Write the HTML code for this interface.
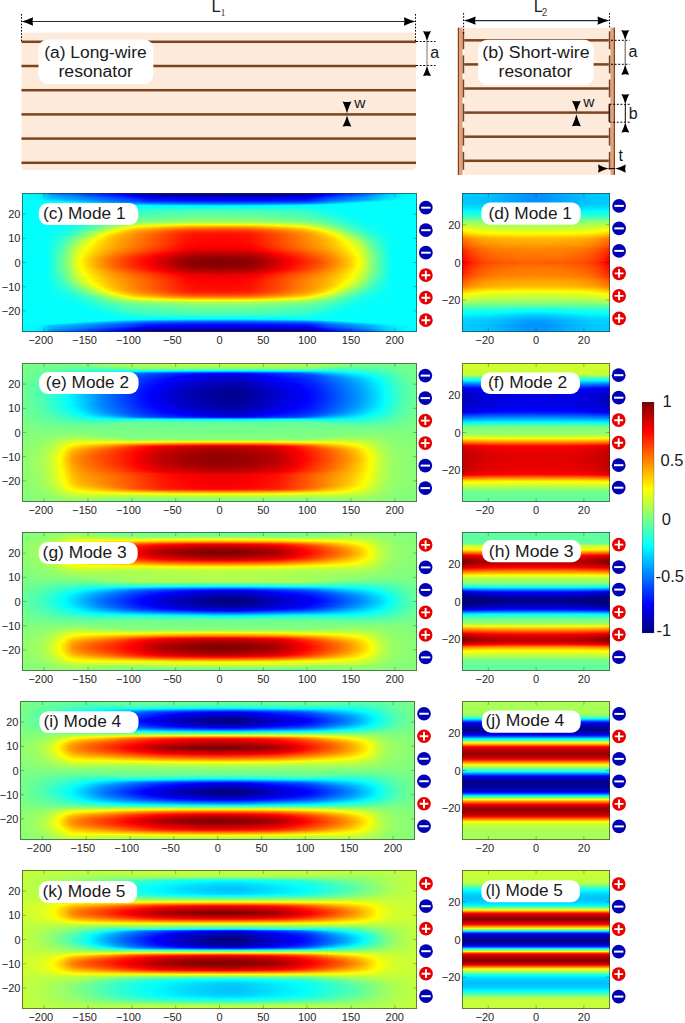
<!DOCTYPE html>
<html><head><meta charset="utf-8"><title>Resonator modes</title><style>
html,body{margin:0;padding:0;background:#fff}
body{width:685px;height:1023px;overflow:hidden;position:relative;font-family:"Liberation Sans",sans-serif}
.hm{position:absolute}
.hm i{display:block;height:1px}
svg.ov{position:absolute;left:0;top:0}
</style></head><body>

<div class="hm" style="left:22px;top:193px;width:395px;height:139px"><i style="background:linear-gradient(90deg,#00ffff 0,#00f6ff 12px,#00eaff 18px,#00d5ff 22px,#0099ff 28px,#0089ff 32px,#005bff 56px,#001fff 82px,#0000fd 100px,#0000dd 110px,#0000a9 124px,#00009b 132px,#00008b 178px,#00008d 242px,#00009d 284px,#0000ac 290px,#0000f6 304px,#0004ff 308px,#0058ff 338px,#0083ff 350px,#00cbff 366px,#00e6ff 376px,#00fdff 390px,#00ffff)"></i><i style="background:linear-gradient(90deg,#00ffff 0,#00f5ff 14px,#00ebff 18px,#00d6ff 22px,#009dff 28px,#008dff 32px,#005fff 56px,#0024ff 82px,#0000fc 102px,#0000ce 114px,#0000a9 126px,#00009f 134px,#000090 182px,#000094 244px,#0000a3 284px,#0000b2 290px,#0000fa 304px,#0008ff 308px,#005cff 338px,#0086ff 350px,#00cdff 366px,#00e9ff 376px,#00feff 390px,#00ffff)"></i><i style="background:linear-gradient(90deg,#00ffff 0,#00f5ff 14px,#00e9ff 20px,#00caff 24px,#00a8ff 28px,#0098ff 32px,#006fff 54px,#002fff 84px,#0005ff 104px,#0000fb 106px,#0000bc 124px,#0000b1 132px,#0000a0 180px,#0000a3 240px,#0000b4 284px,#0000c7 290px,#0001ff 302px,#0024ff 312px,#0072ff 342px,#009bff 352px,#00d3ff 366px,#00edff 378px,#00feff 392px,#00ffff)"></i><i style="background:linear-gradient(90deg,#00ffff 0,#00f5ff 16px,#00ecff 20px,#00b5ff 28px,#00a5ff 34px,#0082ff 54px,#0041ff 84px,#0017ff 104px,#0000ff 112px,#0000d4 126px,#0000ca 136px,#0000ba 184px,#0000bf 244px,#0000d1 286px,#0000e5 292px,#0000fe 296px,#0023ff 304px,#0086ff 342px,#00b5ff 356px,#00dcff 366px,#00faff 386px,#00ffff)"></i><i style="background:linear-gradient(90deg,#00ffff 0,#00f4ff 16px,#00eeff 20px,#00baff 28px,#00aaff 34px,#008cff 56px,#002eff 104px,#0000ff 120px,#0000ea 130px,#0000d8 176px,#0000d9 232px,#0000ec 284px,#0000f9 290px,#0007ff 292px,#0037ff 304px,#0080ff 334px,#00adff 352px,#00dfff 366px,#00faff 386px,#00ffff)"></i><i style="background:linear-gradient(90deg,#00ffff 0,#00f5ff 18px,#00e7ff 22px,#00bfff 28px,#00a3ff 46px,#005dff 88px,#003dff 106px,#0009ff 126px,#0000ff 138px,#0000f2 190px,#0000f9 254px,#0004ff 282px,#000dff 288px,#0049ff 304px,#009eff 344px,#00e3ff 366px,#00fbff 386px,#00ffff)"></i><i style="background:linear-gradient(90deg,#00ffff 0,#00f7ff 18px,#00e1ff 24px,#00cfff 30px,#006fff 80px,#0046ff 106px,#0014ff 126px,#0009ff 142px,#0000fe 192px,#0006ff 256px,#0011ff 286px,#0029ff 294px,#0051ff 304px,#009dff 340px,#00e7ff 364px,#00f9ff 380px,#00ffff)"></i><i style="background:linear-gradient(90deg,#00ffff 0,#00fbff 20px,#0075ff 86px,#004cff 108px,#0020ff 126px,#0015ff 142px,#000bff 196px,#0013ff 258px,#0020ff 286px,#003eff 296px,#0062ff 306px,#00bdff 344px,#00f2ff 364px,#00fdff 378px,#00ffff)"></i><i style="background:linear-gradient(90deg,#00ffff 0,#00fdff 36px,#00e6ff 46px,#00baff 64px,#005bff 110px,#0037ff 126px,#0025ff 162px,#0021ff 212px,#002fff 266px,#003cff 286px,#0059ff 296px,#007eff 306px,#00d5ff 342px,#00f9ff 356px,#00ffff 364px,#00ffff)"></i><i style="background:linear-gradient(90deg,#00ffff 0,#00fdff 50px,#00d7ff 66px,#00a9ff 86px,#005aff 128px,#0047ff 170px,#0044ff 218px,#0055ff 268px,#0062ff 286px,#0083ff 298px,#00a7ff 310px,#00fbff 344px,#01fffe 352px,#00ffff)"></i><i style="background:linear-gradient(90deg,#00ffff 0,#00fdff 66px,#00e8ff 78px,#00afff 102px,#0083ff 128px,#0070ff 172px,#006fff 220px,#0082ff 272px,#008eff 288px,#00b8ff 302px,#00f0ff 322px,#00ffff 332px,#00ffff)"></i><i style="background:linear-gradient(90deg,#00ffff 0,#00fdff 84px,#00c2ff 124px,#00a9ff 158px,#009fff 198px,#00a9ff 238px,#00c7ff 280px,#00d7ff 292px,#00faff 308px,#00ffff 320px,#00ffff)"></i><i style="background:linear-gradient(90deg,#00ffff 0,#00fcff 118px,#00e5ff 178px,#00e6ff 222px,#01fffe 290px,#00ffff)"></i><i style="background:linear-gradient(90deg,#00ffff 0,#03fffc 104px,#06fff9 118px,#00ffff 138px,#01fffe 268px,#05fffa 280px,#01fffe 358px,#00ffff)"></i><i style="background:linear-gradient(90deg,#00ffff 0,#03fffc 94px,#0afff5 110px,#0efff1 118px,#09fff6 138px,#09fff6 268px,#0cfff3 280px,#03fffc 302px,#00ffff)"></i><i style="background:linear-gradient(90deg,#00ffff 0,#03fffc 86px,#0efff1 108px,#18ffe7 120px,#1effe1 214px,#16ffe9 280px,#07fff8 298px,#00ffff 334px,#00ffff)"></i><i style="background:linear-gradient(90deg,#00ffff 0,#03fffc 82px,#11ffee 102px,#26ffd9 120px,#33ffcc 180px,#2fffd0 246px,#23ffdc 280px,#0cfff3 298px,#01fffe 324px,#00ffff)"></i><i style="background:linear-gradient(90deg,#00ffff 0,#04fffb 78px,#11ffee 96px,#28ffd7 112px,#33ffcc 122px,#42ffbd 174px,#3fffc0 240px,#2fffd0 278px,#0cfff3 302px,#01fffe 326px,#00ffff)"></i><i style="background:linear-gradient(90deg,#00ffff 0,#03fffc 74px,#12ffed 92px,#37ffc8 116px,#4bffb4 170px,#48ffb7 238px,#35ffca 282px,#0dfff2 306px,#01fffe 326px,#00ffff)"></i><i style="background:linear-gradient(90deg,#00ffff 0,#04fffb 72px,#14ffeb 90px,#3dffc2 114px,#52ffad 174px,#4fffb0 236px,#3bffc4 282px,#0dfff2 310px,#02fffd 328px,#00ffff)"></i><i style="background:linear-gradient(90deg,#00ffff 0,#04fffb 70px,#12ffed 84px,#3fffc0 112px,#58ffa7 168px,#56ffa9 234px,#3fffc0 284px,#1affe5 306px,#05fffa 322px,#01fffe 354px,#00ffff)"></i><i style="background:linear-gradient(90deg,#00ffff 0,#04fffb 66px,#10ffef 80px,#42ffbd 108px,#50ffaf 134px,#5effa1 176px,#5bffa4 236px,#44ffbb 284px,#29ffd6 302px,#09fff6 320px,#01fffe 342px,#00ffff)"></i><i style="background:linear-gradient(90deg,#00ffff 0,#04fffb 64px,#12ffed 78px,#41ffbe 104px,#4fffb0 120px,#64ff9b 174px,#61ff9e 234px,#48ffb7 286px,#2effd1 302px,#0cfff3 322px,#02fffd 338px,#00ffff)"></i><i style="background:linear-gradient(90deg,#00ffff 0,#04fffb 60px,#10ffef 74px,#42ffbd 100px,#54ffab 118px,#6aff95 174px,#68ff97 234px,#4effb1 284px,#35ffca 302px,#0bfff4 324px,#01fffe 342px,#00ffff)"></i><i style="background:linear-gradient(90deg,#00ffff 0,#04fffb 60px,#11ffee 72px,#45ffba 98px,#5affa5 118px,#72ff8d 174px,#70ff8f 232px,#54ffab 284px,#39ffc6 304px,#0efff1 324px,#03fffc 338px,#00ffff)"></i><i style="background:linear-gradient(90deg,#00ffff 0,#04fffb 56px,#10ffef 70px,#49ffb6 96px,#61ff9e 118px,#7bff84 172px,#79ff86 232px,#5affa5 284px,#3effc1 304px,#0efff1 326px,#02fffd 344px,#00ffff)"></i><i style="background:linear-gradient(90deg,#00ffff 0,#05fffa 54px,#12ffed 68px,#4cffb3 94px,#69ff96 118px,#85ff7a 172px,#82ff7d 232px,#62ff9d 284px,#45ffba 304px,#12ffed 326px,#04fffb 342px,#00ffff)"></i><i style="background:linear-gradient(90deg,#00ffff 0,#04fffb 52px,#11ffee 66px,#30ffcf 78px,#54ffab 94px,#72ff8d 116px,#90ff6f 172px,#8eff71 230px,#6eff91 282px,#51ffae 302px,#30ffcf 316px,#11ffee 330px,#04fffb 344px,#00ffff)"></i><i style="background:linear-gradient(90deg,#00ffff 0,#04fffb 48px,#11ffee 62px,#2bffd4 74px,#4fffb0 88px,#68ff97 100px,#6eff91 104px,#7aff85 112px,#7dff82 116px,#80ff7f 118px,#80ff7f 122px,#9dff62 172px,#9cff63 228px,#7eff81 276px,#7eff81 278px,#78ff87 282px,#75ff8a 286px,#67ff98 294px,#63ff9c 296px,#49ffb6 310px,#16ffe9 330px,#05fffa 344px,#00ffff 390px,#00ffff)"></i><i style="background:linear-gradient(90deg,#00ffff 0,#04fffb 46px,#12ffed 60px,#29ffd6 72px,#4effb1 84px,#6dff92 96px,#72ff8d 100px,#7bff84 104px,#85ff7a 110px,#8aff75 112px,#8aff75 114px,#92ff6d 118px,#90ff6f 120px,#94ff6b 126px,#92ff6d 128px,#afff50 170px,#aeff51 226px,#91ff6e 268px,#93ff6c 270px,#8fff70 276px,#91ff6e 278px,#88ff77 282px,#87ff78 284px,#7cff83 288px,#7bff84 290px,#73ff8c 294px,#72ff8d 296px,#4bffb4 312px,#1bffe4 330px,#08fff7 344px,#00ffff 372px,#00ffff)"></i><i style="background:linear-gradient(90deg,#00ffff 0,#04fffb 42px,#11ffee 58px,#27ffd8 68px,#57ffa8 84px,#6dff92 92px,#74ff8b 94px,#7bff84 96px,#7dff82 98px,#84ff7b 100px,#85ff7a 102px,#8fff70 106px,#92ff6d 108px,#9eff61 112px,#a3ff5c 114px,#aaff55 118px,#aaff55 122px,#d0ff2f 170px,#d0ff2f 224px,#b6ff49 258px,#a7ff58 276px,#a9ff56 278px,#9dff62 282px,#9bff64 284px,#8eff71 288px,#8cff73 290px,#82ff7d 294px,#80ff7f 296px,#7aff85 298px,#77ff88 300px,#6dff92 302px,#66ff99 306px,#47ffb8 316px,#1dffe2 330px,#09fff6 344px,#00ffff 372px,#00ffff)"></i><i style="background:linear-gradient(90deg,#00ffff 0,#04fffb 40px,#13ffec 56px,#2effd1 68px,#62ff9d 84px,#77ff88 90px,#8bff74 96px,#8eff71 98px,#96ff69 100px,#99ff66 102px,#a4ff5b 106px,#acff53 108px,#c3ff3c 116px,#faff05 166px,#feff01 210px,#f7ff08 232px,#c0ff3f 280px,#acff53 286px,#95ff6a 294px,#92ff6d 296px,#8bff74 298px,#87ff78 300px,#7bff84 302px,#77ff88 304px,#51ffae 316px,#23ffdc 330px,#0bfff4 344px,#00ffff 368px,#00ffff)"></i><i style="background:linear-gradient(90deg,#00ffff 0,#04fffb 38px,#12ffed 54px,#2dffd2 66px,#5bffa4 78px,#7dff82 88px,#87ff78 90px,#aaff55 100px,#b7ff48 104px,#deff21 116px,#fffd00 140px,#ffdc00 168px,#ffd900 212px,#ffe000 232px,#fcff03 258px,#dbff24 280px,#abff54 294px,#95ff6a 300px,#7eff81 306px,#74ff8b 310px,#5bffa4 316px,#2affd5 330px,#0efff1 344px,#01fffe 364px,#00ffff)"></i><i style="background:linear-gradient(90deg,#00ffff 0,#04fffb 36px,#11ffee 50px,#2bffd4 62px,#4effb1 72px,#7dff82 84px,#88ff77 86px,#f8ff07 114px,#fffd00 118px,#ffbd00 160px,#ffb300 176px,#ffb300 218px,#ffbc00 234px,#fffb00 276px,#faff05 280px,#c8ff37 292px,#73ff8c 314px,#35ffca 330px,#16ffe9 342px,#06fff9 356px,#00ffff 380px,#00ffff)"></i><i style="background:linear-gradient(90deg,#00ffff 0,#03fffc 34px,#11ffee 48px,#2affd5 60px,#4cffb3 70px,#7aff85 80px,#fffe00 110px,#ffe600 116px,#ffa200 156px,#ff9000 170px,#ff8d00 212px,#ff9500 230px,#ffcc00 264px,#ffec00 280px,#fffe00 286px,#a6ff59 306px,#74ff8b 316px,#41ffbe 328px,#1dffe2 340px,#0afff5 352px,#00ffff 374px,#00ffff)"></i><i style="background:linear-gradient(90deg,#00ffff 0,#03fffc 32px,#13ffec 48px,#2bffd4 58px,#4bffb4 66px,#73ff8c 76px,#fdff02 104px,#ffd400 114px,#ff9600 146px,#ff7400 168px,#ff6d00 202px,#ff7500 228px,#ffa600 258px,#ffd400 280px,#fdff02 292px,#82ff7d 316px,#52ffad 326px,#28ffd7 338px,#0efff1 350px,#00ffff 370px,#00ffff)"></i><i style="background:linear-gradient(90deg,#00ffff 0,#03fffc 30px,#13ffec 46px,#2fffd0 56px,#55ffaa 66px,#81ff7e 76px,#fdff02 98px,#ffe200 106px,#ffbf00 114px,#ff7700 148px,#ff5800 168px,#ff5100 202px,#ff5900 228px,#ff8a00 256px,#ffc200 282px,#fff300 294px,#fdff02 296px,#81ff7e 320px,#4bffb4 330px,#1dffe2 344px,#0afff5 356px,#00ffff 374px,#00ffff)"></i><i style="background:linear-gradient(90deg,#00ffff 0,#03fffc 30px,#17ffe8 46px,#2fffd0 54px,#60ff9f 66px,#90ff6f 76px,#fcff03 94px,#ffe500 100px,#ffbf00 110px,#ffa700 118px,#ff5700 156px,#ff4200 170px,#ff3d00 206px,#ff4500 228px,#ff7600 256px,#ffb400 282px,#ffdf00 294px,#fffd00 300px,#dcff23 306px,#69ff96 326px,#36ffc9 338px,#17ffe8 350px,#03fffc 366px,#00ffff)"></i><i style="background:linear-gradient(90deg,#00ffff 0,#03fffc 28px,#18ffe7 44px,#37ffc8 54px,#6cff93 66px,#acff53 78px,#feff01 92px,#ffca00 102px,#ffa000 114px,#ff4600 156px,#ff3200 170px,#ff2d00 206px,#ff3500 228px,#ff6600 254px,#ffa600 282px,#ffce00 294px,#feff01 304px,#a6ff59 318px,#6cff93 328px,#33ffcc 342px,#18ffe7 350px,#03fffc 366px,#00ffff)"></i><i style="background:linear-gradient(90deg,#00ffff 0,#02fffd 28px,#18ffe7 42px,#33ffcc 52px,#6dff92 64px,#b6ff49 76px,#fffe00 88px,#ffc900 100px,#ffa400 110px,#ff7400 130px,#ff3100 160px,#ff2300 172px,#ff2000 208px,#ff2800 228px,#ff5700 254px,#ffa100 284px,#ffc000 294px,#fff900 306px,#fffe00 306px,#a3ff5c 322px,#6dff92 330px,#2fffd0 344px,#14ffeb 354px,#00ffff 370px,#00ffff)"></i><i style="background:linear-gradient(90deg,#00ffff 0,#03fffc 28px,#19ffe6 42px,#35ffca 50px,#80ff7f 66px,#feff01 86px,#ffce00 96px,#ffab00 104px,#ff8700 118px,#ff2e00 156px,#ff1a00 170px,#ff1400 204px,#ff1d00 228px,#ff4e00 254px,#ffa100 288px,#ffc400 298px,#ffef00 306px,#feff01 310px,#7aff85 330px,#35ffca 344px,#17ffe8 354px,#01fffe 370px,#00ffff)"></i><i style="background:linear-gradient(90deg,#00ffff 0,#02fffd 26px,#1dffe2 42px,#3dffc2 50px,#8dff72 66px,#ffff00 84px,#ffd900 90px,#ffac00 102px,#ff8100 118px,#ff2600 158px,#ff1300 170px,#ff0e00 206px,#ff1700 228px,#ff4600 252px,#ff9d00 288px,#ffcf00 302px,#ffff00 312px,#b9ff46 322px,#6bff94 336px,#30ffcf 348px,#14ffeb 358px,#01fffe 370px,#00ffff)"></i><i style="background:linear-gradient(90deg,#00ffff 0,#03fffc 26px,#1effe1 40px,#3bffc4 48px,#8eff71 64px,#faff05 80px,#fff700 82px,#ffcf00 90px,#ffa300 102px,#ff6e00 124px,#ff2000 160px,#ff1000 172px,#ff0b00 208px,#ff1400 228px,#ff4400 252px,#ffa100 292px,#ffc600 302px,#fffc00 314px,#d5ff2a 320px,#76ff89 336px,#36ffc9 348px,#16ffe9 358px,#01fffe 370px,#00ffff)"></i><i style="background:linear-gradient(90deg,#00ffff 0,#03fffc 26px,#22ffdd 40px,#42ffbd 48px,#baff45 68px,#fbff04 78px,#fff800 80px,#ffd900 86px,#ffb500 96px,#ff8b00 110px,#ff1a00 162px,#ff0d00 174px,#ff0a00 208px,#ff1200 228px,#ff4200 252px,#ffa200 294px,#ffcf00 306px,#fffd00 316px,#e2ff1d 320px,#5effa1 342px,#30ffcf 350px,#10ffef 362px,#00ffff 372px,#00ffff)"></i><i style="background:linear-gradient(90deg,#00ffff 0,#02fffd 26px,#20ffdf 38px,#44ffbb 48px,#fffe00 78px,#ffd100 86px,#ffaa00 98px,#ff7800 118px,#ff1900 162px,#ff0c00 174px,#ff0800 208px,#ff1100 228px,#ff4000 252px,#ff8500 282px,#ffb000 300px,#ffd900 310px,#fffe00 318px,#44ffbb 348px,#20ffdf 356px,#02fffd 370px,#00ffff)"></i><i style="background:linear-gradient(90deg,#00ffff 0,#02fffd 26px,#20ffdf 38px,#45ffba 46px,#feff01 76px,#ffcb00 86px,#ffa200 100px,#ff1700 162px,#ff0b00 174px,#ff0700 208px,#ff1000 228px,#ff3f00 252px,#ff8400 282px,#ffb300 302px,#ffe100 314px,#feff01 320px,#45ffba 348px,#20ffdf 358px,#02fffd 370px,#00ffff)"></i><i style="background:linear-gradient(90deg,#00ffff 0,#03fffc 26px,#23ffdc 38px,#4bffb4 46px,#e3ff1c 70px,#fffd00 74px,#ffca00 86px,#ff9d00 100px,#ff4a00 138px,#ff1000 166px,#ff0700 182px,#ff0800 216px,#ff1000 230px,#ff4a00 258px,#ff8300 282px,#ffb000 302px,#ffdb00 314px,#fffd00 320px,#b7ff48 332px,#46ffb9 350px,#20ffdf 358px,#03fffc 370px,#00ffff)"></i><i style="background:linear-gradient(90deg,#00ffff 0,#03fffc 26px,#23ffdc 36px,#4cffb3 46px,#d4ff2b 66px,#fdff02 72px,#ffc700 86px,#ff9c00 100px,#ff4c00 136px,#ff1100 164px,#ff0700 178px,#ff0600 212px,#ff0e00 228px,#ff3e00 252px,#ff8200 282px,#ffb300 304px,#ffde00 316px,#fdff02 322px,#adff52 336px,#4cffb3 350px,#23ffdc 358px,#03fffc 370px,#00ffff)"></i><i style="background:linear-gradient(90deg,#00ffff 0,#02fffd 24px,#18ffe7 32px,#41ffbe 42px,#6dff92 50px,#bdff42 60px,#ffff00 72px,#ffce00 82px,#ffa400 96px,#ff4b00 136px,#ff0f00 164px,#ff0600 178px,#ff0500 212px,#ff0d00 228px,#ff3d00 252px,#ff8100 282px,#ffb100 304px,#ffde00 316px,#ffff00 324px,#b6ff49 336px,#52ffad 350px,#26ffd9 358px,#05fffa 368px,#00ffff 376px,#00ffff)"></i><i style="background:linear-gradient(90deg,#00ffff 0,#02fffd 24px,#1affe5 32px,#41ffbe 42px,#6cff93 48px,#bfff40 60px,#ffff00 70px,#ffcf00 82px,#ffa300 96px,#ff4c00 136px,#ff0e00 164px,#ff0500 178px,#ff0300 212px,#ff0b00 228px,#ff3b00 252px,#ff7e00 282px,#ffb300 304px,#ffde00 318px,#ffff00 324px,#bfff40 336px,#51ffae 350px,#25ffda 360px,#03fffc 370px,#00ffff 380px,#00ffff)"></i><i style="background:linear-gradient(90deg,#00ffff 0,#02fffd 24px,#17ffe8 32px,#45ffba 42px,#72ff8d 48px,#bfff40 58px,#fbff04 68px,#fff900 70px,#ffcd00 82px,#ffa100 96px,#ff4a00 136px,#ff0c00 164px,#ff0200 178px,#ff0200 218px,#ff0c00 230px,#ff5200 262px,#ffa900 302px,#ffcf00 314px,#fffe00 326px,#c6ff39 336px,#82ff7d 344px,#50ffaf 352px,#24ffdb 360px,#04fffb 370px,#00ffff 378px,#00ffff)"></i><i style="background:linear-gradient(90deg,#00ffff 0,#02fffd 24px,#19ffe6 32px,#49ffb6 42px,#78ff87 48px,#c6ff39 58px,#ffff00 68px,#ffcc00 80px,#ff9f00 96px,#ff4800 136px,#ff0900 164px,#ff0000 178px,#fd0000 212px,#ff0500 228px,#ff2600 244px,#ff7d00 282px,#ffaf00 304px,#ffdb00 318px,#ffff00 326px,#c6ff39 336px,#5bffa4 350px,#2affd5 360px,#06fff9 368px,#00ffff 374px,#00ffff)"></i><i style="background:linear-gradient(90deg,#00ffff 0,#02fffd 24px,#1bffe4 32px,#4dffb2 42px,#7dff82 48px,#c6ff39 58px,#ffff00 68px,#ffd200 78px,#ffaa00 92px,#ff4100 138px,#ff0600 164px,#fd0000 174px,#fa0000 208px,#ff0200 228px,#ff2300 244px,#ff7a00 282px,#ffad00 304px,#ffd800 318px,#ffff00 328px,#c6ff39 338px,#60ff9f 350px,#2dffd2 360px,#07fff8 368px,#00ffff 374px,#00ffff)"></i><i style="background:linear-gradient(90deg,#00ffff 0,#02fffd 24px,#17ffe8 30px,#50ffaf 42px,#82ff7d 48px,#cbff34 58px,#feff01 66px,#ffd300 78px,#ffa700 92px,#ff4000 136px,#ff0300 164px,#f70000 182px,#f80000 216px,#ff0300 230px,#ff4700 262px,#ffa300 302px,#ffcb00 316px,#fffb00 328px,#f9ff06 330px,#c4ff3b 338px,#64ff9b 350px,#2fffd0 360px,#07fff8 368px,#00ffff 374px,#00ffff)"></i><i style="background:linear-gradient(90deg,#00ffff 0,#02fffd 24px,#18ffe7 30px,#53ffac 42px,#87ff78 48px,#d0ff2f 58px,#fdff02 66px,#ffd200 76px,#ffa400 92px,#ff3d00 136px,#ff0000 164px,#f50000 176px,#f20000 210px,#fb0000 228px,#ff0400 234px,#ff4c00 264px,#ffa000 302px,#ffc800 316px,#fff700 328px,#fdff02 330px,#c9ff36 338px,#67ff98 350px,#31ffce 360px,#08fff7 368px,#00ffff 374px,#00ffff)"></i><i style="background:linear-gradient(90deg,#00ffff 0,#02fffd 24px,#1affe5 30px,#56ffa9 42px,#8bff74 48px,#d5ff2a 58px,#fcff03 64px,#ffef00 68px,#ffc100 80px,#ff8a00 100px,#ff4200 132px,#fe0000 162px,#f10000 172px,#ed0000 206px,#f60000 228px,#ff0300 236px,#ff5000 268px,#ff9900 300px,#ffc500 316px,#fff300 328px,#fcff03 330px,#ceff31 338px,#64ff9b 352px,#33ffcc 360px,#08fff7 368px,#00ffff 374px,#00ffff)"></i><i style="background:linear-gradient(90deg,#00ffff 0,#03fffc 24px,#1bffe4 30px,#59ffa6 42px,#8eff71 48px,#d2ff2d 56px,#fbff04 64px,#fff900 66px,#ffcb00 76px,#ff9c00 92px,#ff5d00 118px,#ff3b00 134px,#fd0000 160px,#ec0000 172px,#e70000 206px,#f00000 228px,#ff0200 238px,#ff5d00 276px,#ff8b00 296px,#ffae00 310px,#ffd600 322px,#ffff00 330px,#d9ff26 338px,#97ff68 346px,#60ff9f 352px,#2bffd4 362px,#08fff7 368px,#00ffff 374px,#00ffff)"></i><i style="background:linear-gradient(90deg,#00ffff 0,#03fffc 24px,#1bffe4 30px,#5cffa3 42px,#92ff6d 48px,#d6ff29 56px,#ffff00 64px,#ffd200 74px,#ffa300 88px,#ff7400 106px,#ff3a00 132px,#fe0000 156px,#e70000 168px,#df0000 200px,#e80000 228px,#ff0200 240px,#ff5600 276px,#ff7c00 292px,#ff9e00 306px,#ffc100 316px,#fff100 328px,#ffff00 332px,#d6ff29 338px,#6aff95 352px,#37ffc8 360px,#09fff6 368px,#00ffff 372px,#00ffff)"></i><i style="background:linear-gradient(90deg,#00ffff 0,#03fffc 24px,#1cffe3 30px,#5effa1 42px,#95ff6a 48px,#d9ff26 56px,#fdff02 62px,#ffc300 76px,#ff9200 92px,#ff4f00 118px,#ff2000 138px,#fd0000 152px,#dc0000 168px,#d30000 196px,#db0000 226px,#f60000 240px,#ff0300 246px,#ff4f00 276px,#ff8d00 302px,#ffb800 316px,#ffed00 328px,#fdff02 332px,#d2ff2d 340px,#6cff93 352px,#38ffc7 360px,#09fff6 368px,#00ffff 372px,#00ffff)"></i><i style="background:linear-gradient(90deg,#00ffff 0,#01fffe 24px,#12ffed 28px,#59ffa6 40px,#98ff67 48px,#ddff22 56px,#fcff03 62px,#fff400 64px,#ffca00 74px,#ff8c00 92px,#ff4600 118px,#ff0000 146px,#d20000 166px,#c80000 180px,#c70000 212px,#d00000 228px,#f80000 246px,#ff0200 250px,#ff5500 282px,#ff8f00 304px,#ffc300 320px,#ffee00 330px,#fffd00 332px,#e4ff1b 338px,#aaff55 344px,#67ff98 352px,#2fffd0 362px,#09fff6 368px,#00ffff 372px,#00ffff)"></i><i style="background:linear-gradient(90deg,#00ffff 0,#01fffe 24px,#13ffec 28px,#5bffa4 40px,#9aff65 48px,#e0ff1f 56px,#fffe00 62px,#ffc600 74px,#ff8600 92px,#ff3d00 118px,#fd0000 142px,#c50000 166px,#bc0000 178px,#ba0000 210px,#c30000 228px,#ec0000 246px,#ff0100 254px,#ff4c00 282px,#ff8d00 306px,#ffbe00 320px,#ffea00 330px,#fffe00 334px,#d9ff26 340px,#71ff8e 352px,#3bffc4 360px,#09fff6 368px,#00ffff 372px,#00ffff)"></i><i style="background:linear-gradient(90deg,#00ffff 0,#01fffe 24px,#13ffec 28px,#5cffa3 40px,#94ff6b 48px,#e4ff1b 56px,#fdff02 60px,#ffc100 74px,#ff7f00 92px,#ff3400 118px,#ff0000 138px,#bc0000 164px,#b20000 176px,#af0000 208px,#b80000 228px,#d80000 242px,#ff0000 258px,#ff7600 300px,#ffae00 316px,#ffe100 328px,#fdff02 334px,#d4ff2b 340px,#73ff8c 352px,#3cffc3 360px,#0afff5 368px,#00ffff 372px,#00ffff)"></i><i style="background:linear-gradient(90deg,#00ffff 0,#01fffe 24px,#13ffec 28px,#5effa1 40px,#96ff69 48px,#e7ff18 56px,#fffd00 60px,#ffc600 72px,#ff8700 88px,#ff3e00 112px,#ff0000 134px,#b40000 164px,#a90000 174px,#a50000 206px,#ae0000 228px,#cc0000 242px,#ff0000 260px,#ff7000 300px,#ffb000 318px,#ffed00 332px,#fffd00 334px,#dfff20 340px,#74ff8b 352px,#3dffc2 360px,#0afff5 368px,#00ffff 372px,#00ffff)"></i><i style="background:linear-gradient(90deg,#00ffff 0,#01fffe 24px,#14ffeb 28px,#5fffa0 40px,#98ff67 48px,#eaff15 56px,#fdff02 60px,#ffbd00 72px,#ff7700 90px,#ff3000 114px,#fe0000 132px,#b00000 162px,#a10000 172px,#9b0000 204px,#a50000 228px,#c40000 242px,#ff0200 264px,#ff6700 300px,#ffa400 316px,#ffdf00 330px,#fdff02 336px,#d9ff26 340px,#76ff89 352px,#3effc1 360px,#0afff5 368px,#00ffff 372px,#00ffff)"></i><i style="background:linear-gradient(90deg,#00ffff 0,#01fffe 24px,#14ffeb 28px,#60ff9f 40px,#99ff66 48px,#ecff13 56px,#fffe00 60px,#ffc200 70px,#ff7900 88px,#ff3500 110px,#fe0000 130px,#b00000 158px,#9c0000 170px,#940000 200px,#9d0000 226px,#b80000 240px,#ff0200 266px,#ff6100 300px,#ffa000 316px,#ffdb00 330px,#fffe00 336px,#e5ff1a 340px,#77ff88 352px,#3fffc0 360px,#0afff5 368px,#00ffff 372px,#00ffff)"></i><i style="background:linear-gradient(90deg,#00ffff 0,#01fffe 24px,#14ffeb 28px,#61ff9e 40px,#9bff64 48px,#efff10 56px,#fdff02 58px,#ffb600 72px,#ff6d00 90px,#ff2b00 112px,#ff0000 128px,#ad0000 158px,#960000 170px,#8e0000 200px,#970000 226px,#b20000 240px,#ff0000 266px,#ff5900 298px,#ff9c00 316px,#ffd800 330px,#fdff02 336px,#ccff33 342px,#80ff7f 350px,#3fffc0 360px,#0afff5 368px,#00ffff 372px,#00ffff)"></i><i style="background:linear-gradient(90deg,#00ffff 0,#01fffe 24px,#14ffeb 28px,#62ff9d 40px,#9cff63 48px,#f0ff0f 56px,#ffff00 58px,#ffbc00 70px,#ff7100 88px,#ff2c00 110px,#fe0000 128px,#ae0000 156px,#920000 168px,#890000 198px,#920000 226px,#ae0000 240px,#ff0200 268px,#ff5600 298px,#ff9400 316px,#ffd600 330px,#ffff00 336px,#d7ff28 342px,#81ff7e 350px,#40ffbf 360px,#0afff5 368px,#00ffff 372px,#00ffff)"></i><i style="background:linear-gradient(90deg,#00ffff 0,#01fffe 24px,#15ffea 28px,#63ff9c 40px,#9dff62 48px,#f2ff0d 56px,#fffe00 58px,#ffba00 70px,#ff6f00 88px,#ff2a00 110px,#fe0000 126px,#ac0000 154px,#8f0000 168px,#850000 192px,#8c0000 224px,#9f0000 236px,#ee0000 264px,#ff0100 270px,#ff5300 298px,#ff9200 316px,#ffd400 330px,#fffe00 336px,#e1ff1e 340px,#82ff7d 350px,#40ffbf 360px,#0afff5 368px,#00ffff 372px,#00ffff)"></i><i style="background:linear-gradient(90deg,#00ffff 0,#01fffe 24px,#0ffff0 28px,#63ff9c 40px,#9eff61 48px,#f3ff0c 56px,#fffd00 58px,#ffbe00 70px,#ff7100 88px,#ff2a00 110px,#fe0000 126px,#a70000 156px,#8b0000 168px,#810000 198px,#8b0000 226px,#a70000 240px,#f50000 266px,#ff0200 270px,#ff5500 300px,#ff9500 316px,#ffd800 330px,#fffd00 336px,#ebff14 340px,#7aff85 352px,#41ffbe 360px,#0afff5 368px,#00ffff 372px,#00ffff)"></i><i style="background:linear-gradient(90deg,#00ffff 0,#01fffe 24px,#0ffff0 28px,#63ff9c 40px,#9eff61 48px,#f3ff0c 56px,#fffd00 58px,#ffbe00 70px,#ff7000 88px,#ff2a00 110px,#fd0000 126px,#ad0000 152px,#8c0000 166px,#820000 182px,#820000 212px,#8c0000 228px,#b30000 244px,#ff0100 270px,#ff5400 300px,#ff9400 316px,#ffd800 330px,#fffd00 336px,#ebff14 340px,#7bff84 352px,#41ffbe 360px,#0afff5 368px,#00ffff 372px,#00ffff)"></i><i style="background:linear-gradient(90deg,#00ffff 0,#01fffe 24px,#0ffff0 28px,#63ff9c 40px,#9eff61 48px,#f3ff0c 56px,#fffd00 58px,#ffbe00 70px,#ff7100 88px,#ff2a00 110px,#fe0000 126px,#a70000 156px,#8b0000 168px,#810000 198px,#8b0000 226px,#a70000 240px,#f50000 266px,#ff0200 270px,#ff5500 300px,#ff9500 316px,#ffd800 330px,#fffd00 336px,#ebff14 340px,#7aff85 352px,#41ffbe 360px,#0afff5 368px,#00ffff 372px,#00ffff)"></i><i style="background:linear-gradient(90deg,#00ffff 0,#01fffe 24px,#15ffea 28px,#63ff9c 40px,#9dff62 48px,#f2ff0d 56px,#fffe00 58px,#ffba00 70px,#ff6f00 88px,#ff2a00 110px,#fe0000 126px,#ac0000 154px,#8f0000 168px,#850000 192px,#8c0000 224px,#9f0000 236px,#ee0000 264px,#ff0100 270px,#ff5300 298px,#ff9200 316px,#ffd400 330px,#fffe00 336px,#e1ff1e 340px,#82ff7d 350px,#40ffbf 360px,#0afff5 368px,#00ffff 372px,#00ffff)"></i><i style="background:linear-gradient(90deg,#00ffff 0,#01fffe 24px,#14ffeb 28px,#62ff9d 40px,#9cff63 48px,#f0ff0f 56px,#ffff00 58px,#ffbc00 70px,#ff7100 88px,#ff2c00 110px,#fe0000 128px,#ae0000 156px,#920000 168px,#890000 198px,#920000 226px,#ae0000 240px,#ff0200 268px,#ff5600 298px,#ff9400 316px,#ffd600 330px,#ffff00 336px,#d7ff28 342px,#81ff7e 350px,#40ffbf 360px,#0afff5 368px,#00ffff 372px,#00ffff)"></i><i style="background:linear-gradient(90deg,#00ffff 0,#01fffe 24px,#14ffeb 28px,#61ff9e 40px,#9bff64 48px,#efff10 56px,#fdff02 58px,#ffb600 72px,#ff6d00 90px,#ff2b00 112px,#ff0000 128px,#ad0000 158px,#960000 170px,#8e0000 200px,#970000 226px,#b20000 240px,#ff0000 266px,#ff5900 298px,#ff9c00 316px,#ffd800 330px,#fdff02 336px,#ccff33 342px,#80ff7f 350px,#3fffc0 360px,#0afff5 368px,#00ffff 372px,#00ffff)"></i><i style="background:linear-gradient(90deg,#00ffff 0,#01fffe 24px,#14ffeb 28px,#60ff9f 40px,#99ff66 48px,#ecff13 56px,#fffe00 60px,#ffc200 70px,#ff7900 88px,#ff3500 110px,#fe0000 130px,#b00000 158px,#9c0000 170px,#940000 200px,#9d0000 226px,#b80000 240px,#ff0200 266px,#ff6100 300px,#ffa000 316px,#ffdb00 330px,#fffe00 336px,#e5ff1a 340px,#77ff88 352px,#3fffc0 360px,#0afff5 368px,#00ffff 372px,#00ffff)"></i><i style="background:linear-gradient(90deg,#00ffff 0,#01fffe 24px,#14ffeb 28px,#5fffa0 40px,#98ff67 48px,#eaff15 56px,#fdff02 60px,#ffbd00 72px,#ff7700 90px,#ff3000 114px,#fe0000 132px,#b00000 162px,#a10000 172px,#9b0000 204px,#a50000 228px,#c40000 242px,#ff0200 264px,#ff6700 300px,#ffa400 316px,#ffdf00 330px,#fdff02 336px,#d9ff26 340px,#76ff89 352px,#3effc1 360px,#0afff5 368px,#00ffff 372px,#00ffff)"></i><i style="background:linear-gradient(90deg,#00ffff 0,#01fffe 24px,#13ffec 28px,#5effa1 40px,#96ff69 48px,#e7ff18 56px,#fffd00 60px,#ffc600 72px,#ff8700 88px,#ff3e00 112px,#ff0000 134px,#b40000 164px,#a90000 174px,#a50000 206px,#ae0000 228px,#cc0000 242px,#ff0000 260px,#ff7000 300px,#ffb000 318px,#ffed00 332px,#fffd00 334px,#dfff20 340px,#74ff8b 352px,#3dffc2 360px,#0afff5 368px,#00ffff 372px,#00ffff)"></i><i style="background:linear-gradient(90deg,#00ffff 0,#01fffe 24px,#13ffec 28px,#5cffa3 40px,#94ff6b 48px,#e4ff1b 56px,#fdff02 60px,#ffc100 74px,#ff7f00 92px,#ff3400 118px,#ff0000 138px,#bc0000 164px,#b20000 176px,#af0000 208px,#b80000 228px,#d80000 242px,#ff0000 258px,#ff7600 300px,#ffae00 316px,#ffe100 328px,#fdff02 334px,#d4ff2b 340px,#73ff8c 352px,#3cffc3 360px,#0afff5 368px,#00ffff 372px,#00ffff)"></i><i style="background:linear-gradient(90deg,#00ffff 0,#01fffe 24px,#13ffec 28px,#5bffa4 40px,#9aff65 48px,#e0ff1f 56px,#fffe00 62px,#ffc600 74px,#ff8600 92px,#ff3d00 118px,#fd0000 142px,#c50000 166px,#bc0000 178px,#ba0000 210px,#c30000 228px,#ec0000 246px,#ff0100 254px,#ff4c00 282px,#ff8d00 306px,#ffbe00 320px,#ffea00 330px,#fffe00 334px,#d9ff26 340px,#71ff8e 352px,#3bffc4 360px,#09fff6 368px,#00ffff 372px,#00ffff)"></i><i style="background:linear-gradient(90deg,#00ffff 0,#01fffe 24px,#12ffed 28px,#59ffa6 40px,#98ff67 48px,#ddff22 56px,#fcff03 62px,#fff400 64px,#ffca00 74px,#ff8c00 92px,#ff4600 118px,#ff0000 146px,#d20000 166px,#c80000 180px,#c70000 212px,#d00000 228px,#f80000 246px,#ff0200 250px,#ff5500 282px,#ff8f00 304px,#ffc300 320px,#ffee00 330px,#fffd00 332px,#e4ff1b 338px,#aaff55 344px,#67ff98 352px,#2fffd0 362px,#09fff6 368px,#00ffff 372px,#00ffff)"></i><i style="background:linear-gradient(90deg,#00ffff 0,#03fffc 24px,#1cffe3 30px,#5effa1 42px,#95ff6a 48px,#d9ff26 56px,#fdff02 62px,#ffc300 76px,#ff9200 92px,#ff4f00 118px,#ff2000 138px,#fd0000 152px,#dc0000 168px,#d30000 196px,#db0000 226px,#f60000 240px,#ff0300 246px,#ff4f00 276px,#ff8d00 302px,#ffb800 316px,#ffed00 328px,#fdff02 332px,#d2ff2d 340px,#6cff93 352px,#38ffc7 360px,#09fff6 368px,#00ffff 372px,#00ffff)"></i><i style="background:linear-gradient(90deg,#00ffff 0,#03fffc 24px,#1bffe4 30px,#5cffa3 42px,#92ff6d 48px,#d6ff29 56px,#ffff00 64px,#ffd200 74px,#ffa300 88px,#ff7400 106px,#ff3a00 132px,#fe0000 156px,#e70000 168px,#df0000 200px,#e80000 228px,#ff0200 240px,#ff5600 276px,#ff7c00 292px,#ff9e00 306px,#ffc100 316px,#fff100 328px,#ffff00 332px,#d6ff29 338px,#6aff95 352px,#37ffc8 360px,#09fff6 368px,#00ffff 372px,#00ffff)"></i><i style="background:linear-gradient(90deg,#00ffff 0,#03fffc 24px,#1bffe4 30px,#59ffa6 42px,#8eff71 48px,#d2ff2d 56px,#fbff04 64px,#fff900 66px,#ffcb00 76px,#ff9c00 92px,#ff5d00 118px,#ff3b00 134px,#fd0000 160px,#ec0000 172px,#e70000 206px,#f00000 228px,#ff0200 238px,#ff5d00 276px,#ff8b00 296px,#ffae00 310px,#ffd600 322px,#ffff00 330px,#d9ff26 338px,#97ff68 346px,#60ff9f 352px,#2bffd4 362px,#08fff7 368px,#00ffff 374px,#00ffff)"></i><i style="background:linear-gradient(90deg,#00ffff 0,#02fffd 24px,#1affe5 30px,#56ffa9 42px,#8bff74 48px,#d5ff2a 58px,#fcff03 64px,#ffef00 68px,#ffc100 80px,#ff8a00 100px,#ff4200 132px,#fe0000 162px,#f10000 172px,#ed0000 206px,#f60000 228px,#ff0300 236px,#ff5000 268px,#ff9900 300px,#ffc500 316px,#fff300 328px,#fcff03 330px,#ceff31 338px,#64ff9b 352px,#33ffcc 360px,#08fff7 368px,#00ffff 374px,#00ffff)"></i><i style="background:linear-gradient(90deg,#00ffff 0,#02fffd 24px,#18ffe7 30px,#53ffac 42px,#87ff78 48px,#d0ff2f 58px,#fdff02 66px,#ffd200 76px,#ffa400 92px,#ff3d00 136px,#ff0000 164px,#f50000 176px,#f20000 210px,#fb0000 228px,#ff0400 234px,#ff4c00 264px,#ffa000 302px,#ffc800 316px,#fff700 328px,#fdff02 330px,#c9ff36 338px,#67ff98 350px,#31ffce 360px,#08fff7 368px,#00ffff 374px,#00ffff)"></i><i style="background:linear-gradient(90deg,#00ffff 0,#02fffd 24px,#17ffe8 30px,#50ffaf 42px,#82ff7d 48px,#cbff34 58px,#feff01 66px,#ffd300 78px,#ffa700 92px,#ff4000 136px,#ff0300 164px,#f70000 182px,#f80000 216px,#ff0300 230px,#ff4700 262px,#ffa300 302px,#ffcb00 316px,#fffb00 328px,#f9ff06 330px,#c4ff3b 338px,#64ff9b 350px,#2fffd0 360px,#07fff8 368px,#00ffff 374px,#00ffff)"></i><i style="background:linear-gradient(90deg,#00ffff 0,#02fffd 24px,#1bffe4 32px,#4dffb2 42px,#7dff82 48px,#c6ff39 58px,#ffff00 68px,#ffd200 78px,#ffaa00 92px,#ff4100 138px,#ff0600 164px,#fd0000 174px,#fa0000 208px,#ff0200 228px,#ff2300 244px,#ff7a00 282px,#ffad00 304px,#ffd800 318px,#ffff00 328px,#c6ff39 338px,#60ff9f 350px,#2dffd2 360px,#07fff8 368px,#00ffff 374px,#00ffff)"></i><i style="background:linear-gradient(90deg,#00ffff 0,#02fffd 24px,#19ffe6 32px,#49ffb6 42px,#78ff87 48px,#c6ff39 58px,#ffff00 68px,#ffcc00 80px,#ff9f00 96px,#ff4800 136px,#ff0900 164px,#ff0000 178px,#fd0000 212px,#ff0500 228px,#ff2600 244px,#ff7d00 282px,#ffaf00 304px,#ffdb00 318px,#ffff00 326px,#c6ff39 336px,#5bffa4 350px,#2affd5 360px,#06fff9 368px,#00ffff 374px,#00ffff)"></i><i style="background:linear-gradient(90deg,#00ffff 0,#02fffd 24px,#17ffe8 32px,#45ffba 42px,#72ff8d 48px,#bfff40 58px,#fbff04 68px,#fff900 70px,#ffcd00 82px,#ffa100 96px,#ff4a00 136px,#ff0c00 164px,#ff0200 178px,#ff0200 218px,#ff0c00 230px,#ff5200 262px,#ffa900 302px,#ffcf00 314px,#fffe00 326px,#c6ff39 336px,#82ff7d 344px,#50ffaf 352px,#24ffdb 360px,#04fffb 370px,#00ffff 378px,#00ffff)"></i><i style="background:linear-gradient(90deg,#00ffff 0,#02fffd 24px,#1affe5 32px,#41ffbe 42px,#6cff93 48px,#bfff40 60px,#ffff00 70px,#ffcf00 82px,#ffa300 96px,#ff4c00 136px,#ff0e00 164px,#ff0500 178px,#ff0300 212px,#ff0b00 228px,#ff3b00 252px,#ff7e00 282px,#ffb300 304px,#ffde00 318px,#ffff00 324px,#bfff40 336px,#51ffae 350px,#25ffda 360px,#03fffc 370px,#00ffff 380px,#00ffff)"></i><i style="background:linear-gradient(90deg,#00ffff 0,#02fffd 24px,#18ffe7 32px,#41ffbe 42px,#6dff92 50px,#bdff42 60px,#ffff00 72px,#ffce00 82px,#ffa400 96px,#ff4b00 136px,#ff0f00 164px,#ff0600 178px,#ff0500 212px,#ff0d00 228px,#ff3d00 252px,#ff8100 282px,#ffb100 304px,#ffde00 316px,#ffff00 324px,#b6ff49 336px,#52ffad 350px,#26ffd9 358px,#05fffa 368px,#00ffff 376px,#00ffff)"></i><i style="background:linear-gradient(90deg,#00ffff 0,#03fffc 26px,#23ffdc 36px,#4cffb3 46px,#d4ff2b 66px,#fdff02 72px,#ffc700 86px,#ff9c00 100px,#ff4c00 136px,#ff1100 164px,#ff0700 178px,#ff0600 212px,#ff0e00 228px,#ff3e00 252px,#ff8200 282px,#ffb300 304px,#ffde00 316px,#fdff02 322px,#adff52 336px,#4cffb3 350px,#23ffdc 358px,#03fffc 370px,#00ffff)"></i><i style="background:linear-gradient(90deg,#00ffff 0,#03fffc 26px,#23ffdc 38px,#4bffb4 46px,#e3ff1c 70px,#fffd00 74px,#ffca00 86px,#ff9d00 100px,#ff4a00 138px,#ff1000 166px,#ff0700 182px,#ff0800 216px,#ff1000 230px,#ff4a00 258px,#ff8300 282px,#ffb000 302px,#ffdb00 314px,#fffd00 320px,#b7ff48 332px,#46ffb9 350px,#20ffdf 358px,#03fffc 370px,#00ffff)"></i><i style="background:linear-gradient(90deg,#00ffff 0,#02fffd 26px,#20ffdf 38px,#45ffba 46px,#feff01 76px,#ffcb00 86px,#ffa200 100px,#ff1700 162px,#ff0b00 174px,#ff0700 208px,#ff1000 228px,#ff3f00 252px,#ff8400 282px,#ffb300 302px,#ffe100 314px,#feff01 320px,#45ffba 348px,#20ffdf 358px,#02fffd 370px,#00ffff)"></i><i style="background:linear-gradient(90deg,#00ffff 0,#02fffd 26px,#20ffdf 38px,#44ffbb 48px,#fffe00 78px,#ffd100 86px,#ffaa00 98px,#ff7800 118px,#ff1900 162px,#ff0c00 174px,#ff0800 208px,#ff1100 228px,#ff4000 252px,#ff8500 282px,#ffb000 300px,#ffd900 310px,#fffe00 318px,#44ffbb 348px,#20ffdf 356px,#02fffd 370px,#00ffff)"></i><i style="background:linear-gradient(90deg,#00ffff 0,#03fffc 26px,#22ffdd 40px,#42ffbd 48px,#baff45 68px,#fbff04 78px,#fff800 80px,#ffd900 86px,#ffb500 96px,#ff8b00 110px,#ff1a00 162px,#ff0d00 174px,#ff0a00 208px,#ff1200 228px,#ff4200 252px,#ffa200 294px,#ffcf00 306px,#fffd00 316px,#e2ff1d 320px,#5effa1 342px,#30ffcf 350px,#10ffef 362px,#00ffff 372px,#00ffff)"></i><i style="background:linear-gradient(90deg,#00ffff 0,#03fffc 26px,#1effe1 40px,#3bffc4 48px,#8eff71 64px,#faff05 80px,#fff700 82px,#ffcf00 90px,#ffa300 102px,#ff6e00 124px,#ff2000 160px,#ff1000 172px,#ff0b00 208px,#ff1400 228px,#ff4400 252px,#ffa100 292px,#ffc600 302px,#fffc00 314px,#d5ff2a 320px,#76ff89 336px,#36ffc9 348px,#16ffe9 358px,#01fffe 370px,#00ffff)"></i><i style="background:linear-gradient(90deg,#00ffff 0,#02fffd 26px,#1dffe2 42px,#3dffc2 50px,#8dff72 66px,#ffff00 84px,#ffd900 90px,#ffac00 102px,#ff8100 118px,#ff2600 158px,#ff1300 170px,#ff0e00 206px,#ff1700 228px,#ff4600 252px,#ff9d00 288px,#ffcf00 302px,#ffff00 312px,#b9ff46 322px,#6bff94 336px,#30ffcf 348px,#14ffeb 358px,#01fffe 370px,#00ffff)"></i><i style="background:linear-gradient(90deg,#00ffff 0,#03fffc 28px,#19ffe6 42px,#35ffca 50px,#80ff7f 66px,#feff01 86px,#ffce00 96px,#ffab00 104px,#ff8700 118px,#ff2e00 156px,#ff1a00 170px,#ff1400 204px,#ff1d00 228px,#ff4e00 254px,#ffa100 288px,#ffc400 298px,#ffef00 306px,#feff01 310px,#7aff85 330px,#35ffca 344px,#17ffe8 354px,#01fffe 370px,#00ffff)"></i><i style="background:linear-gradient(90deg,#00ffff 0,#02fffd 28px,#18ffe7 42px,#33ffcc 52px,#6dff92 64px,#b6ff49 76px,#fffe00 88px,#ffc900 100px,#ffa400 110px,#ff7400 130px,#ff3100 160px,#ff2300 172px,#ff2000 208px,#ff2800 228px,#ff5700 254px,#ffa100 284px,#ffc000 294px,#fff900 306px,#fffe00 306px,#a3ff5c 322px,#6dff92 330px,#2fffd0 344px,#14ffeb 354px,#00ffff 370px,#00ffff)"></i><i style="background:linear-gradient(90deg,#00ffff 0,#03fffc 28px,#18ffe7 44px,#37ffc8 54px,#6cff93 66px,#acff53 78px,#feff01 92px,#ffca00 102px,#ffa000 114px,#ff4600 156px,#ff3200 170px,#ff2d00 206px,#ff3500 228px,#ff6600 254px,#ffa600 282px,#ffce00 294px,#feff01 304px,#a6ff59 318px,#6cff93 328px,#33ffcc 342px,#18ffe7 350px,#03fffc 366px,#00ffff)"></i><i style="background:linear-gradient(90deg,#00ffff 0,#03fffc 30px,#17ffe8 46px,#2fffd0 54px,#60ff9f 66px,#90ff6f 76px,#fcff03 94px,#ffe500 100px,#ffbf00 110px,#ffa700 118px,#ff5700 156px,#ff4200 170px,#ff3d00 206px,#ff4500 228px,#ff7600 256px,#ffb400 282px,#ffdf00 294px,#fffd00 300px,#dcff23 306px,#69ff96 326px,#36ffc9 338px,#17ffe8 350px,#03fffc 366px,#00ffff)"></i><i style="background:linear-gradient(90deg,#00ffff 0,#03fffc 30px,#13ffec 46px,#2fffd0 56px,#55ffaa 66px,#81ff7e 76px,#fdff02 98px,#ffe200 106px,#ffbf00 114px,#ff7700 148px,#ff5800 168px,#ff5100 202px,#ff5900 228px,#ff8a00 256px,#ffc200 282px,#fff300 294px,#fdff02 296px,#81ff7e 320px,#4bffb4 330px,#1dffe2 344px,#0afff5 356px,#00ffff 374px,#00ffff)"></i><i style="background:linear-gradient(90deg,#00ffff 0,#03fffc 32px,#13ffec 48px,#2bffd4 58px,#4bffb4 66px,#73ff8c 76px,#fdff02 104px,#ffd400 114px,#ff9600 146px,#ff7400 168px,#ff6d00 202px,#ff7500 228px,#ffa600 258px,#ffd400 280px,#fdff02 292px,#82ff7d 316px,#52ffad 326px,#28ffd7 338px,#0efff1 350px,#00ffff 370px,#00ffff)"></i><i style="background:linear-gradient(90deg,#00ffff 0,#03fffc 34px,#11ffee 48px,#2affd5 60px,#4cffb3 70px,#7aff85 80px,#fffe00 110px,#ffe600 116px,#ffa200 156px,#ff9000 170px,#ff8d00 212px,#ff9500 230px,#ffcc00 264px,#ffec00 280px,#fffe00 286px,#a6ff59 306px,#74ff8b 316px,#41ffbe 328px,#1dffe2 340px,#0afff5 352px,#00ffff 374px,#00ffff)"></i><i style="background:linear-gradient(90deg,#00ffff 0,#04fffb 36px,#11ffee 50px,#2bffd4 62px,#4effb1 72px,#7dff82 84px,#88ff77 86px,#f8ff07 114px,#fffd00 118px,#ffbd00 160px,#ffb300 176px,#ffb300 218px,#ffbc00 234px,#fffb00 276px,#faff05 280px,#c8ff37 292px,#73ff8c 314px,#35ffca 330px,#16ffe9 342px,#06fff9 356px,#00ffff 380px,#00ffff)"></i><i style="background:linear-gradient(90deg,#00ffff 0,#04fffb 38px,#12ffed 54px,#2dffd2 66px,#5bffa4 78px,#7dff82 88px,#87ff78 90px,#aaff55 100px,#b7ff48 104px,#deff21 116px,#fffd00 140px,#ffdc00 168px,#ffd900 212px,#ffe000 232px,#fcff03 258px,#dbff24 280px,#abff54 294px,#95ff6a 300px,#7eff81 306px,#74ff8b 310px,#5bffa4 316px,#2affd5 330px,#0efff1 344px,#01fffe 364px,#00ffff)"></i><i style="background:linear-gradient(90deg,#00ffff 0,#04fffb 40px,#13ffec 56px,#2effd1 68px,#62ff9d 84px,#77ff88 90px,#8bff74 96px,#8eff71 98px,#96ff69 100px,#99ff66 102px,#a4ff5b 106px,#acff53 108px,#c3ff3c 116px,#faff05 166px,#feff01 210px,#f7ff08 232px,#c0ff3f 280px,#acff53 286px,#95ff6a 294px,#92ff6d 296px,#8bff74 298px,#87ff78 300px,#7bff84 302px,#77ff88 304px,#51ffae 316px,#23ffdc 330px,#0bfff4 344px,#00ffff 368px,#00ffff)"></i><i style="background:linear-gradient(90deg,#00ffff 0,#04fffb 42px,#11ffee 58px,#27ffd8 68px,#57ffa8 84px,#6dff92 92px,#74ff8b 94px,#7bff84 96px,#7dff82 98px,#84ff7b 100px,#85ff7a 102px,#8fff70 106px,#92ff6d 108px,#9eff61 112px,#a3ff5c 114px,#aaff55 118px,#aaff55 122px,#d0ff2f 170px,#d0ff2f 224px,#b6ff49 258px,#a7ff58 276px,#a9ff56 278px,#9dff62 282px,#9bff64 284px,#8eff71 288px,#8cff73 290px,#82ff7d 294px,#80ff7f 296px,#7aff85 298px,#77ff88 300px,#6dff92 302px,#66ff99 306px,#47ffb8 316px,#1dffe2 330px,#09fff6 344px,#00ffff 372px,#00ffff)"></i><i style="background:linear-gradient(90deg,#00ffff 0,#04fffb 46px,#12ffed 60px,#29ffd6 72px,#4effb1 84px,#6dff92 96px,#72ff8d 100px,#7bff84 104px,#85ff7a 110px,#8aff75 112px,#8aff75 114px,#92ff6d 118px,#90ff6f 120px,#94ff6b 126px,#92ff6d 128px,#afff50 170px,#aeff51 226px,#91ff6e 268px,#93ff6c 270px,#8fff70 276px,#91ff6e 278px,#88ff77 282px,#87ff78 284px,#7cff83 288px,#7bff84 290px,#73ff8c 294px,#72ff8d 296px,#4bffb4 312px,#1bffe4 330px,#08fff7 344px,#00ffff 372px,#00ffff)"></i><i style="background:linear-gradient(90deg,#00ffff 0,#04fffb 48px,#11ffee 62px,#2bffd4 74px,#4fffb0 88px,#68ff97 100px,#6eff91 104px,#7aff85 112px,#7dff82 116px,#80ff7f 118px,#80ff7f 122px,#9dff62 172px,#9cff63 228px,#7eff81 276px,#7eff81 278px,#78ff87 282px,#75ff8a 286px,#67ff98 294px,#63ff9c 296px,#49ffb6 310px,#16ffe9 330px,#05fffa 344px,#00ffff 390px,#00ffff)"></i><i style="background:linear-gradient(90deg,#00ffff 0,#04fffb 52px,#11ffee 66px,#30ffcf 78px,#54ffab 94px,#72ff8d 116px,#90ff6f 172px,#8eff71 230px,#6eff91 282px,#51ffae 302px,#30ffcf 316px,#11ffee 330px,#04fffb 344px,#00ffff)"></i><i style="background:linear-gradient(90deg,#00ffff 0,#05fffa 54px,#12ffed 68px,#4cffb3 94px,#69ff96 118px,#85ff7a 172px,#82ff7d 232px,#62ff9d 284px,#45ffba 304px,#12ffed 326px,#04fffb 342px,#00ffff)"></i><i style="background:linear-gradient(90deg,#00ffff 0,#04fffb 56px,#10ffef 70px,#49ffb6 96px,#61ff9e 118px,#7bff84 172px,#79ff86 232px,#5affa5 284px,#3effc1 304px,#0efff1 326px,#02fffd 344px,#00ffff)"></i><i style="background:linear-gradient(90deg,#00ffff 0,#04fffb 60px,#11ffee 72px,#45ffba 98px,#5affa5 118px,#72ff8d 174px,#70ff8f 232px,#54ffab 284px,#39ffc6 304px,#0efff1 324px,#03fffc 338px,#00ffff)"></i><i style="background:linear-gradient(90deg,#00ffff 0,#04fffb 60px,#10ffef 74px,#42ffbd 100px,#54ffab 118px,#6aff95 174px,#68ff97 234px,#4effb1 284px,#35ffca 302px,#0bfff4 324px,#01fffe 342px,#00ffff)"></i><i style="background:linear-gradient(90deg,#00ffff 0,#04fffb 64px,#12ffed 78px,#41ffbe 104px,#4fffb0 120px,#64ff9b 174px,#61ff9e 234px,#48ffb7 286px,#2effd1 302px,#0cfff3 322px,#02fffd 338px,#00ffff)"></i><i style="background:linear-gradient(90deg,#00ffff 0,#04fffb 66px,#10ffef 80px,#42ffbd 108px,#50ffaf 134px,#5effa1 176px,#5bffa4 236px,#44ffbb 284px,#29ffd6 302px,#09fff6 320px,#01fffe 342px,#00ffff)"></i><i style="background:linear-gradient(90deg,#00ffff 0,#04fffb 70px,#12ffed 84px,#3fffc0 112px,#58ffa7 168px,#56ffa9 234px,#3fffc0 284px,#1affe5 306px,#05fffa 322px,#01fffe 354px,#00ffff)"></i><i style="background:linear-gradient(90deg,#00ffff 0,#04fffb 72px,#14ffeb 90px,#3dffc2 114px,#52ffad 174px,#4fffb0 236px,#3bffc4 282px,#0dfff2 310px,#02fffd 328px,#00ffff)"></i><i style="background:linear-gradient(90deg,#00ffff 0,#03fffc 74px,#12ffed 92px,#37ffc8 116px,#4bffb4 170px,#48ffb7 238px,#35ffca 282px,#0dfff2 306px,#01fffe 326px,#00ffff)"></i><i style="background:linear-gradient(90deg,#00ffff 0,#04fffb 78px,#11ffee 96px,#28ffd7 112px,#33ffcc 122px,#42ffbd 174px,#3fffc0 240px,#2fffd0 278px,#0cfff3 302px,#01fffe 326px,#00ffff)"></i><i style="background:linear-gradient(90deg,#00ffff 0,#03fffc 82px,#11ffee 102px,#26ffd9 120px,#33ffcc 180px,#2fffd0 246px,#23ffdc 280px,#0cfff3 298px,#01fffe 324px,#00ffff)"></i><i style="background:linear-gradient(90deg,#00ffff 0,#03fffc 86px,#0efff1 108px,#18ffe7 120px,#1effe1 214px,#16ffe9 280px,#07fff8 298px,#00ffff 334px,#00ffff)"></i><i style="background:linear-gradient(90deg,#00ffff 0,#03fffc 94px,#0afff5 110px,#0efff1 118px,#09fff6 138px,#09fff6 268px,#0cfff3 280px,#03fffc 302px,#00ffff)"></i><i style="background:linear-gradient(90deg,#00ffff 0,#03fffc 104px,#06fff9 118px,#00ffff 138px,#01fffe 268px,#05fffa 280px,#01fffe 358px,#00ffff)"></i><i style="background:linear-gradient(90deg,#00ffff 0,#00fcff 118px,#00e5ff 178px,#00e6ff 222px,#01fffe 290px,#00ffff)"></i><i style="background:linear-gradient(90deg,#00ffff 0,#00fdff 84px,#00c2ff 124px,#00a9ff 158px,#009fff 198px,#00a9ff 238px,#00c7ff 280px,#00d7ff 292px,#00faff 308px,#00ffff 320px,#00ffff)"></i><i style="background:linear-gradient(90deg,#00ffff 0,#00fdff 66px,#00e8ff 78px,#00afff 102px,#0083ff 128px,#0070ff 172px,#006fff 220px,#0082ff 272px,#008eff 288px,#00b8ff 302px,#00f0ff 322px,#00ffff 332px,#00ffff)"></i><i style="background:linear-gradient(90deg,#00ffff 0,#00fdff 50px,#00d7ff 66px,#00a9ff 86px,#005aff 128px,#0047ff 170px,#0044ff 218px,#0055ff 268px,#0062ff 286px,#0083ff 298px,#00a7ff 310px,#00fbff 344px,#01fffe 352px,#00ffff)"></i><i style="background:linear-gradient(90deg,#00ffff 0,#00fdff 36px,#00e6ff 46px,#00baff 64px,#005bff 110px,#0037ff 126px,#0025ff 162px,#0021ff 212px,#002fff 266px,#003cff 286px,#0059ff 296px,#007eff 306px,#00d5ff 342px,#00f9ff 356px,#00ffff 364px,#00ffff)"></i><i style="background:linear-gradient(90deg,#00ffff 0,#00fbff 20px,#0075ff 86px,#004cff 108px,#0020ff 126px,#0015ff 142px,#000bff 196px,#0013ff 258px,#0020ff 286px,#003eff 296px,#0062ff 306px,#00bdff 344px,#00f2ff 364px,#00fdff 378px,#00ffff)"></i><i style="background:linear-gradient(90deg,#00ffff 0,#00f7ff 18px,#00e1ff 24px,#00cfff 30px,#006fff 80px,#0046ff 106px,#0014ff 126px,#0009ff 142px,#0000fe 192px,#0006ff 256px,#0011ff 286px,#0029ff 294px,#0051ff 304px,#009dff 340px,#00e7ff 364px,#00f9ff 380px,#00ffff)"></i><i style="background:linear-gradient(90deg,#00ffff 0,#00f5ff 18px,#00e7ff 22px,#00bfff 28px,#00a3ff 46px,#005dff 88px,#003dff 106px,#0009ff 126px,#0000ff 138px,#0000f2 190px,#0000f9 254px,#0004ff 282px,#000dff 288px,#0049ff 304px,#009eff 344px,#00e3ff 366px,#00fbff 386px,#00ffff)"></i><i style="background:linear-gradient(90deg,#00ffff 0,#00f4ff 16px,#00eeff 20px,#00baff 28px,#00aaff 34px,#008cff 56px,#002eff 104px,#0000ff 120px,#0000ea 130px,#0000d8 176px,#0000d9 232px,#0000ec 284px,#0000f9 290px,#0007ff 292px,#0037ff 304px,#0080ff 334px,#00adff 352px,#00dfff 366px,#00faff 386px,#00ffff)"></i><i style="background:linear-gradient(90deg,#00ffff 0,#00f5ff 16px,#00ecff 20px,#00b5ff 28px,#00a5ff 34px,#0082ff 54px,#0041ff 84px,#0017ff 104px,#0000ff 112px,#0000d4 126px,#0000ca 136px,#0000ba 184px,#0000bf 244px,#0000d1 286px,#0000e5 292px,#0000fe 296px,#0023ff 304px,#0086ff 342px,#00b5ff 356px,#00dcff 366px,#00faff 386px,#00ffff)"></i><i style="background:linear-gradient(90deg,#00ffff 0,#00f5ff 14px,#00e9ff 20px,#00caff 24px,#00a8ff 28px,#0098ff 32px,#006fff 54px,#002fff 84px,#0005ff 104px,#0000fb 106px,#0000bc 124px,#0000b1 132px,#0000a0 180px,#0000a3 240px,#0000b4 284px,#0000c7 290px,#0001ff 302px,#0024ff 312px,#0072ff 342px,#009bff 352px,#00d3ff 366px,#00edff 378px,#00feff 392px,#00ffff)"></i><i style="background:linear-gradient(90deg,#00ffff 0,#00f5ff 14px,#00ebff 18px,#00d6ff 22px,#009dff 28px,#008dff 32px,#005fff 56px,#0024ff 82px,#0000fc 102px,#0000ce 114px,#0000a9 126px,#00009f 134px,#000090 182px,#000094 244px,#0000a3 284px,#0000b2 290px,#0000fa 304px,#0008ff 308px,#005cff 338px,#0086ff 350px,#00cdff 366px,#00e9ff 376px,#00feff 390px,#00ffff)"></i><i style="background:linear-gradient(90deg,#00ffff 0,#00f6ff 12px,#00eaff 18px,#00d5ff 22px,#0099ff 28px,#0089ff 32px,#005bff 56px,#001fff 82px,#0000fd 100px,#0000dd 110px,#0000a9 124px,#00009b 132px,#00008b 178px,#00008d 242px,#00009d 284px,#0000ac 290px,#0000f6 304px,#0004ff 308px,#0058ff 338px,#0083ff 350px,#00cbff 366px,#00e6ff 376px,#00fdff 390px,#00ffff)"></i></div>
<div class="hm" style="left:462px;top:193px;width:148px;height:139px"><i style="background:linear-gradient(90deg,#00d0ff 0,#00c5ff 28px,#009aff 68px,#009cff 84px,#00c8ff 126px,#00d0ff)"></i><i style="background:linear-gradient(90deg,#00cfff 0,#00c3ff 28px,#0098ff 66px,#0098ff 82px,#00baff 112px,#00ccff 136px,#00cfff)"></i><i style="background:linear-gradient(90deg,#00ceff 0,#00c2ff 28px,#0096ff 66px,#0096ff 82px,#00b5ff 108px,#00caff 132px,#00ceff)"></i><i style="background:linear-gradient(90deg,#00cdff 0,#00c1ff 28px,#0095ff 66px,#0095ff 82px,#00b2ff 108px,#00c8ff 132px,#00cdff)"></i><i style="background:linear-gradient(90deg,#00ccff 0,#00c1ff 26px,#0093ff 66px,#0093ff 82px,#00b1ff 108px,#00c7ff 130px,#00ccff)"></i><i style="background:linear-gradient(90deg,#00cbff 0,#00c0ff 26px,#0092ff 66px,#0092ff 82px,#00b0ff 108px,#00c6ff 130px,#00cbff)"></i><i style="background:linear-gradient(90deg,#00cbff 0,#00bfff 26px,#0091ff 66px,#0091ff 82px,#00b0ff 108px,#00c5ff 130px,#00cbff)"></i><i style="background:linear-gradient(90deg,#00cbff 0,#00bfff 26px,#0091ff 66px,#0091ff 82px,#00b0ff 108px,#00c5ff 130px,#00cbff)"></i><i style="background:linear-gradient(90deg,#00ccff 0,#00bfff 28px,#0093ff 66px,#0093ff 82px,#00b1ff 108px,#00c6ff 130px,#00ccff)"></i><i style="background:linear-gradient(90deg,#00ceff 0,#00c2ff 28px,#0097ff 66px,#0097ff 82px,#00b7ff 110px,#00caff 134px,#00ceff)"></i><i style="background:linear-gradient(90deg,#00d1ff 0,#00c5ff 28px,#009bff 68px,#009dff 84px,#00c9ff 126px,#00d1ff)"></i><i style="background:linear-gradient(90deg,#00d4ff 0,#00c9ff 28px,#00a1ff 68px,#00a3ff 84px,#00ceff 126px,#00d4ff)"></i><i style="background:linear-gradient(90deg,#00d8ff 0,#00cdff 28px,#00a7ff 68px,#00aaff 84px,#00d2ff 126px,#00d8ff)"></i><i style="background:linear-gradient(90deg,#00ddff 0,#00d1ff 30px,#00aeff 68px,#00b0ff 84px,#00d7ff 126px,#00ddff)"></i><i style="background:linear-gradient(90deg,#00e3ff 0,#00d8ff 30px,#00b6ff 68px,#00b8ff 84px,#00ddff 128px,#00e3ff)"></i><i style="background:linear-gradient(90deg,#00eaff 0,#00dfff 30px,#00bfff 68px,#00c3ff 86px,#00e5ff 128px,#00eaff)"></i><i style="background:linear-gradient(90deg,#00f2ff 0,#00e7ff 32px,#00caff 68px,#00ceff 88px,#00edff 128px,#00f2ff)"></i><i style="background:linear-gradient(90deg,#00fbff 0,#00f0ff 32px,#00d5ff 70px,#00daff 90px,#00f7ff 128px,#00fbff)"></i><i style="background:linear-gradient(90deg,#06fff9 0,#00fcff 30px,#00e1ff 70px,#00e7ff 90px,#01fffe 126px,#06fff9)"></i><i style="background:linear-gradient(90deg,#0ffff0 0,#05fffa 34px,#00fbff 48px,#00eeff 74px,#00f8ff 98px,#03fffc 112px,#0ffff0 144px,#0ffff0)"></i><i style="background:linear-gradient(90deg,#1affe5 0,#0ffff0 36px,#00fdff 64px,#00feff 86px,#18ffe7 134px,#1affe5)"></i><i style="background:linear-gradient(90deg,#24ffdb 0,#19ffe6 38px,#0afff5 72px,#14ffeb 100px,#23ffdc 138px,#24ffdb)"></i><i style="background:linear-gradient(90deg,#2fffd0 0,#25ffda 42px,#1affe5 76px,#2fffd0 140px,#2fffd0)"></i><i style="background:linear-gradient(90deg,#3cffc3 0,#32ffcd 50px,#2dffd2 84px,#3cffc3 144px,#3cffc3)"></i><i style="background:linear-gradient(90deg,#4affb5 0,#40ffbf 84px,#4affb5)"></i><i style="background:linear-gradient(90deg,#5affa5 0,#53ffac 90px,#5affa5)"></i><i style="background:linear-gradient(90deg,#6bff94 0,#64ff9b 88px,#6bff94)"></i><i style="background:linear-gradient(90deg,#7dff82 0,#75ff8a 44px,#78ff87 134px,#7dff82)"></i><i style="background:linear-gradient(90deg,#8fff70 0,#84ff7b 30px,#84ff7b 122px,#8fff70)"></i><i style="background:linear-gradient(90deg,#9fff60 0,#91ff6e 24px,#8eff71 104px,#97ff68 138px,#9fff60)"></i><i style="background:linear-gradient(90deg,#adff52 0,#9dff62 22px,#97ff68 82px,#9eff61 130px,#adff52)"></i><i style="background:linear-gradient(90deg,#baff45 0,#a9ff56 18px,#a0ff5f 60px,#a5ff5a 122px,#b4ff4b 144px,#baff45)"></i><i style="background:linear-gradient(90deg,#c8ff37 0,#b4ff4b 16px,#aaff55 50px,#acff53 114px,#baff45 138px,#c7ff38)"></i><i style="background:linear-gradient(90deg,#d5ff2a 0,#bfff40 16px,#b3ff4c 44px,#b4ff4b 106px,#c0ff3f 134px,#d5ff2a)"></i><i style="background:linear-gradient(90deg,#e2ff1d 0,#cbff34 14px,#bdff42 38px,#bbff44 98px,#c6ff39 128px,#dbff24 144px,#e2ff1d)"></i><i style="background:linear-gradient(90deg,#f0ff0f 0,#d7ff28 14px,#c8ff37 36px,#c4ff3b 90px,#ceff31 124px,#e0ff1f 140px,#efff10)"></i><i style="background:linear-gradient(90deg,#fdff02 0,#e4ff1b 12px,#d4ff2b 32px,#cdff32 82px,#d6ff29 120px,#e9ff16 138px,#fdff02)"></i><i style="background:linear-gradient(90deg,#fff300 0,#feff01 6px,#e8ff17 20px,#dbff24 46px,#daff25 98px,#e6ff19 126px,#fbff04 142px,#fff900 146px,#fff300)"></i><i style="background:linear-gradient(90deg,#ffe400 0,#ffff00 12px,#edff12 30px,#e4ff1b 70px,#ebff14 116px,#fcff03 134px,#fffa00 140px,#ffe500)"></i><i style="background:linear-gradient(90deg,#ffd600 0,#fff100 12px,#fdff02 24px,#f1ff0e 52px,#f3ff0c 104px,#fffd00 128px,#ffe500 142px,#ffd600)"></i><i style="background:linear-gradient(90deg,#ffc700 0,#ffe400 12px,#fff800 28px,#feff01 54px,#fffc00 112px,#ffec00 132px,#ffd400 144px,#ffc800)"></i><i style="background:linear-gradient(90deg,#ffb800 0,#ffd600 12px,#ffea00 28px,#fff400 60px,#fff000 108px,#ffe100 130px,#ffc900 142px,#ffb900)"></i><i style="background:linear-gradient(90deg,#ffa700 0,#ffc400 10px,#ffd900 26px,#ffe500 54px,#ffe300 102px,#ffd500 126px,#ffbd00 140px,#ffa800)"></i><i style="background:linear-gradient(90deg,#ff9600 0,#ffb400 10px,#ffc900 26px,#ffd500 54px,#ffd400 100px,#ffc600 126px,#ffaf00 140px,#ff9700)"></i><i style="background:linear-gradient(90deg,#ff8600 0,#ffa500 10px,#ffbb00 26px,#ffc700 52px,#ffc700 98px,#ffba00 124px,#ffa500 138px,#ff8700)"></i><i style="background:linear-gradient(90deg,#ff7900 0,#ff9900 10px,#ffaf00 24px,#ffbc00 50px,#ffbd00 96px,#ffb000 122px,#ff9c00 136px,#ff7e00 146px,#ff7a00)"></i><i style="background:linear-gradient(90deg,#ff7100 0,#ff9100 10px,#ffa800 24px,#ffb500 50px,#ffb600 94px,#ffaa00 122px,#ff9400 136px,#ff7600 146px,#ff7100)"></i><i style="background:linear-gradient(90deg,#ff6a00 0,#ff8b00 10px,#ffa300 24px,#ffb000 48px,#ffb200 92px,#ffa600 120px,#ff9000 136px,#ff7300 146px,#ff6b00)"></i><i style="background:linear-gradient(90deg,#ff6400 0,#ff8400 10px,#ff9c00 22px,#ffab00 44px,#ffae00 88px,#ffa300 118px,#ff9000 134px,#ff7100 144px,#ff6500)"></i><i style="background:linear-gradient(90deg,#ff5e00 0,#ff7f00 10px,#ff9800 22px,#ffa700 44px,#ffab00 88px,#ff9f00 118px,#ff8b00 134px,#ff7000 144px,#ff5f00)"></i><i style="background:linear-gradient(90deg,#ff5800 0,#ff7a00 10px,#ff9300 22px,#ffa300 44px,#ffa700 86px,#ff9c00 118px,#ff8800 132px,#ff6a00 144px,#ff5900)"></i><i style="background:linear-gradient(90deg,#ff5100 0,#ff7400 10px,#ff8c00 22px,#ff9d00 42px,#ffa200 84px,#ff9800 116px,#ff8400 132px,#ff6700 142px,#ff5200)"></i><i style="background:linear-gradient(90deg,#ff4900 0,#ff6c00 10px,#ff8600 22px,#ff9700 42px,#ff9c00 84px,#ff9200 116px,#ff7e00 132px,#ff6000 142px,#ff4a00)"></i><i style="background:linear-gradient(90deg,#ff4100 0,#ff6500 10px,#ff7f00 22px,#ff9000 40px,#ff9600 82px,#ff8c00 114px,#ff7900 130px,#ff5c00 142px,#ff4200)"></i><i style="background:linear-gradient(90deg,#ff3900 0,#ff5e00 10px,#ff7800 22px,#ff8a00 40px,#ff9000 80px,#ff8600 114px,#ff7400 130px,#ff5800 140px,#ff3a00)"></i><i style="background:linear-gradient(90deg,#ff3100 0,#ff5400 8px,#ff6f00 20px,#ff8200 36px,#ff8c00 74px,#ff8300 110px,#ff7100 128px,#ff5800 138px,#ff3700 146px,#ff3200)"></i><i style="background:linear-gradient(90deg,#ff2900 0,#ff4e00 8px,#ff6a00 20px,#ff7e00 36px,#ff8800 72px,#ff7f00 110px,#ff6c00 128px,#ff5200 138px,#ff3000 146px,#ff2a00)"></i><i style="background:linear-gradient(90deg,#ff2200 0,#ff4800 8px,#ff6600 20px,#ff7a00 36px,#ff8400 68px,#ff7d00 106px,#ff6c00 126px,#ff5000 138px,#ff2f00 146px,#ff2400)"></i><i style="background:linear-gradient(90deg,#ff1c00 0,#ff4300 8px,#ff6000 18px,#ff7500 34px,#ff8100 62px,#ff7d00 100px,#ff6e00 122px,#ff5500 134px,#ff3300 144px,#ff1e00)"></i><i style="background:linear-gradient(90deg,#ff1700 0,#ff3f00 8px,#ff5d00 18px,#ff7200 34px,#ff7e00 62px,#ff7c00 98px,#ff6c00 120px,#ff5400 134px,#ff3300 142px,#ff1800)"></i><i style="background:linear-gradient(90deg,#ff1300 0,#ff3c00 8px,#ff5a00 18px,#ff7000 34px,#ff7c00 62px,#ff7900 98px,#ff6b00 120px,#ff5300 132px,#ff3400 142px,#ff1400)"></i><i style="background:linear-gradient(90deg,#ff1000 0,#ff3900 8px,#ff5800 18px,#ff6e00 34px,#ff7a00 62px,#ff7800 98px,#ff6900 120px,#ff5100 132px,#ff3100 142px,#ff1100)"></i><i style="background:linear-gradient(90deg,#ff0c00 0,#ff3600 8px,#ff5500 18px,#ff6c00 34px,#ff7800 60px,#ff7600 96px,#ff6800 118px,#ff5100 132px,#ff3300 140px,#ff0e00)"></i><i style="background:linear-gradient(90deg,#ff0900 0,#ff2f00 8px,#ff5000 18px,#ff6700 32px,#ff7500 56px,#ff7500 92px,#ff6700 116px,#ff5100 130px,#ff3000 140px,#ff0b00)"></i><i style="background:linear-gradient(90deg,#ff0600 0,#ff2c00 8px,#ff4d00 18px,#ff6400 32px,#ff7200 56px,#ff7200 90px,#ff6500 116px,#ff5000 130px,#ff3100 140px,#ff0d00 146px,#ff0700)"></i><i style="background:linear-gradient(90deg,#ff0200 0,#ff2800 8px,#ff4900 18px,#ff6100 32px,#ff6e00 56px,#ff6f00 90px,#ff6200 116px,#ff4c00 130px,#ff2d00 140px,#ff0900 146px,#ff0300)"></i><i style="background:linear-gradient(90deg,#fc0000 0,#ff2800 8px,#ff4800 18px,#ff5e00 32px,#ff6b00 58px,#ff6a00 92px,#ff5d00 116px,#ff4600 130px,#ff2500 140px,#fe0000)"></i><i style="background:linear-gradient(90deg,#f80000 0,#fe0000 2px,#ff2800 10px,#ff4600 20px,#ff5b00 34px,#ff6700 62px,#ff6400 98px,#ff5500 120px,#ff3c00 132px,#ff1c00 142px,#ff0000 146px,#f90000)"></i><i style="background:linear-gradient(90deg,#f30000 0,#ff0100 2px,#ff2700 10px,#ff4500 22px,#ff5900 38px,#ff6400 70px,#ff5c00 106px,#ff4b00 124px,#ff2f00 136px,#ff0d00 144px,#ff0200 146px,#f40000)"></i><i style="background:linear-gradient(90deg,#ee0000 0,#ff0200 4px,#ff2600 12px,#ff4200 22px,#ff5600 40px,#ff5f00 74px,#ff5600 108px,#ff4300 126px,#ff2700 136px,#ff0300 144px,#ef0000)"></i><i style="background:linear-gradient(90deg,#f30000 0,#ff0100 2px,#ff2700 10px,#ff4500 22px,#ff5900 38px,#ff6400 70px,#ff5c00 106px,#ff4b00 124px,#ff2f00 136px,#ff0d00 144px,#ff0200 146px,#f40000)"></i><i style="background:linear-gradient(90deg,#f80000 0,#fe0000 2px,#ff2800 10px,#ff4600 20px,#ff5b00 34px,#ff6700 62px,#ff6400 98px,#ff5500 120px,#ff3c00 132px,#ff1c00 142px,#ff0000 146px,#f90000)"></i><i style="background:linear-gradient(90deg,#fc0000 0,#ff2800 8px,#ff4800 18px,#ff5e00 32px,#ff6b00 58px,#ff6a00 92px,#ff5d00 116px,#ff4600 130px,#ff2500 140px,#fe0000)"></i><i style="background:linear-gradient(90deg,#ff0200 0,#ff2800 8px,#ff4900 18px,#ff6100 32px,#ff6e00 56px,#ff6f00 90px,#ff6200 116px,#ff4c00 130px,#ff2d00 140px,#ff0900 146px,#ff0300)"></i><i style="background:linear-gradient(90deg,#ff0600 0,#ff2c00 8px,#ff4d00 18px,#ff6400 32px,#ff7200 56px,#ff7200 90px,#ff6500 116px,#ff5000 130px,#ff3100 140px,#ff0d00 146px,#ff0700)"></i><i style="background:linear-gradient(90deg,#ff0900 0,#ff2f00 8px,#ff5000 18px,#ff6700 32px,#ff7500 56px,#ff7500 92px,#ff6700 116px,#ff5100 130px,#ff3000 140px,#ff0b00)"></i><i style="background:linear-gradient(90deg,#ff0c00 0,#ff3600 8px,#ff5500 18px,#ff6c00 34px,#ff7800 60px,#ff7600 96px,#ff6800 118px,#ff5100 132px,#ff3300 140px,#ff0e00)"></i><i style="background:linear-gradient(90deg,#ff1000 0,#ff3900 8px,#ff5800 18px,#ff6e00 34px,#ff7a00 62px,#ff7800 98px,#ff6900 120px,#ff5100 132px,#ff3100 142px,#ff1100)"></i><i style="background:linear-gradient(90deg,#ff1300 0,#ff3c00 8px,#ff5a00 18px,#ff7000 34px,#ff7c00 62px,#ff7900 98px,#ff6b00 120px,#ff5300 132px,#ff3400 142px,#ff1400)"></i><i style="background:linear-gradient(90deg,#ff1700 0,#ff3f00 8px,#ff5d00 18px,#ff7200 34px,#ff7e00 62px,#ff7c00 98px,#ff6c00 120px,#ff5400 134px,#ff3300 142px,#ff1800)"></i><i style="background:linear-gradient(90deg,#ff1c00 0,#ff4300 8px,#ff6000 18px,#ff7500 34px,#ff8100 62px,#ff7d00 100px,#ff6e00 122px,#ff5500 134px,#ff3300 144px,#ff1e00)"></i><i style="background:linear-gradient(90deg,#ff2200 0,#ff4800 8px,#ff6600 20px,#ff7a00 36px,#ff8400 68px,#ff7d00 106px,#ff6c00 126px,#ff5000 138px,#ff2f00 146px,#ff2400)"></i><i style="background:linear-gradient(90deg,#ff2900 0,#ff4e00 8px,#ff6a00 20px,#ff7e00 36px,#ff8800 72px,#ff7f00 110px,#ff6c00 128px,#ff5200 138px,#ff3000 146px,#ff2a00)"></i><i style="background:linear-gradient(90deg,#ff3100 0,#ff5400 8px,#ff6f00 20px,#ff8200 36px,#ff8c00 74px,#ff8300 110px,#ff7100 128px,#ff5800 138px,#ff3700 146px,#ff3200)"></i><i style="background:linear-gradient(90deg,#ff3900 0,#ff5e00 10px,#ff7800 22px,#ff8a00 40px,#ff9000 80px,#ff8600 114px,#ff7400 130px,#ff5800 140px,#ff3a00)"></i><i style="background:linear-gradient(90deg,#ff4100 0,#ff6500 10px,#ff7f00 22px,#ff9000 40px,#ff9600 82px,#ff8c00 114px,#ff7900 130px,#ff5c00 142px,#ff4200)"></i><i style="background:linear-gradient(90deg,#ff4900 0,#ff6c00 10px,#ff8600 22px,#ff9700 42px,#ff9c00 84px,#ff9200 116px,#ff7e00 132px,#ff6000 142px,#ff4a00)"></i><i style="background:linear-gradient(90deg,#ff5100 0,#ff7400 10px,#ff8c00 22px,#ff9d00 42px,#ffa200 84px,#ff9800 116px,#ff8400 132px,#ff6700 142px,#ff5200)"></i><i style="background:linear-gradient(90deg,#ff5800 0,#ff7a00 10px,#ff9300 22px,#ffa300 44px,#ffa700 86px,#ff9c00 118px,#ff8800 132px,#ff6a00 144px,#ff5900)"></i><i style="background:linear-gradient(90deg,#ff5e00 0,#ff7f00 10px,#ff9800 22px,#ffa700 44px,#ffab00 88px,#ff9f00 118px,#ff8b00 134px,#ff7000 144px,#ff5f00)"></i><i style="background:linear-gradient(90deg,#ff6400 0,#ff8400 10px,#ff9c00 22px,#ffab00 44px,#ffae00 88px,#ffa300 118px,#ff9000 134px,#ff7100 144px,#ff6500)"></i><i style="background:linear-gradient(90deg,#ff6a00 0,#ff8b00 10px,#ffa300 24px,#ffb000 48px,#ffb200 92px,#ffa600 120px,#ff9000 136px,#ff7300 146px,#ff6b00)"></i><i style="background:linear-gradient(90deg,#ff7100 0,#ff9100 10px,#ffa800 24px,#ffb500 50px,#ffb600 94px,#ffaa00 122px,#ff9400 136px,#ff7600 146px,#ff7100)"></i><i style="background:linear-gradient(90deg,#ff7900 0,#ff9900 10px,#ffaf00 24px,#ffbc00 50px,#ffbd00 96px,#ffb000 122px,#ff9c00 136px,#ff7e00 146px,#ff7a00)"></i><i style="background:linear-gradient(90deg,#ff8600 0,#ffa500 10px,#ffbb00 26px,#ffc700 52px,#ffc700 98px,#ffba00 124px,#ffa500 138px,#ff8700)"></i><i style="background:linear-gradient(90deg,#ff9600 0,#ffb400 10px,#ffc900 26px,#ffd500 54px,#ffd400 100px,#ffc600 126px,#ffaf00 140px,#ff9700)"></i><i style="background:linear-gradient(90deg,#ffa700 0,#ffc400 10px,#ffd900 26px,#ffe500 54px,#ffe300 102px,#ffd500 126px,#ffbd00 140px,#ffa800)"></i><i style="background:linear-gradient(90deg,#ffb800 0,#ffd600 12px,#ffea00 28px,#fff400 60px,#fff000 108px,#ffe100 130px,#ffc900 142px,#ffb900)"></i><i style="background:linear-gradient(90deg,#ffc700 0,#ffe400 12px,#fff800 28px,#feff01 54px,#fffc00 112px,#ffec00 132px,#ffd400 144px,#ffc800)"></i><i style="background:linear-gradient(90deg,#ffd600 0,#fff100 12px,#fdff02 24px,#f1ff0e 52px,#f3ff0c 104px,#fffd00 128px,#ffe500 142px,#ffd600)"></i><i style="background:linear-gradient(90deg,#ffe400 0,#ffff00 12px,#edff12 30px,#e4ff1b 70px,#ebff14 116px,#fcff03 134px,#fffa00 140px,#ffe500)"></i><i style="background:linear-gradient(90deg,#fff300 0,#feff01 6px,#e8ff17 20px,#dbff24 46px,#daff25 98px,#e6ff19 126px,#fbff04 142px,#fff900 146px,#fff300)"></i><i style="background:linear-gradient(90deg,#fdff02 0,#e4ff1b 12px,#d4ff2b 32px,#cdff32 82px,#d6ff29 120px,#e9ff16 138px,#fdff02)"></i><i style="background:linear-gradient(90deg,#f0ff0f 0,#d7ff28 14px,#c8ff37 36px,#c4ff3b 90px,#ceff31 124px,#e0ff1f 140px,#efff10)"></i><i style="background:linear-gradient(90deg,#e2ff1d 0,#cbff34 14px,#bdff42 38px,#bbff44 98px,#c6ff39 128px,#dbff24 144px,#e2ff1d)"></i><i style="background:linear-gradient(90deg,#d5ff2a 0,#bfff40 16px,#b3ff4c 44px,#b4ff4b 106px,#c0ff3f 134px,#d5ff2a)"></i><i style="background:linear-gradient(90deg,#c8ff37 0,#b4ff4b 16px,#aaff55 50px,#acff53 114px,#baff45 138px,#c7ff38)"></i><i style="background:linear-gradient(90deg,#baff45 0,#a9ff56 18px,#a0ff5f 60px,#a5ff5a 122px,#b4ff4b 144px,#baff45)"></i><i style="background:linear-gradient(90deg,#adff52 0,#9dff62 22px,#97ff68 82px,#9eff61 130px,#adff52)"></i><i style="background:linear-gradient(90deg,#9fff60 0,#91ff6e 24px,#8eff71 104px,#97ff68 138px,#9fff60)"></i><i style="background:linear-gradient(90deg,#8fff70 0,#84ff7b 30px,#84ff7b 122px,#8fff70)"></i><i style="background:linear-gradient(90deg,#7dff82 0,#75ff8a 44px,#78ff87 134px,#7dff82)"></i><i style="background:linear-gradient(90deg,#6bff94 0,#64ff9b 88px,#6bff94)"></i><i style="background:linear-gradient(90deg,#5affa5 0,#53ffac 90px,#5affa5)"></i><i style="background:linear-gradient(90deg,#4affb5 0,#40ffbf 84px,#4affb5)"></i><i style="background:linear-gradient(90deg,#3cffc3 0,#32ffcd 50px,#2dffd2 84px,#3cffc3 144px,#3cffc3)"></i><i style="background:linear-gradient(90deg,#2fffd0 0,#25ffda 42px,#1affe5 76px,#2fffd0 140px,#2fffd0)"></i><i style="background:linear-gradient(90deg,#24ffdb 0,#19ffe6 38px,#0afff5 72px,#14ffeb 100px,#23ffdc 138px,#24ffdb)"></i><i style="background:linear-gradient(90deg,#1affe5 0,#0ffff0 36px,#00fdff 64px,#00feff 86px,#18ffe7 134px,#1affe5)"></i><i style="background:linear-gradient(90deg,#0ffff0 0,#05fffa 34px,#00fbff 48px,#00eeff 74px,#00f8ff 98px,#03fffc 112px,#0ffff0 144px,#0ffff0)"></i><i style="background:linear-gradient(90deg,#06fff9 0,#00fcff 30px,#00e1ff 70px,#00e7ff 90px,#01fffe 126px,#06fff9)"></i><i style="background:linear-gradient(90deg,#00fbff 0,#00f0ff 32px,#00d5ff 70px,#00daff 90px,#00f7ff 128px,#00fbff)"></i><i style="background:linear-gradient(90deg,#00f2ff 0,#00e7ff 32px,#00caff 68px,#00ceff 88px,#00edff 128px,#00f2ff)"></i><i style="background:linear-gradient(90deg,#00eaff 0,#00dfff 30px,#00bfff 68px,#00c3ff 86px,#00e5ff 128px,#00eaff)"></i><i style="background:linear-gradient(90deg,#00e3ff 0,#00d8ff 30px,#00b6ff 68px,#00b8ff 84px,#00ddff 128px,#00e3ff)"></i><i style="background:linear-gradient(90deg,#00ddff 0,#00d1ff 30px,#00aeff 68px,#00b0ff 84px,#00d7ff 126px,#00ddff)"></i><i style="background:linear-gradient(90deg,#00d8ff 0,#00cdff 28px,#00a7ff 68px,#00aaff 84px,#00d2ff 126px,#00d8ff)"></i><i style="background:linear-gradient(90deg,#00d4ff 0,#00c9ff 28px,#00a1ff 68px,#00a3ff 84px,#00ceff 126px,#00d4ff)"></i><i style="background:linear-gradient(90deg,#00d1ff 0,#00c5ff 28px,#009bff 68px,#009dff 84px,#00c9ff 126px,#00d1ff)"></i><i style="background:linear-gradient(90deg,#00ceff 0,#00c2ff 28px,#0097ff 66px,#0097ff 82px,#00b7ff 110px,#00caff 134px,#00ceff)"></i><i style="background:linear-gradient(90deg,#00ccff 0,#00bfff 28px,#0093ff 66px,#0093ff 82px,#00b1ff 108px,#00c6ff 130px,#00ccff)"></i><i style="background:linear-gradient(90deg,#00cbff 0,#00bfff 26px,#0091ff 66px,#0091ff 82px,#00b0ff 108px,#00c5ff 130px,#00cbff)"></i><i style="background:linear-gradient(90deg,#00cbff 0,#00bfff 26px,#0091ff 66px,#0091ff 82px,#00b0ff 108px,#00c5ff 130px,#00cbff)"></i><i style="background:linear-gradient(90deg,#00cbff 0,#00c0ff 26px,#0092ff 66px,#0092ff 82px,#00b0ff 108px,#00c6ff 130px,#00cbff)"></i><i style="background:linear-gradient(90deg,#00ccff 0,#00c1ff 26px,#0093ff 66px,#0093ff 82px,#00b1ff 108px,#00c7ff 130px,#00ccff)"></i><i style="background:linear-gradient(90deg,#00cdff 0,#00c1ff 28px,#0095ff 66px,#0095ff 82px,#00b2ff 108px,#00c8ff 132px,#00cdff)"></i><i style="background:linear-gradient(90deg,#00ceff 0,#00c2ff 28px,#0096ff 66px,#0096ff 82px,#00b5ff 108px,#00caff 132px,#00ceff)"></i><i style="background:linear-gradient(90deg,#00cfff 0,#00c3ff 28px,#0098ff 66px,#0098ff 82px,#00baff 112px,#00ccff 136px,#00cfff)"></i><i style="background:linear-gradient(90deg,#00d0ff 0,#00c5ff 28px,#009aff 68px,#009cff 84px,#00c8ff 126px,#00d0ff)"></i></div>
<div class="hm" style="left:22px;top:363px;width:395px;height:139px"><i style="background:linear-gradient(90deg,#7eff81 0,#7cff83 38px,#7fff80 48px,#83ff7c 52px,#83ff7c 54px,#87ff78 56px,#88ff77 60px,#8cff73 62px,#8dff72 66px,#91ff6e 68px,#92ff6d 70px,#96ff69 72px,#97ff68 76px,#9bff64 78px,#9cff63 82px,#a0ff5f 86px,#b3ff4c 124px,#bdff42 198px,#b4ff4b 266px,#a1ff5e 306px,#98ff67 318px,#94ff6b 320px,#93ff6c 324px,#8eff71 326px,#89ff76 334px,#85ff7a 338px,#7bff84 360px,#7dff82)"></i><i style="background:linear-gradient(90deg,#7dff82 0,#79ff86 44px,#7fff80 60px,#84ff7b 62px,#84ff7b 66px,#89ff76 66px,#8aff75 70px,#8fff70 72px,#8fff70 76px,#95ff6a 78px,#95ff6a 82px,#9aff65 84px,#9bff64 88px,#9fff60 90px,#b1ff4e 124px,#baff45 200px,#b1ff4e 268px,#a2ff5d 300px,#9dff62 306px,#99ff66 308px,#98ff67 312px,#93ff6c 314px,#92ff6d 318px,#8dff72 320px,#8dff72 324px,#88ff77 326px,#88ff77 328px,#83ff7c 330px,#83ff7c 334px,#7fff80 336px,#7fff80 340px,#7bff84 342px,#7cff83 346px,#79ff86 348px,#76ff89 366px,#7cff83)"></i><i style="background:linear-gradient(90deg,#7dff82 0,#75ff8a 44px,#78ff87 60px,#7cff83 62px,#7bff84 66px,#7fff80 68px,#7fff80 70px,#85ff7a 72px,#85ff7a 76px,#8bff74 78px,#8cff73 82px,#92ff6d 84px,#92ff6d 88px,#98ff67 90px,#99ff66 94px,#9dff62 96px,#9eff61 100px,#a2ff5d 104px,#afff50 146px,#b2ff4d 228px,#a7ff58 282px,#a0ff5f 294px,#9cff63 298px,#97ff68 302px,#96ff69 306px,#91ff6e 308px,#90ff6f 312px,#8bff74 312px,#8aff75 318px,#85ff7a 318px,#84ff7b 324px,#7fff80 324px,#7fff80 328px,#7aff85 330px,#7aff85 334px,#76ff89 336px,#77ff88 340px,#73ff8c 342px,#74ff8b 346px,#71ff8e 348px,#72ff8d 366px,#7cff83)"></i><i style="background:linear-gradient(90deg,#7cff83 0,#6fff90 48px,#70ff8f 60px,#73ff8c 62px,#72ff8d 66px,#76ff89 68px,#75ff8a 70px,#7aff85 72px,#79ff86 76px,#7fff80 78px,#7fff80 82px,#85ff7a 84px,#86ff79 88px,#8cff73 90px,#8dff72 94px,#93ff6c 96px,#94ff6b 100px,#99ff66 102px,#a3ff5c 130px,#a8ff57 220px,#9fff60 282px,#98ff67 294px,#93ff6c 296px,#92ff6d 300px,#8cff73 300px,#8cff73 306px,#85ff7a 306px,#85ff7a 312px,#7eff81 312px,#7eff81 318px,#78ff87 318px,#78ff87 324px,#73ff8c 324px,#73ff8c 328px,#6eff91 330px,#6fff90 334px,#6bff94 336px,#6cff93 340px,#69ff96 342px,#6bff94 346px,#69ff96 350px,#6dff92 366px,#7bff84)"></i><i style="background:linear-gradient(90deg,#7cff83 0,#67ff98 54px,#67ff98 66px,#6aff95 68px,#69ff96 70px,#6dff92 72px,#6bff94 76px,#71ff8e 78px,#70ff8f 82px,#76ff89 84px,#75ff8a 88px,#7cff83 90px,#7cff83 94px,#83ff7c 96px,#83ff7c 100px,#8aff75 102px,#8aff75 106px,#90ff6f 106px,#90ff6f 112px,#94ff6b 114px,#9bff64 206px,#94ff6b 282px,#8fff70 288px,#8aff75 290px,#8aff75 294px,#83ff7c 294px,#83ff7c 300px,#7bff84 300px,#7cff83 306px,#74ff8b 306px,#74ff8b 312px,#6dff92 312px,#6eff91 318px,#68ff97 318px,#69ff96 324px,#63ff9c 324px,#65ff9a 328px,#61ff9e 330px,#62ff9d 334px,#5fffa0 336px,#60ff9f 340px,#5fffa0 342px,#66ff99 364px,#7aff85)"></i><i style="background:linear-gradient(90deg,#7bff84 0,#5cffa3 60px,#5affa5 70px,#5dffa2 72px,#5bffa4 76px,#5fffa0 78px,#5dffa2 82px,#63ff9c 84px,#61ff9e 88px,#68ff97 90px,#67ff98 94px,#6eff91 96px,#6dff92 100px,#74ff8b 102px,#74ff8b 106px,#7aff85 106px,#7aff85 112px,#7fff80 114px,#7eff81 282px,#79ff86 284px,#79ff86 288px,#72ff8d 290px,#73ff8c 294px,#6aff95 294px,#6bff94 300px,#63ff9c 300px,#64ff9b 306px,#5dffa2 306px,#5effa1 312px,#58ffa7 312px,#59ffa6 318px,#54ffab 318px,#56ffa9 324px,#52ffad 326px,#54ffab 328px,#51ffae 330px,#53ffac 334px,#52ffad 338px,#5cffa3 358px,#77ff88 390px,#79ff86)"></i><i style="background:linear-gradient(90deg,#7aff85 0,#52ffad 58px,#4affb5 70px,#48ffb7 76px,#4affb5 80px,#48ffb7 82px,#4bffb4 84px,#49ffb6 88px,#4effb1 90px,#4bffb4 94px,#51ffae 96px,#4fffb0 100px,#56ffa9 102px,#55ffaa 106px,#5bffa4 106px,#5affa5 112px,#5cffa3 114px,#50ffaf 214px,#59ffa6 282px,#55ffaa 284px,#56ffa9 288px,#4fffb0 290px,#50ffaf 294px,#48ffb7 294px,#4affb5 300px,#43ffbc 300px,#46ffb9 306px,#40ffbf 306px,#43ffbc 312px,#3effc1 312px,#41ffbe 318px,#3effc1 320px,#41ffbe 324px,#3fffc0 326px,#47ffb8 344px,#61ff9e 370px,#75ff8a 390px,#78ff87)"></i><i style="background:linear-gradient(90deg,#7aff85 0,#5affa5 40px,#33ffcc 76px,#2cffd3 88px,#2bffd4 94px,#2bffd4 98px,#2affd5 100px,#2effd1 102px,#2bffd4 106px,#31ffce 106px,#2dffd2 112px,#31ffce 114px,#16ffe9 182px,#14ffeb 222px,#28ffd7 282px,#23ffdc 284px,#26ffd9 288px,#1fffe0 290px,#22ffdd 294px,#1dffe2 294px,#21ffde 300px,#1effe1 302px,#22ffdd 306px,#21ffde 308px,#32ffcd 336px,#59ffa6 368px,#71ff8e 386px,#77ff88)"></i><i style="background:linear-gradient(90deg,#79ff86 0,#5bffa4 34px,#2dffd2 66px,#00ffff 100px,#00f4ff 112px,#00f6ff 114px,#00cfff 168px,#00c2ff 208px,#00c8ff 228px,#00e5ff 276px,#00e6ff 280px,#00e7ff 282px,#00e4ff 284px,#00f3ff 300px,#02fffd 312px,#35ffca 350px,#6cff93 382px,#76ff89)"></i><i style="background:linear-gradient(90deg,#78ff87 0,#5affa5 32px,#30ffcf 58px,#00feff 80px,#00efff 88px,#00e8ff 90px,#00e3ff 94px,#00dbff 96px,#00d5ff 100px,#00cdff 102px,#00c7ff 106px,#00bfff 106px,#00b7ff 112px,#00afff 112px,#0091ff 130px,#006bff 166px,#0056ff 198px,#0055ff 218px,#008cff 276px,#0094ff 280px,#0096ff 282px,#009eff 284px,#00a4ff 288px,#00adff 290px,#00b3ff 294px,#00bbff 294px,#00c3ff 300px,#00caff 300px,#00d3ff 306px,#00daff 308px,#00e1ff 312px,#00e8ff 314px,#01fffe 328px,#69ff96 382px,#76ff89)"></i><i style="background:linear-gradient(90deg,#78ff87 0,#5affa5 28px,#2effd1 54px,#00fdff 72px,#00f3ff 76px,#00ebff 78px,#00e4ff 82px,#00dbff 84px,#00d4ff 88px,#00ccff 90px,#00c3ff 94px,#00baff 96px,#00b1ff 100px,#00a6ff 102px,#009eff 106px,#0092ff 106px,#0088ff 112px,#007cff 112px,#0070ff 118px,#0068ff 120px,#0033ff 152px,#000dff 190px,#0006ff 214px,#0018ff 232px,#0040ff 264px,#004dff 276px,#0055ff 276px,#005dff 282px,#006aff 284px,#0071ff 288px,#007eff 290px,#0085ff 294px,#0091ff 294px,#009bff 300px,#00a6ff 300px,#00b0ff 306px,#00b9ff 306px,#00c2ff 312px,#00caff 312px,#00d2ff 318px,#00daff 320px,#00e1ff 324px,#00e9ff 326px,#02fffd 336px,#65ff9a 380px,#75ff8a)"></i><i style="background:linear-gradient(90deg,#77ff88 0,#58ffa7 28px,#2dffd2 50px,#00fdff 66px,#00f3ff 70px,#00eaff 72px,#00e1ff 76px,#00d7ff 78px,#00cfff 82px,#00c7ff 84px,#00bdff 88px,#00b4ff 90px,#00aaff 94px,#00a0ff 96px,#0096ff 100px,#008bff 102px,#0083ff 106px,#007aff 106px,#006fff 112px,#0065ff 114px,#0031ff 142px,#0006ff 178px,#0000fc 188px,#0000f2 214px,#0001ff 228px,#0029ff 258px,#0048ff 282px,#004fff 284px,#0055ff 288px,#005fff 290px,#0067ff 294px,#0072ff 294px,#007dff 300px,#0089ff 300px,#0094ff 306px,#009eff 306px,#00a9ff 312px,#00b2ff 312px,#00bbff 318px,#00c3ff 318px,#00ccff 324px,#00d5ff 326px,#00daff 328px,#00e2ff 330px,#00eaff 334px,#00ffff 342px,#61ff9e 380px,#74ff8b)"></i><i style="background:linear-gradient(90deg,#76ff89 0,#58ffa7 26px,#29ffd6 48px,#00feff 62px,#00f6ff 66px,#00eaff 68px,#00e5ff 70px,#00dbff 72px,#00d1ff 76px,#00c9ff 78px,#00beff 82px,#00b6ff 84px,#00aaff 88px,#00a2ff 90px,#0097ff 94px,#008eff 96px,#0083ff 100px,#007cff 102px,#0046ff 124px,#0011ff 156px,#0000fd 172px,#0000e8 198px,#0000e6 216px,#0002ff 238px,#0041ff 284px,#0048ff 288px,#0055ff 294px,#005dff 294px,#0069ff 300px,#0073ff 300px,#007fff 306px,#0089ff 306px,#0095ff 312px,#009dff 312px,#00a8ff 318px,#00b0ff 318px,#00baff 324px,#00c2ff 324px,#00caff 328px,#00d3ff 330px,#00dcff 334px,#00e6ff 338px,#00fdff 346px,#5dffa2 378px,#73ff8c)"></i><i style="background:linear-gradient(90deg,#76ff89 0,#57ffa8 24px,#2fffd0 44px,#01fffe 60px,#00ebff 66px,#00deff 68px,#00d9ff 70px,#00cfff 72px,#00c4ff 76px,#00baff 78px,#00b0ff 82px,#00a6ff 84px,#009cff 88px,#0093ff 90px,#008aff 94px,#0081ff 96px,#003fff 124px,#000aff 154px,#0000fc 164px,#0000df 194px,#0000da 216px,#0000ef 232px,#0001ff 244px,#0038ff 284px,#004aff 294px,#005cff 300px,#0066ff 302px,#0071ff 306px,#0079ff 306px,#0085ff 312px,#008dff 312px,#0099ff 318px,#00a0ff 318px,#00abff 324px,#00b3ff 324px,#00bcff 328px,#00c5ff 330px,#00cfff 334px,#00d8ff 336px,#01fffe 350px,#55ffaa 376px,#6dff92 390px,#72ff8d)"></i><i style="background:linear-gradient(90deg,#75ff8a 0,#56ffa9 24px,#2affd5 44px,#00feff 58px,#00e2ff 66px,#00d5ff 68px,#00bcff 76px,#00aaff 80px,#00a5ff 82px,#009cff 84px,#0092ff 88px,#0085ff 92px,#003aff 122px,#0003ff 154px,#0000f0 168px,#0000d6 194px,#0000d1 216px,#0000e6 232px,#0001ff 250px,#0031ff 284px,#004eff 298px,#0067ff 306px,#0070ff 308px,#007aff 312px,#0083ff 314px,#008dff 318px,#0096ff 320px,#00a0ff 324px,#00a9ff 326px,#00b0ff 328px,#00b9ff 330px,#00c4ff 334px,#00cfff 338px,#01fffe 352px,#58ffa7 378px,#71ff8e)"></i><i style="background:linear-gradient(90deg,#75ff8a 0,#56ffa9 22px,#28ffd7 42px,#00fdff 56px,#00c6ff 70px,#00b7ff 74px,#008eff 88px,#003bff 120px,#0001ff 150px,#0000d2 190px,#0000c9 214px,#0000d7 228px,#0000ff 254px,#002dff 286px,#004eff 300px,#0082ff 316px,#0094ff 322px,#00a6ff 328px,#00b2ff 332px,#00baff 334px,#00c6ff 338px,#00ffff 354px,#56ffa9 378px,#70ff8f)"></i><i style="background:linear-gradient(90deg,#74ff8b 0,#54ffab 22px,#26ffd9 42px,#00fdff 54px,#00adff 76px,#007dff 92px,#0026ff 128px,#0000fe 148px,#0000cf 186px,#0000c3 212px,#0000cd 224px,#0000fd 256px,#0022ff 282px,#0043ff 298px,#009fff 328px,#01fffe 356px,#50ffaf 378px,#6aff95 390px,#70ff8f)"></i><i style="background:linear-gradient(90deg,#74ff8b 0,#52ffad 22px,#23ffdc 42px,#00ffff 52px,#00a1ff 78px,#004eff 108px,#0014ff 134px,#0000fd 146px,#0000cc 184px,#0000be 208px,#0000c3 220px,#0000fb 258px,#0007ff 266px,#002dff 290px,#0099ff 328px,#00e7ff 350px,#01fffe 356px,#52ffad 378px,#6eff91 394px,#6fff90)"></i><i style="background:linear-gradient(90deg,#73ff8c 0,#50ffaf 22px,#1dffe2 42px,#00feff 52px,#009eff 78px,#0041ff 112px,#0009ff 138px,#0000fb 146px,#0000ca 182px,#0000ba 206px,#0000bc 218px,#0000fd 262px,#001dff 284px,#003eff 298px,#00a7ff 334px,#01fffe 358px,#50ffaf 378px,#6bff94 392px,#6eff91)"></i><i style="background:linear-gradient(90deg,#73ff8c 0,#4effb1 22px,#1affe5 42px,#00ffff 50px,#0098ff 78px,#002fff 118px,#0000ff 142px,#0000d2 172px,#0000ba 196px,#0000b6 216px,#0000cb 232px,#0000f3 258px,#0002ff 268px,#0029ff 292px,#00a3ff 334px,#00f3ff 356px,#01fffe 358px,#4effb1 378px,#6bff94 392px,#6eff91)"></i><i style="background:linear-gradient(90deg,#72ff8d 0,#4fffb0 22px,#1affe5 42px,#00ffff 50px,#0095ff 78px,#002aff 120px,#0000fd 140px,#0000d1 170px,#0000b7 196px,#0000b2 216px,#0000c7 232px,#0000ef 258px,#0003ff 272px,#0028ff 292px,#00a0ff 334px,#00f0ff 356px,#02fffd 360px,#4dffb2 378px,#6aff95 392px,#6dff92)"></i><i style="background:linear-gradient(90deg,#72ff8d 0,#4effb1 22px,#18ffe7 42px,#00fdff 50px,#0093ff 78px,#0024ff 120px,#0000fd 138px,#0000d1 166px,#0000b4 194px,#0000ad 214px,#0000c0 230px,#0000e9 256px,#0003ff 274px,#0028ff 294px,#009dff 334px,#00edff 356px,#03fffc 360px,#4cffb3 378px,#68ff97 392px,#6dff92)"></i><i style="background:linear-gradient(90deg,#72ff8d 0,#4dffb2 22px,#14ffeb 42px,#01fffe 48px,#0091ff 78px,#0021ff 120px,#0000fe 136px,#0000d1 164px,#0000b0 192px,#0000a9 214px,#0000bc 230px,#0000e5 256px,#0002ff 276px,#0027ff 294px,#009eff 336px,#00ebff 356px,#01fffe 360px,#4affb5 378px,#67ff98 392px,#6cff93)"></i><i style="background:linear-gradient(90deg,#71ff8e 0,#4cffb3 22px,#12ffed 42px,#00feff 48px,#008fff 78px,#001cff 122px,#0000fd 136px,#0000cf 162px,#0000ad 192px,#0000a5 214px,#0000b6 228px,#0000e2 256px,#0002ff 278px,#0024ff 294px,#009fff 336px,#00f1ff 358px,#00feff 360px,#4dffb2 380px,#6cff93)"></i><i style="background:linear-gradient(90deg,#71ff8e 0,#4bffb4 22px,#11ffee 42px,#00fdff 48px,#008dff 78px,#0019ff 122px,#0000fe 134px,#0000ce 160px,#0000aa 190px,#0000a1 214px,#0000b1 228px,#0000dd 254px,#0001ff 278px,#0024ff 296px,#009eff 336px,#00f0ff 358px,#02fffd 362px,#4cffb3 380px,#6bff94)"></i><i style="background:linear-gradient(90deg,#71ff8e 0,#4affb5 22px,#10ffef 42px,#00ffff 48px,#008cff 78px,#0019ff 120px,#0000fd 132px,#0000cd 160px,#0000a7 190px,#00009e 214px,#0000ad 228px,#0000da 254px,#0002ff 280px,#0022ff 296px,#009fff 338px,#00f7ff 360px,#00ffff 362px,#4bffb4 380px,#6bff94)"></i><i style="background:linear-gradient(90deg,#71ff8e 0,#4affb5 22px,#0ffff0 42px,#00feff 48px,#0087ff 80px,#000fff 124px,#0000fd 132px,#0000cb 158px,#0000a5 190px,#00009b 214px,#0000aa 228px,#0000d7 254px,#0003ff 282px,#0022ff 296px,#009eff 338px,#00f6ff 360px,#03fffc 362px,#4affb5 380px,#69ff96 394px,#6bff94)"></i><i style="background:linear-gradient(90deg,#71ff8e 0,#49ffb6 22px,#0efff1 42px,#00fdff 48px,#0086ff 80px,#000dff 124px,#0000fc 130px,#0000ca 158px,#0000a2 190px,#000098 214px,#0000a6 226px,#0000d5 254px,#0002ff 284px,#0023ff 298px,#009dff 338px,#00f5ff 360px,#02fffd 362px,#4affb5 380px,#69ff96 394px,#6bff94)"></i><i style="background:linear-gradient(90deg,#70ff8f 0,#49ffb6 22px,#0bfff4 44px,#00fdff 48px,#0084ff 80px,#000eff 122px,#0000fc 130px,#0000c8 158px,#00009f 190px,#000095 214px,#0000a3 226px,#0000d3 254px,#0002ff 284px,#0025ff 298px,#009cff 338px,#00f4ff 360px,#02fffd 362px,#49ffb6 380px,#69ff96 394px,#6aff95)"></i><i style="background:linear-gradient(90deg,#70ff8f 0,#49ffb6 22px,#0afff5 44px,#00fcff 48px,#0083ff 80px,#000cff 122px,#0000fd 128px,#0000c7 156px,#00009d 190px,#000093 214px,#0000a1 226px,#0000d1 254px,#0002ff 286px,#0026ff 300px,#009bff 338px,#00f3ff 360px,#01fffe 362px,#49ffb6 380px,#69ff96 394px,#6aff95)"></i><i style="background:linear-gradient(90deg,#70ff8f 0,#48ffb7 22px,#0dfff2 42px,#00ffff 46px,#0083ff 80px,#000bff 122px,#0000fc 128px,#0000c6 156px,#00009b 190px,#000091 214px,#00009f 226px,#0000cf 254px,#0001ff 286px,#0025ff 300px,#009aff 338px,#00f3ff 360px,#01fffe 362px,#49ffb6 380px,#69ff96 394px,#6aff95)"></i><i style="background:linear-gradient(90deg,#70ff8f 0,#48ffb7 22px,#0dfff2 42px,#00ffff 46px,#0082ff 80px,#000aff 122px,#0000fd 128px,#0000c6 156px,#00009b 188px,#000090 212px,#00009d 226px,#0000ce 254px,#0002ff 286px,#0027ff 300px,#009aff 338px,#00f2ff 360px,#00ffff 362px,#49ffb6 380px,#68ff97 394px,#6aff95)"></i><i style="background:linear-gradient(90deg,#70ff8f 0,#48ffb7 22px,#0dfff2 42px,#00ffff 46px,#0082ff 80px,#0009ff 122px,#0000fc 128px,#0000c5 156px,#00009a 188px,#00008f 212px,#00009c 226px,#0000cd 254px,#0002ff 286px,#0027ff 300px,#0099ff 338px,#00f2ff 360px,#00ffff 362px,#49ffb6 380px,#68ff97 394px,#6aff95)"></i><i style="background:linear-gradient(90deg,#70ff8f 0,#48ffb7 22px,#0dfff2 42px,#00ffff 46px,#0082ff 80px,#0009ff 122px,#0000fc 128px,#0000c5 156px,#00009a 188px,#00008f 212px,#00009c 226px,#0000cd 254px,#0001ff 286px,#0027ff 300px,#0099ff 338px,#00f2ff 360px,#00ffff 362px,#49ffb6 380px,#68ff97 394px,#6aff95)"></i><i style="background:linear-gradient(90deg,#70ff8f 0,#48ffb7 22px,#0dfff2 42px,#00ffff 46px,#0082ff 80px,#0009ff 122px,#0000fc 128px,#0000c6 156px,#00009b 188px,#00008f 212px,#00009c 226px,#0000ce 254px,#0002ff 286px,#0027ff 300px,#0099ff 338px,#00f2ff 360px,#00ffff 362px,#49ffb6 380px,#68ff97 394px,#6aff95)"></i><i style="background:linear-gradient(90deg,#70ff8f 0,#48ffb7 22px,#0dfff2 42px,#00ffff 46px,#0082ff 80px,#000aff 122px,#0000fd 128px,#0000c6 156px,#00009b 188px,#000090 212px,#00009d 226px,#0000ce 254px,#0002ff 286px,#0027ff 300px,#009aff 338px,#00f3ff 360px,#01fffe 362px,#49ffb6 380px,#69ff96 394px,#6aff95)"></i><i style="background:linear-gradient(90deg,#70ff8f 0,#49ffb6 22px,#0dfff2 42px,#00ffff 46px,#0083ff 80px,#000bff 122px,#0000fc 128px,#0000c6 156px,#00009c 190px,#000091 214px,#0000a0 226px,#0000cf 254px,#0001ff 286px,#0025ff 300px,#009aff 338px,#00f3ff 360px,#01fffe 362px,#49ffb6 380px,#69ff96 394px,#6aff95)"></i><i style="background:linear-gradient(90deg,#71ff8e 0,#49ffb6 22px,#0efff1 42px,#00fcff 48px,#0083ff 80px,#000cff 122px,#0000fd 128px,#0000c7 156px,#00009d 190px,#000093 214px,#0000a1 226px,#0000d1 254px,#0002ff 286px,#0026ff 300px,#009bff 338px,#00f4ff 360px,#02fffd 362px,#4affb5 380px,#69ff96 394px,#6bff94)"></i><i style="background:linear-gradient(90deg,#71ff8e 0,#49ffb6 22px,#0efff1 42px,#00fdff 48px,#0084ff 80px,#000dff 122px,#0000fc 130px,#0000c8 158px,#00009f 190px,#000095 214px,#0000a3 226px,#0000d2 254px,#0002ff 284px,#0024ff 298px,#009cff 338px,#00f4ff 360px,#02fffd 362px,#4affb5 380px,#69ff96 394px,#6bff94)"></i><i style="background:linear-gradient(90deg,#71ff8e 0,#4affb5 22px,#0ffff0 42px,#00feff 48px,#0089ff 78px,#0014ff 120px,#0000fe 130px,#0000ca 158px,#0000a1 190px,#000097 214px,#0000a5 226px,#0000d4 254px,#0002ff 284px,#0023ff 298px,#0099ff 336px,#00edff 358px,#00feff 362px,#4bffb4 380px,#69ff96 394px,#6bff94)"></i><i style="background:linear-gradient(90deg,#71ff8e 0,#4affb5 22px,#10ffef 42px,#00ffff 48px,#008aff 78px,#0016ff 120px,#0000fe 130px,#0000cc 158px,#0000a4 190px,#00009a 214px,#0000aa 228px,#0000d7 254px,#0002ff 282px,#0022ff 296px,#009bff 336px,#00eeff 358px,#01fffe 362px,#4bffb4 380px,#6aff95 394px,#6bff94)"></i><i style="background:linear-gradient(90deg,#71ff8e 0,#4bffb4 22px,#14ffeb 42px,#00fcff 48px,#008bff 78px,#0018ff 120px,#0000fe 132px,#0000cd 158px,#0000a7 190px,#00009d 214px,#0000ac 228px,#0000d9 254px,#0003ff 282px,#0024ff 296px,#009cff 336px,#00f0ff 358px,#02fffd 362px,#4cffb3 380px,#6cff93)"></i><i style="background:linear-gradient(90deg,#72ff8d 0,#4cffb3 22px,#15ffea 42px,#00feff 48px,#008dff 78px,#001bff 120px,#0000fd 134px,#0000cd 160px,#0000a9 190px,#0000a0 214px,#0000af 228px,#0000dc 254px,#0002ff 280px,#0023ff 296px,#009bff 336px,#00e9ff 356px,#00feff 360px,#4dffb2 380px,#6cff93)"></i><i style="background:linear-gradient(90deg,#72ff8d 0,#4dffb2 22px,#17ffe8 42px,#01fffe 48px,#008fff 78px,#0020ff 120px,#0000fd 134px,#0000cf 162px,#0000ac 192px,#0000a4 214px,#0000b3 228px,#0000df 254px,#0001ff 278px,#0023ff 294px,#0099ff 334px,#00ebff 356px,#01fffe 360px,#4bffb4 378px,#68ff97 392px,#6cff93)"></i><i style="background:linear-gradient(90deg,#72ff8d 0,#4effb1 22px,#1cffe3 40px,#00feff 50px,#0091ff 78px,#0025ff 118px,#0000ff 136px,#0000d1 162px,#0000af 192px,#0000a8 214px,#0000b8 228px,#0000e4 256px,#0003ff 276px,#0026ff 294px,#009cff 334px,#00eeff 356px,#00ffff 360px,#4cffb3 378px,#6aff95 392px,#6dff92)"></i><i style="background:linear-gradient(90deg,#73ff8c 0,#4effb1 22px,#19ffe6 42px,#00fdff 50px,#0094ff 78px,#002dff 116px,#0000fe 138px,#0000d2 164px,#0000b3 192px,#0000ac 214px,#0000be 230px,#0000e7 256px,#0003ff 274px,#0026ff 294px,#00a0ff 334px,#00feff 358px,#4effb1 378px,#6aff95 392px,#6dff92)"></i><i style="background:linear-gradient(90deg,#73ff8c 0,#4fffb0 22px,#1bffe4 42px,#00fdff 52px,#0097ff 78px,#003dff 112px,#0002ff 138px,#0000c9 174px,#0000b3 198px,#0000b0 216px,#0000c5 232px,#0000ee 258px,#0002ff 272px,#0027ff 292px,#0090ff 328px,#00e1ff 350px,#00feff 358px,#52ffad 380px,#6eff91)"></i><i style="background:linear-gradient(90deg,#73ff8c 0,#51ffae 22px,#1fffe0 42px,#00fdff 52px,#00a5ff 76px,#0071ff 92px,#001aff 128px,#0000fd 142px,#0000d1 172px,#0000b9 196px,#0000b5 216px,#0000ca 232px,#0000f1 258px,#0003ff 270px,#0028ff 292px,#0096ff 328px,#00f9ff 356px,#03fffc 358px,#51ffae 378px,#6dff92 394px,#6fff90)"></i><i style="background:linear-gradient(90deg,#74ff8b 0,#53ffac 22px,#22ffdd 42px,#00ffff 54px,#00abff 76px,#007bff 90px,#0020ff 126px,#0000fe 144px,#0000cf 176px,#0000bc 200px,#0000bb 216px,#0000d2 234px,#0000fc 262px,#0014ff 278px,#0032ff 294px,#008cff 324px,#009aff 328px,#00ebff 350px,#00ffff 356px,#53ffac 378px,#6eff91 394px,#6fff90)"></i><i style="background:linear-gradient(90deg,#74ff8b 0,#52ffad 24px,#24ffdb 44px,#02fffd 54px,#00d9ff 66px,#00b5ff 74px,#008dff 86px,#004bff 110px,#0015ff 134px,#0000fd 148px,#0000cd 184px,#0000c0 210px,#0000c7 222px,#0000fa 256px,#0006ff 264px,#002bff 288px,#0053ff 302px,#006fff 312px,#0078ff 314px,#0082ff 318px,#008bff 320px,#0094ff 324px,#009dff 326px,#00a5ff 328px,#00b0ff 332px,#02fffd 354px,#54ffab 378px,#70ff8f)"></i><i style="background:linear-gradient(90deg,#75ff8a 0,#55ffaa 24px,#29ffd6 44px,#00fdff 58px,#00ceff 70px,#00c1ff 74px,#00b9ff 76px,#00afff 78px,#00a4ff 82px,#009bff 84px,#0091ff 88px,#0088ff 90px,#007eff 94px,#0071ff 98px,#0030ff 124px,#0000fe 152px,#0000d3 188px,#0000c8 212px,#0000d5 226px,#0000ff 254px,#002bff 284px,#0045ff 296px,#0050ff 300px,#0059ff 302px,#0064ff 306px,#006eff 308px,#0079ff 312px,#0080ff 312px,#008cff 318px,#0096ff 320px,#009fff 324px,#00a8ff 326px,#00afff 328px,#00b8ff 330px,#00c3ff 334px,#00d1ff 338px,#02fffd 352px,#57ffa8 378px,#71ff8e)"></i><i style="background:linear-gradient(90deg,#75ff8a 0,#55ffaa 24px,#26ffd9 46px,#00ffff 60px,#00d9ff 70px,#00ccff 74px,#00c4ff 76px,#00bbff 78px,#00b1ff 82px,#00a9ff 84px,#009dff 88px,#0095ff 90px,#008aff 94px,#0082ff 96px,#0077ff 100px,#006eff 102px,#0034ff 126px,#0001ff 158px,#0000db 192px,#0000d4 214px,#0000e6 230px,#0001ff 248px,#0030ff 282px,#0047ff 294px,#0051ff 296px,#005bff 300px,#0064ff 300px,#0071ff 306px,#007aff 306px,#0086ff 312px,#008eff 312px,#009aff 318px,#00a1ff 318px,#00acff 324px,#00b5ff 326px,#00bcff 328px,#00c4ff 330px,#00ceff 334px,#00feff 350px,#5bffa4 380px,#71ff8e)"></i><i style="background:linear-gradient(90deg,#76ff89 0,#56ffa9 26px,#28ffd7 48px,#00feff 62px,#00e5ff 70px,#00daff 74px,#00d2ff 76px,#00c9ff 78px,#00c0ff 82px,#00b9ff 84px,#00adff 88px,#00a5ff 90px,#009aff 94px,#0091ff 96px,#0086ff 100px,#007dff 102px,#0074ff 106px,#006bff 108px,#003aff 130px,#000bff 160px,#0000fd 170px,#0000e6 196px,#0000e3 216px,#0000fc 236px,#000aff 244px,#003bff 282px,#0047ff 288px,#004eff 290px,#0056ff 294px,#0060ff 294px,#006cff 300px,#0077ff 300px,#0083ff 306px,#008dff 306px,#0098ff 312px,#00a0ff 312px,#00abff 318px,#00b2ff 318px,#00bcff 324px,#00c4ff 326px,#00caff 328px,#00d6ff 332px,#00ffff 346px,#5dffa2 380px,#72ff8d)"></i><i style="background:linear-gradient(90deg,#77ff88 0,#56ffa9 28px,#25ffda 52px,#00fdff 66px,#00e2ff 76px,#00d9ff 80px,#00d2ff 82px,#00caff 84px,#00c2ff 88px,#00baff 90px,#00b1ff 94px,#00a7ff 96px,#009eff 100px,#0093ff 102px,#008bff 106px,#007fff 106px,#0074ff 112px,#006bff 112px,#003cff 136px,#0013ff 166px,#0000fd 188px,#0000f4 214px,#0002ff 228px,#002bff 258px,#004aff 282px,#0053ff 284px,#005bff 288px,#0068ff 290px,#006fff 294px,#007bff 294px,#0086ff 300px,#0091ff 300px,#009cff 306px,#00a4ff 306px,#00afff 312px,#00b6ff 312px,#00bfff 318px,#00c7ff 320px,#02fffd 344px,#61ff9e 380px,#73ff8c)"></i><i style="background:linear-gradient(90deg,#77ff88 0,#58ffa7 28px,#29ffd6 54px,#00fdff 72px,#00daff 88px,#00d2ff 92px,#00cdff 94px,#00c4ff 96px,#00beff 100px,#00b5ff 102px,#00aeff 106px,#00a3ff 106px,#009aff 112px,#008cff 112px,#0081ff 118px,#0078ff 120px,#0045ff 154px,#0022ff 192px,#001cff 216px,#0032ff 236px,#005eff 276px,#0068ff 276px,#006fff 282px,#007eff 284px,#0085ff 288px,#0091ff 290px,#0097ff 294px,#00a0ff 294px,#00a9ff 300px,#00b1ff 300px,#00bbff 306px,#00c2ff 308px,#03fffc 338px,#65ff9a 382px,#74ff8b)"></i><i style="background:linear-gradient(90deg,#78ff87 0,#58ffa7 30px,#27ffd8 60px,#00feff 82px,#00cdff 118px,#00a5ff 162px,#0090ff 200px,#0091ff 220px,#00c1ff 282px,#00d0ff 298px,#02fffd 330px,#3affc5 360px,#68ff97 382px,#75ff8a)"></i><i style="background:linear-gradient(90deg,#78ff87 0,#59ffa6 32px,#1bffe4 76px,#11ffee 88px,#0efff1 94px,#0dfff2 98px,#0bfff4 100px,#10ffef 102px,#0cfff3 106px,#14ffeb 106px,#10ffef 112px,#19ffe6 112px,#15ffea 118px,#1bffe4 120px,#00ffff 172px,#00f6ff 216px,#03fffc 242px,#11ffee 276px,#0afff5 276px,#0dfff2 282px,#02fffd 284px,#05fffa 288px,#00fbff 290px,#00feff 294px,#00f9ff 294px,#00feff 300px,#00fcff 302px,#04fffb 310px,#17ffe8 332px,#3dffc2 358px,#6aff95 382px,#76ff89)"></i><i style="background:linear-gradient(90deg,#79ff86 0,#59ffa6 36px,#32ffcd 70px,#2effd1 76px,#2effd1 80px,#2bffd4 82px,#2dffd2 84px,#2affd5 88px,#2effd1 90px,#2affd5 94px,#30ffcf 96px,#2dffd2 100px,#34ffcb 102px,#32ffcd 106px,#39ffc6 106px,#36ffc9 112px,#39ffc6 114px,#21ffde 184px,#1fffe0 224px,#32ffcd 282px,#2dffd2 284px,#2fffd0 288px,#26ffd9 290px,#29ffd6 294px,#20ffdf 294px,#24ffdb 300px,#1dffe2 300px,#22ffdd 306px,#1cffe3 306px,#21ffde 312px,#1dffe2 312px,#21ffde 318px,#1fffe0 320px,#23ffdc 324px,#23ffdc 326px,#31ffce 344px,#58ffa7 370px,#6fff90 386px,#76ff89)"></i><i style="background:linear-gradient(90deg,#7aff85 0,#53ffac 48px,#43ffbc 66px,#40ffbf 70px,#41ffbe 74px,#3effc1 76px,#41ffbe 78px,#3effc1 82px,#43ffbc 84px,#3fffc0 88px,#45ffba 90px,#42ffbd 94px,#49ffb6 96px,#46ffb9 100px,#4dffb2 102px,#4bffb4 106px,#4fffb0 108px,#3cffc3 202px,#45ffba 262px,#49ffb6 288px,#43ffbc 290px,#45ffba 294px,#3effc1 294px,#40ffbf 300px,#39ffc6 300px,#3cffc3 306px,#35ffca 306px,#39ffc6 312px,#33ffcc 312px,#36ffc9 318px,#32ffcd 318px,#36ffc9 324px,#33ffcc 326px,#35ffca 328px,#33ffcc 330px,#41ffbe 348px,#71ff8e 386px,#77ff88)"></i><i style="background:linear-gradient(90deg,#7aff85 0,#51ffae 60px,#4effb1 66px,#4fffb0 68px,#4dffb2 70px,#50ffaf 72px,#4cffb3 76px,#50ffaf 78px,#4effb1 82px,#53ffac 84px,#50ffaf 88px,#56ffa9 90px,#54ffab 94px,#5affa5 96px,#58ffa7 100px,#5cffa3 102px,#5cffa3 126px,#52ffad 216px,#5affa5 288px,#57ffa8 292px,#57ffa8 294px,#52ffad 294px,#54ffab 300px,#4dffb2 300px,#50ffaf 306px,#49ffb6 306px,#4cffb3 312px,#46ffb9 312px,#48ffb7 318px,#43ffbc 318px,#46ffb9 324px,#41ffbe 324px,#44ffbb 328px,#41ffbe 330px,#45ffba 334px,#44ffbb 338px,#4fffb0 354px,#74ff8b 388px,#78ff87)"></i><i style="background:linear-gradient(90deg,#7bff84 0,#5affa5 60px,#58ffa7 66px,#59ffa6 68px,#58ffa7 70px,#5bffa4 72px,#58ffa7 76px,#5cffa3 78px,#5affa5 82px,#5fffa0 84px,#5dffa2 88px,#62ff9d 90px,#61ff9e 94px,#65ff9a 96px,#64ff9b 100px,#67ff98 104px,#67ff98 132px,#61ff9e 228px,#65ff9a 288px,#63ff9c 294px,#60ff9f 296px,#61ff9e 300px,#5cffa3 300px,#5effa1 306px,#58ffa7 306px,#5affa5 312px,#54ffab 312px,#56ffa9 318px,#51ffae 318px,#53ffac 324px,#4fffb0 324px,#51ffae 328px,#4dffb2 330px,#50ffaf 334px,#4effb1 336px,#56ffa9 354px,#76ff89 390px,#79ff86)"></i><i style="background:linear-gradient(90deg,#7bff84 0,#62ff9d 54px,#60ff9f 66px,#62ff9d 68px,#61ff9e 70px,#64ff9b 72px,#62ff9d 76px,#65ff9a 78px,#64ff9b 82px,#68ff97 84px,#67ff98 88px,#6aff95 90px,#6dff92 122px,#68ff97 230px,#6aff95 294px,#69ff96 300px,#66ff99 302px,#67ff98 306px,#63ff9c 308px,#64ff9b 312px,#60ff9f 314px,#61ff9e 318px,#5cffa3 318px,#5effa1 324px,#5affa5 326px,#5bffa4 328px,#58ffa7 330px,#5affa5 334px,#57ffa8 336px,#5dffa2 354px,#79ff86 394px,#7aff85)"></i><i style="background:linear-gradient(90deg,#7cff83 0,#68ff97 54px,#67ff98 66px,#69ff96 76px,#70ff8f 100px,#6bff94 236px,#6eff91 300px,#6bff94 312px,#68ff97 314px,#69ff96 318px,#65ff9a 320px,#66ff99 324px,#63ff9c 326px,#64ff9b 328px,#60ff9f 330px,#62ff9d 334px,#60ff9f 338px,#63ff9c 358px,#7bff84)"></i><i style="background:linear-gradient(90deg,#7dff82 0,#6cff93 54px,#72ff8d 110px,#6dff92 234px,#6fff90 312px,#6cff93 324px,#6aff95 328px,#66ff99 344px,#6dff92 366px,#7cff83)"></i><i style="background:linear-gradient(90deg,#7dff82 0,#71ff8e 60px,#73ff8c 112px,#6fff90 238px,#71ff8e 318px,#6cff93 344px,#73ff8c 370px,#7cff83)"></i><i style="background:linear-gradient(90deg,#7eff81 0,#74ff8b 66px,#70ff8f 176px,#73ff8c 328px,#72ff8d 358px,#7dff82)"></i><i style="background:linear-gradient(90deg,#7eff81 0,#72ff8d 152px,#74ff8b 284px,#78ff87 366px,#7eff81)"></i><i style="background:linear-gradient(90deg,#7fff80 0,#72ff8d 216px,#7fff80)"></i><i style="background:linear-gradient(90deg,#80ff7f 0,#73ff8c 218px,#7cff83 340px,#80ff7f)"></i><i style="background:linear-gradient(90deg,#80ff7f 0,#82ff7d 54px,#78ff87 112px,#77ff88 278px,#7fff80 334px,#80ff7f 380px,#80ff7f)"></i><i style="background:linear-gradient(90deg,#81ff7e 0,#87ff78 54px,#7cff83 86px,#79ff86 264px,#7dff82 318px,#85ff7a 348px,#80ff7f)"></i><i style="background:linear-gradient(90deg,#81ff7e 0,#8aff75 38px,#8dff72 54px,#88ff77 64px,#83ff7c 76px,#7cff83 104px,#7cff83 300px,#84ff7b 328px,#88ff77 344px,#81ff7e)"></i><i style="background:linear-gradient(90deg,#82ff7d 0,#8bff74 32px,#95ff6a 48px,#95ff6a 54px,#92ff6d 58px,#92ff6d 60px,#8fff70 62px,#8fff70 66px,#8cff73 68px,#8cff73 70px,#88ff77 72px,#88ff77 76px,#85ff7a 80px,#7dff82 106px,#7eff81 300px,#84ff7b 318px,#87ff78 322px,#8bff74 334px,#8dff72 344px,#82ff7d 388px,#81ff7e)"></i><i style="background:linear-gradient(90deg,#83ff7c 0,#8cff73 30px,#9cff63 48px,#9dff62 54px,#9aff65 56px,#9bff64 60px,#97ff68 62px,#98ff67 66px,#94ff6b 68px,#94ff6b 70px,#90ff6f 72px,#90ff6f 76px,#8bff74 78px,#8cff73 82px,#87ff78 84px,#88ff77 88px,#84ff7b 90px,#7eff81 122px,#7fff80 294px,#84ff7b 306px,#87ff78 308px,#87ff78 312px,#8aff75 314px,#8aff75 318px,#8eff71 320px,#8dff72 324px,#91ff6e 326px,#90ff6f 328px,#93ff6c 330px,#92ff6d 334px,#93ff6c 338px,#8eff71 354px,#83ff7c 380px,#82ff7d)"></i><i style="background:linear-gradient(90deg,#83ff7c 0,#8dff72 26px,#a5ff5a 48px,#a7ff58 54px,#a4ff5b 56px,#a5ff5a 60px,#a1ff5e 62px,#a3ff5c 66px,#9eff61 66px,#9fff60 70px,#99ff66 72px,#9aff65 76px,#95ff6a 78px,#95ff6a 82px,#90ff6f 84px,#90ff6f 88px,#8bff74 90px,#8cff73 94px,#87ff78 96px,#87ff78 100px,#84ff7b 104px,#82ff7d 288px,#84ff7b 294px,#87ff78 296px,#87ff78 300px,#8bff74 302px,#8aff75 306px,#8fff70 306px,#8eff71 312px,#93ff6c 312px,#92ff6d 318px,#97ff68 318px,#96ff69 324px,#99ff66 326px,#98ff67 328px,#9bff64 330px,#99ff66 334px,#9bff64 338px,#94ff6b 352px,#85ff7a 374px,#82ff7d)"></i><i style="background:linear-gradient(90deg,#84ff7b 0,#8eff71 24px,#aeff51 48px,#b2ff4d 54px,#afff50 56px,#b1ff4e 60px,#adff52 62px,#afff50 66px,#aaff55 66px,#acff53 70px,#a6ff59 72px,#a7ff58 76px,#a1ff5e 78px,#a3ff5c 82px,#9cff63 84px,#9dff62 88px,#97ff68 90px,#98ff67 94px,#91ff6e 96px,#92ff6d 100px,#8cff73 102px,#8cff73 106px,#88ff77 108px,#85ff7a 282px,#87ff78 288px,#8cff73 290px,#8cff73 294px,#91ff6e 294px,#90ff6f 300px,#96ff69 300px,#95ff6a 306px,#9bff64 306px,#9aff65 312px,#a0ff5f 312px,#9eff61 318px,#a3ff5c 318px,#a0ff5f 324px,#a4ff5b 326px,#a3ff5c 328px,#a5ff5a 330px,#a3ff5c 334px,#a4ff5b 338px,#98ff67 352px,#86ff79 372px,#82ff7d)"></i><i style="background:linear-gradient(90deg,#84ff7b 0,#8fff70 24px,#abff54 42px,#b9ff46 48px,#beff41 54px,#bdff42 58px,#beff41 60px,#bcff43 62px,#beff41 66px,#baff45 68px,#bbff44 70px,#b6ff49 72px,#b8ff47 76px,#b2ff4d 78px,#b4ff4b 82px,#adff52 84px,#afff50 88px,#a8ff57 90px,#a9ff56 94px,#a2ff5d 96px,#a3ff5c 100px,#9cff63 102px,#9dff62 106px,#96ff69 106px,#97ff68 112px,#91ff6e 112px,#91ff6e 118px,#8fff70 122px,#90ff6f 258px,#8eff71 276px,#91ff6e 280px,#91ff6e 282px,#96ff69 284px,#95ff6a 288px,#9cff63 290px,#9bff64 294px,#a2ff5d 294px,#a0ff5f 300px,#a7ff58 300px,#a5ff5a 306px,#acff53 306px,#a9ff56 312px,#afff50 312px,#acff53 318px,#b1ff4e 318px,#aeff51 324px,#b1ff4e 326px,#afff50 328px,#b1ff4e 330px,#adff52 334px,#acff53 338px,#9eff61 352px,#88ff77 370px,#83ff7c)"></i><i style="background:linear-gradient(90deg,#85ff7a 0,#91ff6e 24px,#b0ff4f 40px,#c6ff39 50px,#cbff34 54px,#cdff32 60px,#ccff33 62px,#cfff30 66px,#ccff33 68px,#cdff32 70px,#caff35 72px,#ccff33 76px,#c7ff38 78px,#c9ff36 82px,#c3ff3c 84px,#c6ff39 88px,#bfff40 90px,#c2ff3d 94px,#bbff44 96px,#bdff42 100px,#b6ff49 102px,#b8ff47 106px,#b2ff4d 106px,#b3ff4c 112px,#b0ff4f 114px,#bcff43 192px,#b4ff4b 266px,#afff50 282px,#b2ff4d 284px,#b0ff4f 288px,#b6ff49 290px,#b4ff4b 294px,#bbff44 294px,#b8ff47 300px,#beff41 300px,#bbff44 306px,#c1ff3e 306px,#beff41 312px,#c2ff3d 312px,#bfff40 318px,#c2ff3d 320px,#beff41 324px,#c0ff3f 326px,#b7ff48 338px,#a3ff5c 352px,#8cff73 368px,#83ff7c)"></i><i style="background:linear-gradient(90deg,#86ff79 0,#91ff6e 22px,#abff54 36px,#d3ff2c 50px,#deff21 60px,#e2ff1d 70px,#e0ff1f 74px,#e2ff1d 76px,#dfff20 78px,#e1ff1e 82px,#deff21 84px,#e1ff1e 88px,#dcff23 90px,#e0ff1f 94px,#dbff24 96px,#deff21 100px,#daff25 102px,#dcff23 106px,#d9ff26 108px,#eeff11 158px,#f4ff0b 210px,#e7ff18 262px,#d6ff29 288px,#d9ff26 290px,#d6ff29 294px,#dbff24 294px,#d6ff29 300px,#dbff24 300px,#d6ff29 306px,#d9ff26 308px,#d6ff29 312px,#d8ff27 314px,#d4ff2b 318px,#d4ff2b 320px,#c9ff36 334px,#b2ff4d 348px,#93ff6c 364px,#88ff77 378px,#84ff7b)"></i><i style="background:linear-gradient(90deg,#86ff79 0,#93ff6c 22px,#aeff51 34px,#e3ff1c 52px,#f4ff0b 66px,#fffc00 94px,#ffee00 120px,#ffda00 150px,#ffcd00 196px,#ffd800 246px,#ffea00 270px,#feff01 296px,#e7ff18 322px,#ceff31 338px,#acff53 354px,#93ff6c 366px,#88ff77 380px,#84ff7b)"></i><i style="background:linear-gradient(90deg,#87ff78 0,#94ff6b 20px,#b0ff4f 34px,#e1ff1e 46px,#f6ff09 54px,#fffc00 60px,#ffc000 112px,#ff9b00 142px,#ff8700 188px,#ff8b00 224px,#ff9d00 258px,#ffdd00 300px,#fdff02 322px,#d1ff2e 342px,#9cff63 362px,#8bff74 374px,#85ff7a)"></i><i style="background:linear-gradient(90deg,#88ff77 0,#96ff69 20px,#b2ff4d 32px,#deff21 44px,#fdff02 50px,#ffdd00 68px,#ffc900 82px,#ffbe00 88px,#ffb600 92px,#ffb100 94px,#ffab00 96px,#ffa400 100px,#ff9c00 104px,#ff6400 138px,#ff4800 178px,#ff4500 206px,#ff5700 246px,#ff6800 262px,#ff9a00 288px,#ffb500 298px,#ffc400 304px,#feff01 330px,#c6ff39 350px,#a4ff5b 360px,#8eff71 372px,#85ff7a)"></i><i style="background:linear-gradient(90deg,#88ff77 0,#96ff69 20px,#b3ff4c 32px,#e2ff1d 42px,#fffd00 48px,#ffeb00 54px,#ffd200 64px,#ffc500 70px,#ffbe00 74px,#ffba00 76px,#ffb400 78px,#ffaf00 82px,#ffa700 84px,#ffa000 88px,#ff9900 90px,#ff9000 94px,#ff8800 96px,#ff7f00 100px,#ff7600 102px,#ff6f00 106px,#ff6700 106px,#ff5e00 112px,#ff5600 114px,#ff2700 138px,#ff0700 176px,#ff0100 202px,#ff1000 236px,#ff2300 256px,#ff5c00 282px,#ff6700 286px,#ff6e00 288px,#ff7600 290px,#ff8000 294px,#ff8900 294px,#ff9400 300px,#ff9d00 300px,#ffa800 306px,#ffaf00 306px,#ffba00 312px,#ffc300 314px,#ffcb00 318px,#ffd600 320px,#fffe00 334px,#c4ff3b 352px,#a7ff58 360px,#8fff70 372px,#85ff7a)"></i><i style="background:linear-gradient(90deg,#89ff76 0,#98ff67 20px,#b3ff4c 30px,#e5ff1a 42px,#fdff02 46px,#ffe000 52px,#ffc300 62px,#ffbd00 66px,#ffb600 68px,#ffb200 70px,#ffaa00 72px,#ffa500 76px,#ff9e00 78px,#ff9700 82px,#ff8f00 84px,#ff8700 88px,#ff7e00 90px,#ff7400 94px,#ff6b00 96px,#ff6100 100px,#ff5700 102px,#ff4e00 106px,#ff4500 106px,#ff3a00 112px,#ff3100 112px,#ff2300 118px,#ff1b00 120px,#fd0000 134px,#e70000 150px,#cc0000 184px,#cb0000 208px,#e00000 242px,#f30000 258px,#ff0300 264px,#ff1f00 276px,#ff2800 278px,#ff3500 282px,#ff3f00 284px,#ff4c00 288px,#ff5700 290px,#ff6100 294px,#ff6c00 294px,#ff7900 300px,#ff8200 300px,#ff8e00 306px,#ff9700 306px,#ffa300 312px,#ffab00 312px,#ffb700 318px,#ffc100 320px,#ffcb00 324px,#ffd400 326px,#feff01 338px,#bdff42 354px,#a2ff5d 362px,#8fff70 372px,#86ff79)"></i><i style="background:linear-gradient(90deg,#89ff76 0,#98ff67 18px,#b1ff4e 28px,#d2ff2d 36px,#fffe00 44px,#ffda00 50px,#ffc200 58px,#ffb100 64px,#ffad00 66px,#ffa500 68px,#ffa000 70px,#ff9a00 72px,#ff9200 76px,#ff8b00 78px,#ff8300 82px,#ff7c00 84px,#ff7200 88px,#ff6900 90px,#ff5f00 94px,#ff5600 96px,#ff4b00 100px,#ff4200 102px,#ff3900 106px,#ff3100 106px,#ff2600 112px,#ff1a00 116px,#fe0000 126px,#de0000 144px,#be0000 180px,#b90000 204px,#c90000 234px,#e00000 256px,#ff0200 270px,#ff2500 282px,#ff3400 286px,#ff3900 288px,#ff4200 290px,#ff4d00 294px,#ff5700 294px,#ff6500 300px,#ff6e00 300px,#ff7b00 306px,#ff8400 306px,#ff9100 312px,#ff9900 312px,#ffa600 318px,#ffae00 318px,#ffbc00 324px,#ffc600 326px,#ffce00 328px,#ffdb00 332px,#ffff00 340px,#d6ff29 350px,#b1ff4e 358px,#93ff6c 370px,#86ff79 394px,#86ff79)"></i><i style="background:linear-gradient(90deg,#8aff75 0,#99ff66 18px,#b0ff4f 28px,#d2ff2d 36px,#fffe00 44px,#ffcf00 50px,#ffb500 58px,#ffb000 60px,#ffa800 62px,#ff9f00 66px,#ff9700 68px,#ff9100 70px,#ff8b00 72px,#ff8300 76px,#ff7c00 78px,#ff7400 82px,#ff6c00 84px,#ff6200 88px,#ff5b00 90px,#ff5000 94px,#ff4800 96px,#ff3d00 100px,#ff3400 102px,#fd0000 124px,#d90000 142px,#b70000 178px,#b10000 202px,#c00000 232px,#d90000 256px,#ff0100 272px,#ff3100 288px,#ff4200 294px,#ff4c00 296px,#ff5800 300px,#ff6200 302px,#ff6d00 306px,#ff7500 306px,#ff8300 312px,#ff8b00 312px,#ff9900 318px,#ffa300 320px,#ffaf00 324px,#ffb900 326px,#ffc300 328px,#ffd000 332px,#fff000 340px,#fffe00 342px,#d0ff2f 352px,#b4ff4b 358px,#96ff69 370px,#88ff77 388px,#87ff78)"></i><i style="background:linear-gradient(90deg,#8bff74 0,#99ff66 18px,#afff50 26px,#cbff34 34px,#fffe00 42px,#ffc600 50px,#ffaa00 58px,#ffa500 60px,#ff9c00 62px,#ff9300 66px,#ff8b00 68px,#ff8500 70px,#ff7d00 72px,#ff7700 76px,#ff6f00 78px,#ff6800 82px,#ff5f00 84px,#ff5700 88px,#ff4e00 90px,#ff4500 94px,#ff3600 100px,#fe0000 122px,#d50000 140px,#b20000 176px,#aa0000 200px,#b80000 230px,#d30000 256px,#ff0100 274px,#ff3b00 294px,#ff6400 306px,#ff6d00 308px,#ff7900 312px,#ff8300 314px,#ff8e00 318px,#ff9800 320px,#ffa500 324px,#ffaf00 326px,#ffb900 328px,#ffc700 332px,#ffe800 340px,#feff01 344px,#b7ff48 358px,#97ff68 370px,#89ff76 388px,#87ff78)"></i><i style="background:linear-gradient(90deg,#8bff74 0,#9aff65 18px,#aeff51 26px,#cfff30 34px,#ffff00 42px,#ffbd00 50px,#ffa100 58px,#ff8e00 64px,#ff8900 66px,#ff8100 68px,#ff7b00 70px,#ff7400 72px,#ff6d00 76px,#ff6400 80px,#ff5f00 82px,#ff5300 86px,#ff0200 118px,#ce0000 142px,#ab0000 178px,#a40000 202px,#b30000 230px,#cd0000 256px,#ff0100 276px,#ff5d00 306px,#ff8700 318px,#ff9600 322px,#ffb100 328px,#ffc600 334px,#ffff00 346px,#b9ff46 358px,#98ff67 370px,#89ff76 388px,#87ff78)"></i><i style="background:linear-gradient(90deg,#8bff74 0,#9cff63 18px,#b0ff4f 26px,#d2ff2d 34px,#feff01 40px,#ffb600 50px,#ff9900 58px,#ff8600 64px,#ff6b00 74px,#ff3c00 94px,#fd0000 118px,#cd0000 140px,#a90000 174px,#9f0000 198px,#ab0000 226px,#c70000 254px,#f40000 272px,#ff0300 278px,#ff8100 318px,#ffc400 334px,#fdff02 346px,#bcff43 358px,#99ff66 370px,#8aff75 386px,#87ff78)"></i><i style="background:linear-gradient(90deg,#8cff73 0,#9bff64 16px,#aeff51 24px,#d5ff2a 34px,#fffc00 40px,#ffb000 50px,#ff9300 58px,#ff7d00 64px,#ff6400 74px,#ff2700 100px,#fe0000 116px,#cb0000 138px,#a70000 170px,#9b0000 196px,#a40000 222px,#c10000 254px,#e80000 270px,#ff0200 278px,#ff7d00 318px,#ffc000 334px,#fffd00 346px,#ecff13 350px,#c2ff3d 358px,#9cff63 368px,#8fff70 380px,#88ff77)"></i><i style="background:linear-gradient(90deg,#8cff73 0,#9cff63 16px,#b0ff4f 24px,#d7ff28 34px,#feff01 40px,#ffab00 50px,#ff8e00 58px,#ff6b00 70px,#ff2e00 96px,#fe0000 116px,#c80000 138px,#a40000 170px,#970000 196px,#a00000 222px,#be0000 254px,#e20000 268px,#ff0200 280px,#ff8c00 322px,#ffcb00 338px,#ffff00 348px,#bfff40 358px,#9dff62 368px,#8fff70 380px,#88ff77)"></i><i style="background:linear-gradient(90deg,#8dff72 0,#9cff63 16px,#b1ff4e 24px,#d9ff26 34px,#fffd00 40px,#ffa800 50px,#ff8a00 58px,#ff6800 70px,#ff3100 94px,#fe0000 114px,#c50000 138px,#a10000 170px,#940000 196px,#9d0000 222px,#bb0000 254px,#e00000 268px,#ff0000 280px,#ff8d00 324px,#ffcd00 338px,#fdff02 348px,#c1ff3e 358px,#9eff61 368px,#90ff6f 380px,#88ff77)"></i><i style="background:linear-gradient(90deg,#8dff72 0,#9dff62 16px,#b2ff4d 24px,#d5ff2a 32px,#fbff04 38px,#ffec00 42px,#ffa500 50px,#ff8400 58px,#ff6100 72px,#ff3400 92px,#fd0000 114px,#c30000 138px,#9f0000 170px,#920000 196px,#9a0000 222px,#b90000 254px,#de0000 268px,#ff0100 280px,#ff8b00 324px,#ffcb00 338px,#ffff00 348px,#c2ff3d 358px,#9eff61 368px,#91ff6e 378px,#88ff77)"></i><i style="background:linear-gradient(90deg,#8dff72 0,#9dff62 16px,#b3ff4c 24px,#d6ff29 32px,#fdff02 38px,#ffda00 44px,#ffa300 50px,#ff8200 58px,#ff5e00 72px,#ff3100 94px,#fe0000 114px,#c20000 138px,#9d0000 170px,#910000 196px,#990000 222px,#b80000 254px,#dc0000 268px,#ff0000 280px,#ff8e00 324px,#ffc900 338px,#fffe00 348px,#c3ff3c 358px,#9fff60 368px,#91ff6e 378px,#89ff76)"></i><i style="background:linear-gradient(90deg,#8dff72 0,#9eff61 16px,#b3ff4c 24px,#d7ff28 32px,#feff01 38px,#ffa100 50px,#ff8000 58px,#ff5d00 72px,#ff3000 94px,#fd0000 114px,#c10000 138px,#9c0000 170px,#8f0000 196px,#980000 222px,#b70000 254px,#dc0000 268px,#ff0200 282px,#ff9100 326px,#ffcd00 340px,#fffd00 348px,#c4ff3b 358px,#9fff60 368px,#91ff6e 378px,#89ff76)"></i><i style="background:linear-gradient(90deg,#8eff71 0,#9eff61 16px,#b4ff4b 24px,#d8ff27 32px,#ffff00 38px,#ffa000 50px,#ff8000 58px,#ff5c00 72px,#ff3200 92px,#fd0000 114px,#c00000 138px,#9c0000 170px,#8f0000 196px,#970000 222px,#b60000 254px,#db0000 268px,#ff0200 282px,#ff9100 326px,#ffcc00 340px,#fffc00 348px,#efff10 352px,#c4ff3b 358px,#a0ff5f 368px,#91ff6e 378px,#89ff76)"></i><i style="background:linear-gradient(90deg,#8eff71 0,#9fff60 16px,#b4ff4b 24px,#d9ff26 32px,#fffe00 38px,#ffa000 50px,#ff8000 58px,#ff5c00 72px,#ff3200 92px,#fd0000 114px,#c00000 138px,#9c0000 170px,#8f0000 196px,#970000 222px,#b60000 254px,#db0000 268px,#ff0200 282px,#ff9100 326px,#ffcc00 340px,#fffc00 348px,#f6ff09 350px,#c4ff3b 358px,#a0ff5f 368px,#92ff6d 378px,#89ff76)"></i><i style="background:linear-gradient(90deg,#8eff71 0,#9fff60 16px,#b4ff4b 24px,#d9ff26 32px,#fffe00 38px,#ffa000 50px,#ff8000 58px,#ff5b00 74px,#ff3000 94px,#fd0000 114px,#c10000 138px,#9c0000 170px,#900000 196px,#980000 222px,#b70000 254px,#dc0000 268px,#ff0200 282px,#ff9100 326px,#ffcc00 340px,#fffc00 348px,#f6ff09 350px,#c5ff3a 358px,#a0ff5f 368px,#92ff6d 378px,#89ff76)"></i><i style="background:linear-gradient(90deg,#8eff71 0,#9fff60 16px,#b4ff4b 24px,#d9ff26 32px,#fffe00 38px,#ffa100 50px,#ff8000 58px,#ff5c00 74px,#ff3100 94px,#fe0000 114px,#c20000 138px,#9e0000 170px,#910000 196px,#990000 222px,#b80000 254px,#dd0000 268px,#ff0000 280px,#ff9200 326px,#ffcd00 340px,#fffc00 348px,#efff10 352px,#c5ff3a 358px,#a0ff5f 368px,#92ff6d 378px,#89ff76)"></i><i style="background:linear-gradient(90deg,#8eff71 0,#9fff60 16px,#b4ff4b 24px,#d9ff26 32px,#fffe00 38px,#ffa100 50px,#ff8100 58px,#ff5d00 74px,#ff3000 94px,#fd0000 114px,#c40000 138px,#a00000 170px,#930000 196px,#9b0000 222px,#ba0000 254px,#df0000 268px,#ff0200 280px,#ff9300 326px,#ffce00 340px,#fffd00 348px,#e8ff17 352px,#c4ff3b 358px,#a0ff5f 368px,#92ff6d 378px,#89ff76)"></i><i style="background:linear-gradient(90deg,#8eff71 0,#9fff60 16px,#b4ff4b 24px,#d9ff26 32px,#ffff00 38px,#ffa300 50px,#ff8300 58px,#ff5f00 74px,#ff3200 94px,#fd0000 116px,#c60000 138px,#a20000 170px,#960000 196px,#9e0000 222px,#bc0000 254px,#e10000 268px,#ff0100 280px,#ff9400 326px,#ffcf00 340px,#fffd00 348px,#c4ff3b 358px,#a0ff5f 368px,#92ff6d 378px,#89ff76)"></i><i style="background:linear-gradient(90deg,#8eff71 0,#9fff60 16px,#b4ff4b 24px,#d8ff27 32px,#ffff00 38px,#ffa400 50px,#ff8400 58px,#ff6100 74px,#ff3400 94px,#fd0000 116px,#c90000 138px,#a50000 170px,#990000 196px,#a20000 222px,#c00000 254px,#e40000 268px,#ff0100 278px,#ff9200 324px,#ffcb00 338px,#fffe00 348px,#c4ff3b 358px,#a0ff5f 368px,#92ff6d 378px,#89ff76)"></i><i style="background:linear-gradient(90deg,#8eff71 0,#9fff60 16px,#b4ff4b 24px,#d8ff27 32px,#feff01 38px,#ffca00 46px,#ffa000 52px,#ff7e00 62px,#ff5400 82px,#fe0000 118px,#cb0000 140px,#a70000 174px,#9d0000 198px,#a70000 224px,#c50000 254px,#f20000 272px,#ff0100 278px,#ff9400 324px,#ffcc00 338px,#ffff00 348px,#c3ff3c 358px,#a0ff5f 368px,#92ff6d 378px,#89ff76)"></i><i style="background:linear-gradient(90deg,#8eff71 0,#9fff60 16px,#b3ff4c 24px,#d7ff28 32px,#fdff02 38px,#ffe400 42px,#ffae00 50px,#ff9200 56px,#ff6d00 70px,#ff3e00 92px,#ff0000 118px,#cf0000 140px,#ab0000 174px,#a10000 198px,#ad0000 226px,#c90000 254px,#f60000 272px,#ff0200 276px,#ff9600 324px,#ffce00 338px,#feff01 348px,#c3ff3c 358px,#9dff62 370px,#8dff72 386px,#89ff76)"></i><i style="background:linear-gradient(90deg,#8eff71 0,#9eff61 16px,#b3ff4c 24px,#d6ff29 32px,#fcff03 38px,#fff500 40px,#ffb000 50px,#ff9500 56px,#ff7000 70px,#ff4200 92px,#fe0000 120px,#d20000 140px,#af0000 176px,#a60000 200px,#b20000 228px,#cf0000 256px,#ff0000 274px,#ff9500 324px,#ffd000 338px,#fdff02 348px,#c2ff3d 358px,#9dff62 370px,#8dff72 386px,#89ff76)"></i><i style="background:linear-gradient(90deg,#8eff71 0,#9eff61 16px,#b3ff4c 24px,#d6ff29 32px,#fffd00 40px,#ffb200 50px,#ff9800 56px,#ff7200 70px,#ff4800 92px,#fd0000 122px,#d50000 142px,#b30000 178px,#ac0000 202px,#ba0000 230px,#d40000 256px,#ff0200 274px,#ff8b00 320px,#ffc900 336px,#fffd00 348px,#c2ff3d 358px,#9cff63 370px,#8dff72 386px,#89ff76)"></i><i style="background:linear-gradient(90deg,#8eff71 0,#9eff61 16px,#b2ff4d 24px,#d5ff2a 32px,#fffe00 40px,#ffb400 50px,#ff9a00 56px,#ff7600 70px,#ff4d00 92px,#fd0000 124px,#d90000 142px,#b80000 178px,#b20000 202px,#c10000 232px,#da0000 256px,#ff0200 272px,#ff5300 300px,#ffb000 330px,#ffeb00 344px,#ffff00 348px,#c1ff3e 358px,#9cff63 370px,#8cff73 386px,#89ff76)"></i><i style="background:linear-gradient(90deg,#8dff72 0,#9eff61 16px,#b2ff4d 24px,#d4ff2b 32px,#feff01 40px,#ffb100 50px,#ff9400 58px,#ff7300 74px,#ff4b00 94px,#fe0000 126px,#de0000 144px,#bd0000 180px,#b80000 204px,#c80000 234px,#df0000 256px,#ff0200 270px,#ff4600 294px,#ffb300 330px,#ffed00 344px,#feff01 348px,#c0ff3f 358px,#9cff63 370px,#8cff73 386px,#89ff76)"></i><i style="background:linear-gradient(90deg,#8dff72 0,#9fff60 18px,#b5ff4a 26px,#d9ff26 34px,#fdff02 40px,#ffd500 46px,#ffb400 50px,#ff9700 58px,#ff7700 74px,#ff5100 94px,#fd0000 130px,#e20000 146px,#c40000 182px,#c00000 206px,#d20000 236px,#e80000 256px,#ff0200 268px,#ff4600 292px,#ffb600 330px,#ffef00 344px,#fcff03 348px,#c0ff3f 358px,#9cff63 370px,#8cff73 386px,#89ff76)"></i><i style="background:linear-gradient(90deg,#8dff72 0,#9eff61 18px,#b4ff4b 26px,#d8ff27 34px,#fbff04 40px,#fff500 42px,#ffbc00 50px,#ffa300 56px,#ff8300 70px,#ff5e00 92px,#ff0000 136px,#e60000 156px,#d10000 188px,#d20000 214px,#ed0000 250px,#ff0100 262px,#ff6200 298px,#ffaf00 326px,#ffe300 340px,#fffe00 346px,#bfff40 358px,#9bff64 370px,#8cff73 386px,#89ff76)"></i><i style="background:linear-gradient(90deg,#8dff72 0,#9eff61 18px,#b3ff4c 26px,#d7ff28 34px,#fffe00 40px,#ffbe00 50px,#ffa600 56px,#ff8700 70px,#ff6400 92px,#ff1f00 128px,#ff0200 144px,#e20000 186px,#e30000 212px,#fb0000 248px,#ff0500 256px,#ff5900 292px,#ffa600 322px,#ffd500 336px,#feff01 346px,#beff41 358px,#9bff64 370px,#8bff74 386px,#88ff77)"></i><i style="background:linear-gradient(90deg,#8dff72 0,#9eff61 18px,#b3ff4c 26px,#d5ff2a 34px,#ffff00 40px,#ffc100 50px,#ffa900 56px,#ff8c00 68px,#ff6700 92px,#ff2f00 122px,#ff0b00 142px,#fd0000 156px,#e80000 188px,#eb0000 216px,#ff0200 248px,#ff1400 260px,#ff9900 316px,#ffcc00 334px,#fcff03 346px,#bdff42 358px,#9bff64 370px,#8bff74 386px,#88ff77)"></i><i style="background:linear-gradient(90deg,#8dff72 0,#9dff62 18px,#b6ff49 26px,#daff25 34px,#fdff02 40px,#ffbe00 50px,#ffa300 58px,#ff8900 72px,#ff6b00 92px,#ff2500 128px,#ff0b00 146px,#fc0000 160px,#eb0000 190px,#ef0000 218px,#ff0200 244px,#ff1300 258px,#ffa600 320px,#ffd500 336px,#ffff00 346px,#b9ff46 360px,#9aff65 370px,#8bff74 386px,#88ff77)"></i><i style="background:linear-gradient(90deg,#8cff73 0,#9dff62 18px,#b5ff4a 26px,#d8ff27 34px,#fcff03 40px,#fff500 42px,#ffc500 50px,#ffae00 56px,#ff9000 70px,#ff7000 92px,#ff1200 140px,#fc0000 162px,#ed0000 192px,#f30000 222px,#ff0300 242px,#ff1500 258px,#ff7400 298px,#ffb700 326px,#ffea00 340px,#feff01 346px,#b8ff47 360px,#9aff65 370px,#8bff74 386px,#88ff77)"></i><i style="background:linear-gradient(90deg,#8cff73 0,#9cff63 18px,#b4ff4b 26px,#d7ff28 34px,#fffd00 42px,#ffc700 50px,#ffad00 56px,#ff9000 70px,#ff7200 92px,#ff1500 140px,#fd0000 164px,#ee0000 192px,#f50000 222px,#ff0300 240px,#ff1500 258px,#ff6e00 296px,#ffbc00 326px,#ffec00 340px,#fcff03 346px,#b7ff48 360px,#99ff66 370px,#8aff75 388px,#88ff77)"></i><i style="background:linear-gradient(90deg,#8cff73 0,#9cff63 18px,#b3ff4c 26px,#d6ff29 34px,#ffff00 42px,#ffc400 50px,#ffa800 60px,#ff8a00 76px,#ff6a00 96px,#ff1600 140px,#fd0000 166px,#ef0000 194px,#f70000 224px,#ff0300 240px,#ff1600 258px,#ff6700 292px,#ffbd00 326px,#ffee00 340px,#ffff00 344px,#b6ff49 360px,#99ff66 370px,#8aff75 388px,#88ff77)"></i><i style="background:linear-gradient(90deg,#8cff73 0,#9bff64 18px,#b2ff4d 26px,#d4ff2b 34px,#fdff02 42px,#ffc700 50px,#ffaa00 60px,#ff8c00 76px,#ff6600 98px,#ff1700 140px,#fd0000 166px,#f00000 196px,#f90000 226px,#ff0400 240px,#ff1700 258px,#ff6800 292px,#ffc200 328px,#fff400 342px,#fdff02 344px,#b9ff46 358px,#98ff67 370px,#8aff75 388px,#88ff77)"></i><i style="background:linear-gradient(90deg,#8bff74 0,#9cff63 18px,#b4ff4b 28px,#d8ff27 36px,#fffd00 42px,#ffc900 50px,#ffaa00 60px,#ff8b00 78px,#ff4200 118px,#ff1600 140px,#fd0000 168px,#f10000 196px,#fa0000 226px,#ff0400 238px,#ff1800 258px,#ff6900 292px,#ffc300 328px,#fffa00 342px,#fcff03 344px,#b8ff47 358px,#98ff67 370px,#89ff76 388px,#87ff78)"></i><i style="background:linear-gradient(90deg,#8bff74 0,#9bff64 18px,#b7ff48 28px,#dbff24 36px,#feff01 42px,#ffcc00 50px,#ffac00 60px,#ff8a00 80px,#ff1800 140px,#fe0000 168px,#f10000 196px,#fa0000 226px,#ff0400 238px,#ff1800 258px,#ff6900 292px,#ffc200 326px,#fff400 340px,#feff01 344px,#c4ff3b 356px,#a3ff5c 364px,#92ff6d 374px,#87ff78)"></i><i style="background:linear-gradient(90deg,#8bff74 0,#9aff65 18px,#b5ff4a 28px,#d9ff26 36px,#fcff03 42px,#fff400 44px,#ffd000 50px,#ffb500 58px,#ff9500 74px,#ff5c00 104px,#ff1900 140px,#fd0000 168px,#f20000 196px,#fc0000 226px,#ff0700 242px,#ff1900 258px,#ff6a00 292px,#ffbe00 324px,#fff200 340px,#ffff00 342px,#d1ff2e 352px,#b2ff4d 360px,#95ff6a 370px,#87ff78 392px,#87ff78)"></i><i style="background:linear-gradient(90deg,#8aff75 0,#9aff65 18px,#b4ff4b 28px,#d6ff29 36px,#ffff00 44px,#ffd400 50px,#ffb900 58px,#ff9900 72px,#ff6900 98px,#ff1a00 140px,#fe0000 170px,#f30000 198px,#fe0000 228px,#ff1500 254px,#ff4a00 280px,#ffba00 322px,#fff500 340px,#fdff02 342px,#c5ff3a 354px,#aaff55 362px,#93ff6c 372px,#87ff78)"></i><i style="background:linear-gradient(90deg,#8aff75 0,#99ff66 18px,#b2ff4d 28px,#d4ff2b 36px,#fbff04 44px,#fff600 46px,#ffd400 52px,#ffb300 62px,#ff9900 76px,#ff1c00 138px,#fe0000 170px,#f40000 198px,#ff0200 232px,#ff1900 256px,#ff6300 290px,#ffc000 324px,#fff800 340px,#fdff02 342px,#c8ff37 354px,#acff53 360px,#94ff6b 370px,#87ff78 394px,#86ff79)"></i><i style="background:linear-gradient(90deg,#89ff76 0,#98ff67 18px,#b0ff4f 28px,#d0ff2f 36px,#feff01 44px,#ffda00 52px,#ffb900 62px,#ff9f00 74px,#ff8300 88px,#ff4500 118px,#ff1b00 140px,#fe0000 172px,#f50000 200px,#ff0200 230px,#ff1a00 256px,#ff6500 290px,#ffb100 318px,#fffc00 340px,#d9ff26 350px,#b0ff4f 358px,#93ff6c 370px,#86ff79)"></i><i style="background:linear-gradient(90deg,#89ff76 0,#98ff67 20px,#b4ff4b 30px,#e6ff19 42px,#feff01 46px,#ffe100 52px,#ffc000 62px,#ffbb00 66px,#ffb200 68px,#ffa500 76px,#ff9a00 80px,#ff9700 82px,#ff9000 84px,#ff8900 88px,#ff7f00 92px,#ff4f00 114px,#ff1e00 140px,#ff0000 174px,#f80000 202px,#ff0300 228px,#ff1a00 256px,#ff5c00 286px,#ff9300 306px,#ff9e00 308px,#ffa500 312px,#ffb000 314px,#ffb700 318px,#ffc200 320px,#fdff02 340px,#b9ff46 356px,#9bff64 366px,#8dff72 376px,#86ff79)"></i><i style="background:linear-gradient(90deg,#89ff76 0,#97ff68 20px,#b5ff4a 32px,#e6ff19 42px,#fdff02 46px,#ffe500 52px,#ffc900 62px,#ffc400 66px,#ffbd00 68px,#ffb900 70px,#ffb200 72px,#ffad00 76px,#ffa600 78px,#ffa000 82px,#ff9800 84px,#ff9100 88px,#ff8900 90px,#ff8100 94px,#ff7900 96px,#ff7100 100px,#ff6900 102px,#ff2300 138px,#ff0400 172px,#fa0000 194px,#ff0300 224px,#ff1d00 256px,#ff5a00 284px,#ff7500 294px,#ff7e00 296px,#ff8800 300px,#ff9100 302px,#ff9a00 306px,#ffa300 308px,#ffad00 312px,#ffb600 314px,#ffbf00 318px,#ffc800 320px,#ffd200 324px,#ffdd00 326px,#fdff02 338px,#c3ff3c 352px,#a9ff56 360px,#91ff6e 370px,#86ff79)"></i><i style="background:linear-gradient(90deg,#88ff77 0,#96ff69 20px,#b2ff4d 32px,#e0ff1f 42px,#fffe00 48px,#ffee00 52px,#ffd400 62px,#ffcf00 66px,#ffc700 68px,#ffc400 70px,#ffbd00 72px,#ffb900 76px,#ffb200 78px,#ffac00 82px,#ffa600 84px,#ff9e00 88px,#ff9600 90px,#ff8e00 94px,#ff8600 96px,#ff7d00 100px,#ff7400 102px,#ff6d00 106px,#ff6500 106px,#ff5c00 112px,#ff5400 114px,#ff2300 140px,#ff0400 178px,#fe0000 202px,#ff0a00 230px,#ff2100 256px,#ff5a00 282px,#ff6200 284px,#ff6c00 288px,#ff7400 290px,#ff7e00 294px,#ff8600 294px,#ff9200 300px,#ff9a00 300px,#ffa500 306px,#ffad00 306px,#ffb800 312px,#ffc100 314px,#ffc900 318px,#ffd200 320px,#ffdb00 324px,#ffe600 326px,#fffd00 334px,#c8ff37 350px,#a9ff56 358px,#90ff6f 370px,#85ff7a)"></i><i style="background:linear-gradient(90deg,#88ff77 0,#96ff69 20px,#b2ff4d 32px,#dfff20 44px,#fffe00 50px,#ffe000 62px,#ffd100 70px,#ffca00 74px,#ffc700 76px,#ffc000 78px,#ffbc00 82px,#ffb400 84px,#ffae00 88px,#ffa700 90px,#ff9f00 94px,#ff9700 96px,#ff8f00 100px,#ff8600 102px,#ff7f00 106px,#ff7600 106px,#ff6e00 112px,#ff6500 112px,#ff5a00 118px,#ff5000 122px,#ff2d00 142px,#ff1100 182px,#ff0f00 208px,#ff2300 244px,#ff3400 260px,#ff5600 276px,#ff5f00 278px,#ff6800 282px,#ff7100 284px,#ff7d00 288px,#ff8600 290px,#ff8f00 294px,#ff9800 294px,#ffa300 300px,#ffab00 300px,#ffb500 306px,#ffbc00 306px,#ffc600 312px,#ffce00 314px,#ffd700 318px,#ffe100 320px,#ffff00 332px,#c3ff3c 350px,#a4ff5b 360px,#8eff71 372px,#85ff7a)"></i><i style="background:linear-gradient(90deg,#87ff78 0,#94ff6b 20px,#aeff51 32px,#d8ff27 44px,#f9ff06 52px,#fffa00 56px,#ffd900 74px,#ffce00 82px,#ffc700 86px,#ffc200 88px,#ffbc00 90px,#ffb600 94px,#ffae00 96px,#ffa800 100px,#ffa000 102px,#ff9c00 106px,#ff9500 108px,#ff6200 138px,#ff4600 180px,#ff4400 208px,#ff5700 248px,#ff6c00 264px,#ff9c00 288px,#ffa400 290px,#ffaa00 294px,#ffb200 296px,#ffba00 300px,#ffc200 302px,#ffc900 306px,#ffd100 308px,#ffd800 312px,#ffe300 316px,#ffff00 328px,#beff41 350px,#a2ff5d 360px,#8dff72 372px,#85ff7a)"></i><i style="background:linear-gradient(90deg,#87ff78 0,#94ff6b 22px,#aeff51 34px,#ddff22 46px,#f2ff0d 54px,#fffd00 62px,#ffd000 94px,#ffb000 118px,#ff9100 146px,#ff7e00 190px,#ff8300 226px,#ff9600 258px,#ffca00 294px,#feff01 322px,#caff35 344px,#9dff62 360px,#8bff74 372px,#84ff7b)"></i><i style="background:linear-gradient(90deg,#86ff79 0,#92ff6d 22px,#acff53 34px,#e5ff1a 52px,#feff01 72px,#ffd200 124px,#ffbe00 150px,#ffb000 194px,#ffb900 238px,#ffc700 262px,#fdff02 310px,#d1ff2e 338px,#97ff68 362px,#89ff76 374px,#84ff7b)"></i><i style="background:linear-gradient(90deg,#86ff79 0,#92ff6d 22px,#abff54 36px,#d7ff28 52px,#eaff15 70px,#f8ff07 100px,#f8ff07 104px,#fffc00 124px,#ffeb00 154px,#ffe200 202px,#ffef00 254px,#fdff02 278px,#f2ff0d 294px,#efff10 298px,#dfff20 320px,#c0ff3f 342px,#95ff6a 362px,#88ff77 376px,#84ff7b)"></i><i style="background:linear-gradient(90deg,#85ff7a 0,#90ff6f 22px,#a8ff57 36px,#ccff33 52px,#d8ff27 66px,#dbff24 82px,#dbff24 86px,#dcff23 94px,#daff25 96px,#dcff23 100px,#daff25 102px,#e0ff1f 122px,#f0ff0f 162px,#f4ff0b 212px,#e7ff18 262px,#d7ff28 288px,#d7ff28 292px,#d6ff29 298px,#d5ff2a 300px,#d7ff28 302px,#d3ff2c 306px,#d4ff2b 308px,#c8ff37 328px,#b3ff4c 344px,#90ff6f 364px,#86ff79 380px,#83ff7c)"></i><i style="background:linear-gradient(90deg,#85ff7a 0,#90ff6f 24px,#abff54 40px,#c1ff3e 52px,#c9ff36 66px,#c9ff36 76px,#c7ff38 80px,#c8ff37 82px,#c5ff3a 84px,#c7ff38 88px,#c4ff3b 90px,#c6ff39 94px,#c3ff3c 96px,#c5ff3a 100px,#c2ff3d 102px,#c6ff39 124px,#d3ff2c 182px,#ceff31 250px,#bfff40 288px,#bfff40 294px,#c2ff3d 296px,#bfff40 300px,#c2ff3d 302px,#bfff40 306px,#c2ff3d 308px,#bfff40 312px,#c0ff3f 314px,#b7ff48 334px,#a4ff5b 350px,#8cff73 366px,#83ff7c)"></i><i style="background:linear-gradient(90deg,#84ff7b 0,#8fff70 24px,#a9ff56 42px,#b9ff46 54px,#bcff43 66px,#baff45 70px,#b9ff46 76px,#b7ff48 80px,#b7ff48 82px,#b4ff4b 84px,#b5ff4a 88px,#b2ff4d 90px,#b3ff4c 94px,#b0ff4f 96px,#b2ff4d 100px,#afff50 104px,#b1ff4e 126px,#baff45 204px,#b1ff4e 268px,#acff53 288px,#aeff51 298px,#afff50 304px,#aeff51 306px,#b1ff4e 308px,#afff50 312px,#b2ff4d 314px,#b0ff4f 318px,#b1ff4e 320px,#adff52 334px,#a0ff5f 348px,#89ff76 368px,#83ff7c)"></i><i style="background:linear-gradient(90deg,#84ff7b 0,#8eff71 26px,#aeff51 52px,#b0ff4f 60px,#aeff51 64px,#aeff51 70px,#aaff55 72px,#abff54 76px,#a8ff57 78px,#a9ff56 82px,#a5ff5a 84px,#a6ff59 88px,#a3ff5c 90px,#a4ff5b 94px,#a2ff5d 98px,#a1ff5e 124px,#a8ff57 214px,#9fff60 294px,#a1ff5e 304px,#a2ff5d 310px,#a4ff5b 316px,#a4ff5b 332px,#9bff64 348px,#86ff79 372px,#82ff7d)"></i><i style="background:linear-gradient(90deg,#83ff7c 0,#8dff72 26px,#a5ff5a 52px,#a6ff59 60px,#a4ff5b 64px,#a2ff5d 70px,#9fff60 72px,#a0ff5f 76px,#9cff63 78px,#9dff62 82px,#9aff65 86px,#94ff6b 116px,#99ff66 230px,#94ff6b 294px,#97ff68 312px,#99ff66 316px,#9cff63 332px,#96ff69 348px,#85ff7a 374px,#82ff7d)"></i><i style="background:linear-gradient(90deg,#83ff7c 0,#8cff73 30px,#9cff63 52px,#9dff62 60px,#9aff65 64px,#98ff67 70px,#95ff6a 74px,#96ff69 76px,#93ff6c 80px,#8bff74 114px,#8cff73 268px,#8dff72 306px,#92ff6d 322px,#94ff6b 334px,#92ff6d 348px,#83ff7c 376px,#82ff7d)"></i><i style="background:linear-gradient(90deg,#82ff7d 0,#8cff73 32px,#97ff68 54px,#93ff6c 64px,#8eff71 76px,#85ff7a 104px,#86ff79 300px,#8eff71 334px,#8dff72 350px,#82ff7d 382px,#81ff7e)"></i><i style="background:linear-gradient(90deg,#82ff7d 0,#8cff73 36px,#90ff6f 54px,#83ff7c 88px,#7eff81 134px,#80ff7f 300px,#8bff74 342px,#81ff7e 392px,#81ff7e)"></i></div>
<div class="hm" style="left:462px;top:363px;width:148px;height:139px"><i style="background:linear-gradient(90deg,#d3ff2c 0,#ccff33 66px,#d2ff2d 140px,#d3ff2c)"></i><i style="background:linear-gradient(90deg,#d3ff2c 0,#ccff33 66px,#d1ff2e 140px,#d3ff2c)"></i><i style="background:linear-gradient(90deg,#d3ff2c 0,#ccff33 66px,#d1ff2e 140px,#d3ff2c)"></i><i style="background:linear-gradient(90deg,#d3ff2c 0,#ccff33 66px,#d1ff2e 142px,#d3ff2c)"></i><i style="background:linear-gradient(90deg,#d3ff2c 0,#cbff34 66px,#d1ff2e 142px,#d3ff2c)"></i><i style="background:linear-gradient(90deg,#d2ff2d 0,#cbff34 66px,#d1ff2e 142px,#d2ff2d)"></i><i style="background:linear-gradient(90deg,#d2ff2d 0,#caff35 66px,#d0ff2f 142px,#d2ff2d)"></i><i style="background:linear-gradient(90deg,#d1ff2e 0,#caff35 66px,#cfff30 142px,#d1ff2e)"></i><i style="background:linear-gradient(90deg,#d0ff2f 0,#c9ff36 68px,#cfff30 142px,#d0ff2f)"></i><i style="background:linear-gradient(90deg,#cfff30 0,#c8ff37 68px,#ceff31 142px,#cfff30)"></i><i style="background:linear-gradient(90deg,#ceff31 0,#c7ff38 68px,#cdff32 144px,#ceff31)"></i><i style="background:linear-gradient(90deg,#c4ff3b 0,#beff41 78px,#c4ff3b)"></i><i style="background:linear-gradient(90deg,#a2ff5d 0,#a1ff5e 134px,#a2ff5d)"></i><i style="background:#7eff81"></i><i style="background:linear-gradient(90deg,#5dffa2 0,#5fffa0 136px,#5dffa2)"></i><i style="background:linear-gradient(90deg,#3cffc3 0,#42ffbd 78px,#3cffc3)"></i><i style="background:linear-gradient(90deg,#19ffe6 0,#22ffdd 56px,#1effe1 134px,#19ffe6)"></i><i style="background:linear-gradient(90deg,#00f6ff 0,#01fffe 38px,#00fcff 132px,#00f6ff)"></i><i style="background:linear-gradient(90deg,#00d2ff 0,#00e0ff 40px,#00deff 118px,#00d2ff)"></i><i style="background:linear-gradient(90deg,#00adff 0,#00bdff 36px,#00bdff 110px,#00aeff 146px,#00adff)"></i><i style="background:linear-gradient(90deg,#0089ff 0,#009bff 32px,#009eff 98px,#0093ff 134px,#0089ff)"></i><i style="background:linear-gradient(90deg,#0068ff 0,#007cff 30px,#0081ff 84px,#0079ff 126px,#0068ff)"></i><i style="background:linear-gradient(90deg,#0049ff 0,#005eff 28px,#0065ff 74px,#005eff 118px,#004aff 146px,#0049ff)"></i><i style="background:linear-gradient(90deg,#0028ff 0,#003fff 26px,#0047ff 66px,#0042ff 114px,#002eff 142px,#0029ff)"></i><i style="background:linear-gradient(90deg,#000aff 0,#0021ff 26px,#002bff 60px,#0026ff 112px,#0014ff 140px,#000aff)"></i><i style="background:linear-gradient(90deg,#0000ef 0,#0002ff 16px,#0011ff 44px,#0011ff 104px,#0002ff 132px,#0000f0)"></i><i style="background:linear-gradient(90deg,#0000de 0,#0000f8 24px,#0002ff 46px,#0002ff 104px,#0000f5 128px,#0000de)"></i><i style="background:linear-gradient(90deg,#0000d7 0,#0000f1 24px,#0000fc 54px,#0000f9 108px,#0000e7 136px,#0000d7)"></i><i style="background:linear-gradient(90deg,#0000d2 0,#0000ec 24px,#0000f8 54px,#0000f4 108px,#0000e3 134px,#0000d3)"></i><i style="background:linear-gradient(90deg,#0000ce 0,#0000e8 24px,#0000f4 54px,#0000f0 108px,#0000df 134px,#0000ce)"></i><i style="background:linear-gradient(90deg,#0000ca 0,#0000e4 24px,#0000f0 54px,#0000ed 108px,#0000db 134px,#0000ca)"></i><i style="background:linear-gradient(90deg,#0000c7 0,#0000e1 24px,#0000ed 54px,#0000ea 108px,#0000d8 134px,#0000c7)"></i><i style="background:linear-gradient(90deg,#0000c4 0,#0000de 24px,#0000ea 54px,#0000e8 108px,#0000d7 134px,#0000c4)"></i><i style="background:linear-gradient(90deg,#0000c2 0,#0000dc 24px,#0000e8 54px,#0000e5 108px,#0000d4 134px,#0000c2)"></i><i style="background:linear-gradient(90deg,#0000c0 0,#0000db 24px,#0000e7 54px,#0000e4 108px,#0000d3 134px,#0000c0)"></i><i style="background:linear-gradient(90deg,#0000be 0,#0000d9 24px,#0000e6 54px,#0000e3 108px,#0000d1 134px,#0000bf)"></i><i style="background:linear-gradient(90deg,#0000be 0,#0000d9 24px,#0000e5 54px,#0000e2 108px,#0000d1 134px,#0000be)"></i><i style="background:linear-gradient(90deg,#0000be 0,#0000d9 24px,#0000e5 54px,#0000e2 108px,#0000d0 134px,#0000be)"></i><i style="background:linear-gradient(90deg,#0000be 0,#0000d9 24px,#0000e5 54px,#0000e2 108px,#0000d1 134px,#0000be)"></i><i style="background:linear-gradient(90deg,#0000bf 0,#0000da 24px,#0000e6 54px,#0000e3 108px,#0000d2 134px,#0000bf)"></i><i style="background:linear-gradient(90deg,#0000c1 0,#0000db 24px,#0000e7 54px,#0000e5 108px,#0000d3 134px,#0000c1)"></i><i style="background:linear-gradient(90deg,#0000c3 0,#0000dd 24px,#0000e9 54px,#0000e7 108px,#0000d6 134px,#0000c3)"></i><i style="background:linear-gradient(90deg,#0000c6 0,#0000e0 24px,#0000ec 54px,#0000e9 108px,#0000d8 134px,#0000c6)"></i><i style="background:linear-gradient(90deg,#0000c9 0,#0000e3 24px,#0000ef 54px,#0000ec 108px,#0000da 134px,#0000c9)"></i><i style="background:linear-gradient(90deg,#0000cd 0,#0000e7 24px,#0000f3 54px,#0000ef 108px,#0000de 134px,#0000cd)"></i><i style="background:linear-gradient(90deg,#0000d1 0,#0000eb 24px,#0000f7 54px,#0000f3 108px,#0000e2 134px,#0000d1)"></i><i style="background:linear-gradient(90deg,#0000d6 0,#0000ef 24px,#0000fb 54px,#0000f8 108px,#0000e6 136px,#0000d6)"></i><i style="background:linear-gradient(90deg,#0000db 0,#0000f5 24px,#0001ff 54px,#0000fc 110px,#0000ea 136px,#0000dc)"></i><i style="background:linear-gradient(90deg,#0000e6 0,#0000ff 24px,#000bff 56px,#0008ff 110px,#0000fc 128px,#0000e7)"></i><i style="background:linear-gradient(90deg,#0000f8 0,#0004ff 10px,#0017ff 36px,#001bff 88px,#0011ff 122px,#0000fd 144px,#0000f8)"></i><i style="background:linear-gradient(90deg,#000eff 0,#0026ff 26px,#002fff 62px,#002aff 112px,#0018ff 140px,#000eff)"></i><i style="background:linear-gradient(90deg,#0027ff 0,#003dff 26px,#0045ff 66px,#0040ff 114px,#002dff 142px,#0027ff)"></i><i style="background:linear-gradient(90deg,#0041ff 0,#0056ff 28px,#005dff 72px,#0057ff 118px,#0042ff 146px,#0041ff)"></i><i style="background:linear-gradient(90deg,#005aff 0,#006eff 30px,#0074ff 78px,#006dff 122px,#005aff)"></i><i style="background:linear-gradient(90deg,#0072ff 0,#0085ff 30px,#008aff 86px,#0081ff 126px,#0072ff)"></i><i style="background:linear-gradient(90deg,#008bff 0,#009dff 32px,#00a0ff 98px,#0094ff 136px,#008cff)"></i><i style="background:linear-gradient(90deg,#00a6ff 0,#00b6ff 34px,#00b8ff 108px,#00a9ff 144px,#00a6ff)"></i><i style="background:linear-gradient(90deg,#00c2ff 0,#00d0ff 38px,#00d0ff 114px,#00c2ff)"></i><i style="background:linear-gradient(90deg,#00ddff 0,#00eaff 42px,#00e8ff 120px,#00ddff)"></i><i style="background:linear-gradient(90deg,#00f8ff 0,#02fffd 30px,#02fffd 118px,#00f8ff)"></i><i style="background:linear-gradient(90deg,#16ffe9 0,#1fffe0 56px,#1bffe4 132px,#16ffe9)"></i><i style="background:linear-gradient(90deg,#35ffca 0,#3cffc3 72px,#36ffc9 146px,#36ffc9)"></i><i style="background:linear-gradient(90deg,#53ffac 0,#57ffa8 118px,#54ffab)"></i><i style="background:#6cff93"></i><i style="background:#7dff82"></i><i style="background:#84ff7b"></i><i style="background:#89ff76"></i><i style="background:#8cff73"></i><i style="background:#8eff71"></i><i style="background:#91ff6e"></i><i style="background:#96ff69"></i><i style="background:linear-gradient(90deg,#9cff63 0,#9cff63 146px,#9cff63)"></i><i style="background:linear-gradient(90deg,#adff52 0,#aaff55 114px,#adff52)"></i><i style="background:linear-gradient(90deg,#c9ff36 0,#c3ff3c 72px,#c9ff36 146px,#c9ff36)"></i><i style="background:linear-gradient(90deg,#eaff15 0,#e1ff1e 54px,#e5ff1a 132px,#eaff15)"></i><i style="background:linear-gradient(90deg,#fff400 0,#ffff00 44px,#fffc00 126px,#fff400)"></i><i style="background:linear-gradient(90deg,#ffd400 0,#ffe200 40px,#ffe000 118px,#ffd500)"></i><i style="background:linear-gradient(90deg,#ffb300 0,#ffc300 36px,#ffc300 112px,#ffb300)"></i><i style="background:linear-gradient(90deg,#ff9000 0,#ffa200 34px,#ffa400 102px,#ff9800 138px,#ff9000)"></i><i style="background:linear-gradient(90deg,#ff6d00 0,#ff8000 30px,#ff8500 86px,#ff7d00 126px,#ff6d00)"></i><i style="background:linear-gradient(90deg,#ff4600 0,#ff5c00 28px,#ff6200 72px,#ff5c00 118px,#ff4800 146px,#ff4700)"></i><i style="background:linear-gradient(90deg,#ff1a00 0,#ff3100 26px,#ff3900 64px,#ff3500 114px,#ff2200 140px,#ff1a00)"></i><i style="background:linear-gradient(90deg,#f10000 0,#ff0200 14px,#ff1200 42px,#ff1400 100px,#ff0500 130px,#fc0000 140px,#f10000)"></i><i style="background:linear-gradient(90deg,#db0000 0,#f50000 24px,#ff0000 54px,#fc0000 110px,#ea0000 136px,#db0000)"></i><i style="background:linear-gradient(90deg,#d50000 0,#ef0000 24px,#fb0000 54px,#f70000 108px,#e50000 136px,#d60000)"></i><i style="background:linear-gradient(90deg,#d10000 0,#eb0000 24px,#f70000 54px,#f30000 108px,#e20000 134px,#d10000)"></i><i style="background:linear-gradient(90deg,#cd0000 0,#e70000 24px,#f30000 54px,#f00000 108px,#de0000 134px,#ce0000)"></i><i style="background:linear-gradient(90deg,#ca0000 0,#e40000 24px,#f00000 54px,#ed0000 108px,#db0000 134px,#ca0000)"></i><i style="background:linear-gradient(90deg,#c70000 0,#e10000 24px,#ed0000 54px,#ea0000 108px,#d80000 134px,#c70000)"></i><i style="background:linear-gradient(90deg,#c40000 0,#df0000 24px,#eb0000 54px,#e80000 108px,#d70000 134px,#c50000)"></i><i style="background:linear-gradient(90deg,#c20000 0,#dd0000 24px,#e90000 54px,#e60000 108px,#d50000 134px,#c30000)"></i><i style="background:linear-gradient(90deg,#c10000 0,#db0000 24px,#e80000 54px,#e50000 108px,#d30000 134px,#c10000)"></i><i style="background:linear-gradient(90deg,#bf0000 0,#da0000 24px,#e60000 54px,#e30000 108px,#d20000 134px,#c00000)"></i><i style="background:linear-gradient(90deg,#be0000 0,#d90000 24px,#e50000 54px,#e30000 108px,#d10000 134px,#bf0000)"></i><i style="background:linear-gradient(90deg,#be0000 0,#d90000 24px,#e50000 54px,#e20000 108px,#d10000 134px,#be0000)"></i><i style="background:linear-gradient(90deg,#be0000 0,#d90000 24px,#e50000 54px,#e20000 108px,#d10000 134px,#be0000)"></i><i style="background:linear-gradient(90deg,#be0000 0,#d90000 24px,#e50000 54px,#e20000 108px,#d10000 134px,#be0000)"></i><i style="background:linear-gradient(90deg,#be0000 0,#d90000 24px,#e50000 54px,#e20000 108px,#d10000 134px,#be0000)"></i><i style="background:linear-gradient(90deg,#be0000 0,#d90000 24px,#e50000 54px,#e20000 108px,#d10000 134px,#be0000)"></i><i style="background:linear-gradient(90deg,#bf0000 0,#da0000 24px,#e60000 54px,#e30000 108px,#d20000 134px,#bf0000)"></i><i style="background:linear-gradient(90deg,#c00000 0,#db0000 24px,#e70000 54px,#e40000 108px,#d30000 134px,#c00000)"></i><i style="background:linear-gradient(90deg,#c10000 0,#dc0000 24px,#e80000 54px,#e50000 108px,#d40000 134px,#c10000)"></i><i style="background:linear-gradient(90deg,#c20000 0,#dd0000 24px,#e90000 54px,#e60000 108px,#d50000 134px,#c30000)"></i><i style="background:linear-gradient(90deg,#c40000 0,#df0000 24px,#ea0000 54px,#e80000 108px,#d70000 134px,#c40000)"></i><i style="background:linear-gradient(90deg,#c60000 0,#e00000 24px,#ec0000 54px,#ea0000 108px,#d90000 134px,#c60000)"></i><i style="background:linear-gradient(90deg,#c80000 0,#e30000 24px,#ef0000 54px,#eb0000 108px,#da0000 134px,#c90000)"></i><i style="background:linear-gradient(90deg,#cb0000 0,#e50000 24px,#f10000 54px,#ee0000 108px,#dc0000 134px,#cb0000)"></i><i style="background:linear-gradient(90deg,#ce0000 0,#e80000 24px,#f40000 54px,#f00000 108px,#df0000 134px,#ce0000)"></i><i style="background:linear-gradient(90deg,#d10000 0,#eb0000 24px,#f70000 54px,#f30000 108px,#e20000 134px,#d10000)"></i><i style="background:linear-gradient(90deg,#d50000 0,#ee0000 24px,#fa0000 54px,#f70000 108px,#e50000 136px,#d50000)"></i><i style="background:linear-gradient(90deg,#d90000 0,#f20000 24px,#fe0000 54px,#fb0000 108px,#e90000 136px,#d90000)"></i><i style="background:linear-gradient(90deg,#e60000 0,#ff0000 24px,#ff0b00 56px,#ff0800 110px,#fc0000 128px,#e70000)"></i><i style="background:linear-gradient(90deg,#ff0800 0,#ff2000 26px,#ff2900 60px,#ff2500 112px,#ff1200 140px,#ff0800)"></i><i style="background:linear-gradient(90deg,#ff3200 0,#ff4800 28px,#ff5000 68px,#ff4a00 116px,#ff3600 144px,#ff3200)"></i><i style="background:linear-gradient(90deg,#ff5c00 0,#ff7000 30px,#ff7600 78px,#ff6f00 122px,#ff5c00)"></i><i style="background:linear-gradient(90deg,#ff8000 0,#ff9200 32px,#ff9600 94px,#ff8c00 132px,#ff8000)"></i><i style="background:linear-gradient(90deg,#ffa800 0,#ffb800 36px,#ffb900 110px,#ffaa00 144px,#ffa800)"></i><i style="background:linear-gradient(90deg,#ffcd00 0,#ffdb00 40px,#ffda00 116px,#ffcd00)"></i><i style="background:linear-gradient(90deg,#ffec00 0,#fff800 44px,#fff600 122px,#ffec00)"></i><i style="background:linear-gradient(90deg,#fcff03 0,#f1ff0e 50px,#f5ff0a 128px,#fcff03)"></i><i style="background:linear-gradient(90deg,#eaff15 0,#e1ff1e 54px,#e6ff19 132px,#eaff15)"></i><i style="background:linear-gradient(90deg,#dbff24 0,#d3ff2c 62px,#d8ff27 138px,#dbff24)"></i><i style="background:linear-gradient(90deg,#cdff32 0,#c6ff39 70px,#ccff33 144px,#cdff32)"></i><i style="background:linear-gradient(90deg,#bfff40 0,#baff45 84px,#bfff40)"></i><i style="background:linear-gradient(90deg,#b1ff4e 0,#adff52 108px,#b1ff4e)"></i><i style="background:linear-gradient(90deg,#a0ff5f 0,#9fff60 138px,#a0ff5f)"></i><i style="background:#8fff70"></i><i style="background:#80ff7f"></i><i style="background:#75ff8a"></i><i style="background:#6fff90"></i><i style="background:#6cff93"></i><i style="background:#6aff95"></i><i style="background:#68ff97"></i><i style="background:#67ff98"></i><i style="background:#65ff9a"></i><i style="background:#65ff9a"></i><i style="background:#64ff9b"></i><i style="background:#64ff9b"></i><i style="background:#64ff9b"></i></div>
<div class="hm" style="left:22px;top:532px;width:395px;height:139px"><i style="background:linear-gradient(90deg,#83ff7c 0,#8dff72 44px,#8dff72 48px,#8aff75 52px,#8aff75 54px,#87ff78 56px,#87ff78 60px,#83ff7c 62px,#84ff7b 66px,#80ff7f 68px,#6fff90 110px,#67ff98 222px,#70ff8f 300px,#79ff86 318px,#7cff83 322px,#83ff7c 334px,#86ff79 344px,#85ff7a 364px,#82ff7d)"></i><i style="background:linear-gradient(90deg,#83ff7c 0,#8cff73 32px,#93ff6c 44px,#93ff6c 48px,#91ff6e 52px,#92ff6d 54px,#8eff71 56px,#8fff70 60px,#8aff75 62px,#8bff74 66px,#86ff79 68px,#87ff78 70px,#82ff7d 72px,#82ff7d 76px,#7fff80 78px,#7fff80 82px,#7bff84 86px,#70ff8f 118px,#6bff94 232px,#71ff8e 294px,#77ff88 306px,#7bff84 310px,#7eff81 318px,#82ff7d 320px,#82ff7d 324px,#85ff7a 326px,#88ff77 334px,#8aff75 338px,#8bff74 354px,#82ff7d 390px,#82ff7d)"></i><i style="background:linear-gradient(90deg,#84ff7b 0,#8dff72 26px,#99ff66 44px,#9aff65 48px,#9bff64 54px,#97ff68 56px,#98ff67 60px,#93ff6c 62px,#94ff6b 66px,#8fff70 68px,#90ff6f 70px,#8bff74 72px,#8bff74 76px,#86ff79 78px,#87ff78 82px,#82ff7d 84px,#82ff7d 88px,#7eff81 90px,#7eff81 94px,#7bff84 98px,#74ff8b 122px,#72ff8d 254px,#77ff88 294px,#7aff85 298px,#7eff81 304px,#7eff81 306px,#82ff7d 308px,#82ff7d 312px,#86ff79 314px,#86ff79 318px,#8aff75 320px,#89ff76 324px,#8dff72 326px,#8cff73 328px,#90ff6f 330px,#8fff70 334px,#91ff6e 336px,#8fff70 352px,#84ff7b 378px,#82ff7d)"></i><i style="background:linear-gradient(90deg,#84ff7b 0,#8eff71 26px,#a0ff5f 44px,#a3ff5c 48px,#a5ff5a 54px,#a1ff5e 56px,#a2ff5d 60px,#9eff61 60px,#9fff60 66px,#9aff65 66px,#9bff64 70px,#96ff69 72px,#96ff69 76px,#91ff6e 78px,#92ff6d 82px,#8cff73 84px,#8dff72 88px,#88ff77 90px,#88ff77 94px,#84ff7b 96px,#84ff7b 100px,#7fff80 102px,#7aff85 128px,#7aff85 282px,#7cff83 288px,#7fff80 292px,#83ff7c 298px,#83ff7c 300px,#88ff77 302px,#87ff78 306px,#8cff73 308px,#8bff74 312px,#90ff6f 314px,#8fff70 318px,#93ff6c 320px,#92ff6d 324px,#96ff69 326px,#95ff6a 328px,#99ff66 330px,#97ff68 334px,#99ff66 336px,#98ff67 340px,#99ff66 342px,#91ff6e 354px,#85ff7a 378px,#83ff7c)"></i><i style="background:linear-gradient(90deg,#85ff7a 0,#90ff6f 24px,#a6ff59 42px,#aeff51 48px,#adff52 50px,#b0ff4f 54px,#adff52 56px,#afff50 60px,#aaff55 60px,#acff53 66px,#a7ff58 66px,#a8ff57 70px,#a3ff5c 72px,#a4ff5b 76px,#9fff60 78px,#a0ff5f 82px,#9aff65 84px,#9bff64 88px,#96ff69 90px,#97ff68 94px,#92ff6d 96px,#92ff6d 100px,#8dff72 102px,#8eff71 106px,#89ff76 108px,#89ff76 112px,#86ff79 114px,#85ff7a 282px,#89ff76 284px,#89ff76 288px,#8dff72 290px,#8dff72 294px,#91ff6e 296px,#91ff6e 300px,#96ff69 300px,#94ff6b 306px,#99ff66 306px,#98ff67 312px,#9dff62 312px,#9bff64 318px,#a0ff5f 318px,#9eff61 324px,#a2ff5d 326px,#a0ff5f 328px,#a3ff5c 330px,#a0ff5f 334px,#a3ff5c 336px,#a0ff5f 340px,#a1ff5e 342px,#96ff69 354px,#87ff78 374px,#83ff7c)"></i><i style="background:linear-gradient(90deg,#86ff79 0,#91ff6e 24px,#afff50 42px,#b9ff46 48px,#baff45 52px,#beff41 54px,#bbff44 56px,#bdff42 60px,#b9ff46 62px,#bcff43 66px,#b7ff48 66px,#b9ff46 70px,#b4ff4b 72px,#b5ff4a 76px,#b0ff4f 78px,#b1ff4e 82px,#acff53 84px,#aeff51 88px,#a8ff57 90px,#aaff55 94px,#a5ff5a 96px,#a6ff59 100px,#a2ff5d 102px,#a3ff5c 106px,#9fff60 108px,#a0ff5f 112px,#9dff62 114px,#a3ff5c 220px,#9cff63 282px,#9fff60 286px,#9eff61 288px,#a1ff5e 290px,#a0ff5f 294px,#a4ff5b 296px,#a3ff5c 300px,#a8ff57 300px,#a6ff59 306px,#abff54 306px,#a8ff57 312px,#adff52 312px,#aaff55 318px,#afff50 318px,#acff53 324px,#afff50 326px,#adff52 328px,#afff50 330px,#acff53 334px,#adff52 336px,#a2ff5d 350px,#89ff76 370px,#84ff7b)"></i><i style="background:linear-gradient(90deg,#87ff78 0,#92ff6d 22px,#a8ff57 36px,#c6ff39 48px,#ccff33 54px,#caff35 56px,#cdff32 60px,#caff35 62px,#cdff32 66px,#c9ff36 68px,#cbff34 70px,#c7ff38 72px,#c9ff36 76px,#c4ff3b 78px,#c6ff39 82px,#c1ff3e 84px,#c4ff3b 88px,#bfff40 90px,#c2ff3d 94px,#beff41 96px,#c0ff3f 100px,#bdff42 102px,#ceff31 178px,#caff35 246px,#baff45 294px,#bcff43 296px,#baff45 300px,#beff41 302px,#bbff44 306px,#bfff40 308px,#bcff43 312px,#bfff40 314px,#bcff43 318px,#bfff40 320px,#bcff43 324px,#beff41 326px,#bbff44 328px,#bdff42 330px,#b8ff47 334px,#b8ff47 338px,#a9ff56 350px,#8eff71 368px,#84ff7b 394px,#84ff7b)"></i><i style="background:linear-gradient(90deg,#87ff78 0,#94ff6b 22px,#acff53 34px,#d2ff2d 48px,#dbff24 54px,#dbff24 58px,#deff21 60px,#ddff22 62px,#dfff20 66px,#ddff22 68px,#dfff20 70px,#dcff23 72px,#dfff20 76px,#dcff23 78px,#deff21 82px,#dbff24 84px,#deff21 88px,#dbff24 90px,#ddff22 94px,#dbff24 96px,#e5ff1a 120px,#f6ff09 156px,#fdff02 208px,#f0ff0f 260px,#d8ff27 294px,#d6ff29 300px,#d8ff27 302px,#d4ff2b 306px,#d6ff29 308px,#d3ff2c 312px,#d5ff2a 314px,#d1ff2e 318px,#d2ff2d 320px,#ceff31 324px,#ceff31 326px,#c2ff3d 338px,#b1ff4e 350px,#94ff6b 364px,#89ff76 378px,#85ff7a)"></i><i style="background:linear-gradient(90deg,#88ff77 0,#95ff6a 20px,#adff52 32px,#cbff34 42px,#e0ff1f 48px,#ebff14 54px,#f3ff0c 66px,#f9ff06 88px,#fffc00 110px,#ffe100 150px,#ffd500 198px,#ffe100 250px,#fdff02 288px,#e8ff17 316px,#d8ff27 332px,#c4ff3b 344px,#98ff67 364px,#8bff74 376px,#85ff7a)"></i><i style="background:linear-gradient(90deg,#89ff76 0,#97ff68 20px,#b2ff4d 32px,#d5ff2a 42px,#f2ff0d 50px,#ffff00 58px,#ffef00 76px,#ffd800 106px,#ffd000 118px,#ffb600 146px,#ffa600 192px,#ffad00 234px,#ffbc00 260px,#ffde00 288px,#ffed00 304px,#fdff02 320px,#deff21 338px,#bcff43 352px,#a1ff5e 360px,#8eff71 372px,#86ff79)"></i><i style="background:linear-gradient(90deg,#89ff76 0,#98ff67 20px,#b4ff4b 32px,#dfff20 42px,#feff01 50px,#ffea00 60px,#ffbd00 96px,#ffa100 118px,#ff8200 146px,#ff6e00 188px,#ff7200 222px,#ff8700 258px,#ffac00 282px,#ffcb00 302px,#fcff03 330px,#cdff32 348px,#a7ff58 360px,#90ff6f 372px,#86ff79)"></i><i style="background:linear-gradient(90deg,#8aff75 0,#9aff65 20px,#b9ff46 32px,#e9ff16 42px,#ffff00 46px,#ffe400 54px,#ffc200 74px,#ffab00 88px,#ff7a00 112px,#ff7200 114px,#ff4800 138px,#ff2a00 176px,#ff2500 204px,#ff3400 238px,#ff4500 258px,#ff7800 282px,#ff8200 286px,#ffbf00 310px,#ffff00 336px,#caff35 352px,#abff54 360px,#91ff6e 372px,#87ff78)"></i><i style="background:linear-gradient(90deg,#8bff74 0,#9aff65 18px,#b6ff49 30px,#e7ff18 40px,#feff01 44px,#ffdb00 52px,#ffbc00 64px,#ff9000 88px,#ff8600 92px,#ff8200 94px,#ff7a00 96px,#ff7200 100px,#ff6a00 102px,#ff6400 106px,#ff5b00 108px,#ff5400 112px,#ff4c00 114px,#ff1a00 138px,#fe0000 168px,#f20000 196px,#fb0000 226px,#ff0600 240px,#ff1900 258px,#ff5100 282px,#ff5a00 284px,#ff6400 288px,#ff6e00 290px,#ff7600 294px,#ff7f00 296px,#ff8900 300px,#ff9100 302px,#ffee00 334px,#ffff00 340px,#cbff34 352px,#acff53 360px,#93ff6c 372px,#87ff78)"></i><i style="background:linear-gradient(90deg,#8bff74 0,#9bff64 18px,#b6ff49 28px,#dfff20 38px,#fffc00 44px,#ffd200 50px,#ffb100 62px,#ff9500 76px,#ff8700 82px,#ff7d00 86px,#ff7900 88px,#ff7100 90px,#ff6900 94px,#ff6100 96px,#ff5800 100px,#ff5000 102px,#ff4900 106px,#ff3f00 108px,#ff0100 136px,#db0000 174px,#d30000 200px,#df0000 230px,#f80000 256px,#ff0200 260px,#ff4600 286px,#ff5c00 294px,#ff6600 296px,#ff7100 300px,#ff7a00 302px,#ff8400 306px,#ff8f00 308px,#ffe100 334px,#feff01 342px,#ccff33 354px,#afff50 360px,#96ff69 370px,#88ff77 392px,#87ff78)"></i><i style="background:linear-gradient(90deg,#8cff73 0,#9dff62 18px,#b9ff46 28px,#dfff20 36px,#fdff02 42px,#ffc600 50px,#ffaa00 58px,#ff8600 74px,#ff7400 82px,#ff6900 86px,#ff5500 94px,#ff4b00 98px,#ff0900 124px,#fc0000 128px,#e00000 144px,#c10000 180px,#bc0000 204px,#cd0000 236px,#e50000 256px,#ff0200 268px,#ff3a00 288px,#ff5e00 300px,#ff6d00 304px,#ffbf00 328px,#feff01 344px,#b9ff46 358px,#99ff66 370px,#8aff75 388px,#88ff77)"></i><i style="background:linear-gradient(90deg,#8cff73 0,#9dff62 18px,#b5ff4a 26px,#d3ff2c 34px,#fdff02 40px,#ffbb00 50px,#ff9e00 58px,#ff8100 70px,#ff6500 82px,#ff1900 112px,#fd0000 122px,#d60000 142px,#b30000 178px,#ac0000 202px,#ba0000 230px,#d50000 256px,#ff0300 274px,#ff3d00 294px,#ffa100 324px,#ffe200 340px,#fffe00 346px,#d5ff2a 354px,#b8ff47 360px,#9aff65 370px,#8bff74 386px,#88ff77)"></i><i style="background:linear-gradient(90deg,#8dff72 0,#9eff61 18px,#b3ff4c 26px,#d7ff28 34px,#fbff04 40px,#fff500 42px,#ffb300 50px,#ff9400 58px,#ff7500 70px,#ff4a00 88px,#ff0000 118px,#cd0000 140px,#a80000 174px,#9f0000 198px,#a90000 224px,#c60000 254px,#f40000 272px,#ff0200 278px,#ff6d00 312px,#ffbf00 334px,#fffd00 346px,#dfff20 352px,#beff41 358px,#9bff64 370px,#8bff74 386px,#88ff77)"></i><i style="background:linear-gradient(90deg,#8dff72 0,#9dff62 16px,#b1ff4e 24px,#d4ff2b 32px,#fffe00 40px,#ffab00 50px,#ff8b00 58px,#ff6c00 70px,#ff3300 94px,#fd0000 114px,#c30000 138px,#9f0000 170px,#930000 196px,#9b0000 222px,#ba0000 254px,#de0000 268px,#ff0100 280px,#ff7a00 318px,#ffbd00 334px,#fffe00 348px,#c1ff3e 358px,#9cff63 370px,#8cff73 386px,#89ff76)"></i><i style="background:linear-gradient(90deg,#8dff72 0,#9eff61 16px,#b2ff4d 24px,#d6ff29 32px,#fcff03 38px,#ffed00 42px,#ffa600 50px,#ff8500 58px,#ff6600 70px,#ff2a00 94px,#fd0000 112px,#bb0000 138px,#960000 170px,#890000 196px,#910000 222px,#b10000 254px,#d60000 268px,#ff0000 282px,#ff8700 322px,#ffcc00 338px,#feff01 348px,#c2ff3d 358px,#9fff60 368px,#90ff6f 380px,#89ff76)"></i><i style="background:linear-gradient(90deg,#8eff71 0,#9eff61 16px,#b3ff4c 24px,#d7ff28 32px,#feff01 38px,#ffd100 44px,#ffa300 50px,#ff8200 58px,#ff6200 70px,#ff2900 94px,#fd0000 110px,#b70000 138px,#970000 162px,#840000 190px,#860000 214px,#a10000 246px,#b30000 258px,#ff0200 284px,#ff8700 324px,#ffce00 340px,#fffe00 348px,#c3ff3c 358px,#9fff60 368px,#91ff6e 378px,#89ff76)"></i><i style="background:linear-gradient(90deg,#8eff71 0,#9eff61 16px,#b4ff4b 24px,#d8ff27 32px,#ffff00 38px,#ffa100 50px,#ff8000 58px,#ff5900 72px,#ff3200 90px,#fe0000 108px,#b40000 138px,#940000 162px,#810000 190px,#840000 214px,#9e0000 246px,#b00000 258px,#ff0000 284px,#ff8600 324px,#ffcd00 340px,#fffd00 348px,#c4ff3b 358px,#9fff60 368px,#92ff6d 378px,#89ff76)"></i><i style="background:linear-gradient(90deg,#8eff71 0,#9eff61 16px,#b4ff4b 24px,#d8ff27 32px,#feff01 38px,#ffa200 50px,#ff8100 58px,#ff5a00 72px,#ff3700 88px,#ff0000 108px,#b60000 138px,#960000 162px,#830000 190px,#850000 214px,#a00000 246px,#b20000 258px,#ff0100 284px,#ff8700 324px,#ffcd00 340px,#fffd00 348px,#c4ff3b 358px,#9fff60 368px,#92ff6d 378px,#89ff76)"></i><i style="background:linear-gradient(90deg,#8eff71 0,#9eff61 16px,#b3ff4c 24px,#d7ff28 32px,#fdff02 38px,#ffd100 44px,#ffa400 50px,#ff8300 58px,#ff5d00 72px,#ff3a00 88px,#ff0000 110px,#bc0000 138px,#9c0000 162px,#890000 190px,#8c0000 214px,#a60000 246px,#b70000 258px,#ff0300 284px,#ff8a00 324px,#ffcf00 340px,#ffff00 348px,#c3ff3c 358px,#9fff60 368px,#91ff6e 378px,#89ff76)"></i><i style="background:linear-gradient(90deg,#8eff71 0,#9eff61 16px,#b3ff4c 24px,#d6ff29 32px,#fcff03 38px,#fff500 40px,#ffa800 50px,#ff8800 58px,#ff6300 72px,#ff4000 88px,#ff0000 114px,#c20000 138px,#9e0000 170px,#910000 196px,#9a0000 222px,#b80000 254px,#dd0000 268px,#ff0000 280px,#ff8f00 324px,#ffd200 340px,#fdff02 348px,#c2ff3d 358px,#9cff63 370px,#8cff73 386px,#89ff76)"></i><i style="background:linear-gradient(90deg,#8dff72 0,#9dff62 16px,#b2ff4d 24px,#d4ff2b 32px,#ffff00 40px,#ffae00 50px,#ff8f00 58px,#ff6900 74px,#ff4900 88px,#fe0000 118px,#cc0000 140px,#a80000 174px,#9e0000 198px,#a80000 224px,#c60000 254px,#f30000 272px,#ff0200 278px,#ff8100 318px,#ffc500 336px,#ffff00 348px,#c1ff3e 358px,#9cff63 370px,#8cff73 386px,#89ff76)"></i><i style="background:linear-gradient(90deg,#8dff72 0,#9eff61 18px,#b4ff4b 26px,#d7ff28 34px,#fffc00 40px,#ffb500 50px,#ff9500 60px,#ff7200 74px,#ff4c00 92px,#ff0100 122px,#d50000 142px,#b30000 178px,#ac0000 202px,#ba0000 230px,#d40000 256px,#ff0200 274px,#ff3e00 294px,#ffb000 328px,#fff400 344px,#fffe00 346px,#bfff40 358px,#9bff64 370px,#8bff74 386px,#89ff76)"></i><i style="background:linear-gradient(90deg,#8dff72 0,#9dff62 18px,#b6ff49 26px,#d9ff26 34px,#fdff02 40px,#ffbe00 50px,#ff9c00 60px,#ff7400 80px,#ff3800 106px,#fe0000 128px,#e20000 144px,#c20000 180px,#be0000 204px,#cf0000 236px,#e60000 256px,#ff0100 268px,#ff3c00 288px,#ffc100 330px,#ffff00 346px,#bcff43 358px,#9aff65 370px,#8bff74 386px,#88ff77)"></i><i style="background:linear-gradient(90deg,#8cff73 0,#9eff61 18px,#baff45 28px,#e6ff19 38px,#fdff02 42px,#ffc700 50px,#ffab00 60px,#ff8100 82px,#ff0a00 136px,#fd0000 144px,#df0000 180px,#db0000 206px,#ed0000 238px,#ff0100 256px,#ff4700 286px,#ffcf00 332px,#fdff02 344px,#b6ff49 360px,#97ff68 370px,#89ff76 392px,#88ff77)"></i><i style="background:linear-gradient(90deg,#8cff73 0,#9cff63 18px,#b8ff47 28px,#ebff14 40px,#fdff02 42px,#ffd200 50px,#ffb800 60px,#ff7a00 94px,#ff2600 136px,#ff0a00 166px,#fd0000 188px,#ff0300 222px,#ff1d00 254px,#ff5500 282px,#ffd700 330px,#feff01 342px,#cdff32 354px,#b0ff4f 360px,#96ff69 370px,#88ff77 392px,#88ff77)"></i><i style="background:linear-gradient(90deg,#8bff74 0,#9bff64 18px,#b8ff47 30px,#eaff15 40px,#fffd00 44px,#ffde00 50px,#ffc800 58px,#ff9000 94px,#ff4200 138px,#ff2400 178px,#ff2000 206px,#ff3100 242px,#ff4200 258px,#ff8c00 294px,#ffec00 334px,#ffff00 340px,#d2ff2d 352px,#b0ff4f 360px,#95ff6a 370px,#88ff77 394px,#87ff78)"></i><i style="background:linear-gradient(90deg,#8bff74 0,#9bff64 20px,#b8ff47 30px,#e8ff17 42px,#fdff02 46px,#ffe300 52px,#ffcc00 66px,#ffac00 92px,#ff6200 140px,#ff4800 182px,#ff4800 212px,#ff5d00 252px,#ff8100 274px,#fff300 332px,#feff01 336px,#cdff32 352px,#adff52 360px,#94ff6b 370px,#87ff78)"></i><i style="background:linear-gradient(90deg,#8aff75 0,#99ff66 20px,#b8ff47 32px,#e5ff1a 42px,#fdff02 48px,#ffeb00 54px,#ffd800 70px,#ffc600 92px,#ff8400 142px,#ff6e00 186px,#ff7100 220px,#ff8600 256px,#fff000 322px,#feff01 332px,#ddff22 344px,#baff45 354px,#99ff66 366px,#8dff72 378px,#87ff78)"></i><i style="background:linear-gradient(90deg,#89ff76 0,#98ff67 20px,#b3ff4c 32px,#ddff22 42px,#f7ff08 48px,#fffd00 52px,#fff300 60px,#ffdd00 92px,#ffa700 144px,#ff9400 190px,#ff9a00 228px,#ffab00 258px,#fff200 312px,#fdff02 324px,#e3ff1c 338px,#c7ff38 350px,#a4ff5b 360px,#90ff6f 372px,#86ff79)"></i><i style="background:linear-gradient(90deg,#89ff76 0,#97ff68 20px,#b2ff4d 32px,#d5ff2a 42px,#ecff13 48px,#f8ff07 54px,#fbff04 58px,#fffc00 70px,#fffd00 74px,#fffa00 76px,#fffb00 80px,#ffea00 110px,#ffcc00 148px,#ffbe00 194px,#ffc700 240px,#ffd600 264px,#fffc00 300px,#fcff03 308px,#eeff11 322px,#e3ff1c 332px,#cfff30 344px,#b1ff4e 354px,#94ff6b 368px,#89ff76 382px,#86ff79)"></i><i style="background:linear-gradient(90deg,#88ff77 0,#95ff6a 20px,#aeff51 32px,#cdff32 42px,#e1ff1e 48px,#ebff14 54px,#ecff13 58px,#efff10 60px,#edff12 62px,#f1ff0e 66px,#efff10 68px,#f2ff0d 70px,#efff10 72px,#f2ff0d 76px,#f0ff0f 78px,#f2ff0d 82px,#f0ff0f 84px,#f3ff0c 88px,#f1ff0e 90px,#f5ff0a 94px,#f4ff0b 98px,#fcff03 120px,#ffeb00 164px,#ffe600 208px,#fff400 258px,#fcff03 274px,#f0ff0f 294px,#efff10 298px,#e9ff16 306px,#e9ff16 308px,#e6ff19 312px,#e6ff19 314px,#e2ff1d 318px,#e2ff1d 320px,#deff21 324px,#ddff22 326px,#ceff31 338px,#baff45 350px,#9dff62 362px,#8dff72 372px,#85ff7a)"></i><i style="background:linear-gradient(90deg,#87ff78 0,#95ff6a 22px,#aeff51 34px,#d6ff29 48px,#dfff20 54px,#deff21 56px,#e2ff1d 60px,#e0ff1f 62px,#e3ff1c 66px,#e1ff1e 68px,#e3ff1c 70px,#e0ff1f 72px,#e2ff1d 76px,#dfff20 78px,#e1ff1e 82px,#deff21 84px,#e1ff1e 88px,#deff21 90px,#e1ff1e 94px,#deff21 96px,#e1ff1e 100px,#e0ff1f 104px,#e6ff19 122px,#f6ff09 158px,#fcff03 210px,#efff10 260px,#dcff23 288px,#dbff24 298px,#d9ff26 300px,#dbff24 302px,#d7ff28 306px,#daff25 308px,#d6ff29 312px,#d8ff27 314px,#d4ff2b 318px,#d5ff2a 320px,#d1ff2e 324px,#d2ff2d 326px,#ceff31 328px,#cdff32 332px,#beff41 344px,#a7ff58 354px,#8dff72 370px,#85ff7a)"></i><i style="background:linear-gradient(90deg,#87ff78 0,#93ff6c 22px,#acff53 36px,#cdff32 48px,#d4ff2b 54px,#d3ff2c 56px,#d6ff29 60px,#d3ff2c 62px,#d6ff29 66px,#d3ff2c 68px,#d5ff2a 70px,#d2ff2d 72px,#d4ff2b 76px,#d0ff2f 78px,#d2ff2d 82px,#cfff30 84px,#d1ff2e 88px,#ceff31 90px,#d0ff2f 94px,#ceff31 96px,#d0ff2f 100px,#ceff31 104px,#e3ff1c 168px,#e4ff1b 222px,#d9ff26 264px,#caff35 294px,#cbff34 298px,#c9ff36 300px,#cbff34 302px,#c8ff37 306px,#cbff34 308px,#c8ff37 312px,#caff35 314px,#c7ff38 318px,#c9ff36 320px,#c5ff3a 324px,#c7ff38 326px,#c3ff3c 328px,#c5ff3a 330px,#bfff40 334px,#beff41 338px,#aeff51 350px,#90ff6f 366px,#85ff7a 388px,#84ff7b)"></i><i style="background:linear-gradient(90deg,#86ff79 0,#93ff6c 24px,#b3ff4c 42px,#c4ff3b 48px,#caff35 54px,#c8ff37 56px,#cbff34 60px,#c8ff37 62px,#cbff34 66px,#c8ff37 68px,#c9ff36 70px,#c6ff39 72px,#c8ff37 76px,#c4ff3b 78px,#c6ff39 82px,#c2ff3d 84px,#c4ff3b 88px,#c1ff3e 90px,#c3ff3c 94px,#c0ff3f 96px,#c2ff3d 100px,#c1ff3e 104px,#c8ff37 130px,#d3ff2c 198px,#c9ff36 262px,#bdff42 294px,#bdff42 298px,#bdff42 304px,#beff41 310px,#bcff43 312px,#bfff40 314px,#bcff43 318px,#beff41 320px,#bbff44 324px,#bdff42 326px,#baff45 328px,#baff45 332px,#b0ff4f 344px,#9fff60 354px,#8aff75 372px,#84ff7b)"></i><i style="background:linear-gradient(90deg,#85ff7a 0,#91ff6e 24px,#adff52 42px,#bbff44 48px,#c1ff3e 54px,#c0ff3f 58px,#c1ff3e 60px,#bfff40 62px,#c1ff3e 66px,#beff41 68px,#bfff40 70px,#bcff43 72px,#bdff42 76px,#baff45 78px,#bcff43 82px,#b8ff47 84px,#baff45 88px,#b8ff47 92px,#b7ff48 118px,#c4ff3b 184px,#beff41 258px,#b4ff4b 288px,#b3ff4c 306px,#b5ff4a 308px,#b3ff4c 312px,#b5ff4a 314px,#b3ff4c 318px,#b5ff4a 320px,#b3ff4c 324px,#b4ff4b 326px,#aeff51 338px,#9fff60 352px,#8aff75 370px,#83ff7c)"></i><i style="background:linear-gradient(90deg,#84ff7b 0,#8fff70 24px,#a9ff56 42px,#b6ff49 52px,#b9ff46 60px,#b7ff48 62px,#b8ff47 66px,#b6ff49 68px,#b7ff48 70px,#b4ff4b 74px,#b5ff4a 76px,#b3ff4c 80px,#b4ff4b 82px,#b1ff4e 86px,#b1ff4e 118px,#bcff43 188px,#b5ff4a 262px,#adff52 294px,#acff53 312px,#adff52 316px,#abff54 332px,#a3ff5c 344px,#87ff78 372px,#83ff7c)"></i><i style="background:linear-gradient(90deg,#84ff7b 0,#8eff71 26px,#afff50 52px,#b1ff4e 66px,#afff50 76px,#abff54 98px,#b9ff46 192px,#b2ff4d 266px,#a8ff57 306px,#a6ff59 332px,#9aff65 350px,#86ff79 372px,#82ff7d)"></i><i style="background:linear-gradient(90deg,#83ff7c 0,#8cff73 26px,#aaff55 54px,#aaff55 108px,#b7ff48 180px,#b1ff4e 260px,#a4ff5b 312px,#9fff60 338px,#85ff7a 374px,#82ff7d)"></i><i style="background:linear-gradient(90deg,#82ff7d 0,#8bff74 28px,#a3ff5c 54px,#acff53 120px,#b6ff49 196px,#adff52 268px,#98ff67 342px,#84ff7b 372px,#81ff7e)"></i><i style="background:linear-gradient(90deg,#81ff7e 0,#8aff75 32px,#9eff61 58px,#b4ff4b 174px,#b0ff4f 256px,#95ff6a 340px,#83ff7c 372px,#81ff7e)"></i><i style="background:linear-gradient(90deg,#80ff7f 0,#88ff77 34px,#9cff63 68px,#b2ff4d 162px,#b1ff4e 242px,#9cff63 318px,#82ff7d 370px,#80ff7f)"></i><i style="background:linear-gradient(90deg,#80ff7f 0,#85ff7a 38px,#9dff62 82px,#b0ff4f 154px,#b2ff4d 234px,#a4ff5b 294px,#8cff73 340px,#81ff7e 368px,#80ff7f)"></i><i style="background:linear-gradient(90deg,#7fff80 0,#81ff7e 44px,#92ff6d 70px,#9dff62 88px,#acff53 134px,#b2ff4d 218px,#a8ff57 276px,#9aff65 312px,#84ff7b 344px,#7eff81 376px,#7eff81)"></i><i style="background:linear-gradient(90deg,#7dff82 0,#7bff84 44px,#82ff7d 60px,#86ff79 62px,#86ff79 66px,#8aff75 68px,#8aff75 70px,#8eff71 72px,#8fff70 76px,#93ff6c 78px,#93ff6c 82px,#97ff68 86px,#a5ff5a 110px,#b1ff4e 180px,#abff54 262px,#9eff61 300px,#95ff6a 312px,#91ff6e 314px,#91ff6e 318px,#8dff72 320px,#8cff73 324px,#88ff77 326px,#7eff81 344px,#78ff87 364px,#7dff82)"></i><i style="background:linear-gradient(90deg,#7cff83 0,#76ff89 44px,#7aff85 60px,#7dff82 64px,#7dff82 66px,#80ff7f 68px,#80ff7f 70px,#85ff7a 72px,#86ff79 76px,#8bff74 78px,#8bff74 82px,#90ff6f 84px,#90ff6f 88px,#95ff6a 90px,#96ff69 94px,#9bff64 96px,#9bff64 100px,#a0ff5f 104px,#acff53 156px,#adff52 240px,#a2ff5d 288px,#99ff66 298px,#94ff6b 304px,#94ff6b 306px,#8fff70 308px,#8eff71 312px,#8aff75 314px,#89ff76 318px,#85ff7a 320px,#85ff7a 324px,#80ff7f 326px,#80ff7f 328px,#7cff83 330px,#7cff83 334px,#78ff87 336px,#78ff87 340px,#75ff8a 342px,#76ff89 346px,#73ff8c 350px,#72ff8d 364px,#7bff84)"></i><i style="background:linear-gradient(90deg,#7bff84 0,#6fff90 44px,#71ff8e 60px,#74ff8b 62px,#73ff8c 66px,#77ff88 68px,#77ff88 70px,#7bff84 72px,#7bff84 76px,#7fff80 78px,#7fff80 82px,#85ff7a 84px,#85ff7a 88px,#8bff74 90px,#8bff74 94px,#91ff6e 96px,#92ff6d 100px,#97ff68 102px,#98ff67 106px,#9dff62 106px,#9eff61 112px,#a3ff5c 116px,#acff53 196px,#a4ff5b 272px,#a1ff5e 282px,#9dff62 288px,#9dff62 288px,#97ff68 290px,#97ff68 294px,#91ff6e 294px,#90ff6f 300px,#8bff74 300px,#8aff75 306px,#85ff7a 306px,#85ff7a 312px,#7fff80 312px,#7fff80 318px,#7aff85 318px,#7aff85 324px,#75ff8a 324px,#75ff8a 328px,#70ff8f 330px,#71ff8e 334px,#6dff92 336px,#6eff91 340px,#6aff95 342px,#6cff93 346px,#6aff95 348px,#6bff94 364px,#79ff86)"></i><i style="background:linear-gradient(90deg,#79ff86 0,#68ff97 44px,#68ff97 60px,#6aff95 62px,#69ff96 66px,#6cff93 68px,#6bff94 70px,#6fff90 72px,#6eff91 76px,#73ff8c 78px,#72ff8d 82px,#78ff87 84px,#77ff88 88px,#7dff82 90px,#7dff82 94px,#82ff7d 96px,#82ff7d 100px,#88ff77 102px,#88ff77 106px,#8fff70 106px,#8fff70 112px,#97ff68 112px,#98ff67 118px,#9fff60 120px,#a6ff59 212px,#9fff60 276px,#98ff67 276px,#97ff68 282px,#8fff70 284px,#8eff71 288px,#88ff77 290px,#88ff77 294px,#82ff7d 294px,#82ff7d 300px,#7cff83 300px,#7cff83 306px,#76ff89 306px,#76ff89 312px,#70ff8f 312px,#71ff8e 318px,#6bff94 318px,#6cff93 324px,#67ff98 324px,#68ff97 328px,#63ff9c 330px,#65ff9a 334px,#61ff9e 336px,#62ff9d 340px,#5fffa0 342px,#61ff9e 346px,#5fffa0 348px,#63ff9c 364px,#78ff87)"></i><i style="background:linear-gradient(90deg,#78ff87 0,#5fffa0 48px,#5dffa2 60px,#5effa1 62px,#5cffa3 66px,#5fffa0 68px,#5dffa2 70px,#61ff9e 72px,#5fffa0 76px,#63ff9c 78px,#62ff9d 82px,#67ff98 84px,#66ff99 88px,#6bff94 90px,#6aff95 94px,#6fff90 96px,#6eff91 100px,#72ff8d 102px,#73ff8c 118px,#6fff90 128px,#6cff93 240px,#6fff90 276px,#72ff8d 280px,#73ff8c 288px,#70ff8f 294px,#6cff93 296px,#6cff93 300px,#67ff98 300px,#68ff97 306px,#62ff9d 306px,#63ff9c 312px,#5dffa2 312px,#5fffa0 318px,#59ffa6 318px,#5bffa4 324px,#56ffa9 324px,#58ffa7 328px,#53ffac 330px,#56ffa9 334px,#53ffac 336px,#54ffab 340px,#52ffad 342px,#55ffaa 346px,#54ffab 348px,#5cffa3 364px,#76ff89)"></i><i style="background:linear-gradient(90deg,#77ff88 0,#53ffac 54px,#4effb1 66px,#4fffb0 68px,#4effb1 70px,#50ffaf 72px,#4effb1 76px,#51ffae 78px,#4fffb0 82px,#53ffac 84px,#51ffae 88px,#55ffaa 90px,#53ffac 94px,#57ffa8 96px,#55ffaa 100px,#57ffa8 104px,#45ffba 178px,#44ffbb 230px,#52ffad 294px,#50ffaf 296px,#51ffae 300px,#4cffb3 300px,#4fffb0 306px,#49ffb6 306px,#4cffb3 312px,#47ffb8 312px,#4affb5 318px,#45ffba 318px,#48ffb7 324px,#44ffbb 326px,#46ffb9 328px,#43ffbc 330px,#46ffb9 334px,#43ffbc 336px,#46ffb9 340px,#44ffbb 342px,#48ffb7 346px,#47ffb8 348px,#54ffab 364px,#72ff8d 392px,#74ff8b)"></i><i style="background:linear-gradient(90deg,#75ff8a 0,#3fffc0 66px,#3affc5 76px,#3bffc4 80px,#39ffc6 82px,#3affc5 86px,#38ffc7 88px,#3bffc4 90px,#38ffc7 94px,#3bffc4 96px,#39ffc6 100px,#3affc5 104px,#32ffcd 132px,#1fffe0 202px,#24ffdb 234px,#32ffcd 288px,#31ffce 294px,#2effd1 296px,#31ffce 300px,#2effd1 302px,#31ffce 306px,#2effd1 308px,#31ffce 312px,#2effd1 314px,#31ffce 318px,#2fffd0 320px,#32ffcd 324px,#30ffcf 326px,#32ffcd 328px,#31ffce 332px,#34ffcb 334px,#34ffcb 338px,#40ffbf 354px,#58ffa7 374px,#6eff91 390px,#73ff8c)"></i><i style="background:linear-gradient(90deg,#74ff8b 0,#45ffba 48px,#25ffda 76px,#18ffe7 100px,#19ffe6 104px,#17ffe8 106px,#1affe5 108px,#17ffe8 112px,#19ffe6 114px,#00feff 166px,#00f3ff 212px,#03fffc 250px,#0efff1 282px,#0bfff4 284px,#0dfff2 288px,#09fff6 290px,#0cfff3 294px,#09fff6 296px,#0dfff2 300px,#0efff1 304px,#20ffdf 334px,#2affd5 344px,#3cffc3 360px,#6bff94 388px,#71ff8e)"></i><i style="background:linear-gradient(90deg,#73ff8c 0,#4cffb3 36px,#08fff7 82px,#00fcff 92px,#00c5ff 160px,#00b4ff 202px,#00b5ff 222px,#00dcff 282px,#00e0ff 296px,#02fffd 324px,#1affe5 344px,#3bffc4 364px,#67ff98 388px,#6fff90)"></i><i style="background:linear-gradient(90deg,#72ff8d 0,#4dffb2 30px,#1fffe0 58px,#00feff 74px,#00aaff 122px,#0082ff 160px,#006bff 198px,#006bff 220px,#00a5ff 284px,#00bdff 300px,#00e7ff 322px,#03fffc 340px,#30ffcf 364px,#63ff9c 386px,#6eff91)"></i><i style="background:linear-gradient(90deg,#70ff8f 0,#4bffb4 28px,#1bffe4 54px,#00fdff 66px,#00bdff 94px,#00b4ff 98px,#00afff 100px,#00a7ff 102px,#00a1ff 106px,#0099ff 108px,#0091ff 112px,#0089ff 114px,#0064ff 136px,#003cff 170px,#0029ff 200px,#0028ff 218px,#006fff 282px,#0076ff 284px,#007cff 288px,#0083ff 290px,#0089ff 294px,#0091ff 296px,#0099ff 300px,#00a1ff 302px,#00a9ff 306px,#00b2ff 308px,#00ffff 346px,#45ffba 374px,#62ff9d 388px,#6cff93)"></i><i style="background:linear-gradient(90deg,#6fff90 0,#4bffb4 26px,#15ffea 52px,#00ffff 60px,#00c4ff 82px,#00b2ff 88px,#00a9ff 92px,#00a3ff 94px,#009aff 96px,#0092ff 100px,#008aff 102px,#0083ff 106px,#007bff 108px,#0072ff 112px,#0069ff 114px,#003aff 140px,#000fff 176px,#0000fe 200px,#0000fd 218px,#000bff 230px,#0032ff 260px,#004eff 282px,#0054ff 284px,#005aff 288px,#0061ff 290px,#0068ff 294px,#006fff 294px,#0079ff 300px,#0081ff 300px,#008cff 306px,#0095ff 308px,#009eff 312px,#00a7ff 314px,#02fffd 352px,#5cffa3 386px,#6aff95)"></i><i style="background:linear-gradient(90deg,#6eff91 0,#49ffb6 24px,#0efff1 50px,#00fbff 56px,#00b3ff 80px,#009eff 88px,#0094ff 92px,#008dff 94px,#0085ff 96px,#007cff 100px,#0072ff 104px,#0047ff 122px,#0011ff 154px,#0000fd 170px,#0000e6 198px,#0000e4 216px,#0000fa 234px,#0005ff 242px,#003cff 284px,#0043ff 288px,#004fff 294px,#0058ff 296px,#0061ff 300px,#006aff 302px,#0074ff 306px,#007eff 308px,#0087ff 312px,#0092ff 314px,#02fffd 356px,#58ffa7 384px,#69ff96)"></i><i style="background:linear-gradient(90deg,#6dff92 0,#47ffb8 24px,#0bfff4 48px,#00fbff 54px,#00b3ff 76px,#007fff 94px,#0045ff 116px,#000cff 146px,#0000fd 156px,#0000d7 190px,#0000cf 214px,#0000df 230px,#0001ff 252px,#0030ff 286px,#004fff 300px,#005fff 304px,#0072ff 310px,#0095ff 322px,#00f8ff 356px,#03fffc 360px,#55ffaa 384px,#68ff97)"></i><i style="background:linear-gradient(90deg,#6cff93 0,#46ffb9 22px,#07fff8 48px,#00fcff 50px,#00a6ff 76px,#0066ff 98px,#0021ff 126px,#0000fe 146px,#0000cd 184px,#0000bf 210px,#0000c6 222px,#0000fb 258px,#0007ff 268px,#002fff 292px,#0053ff 306px,#0075ff 316px,#00d2ff 348px,#00feff 360px,#53ffac 384px,#66ff99)"></i><i style="background:linear-gradient(90deg,#6bff94 0,#45ffba 22px,#06fff9 46px,#00fcff 48px,#009bff 76px,#005dff 98px,#0012ff 130px,#0000fe 140px,#0000d1 170px,#0000b8 196px,#0000b3 216px,#0000c7 232px,#0000f0 258px,#0002ff 272px,#0029ff 294px,#00b1ff 340px,#00ffff 362px,#4effb1 384px,#65ff9a)"></i><i style="background:linear-gradient(90deg,#6aff95 0,#43ffbc 22px,#00fdff 46px,#008cff 78px,#0032ff 112px,#0000fe 134px,#0000d2 162px,#0000b0 192px,#0000a8 214px,#0000b9 230px,#0000e4 256px,#0001ff 278px,#0024ff 296px,#00a4ff 340px,#03fffc 364px,#4cffb3 384px,#64ff9b)"></i><i style="background:linear-gradient(90deg,#6aff95 0,#43ffbc 20px,#00ffff 44px,#0085ff 78px,#0023ff 114px,#0000fd 130px,#0000cc 158px,#0000a6 190px,#00009d 214px,#0000ab 228px,#0000d9 256px,#0002ff 284px,#0022ff 298px,#009dff 340px,#02fffd 366px,#4affb5 384px,#63ff9c)"></i><i style="background:linear-gradient(90deg,#69ff96 0,#42ffbd 20px,#00ffff 44px,#0080ff 78px,#0012ff 118px,#0000fe 126px,#0000c8 156px,#00009e 188px,#000093 214px,#0000a2 228px,#0000d1 256px,#0002ff 288px,#0021ff 300px,#0097ff 340px,#00f5ff 364px,#03fffc 366px,#49ffb6 384px,#63ff9c)"></i><i style="background:linear-gradient(90deg,#69ff96 0,#43ffbc 20px,#00ffff 42px,#00b3ff 62px,#0076ff 80px,#0000ff 124px,#0000c3 154px,#000097 188px,#00008b 212px,#000097 226px,#0000c9 256px,#0000fb 288px,#0004ff 292px,#007eff 334px,#00d0ff 356px,#00ffff 366px,#48ffb7 384px,#62ff9d)"></i><i style="background:linear-gradient(90deg,#68ff97 0,#42ffbd 20px,#00feff 42px,#007dff 76px,#0002ff 120px,#0000bc 154px,#000090 188px,#000084 212px,#000090 226px,#0000c4 256px,#0000f6 288px,#0002ff 292px,#008cff 338px,#00e4ff 360px,#00feff 366px,#47ffb8 384px,#62ff9d)"></i><i style="background:linear-gradient(90deg,#68ff97 0,#42ffbd 20px,#00fdff 42px,#007bff 76px,#0002ff 120px,#0000bc 152px,#00008d 188px,#000080 212px,#00008d 226px,#0000c0 256px,#0000f4 288px,#0002ff 294px,#008eff 340px,#00e7ff 362px,#02fffd 368px,#47ffb8 384px,#62ff9d)"></i><i style="background:linear-gradient(90deg,#68ff97 0,#42ffbd 20px,#00fdff 42px,#007bff 76px,#0001ff 120px,#0000bd 152px,#00008d 186px,#000080 212px,#000089 224px,#0000c0 256px,#0000f3 288px,#0001ff 294px,#008fff 340px,#00e7ff 362px,#02fffd 368px,#47ffb8 384px,#62ff9d)"></i><i style="background:linear-gradient(90deg,#68ff97 0,#42ffbd 20px,#00feff 42px,#00a5ff 66px,#0069ff 82px,#0000ff 120px,#0000c0 150px,#000090 186px,#000082 210px,#000089 222px,#0000c3 256px,#0000f4 288px,#0002ff 294px,#0090ff 340px,#00e8ff 362px,#00feff 366px,#47ffb8 384px,#62ff9d)"></i><i style="background:linear-gradient(90deg,#69ff96 0,#43ffbc 20px,#01fffe 42px,#00bbff 60px,#0078ff 78px,#0001ff 122px,#0000bf 154px,#000092 188px,#000086 212px,#000092 226px,#0000c5 256px,#0000f8 288px,#0003ff 292px,#0090ff 338px,#00eaff 362px,#00ffff 366px,#48ffb7 384px,#62ff9d)"></i><i style="background:linear-gradient(90deg,#69ff96 0,#42ffbd 20px,#00ffff 44px,#007fff 78px,#0018ff 114px,#0000fe 124px,#0000c4 154px,#000098 188px,#00008d 214px,#00009a 226px,#0000cb 256px,#0000fd 288px,#0012ff 296px,#009bff 340px,#00f9ff 364px,#07fff8 368px,#49ffb6 384px,#63ff9c)"></i><i style="background:linear-gradient(90deg,#69ff96 0,#43ffbc 20px,#00ffff 44px,#0082ff 78px,#0020ff 114px,#0000fe 128px,#0000c8 156px,#0000a0 190px,#000096 214px,#0000a4 228px,#0000d3 256px,#0003ff 286px,#0021ff 300px,#00a8ff 342px,#02fffd 366px,#4affb5 384px,#63ff9c)"></i><i style="background:linear-gradient(90deg,#6aff95 0,#43ffbc 22px,#00fdff 46px,#0089ff 78px,#002aff 112px,#0000fe 132px,#0000cf 158px,#0000a9 190px,#0000a0 214px,#0000b0 228px,#0000dc 256px,#0002ff 282px,#0021ff 296px,#0080ff 328px,#00d3ff 352px,#02fffd 364px,#4bffb4 384px,#64ff9b)"></i><i style="background:linear-gradient(90deg,#6bff94 0,#45ffba 22px,#03fffc 46px,#00f5ff 50px,#0093ff 78px,#002bff 116px,#0000fe 136px,#0000d2 164px,#0000b3 192px,#0000ac 214px,#0000bd 230px,#0000e8 256px,#0002ff 276px,#0024ff 294px,#0079ff 322px,#00c9ff 348px,#00feff 362px,#4dffb2 384px,#65ff9a)"></i><i style="background:linear-gradient(90deg,#6cff93 0,#43ffbc 24px,#01fffe 50px,#009cff 80px,#0033ff 118px,#0000ff 142px,#0000ce 178px,#0000bd 202px,#0000bd 218px,#0000d7 236px,#0001ff 266px,#001aff 282px,#0041ff 298px,#0079ff 316px,#00d5ff 348px,#01fffe 362px,#4fffb0 384px,#66ff99)"></i><i style="background:linear-gradient(90deg,#6cff93 0,#46ffb9 24px,#08fff7 50px,#00fbff 54px,#00aaff 80px,#0048ff 116px,#0011ff 146px,#0000fd 160px,#0000dd 192px,#0000d7 216px,#0000eb 232px,#0001ff 246px,#002fff 282px,#0046ff 294px,#0089ff 316px,#00eaff 352px,#02fffd 360px,#54ffab 384px,#67ff98)"></i><i style="background:linear-gradient(90deg,#6dff92 0,#48ffb7 24px,#0bfff4 52px,#00fcff 56px,#00b8ff 80px,#0061ff 116px,#002bff 150px,#0002ff 188px,#0000f9 216px,#0003ff 226px,#002eff 260px,#0054ff 288px,#007fff 306px,#00a6ff 320px,#00f4ff 352px,#00ffff 356px,#56ffa9 384px,#68ff97)"></i><i style="background:linear-gradient(90deg,#6eff91 0,#49ffb6 26px,#11ffee 52px,#00fcff 60px,#00beff 86px,#0073ff 122px,#0044ff 156px,#0025ff 192px,#0021ff 216px,#0039ff 238px,#0069ff 282px,#0089ff 300px,#00b9ff 320px,#00f5ff 348px,#02fffd 354px,#5bffa4 386px,#6aff95)"></i><i style="background:linear-gradient(90deg,#70ff8f 0,#49ffb6 28px,#12ffed 56px,#00fcff 66px,#00a0ff 116px,#0072ff 152px,#0054ff 192px,#0050ff 218px,#0096ff 288px,#00f8ff 344px,#04fffb 350px,#37ffc8 370px,#5dffa2 386px,#6bff94)"></i><i style="background:linear-gradient(90deg,#71ff8e 0,#4affb5 30px,#19ffe6 58px,#00feff 74px,#00b2ff 134px,#008fff 176px,#0083ff 210px,#008aff 228px,#00c5ff 298px,#01fffe 342px,#2cffd3 364px,#62ff9d 386px,#6dff92)"></i><i style="background:linear-gradient(90deg,#72ff8d 0,#4cffb3 32px,#1cffe3 64px,#06fff9 82px,#00fcff 94px,#00c6ff 164px,#00b6ff 204px,#00baff 224px,#00e1ff 288px,#00e5ff 298px,#02fffd 328px,#11ffee 342px,#2cffd3 360px,#66ff99 388px,#6eff91)"></i><i style="background:linear-gradient(90deg,#73ff8c 0,#4bffb4 38px,#23ffdc 70px,#1bffe4 82px,#1affe5 86px,#0afff5 122px,#00fcff 140px,#00e5ff 196px,#00e6ff 224px,#02fffd 280px,#05fffa 294px,#04fffb 296px,#07fff8 300px,#07fff8 302px,#0afff5 306px,#0afff5 308px,#0dfff2 312px,#0dfff2 314px,#10ffef 318px,#0ffff0 320px,#13ffec 324px,#12ffed 326px,#1bffe4 338px,#2dffd2 354px,#51ffae 374px,#6aff95 390px,#70ff8f)"></i><i style="background:linear-gradient(90deg,#74ff8b 0,#35ffca 66px,#34ffcb 70px,#2fffd0 76px,#30ffcf 80px,#2dffd2 82px,#30ffcf 84px,#2cffd3 88px,#2fffd0 90px,#2cffd3 94px,#2dffd2 98px,#25ffda 120px,#0cfff3 182px,#09fff6 222px,#21ffde 288px,#21ffde 294px,#1fffe0 296px,#22ffdd 300px,#1fffe0 302px,#23ffdc 306px,#20ffdf 308px,#24ffdb 312px,#21ffde 314px,#25ffda 318px,#22ffdd 320px,#25ffda 324px,#23ffdc 326px,#26ffd9 328px,#24ffdb 330px,#28ffd7 334px,#27ffd8 336px,#2bffd4 340px,#2bffd4 342px,#3effc1 360px,#6dff92 390px,#71ff8e)"></i><i style="background:linear-gradient(90deg,#76ff89 0,#46ffb9 60px,#43ffbc 64px,#40ffbf 70px,#41ffbe 74px,#3fffc0 76px,#41ffbe 78px,#3effc1 82px,#41ffbe 84px,#3fffc0 88px,#42ffbd 90px,#3fffc0 94px,#42ffbd 96px,#40ffbf 100px,#41ffbe 104px,#29ffd6 196px,#2bffd4 230px,#3affc5 288px,#3affc5 294px,#37ffc8 296px,#39ffc6 300px,#36ffc9 302px,#39ffc6 306px,#35ffca 308px,#38ffc7 312px,#34ffcb 314px,#37ffc8 318px,#34ffcb 320px,#37ffc8 324px,#34ffcb 326px,#36ffc9 328px,#33ffcc 330px,#37ffc8 334px,#35ffca 336px,#38ffc7 340px,#38ffc7 342px,#47ffb8 360px,#70ff8f 390px,#73ff8c)"></i><i style="background:linear-gradient(90deg,#77ff88 0,#50ffaf 60px,#4effb1 64px,#4cffb3 70px,#4fffb0 72px,#4cffb3 76px,#4fffb0 78px,#4dffb2 82px,#50ffaf 84px,#4effb1 88px,#51ffae 90px,#50ffaf 94px,#53ffac 96px,#51ffae 100px,#54ffab 104px,#4fffb0 134px,#45ffba 216px,#50ffaf 288px,#4effb1 294px,#4bffb4 296px,#4cffb3 300px,#49ffb6 302px,#4bffb4 306px,#47ffb8 308px,#49ffb6 312px,#45ffba 312px,#47ffb8 318px,#43ffbc 320px,#46ffb9 324px,#42ffbd 326px,#44ffbb 328px,#41ffbe 330px,#44ffbb 334px,#42ffbd 336px,#44ffbb 340px,#44ffbb 342px,#4fffb0 360px,#72ff8d 392px,#75ff8a)"></i><i style="background:linear-gradient(90deg,#78ff87 0,#5affa5 54px,#57ffa8 66px,#58ffa7 68px,#57ffa8 70px,#59ffa6 74px,#58ffa7 76px,#5bffa4 78px,#59ffa6 82px,#5cffa3 84px,#5bffa4 88px,#5effa1 90px,#5dffa2 94px,#60ff9f 98px,#5fffa0 100px,#61ff9e 104px,#63ff9c 124px,#5bffa4 222px,#61ff9e 282px,#5effa1 294px,#5affa5 296px,#5bffa4 300px,#58ffa7 302px,#59ffa6 306px,#55ffaa 308px,#57ffa8 312px,#53ffac 314px,#55ffaa 318px,#51ffae 320px,#53ffac 324px,#4fffb0 326px,#51ffae 328px,#4effb1 330px,#50ffaf 334px,#4dffb2 336px,#50ffaf 340px,#4effb1 342px,#59ffa6 362px,#75ff8a 392px,#76ff89)"></i><i style="background:linear-gradient(90deg,#7aff85 0,#61ff9e 60px,#60ff9f 70px,#62ff9d 74px,#63ff9c 82px,#65ff9a 86px,#65ff9a 88px,#67ff98 92px,#6dff92 120px,#68ff97 230px,#6aff95 288px,#66ff99 298px,#64ff9b 304px,#61ff9e 310px,#62ff9d 312px,#5effa1 314px,#60ff9f 318px,#5cffa3 320px,#5dffa2 324px,#5affa5 326px,#5bffa4 328px,#59ffa6 332px,#5affa5 344px,#61ff9e 364px,#78ff87)"></i><i style="background:linear-gradient(90deg,#7bff84 0,#68ff97 60px,#6aff95 82px,#72ff8d 110px,#6eff91 242px,#6fff90 294px,#6aff95 312px,#68ff97 316px,#63ff9c 334px,#64ff9b 350px,#71ff8e 376px,#7aff85)"></i><i style="background:linear-gradient(90deg,#7cff83 0,#6fff90 66px,#74ff8b 120px,#73ff8c 256px,#71ff8e 306px,#6bff94 338px,#72ff8d 370px,#7cff83)"></i><i style="background:linear-gradient(90deg,#7eff81 0,#75ff8a 82px,#74ff8b 318px,#76ff89 362px,#7dff82)"></i><i style="background:linear-gradient(90deg,#7fff80 0,#76ff89 230px,#7fff80)"></i><i style="background:linear-gradient(90deg,#80ff7f 0,#83ff7c 60px,#79ff86 120px,#7aff85 300px,#82ff7d 350px,#80ff7f)"></i><i style="background:linear-gradient(90deg,#81ff7e 0,#8aff75 42px,#8cff73 60px,#7cff83 104px,#7cff83 294px,#89ff76 338px,#81ff7e)"></i><i style="background:linear-gradient(90deg,#82ff7d 0,#8bff74 32px,#97ff68 54px,#94ff6b 66px,#91ff6e 68px,#8eff71 76px,#8bff74 80px,#8bff74 82px,#87ff78 86px,#88ff77 88px,#84ff7b 92px,#7dff82 116px,#7fff80 294px,#84ff7b 306px,#87ff78 308px,#87ff78 312px,#8aff75 314px,#8fff70 334px,#8dff72 350px,#82ff7d 382px,#81ff7e)"></i><i style="background:linear-gradient(90deg,#83ff7c 0,#8cff73 26px,#a0ff5f 48px,#a2ff5d 54px,#a0ff5f 58px,#9fff60 64px,#9cff63 70px,#98ff67 74px,#98ff67 76px,#94ff6b 78px,#95ff6a 82px,#90ff6f 84px,#91ff6e 88px,#8cff73 90px,#8dff72 94px,#88ff77 96px,#88ff77 100px,#84ff7b 102px,#81ff7e 134px,#82ff7d 288px,#84ff7b 294px,#88ff77 296px,#88ff77 300px,#8cff73 302px,#8bff74 306px,#8fff70 308px,#8fff70 312px,#93ff6c 314px,#92ff6d 318px,#95ff6a 320px,#94ff6b 324px,#97ff68 326px,#96ff69 344px,#84ff7b 376px,#82ff7d)"></i><i style="background:linear-gradient(90deg,#84ff7b 0,#8eff71 26px,#abff54 48px,#aeff51 54px,#acff53 58px,#adff52 60px,#aaff55 62px,#abff54 66px,#a7ff58 68px,#a8ff57 70px,#a4ff5b 72px,#a5ff5a 76px,#a0ff5f 78px,#a1ff5e 82px,#9cff63 84px,#9dff62 88px,#98ff67 90px,#99ff66 94px,#94ff6b 96px,#94ff6b 100px,#8fff70 102px,#8fff70 106px,#8aff75 106px,#8aff75 112px,#86ff79 114px,#86ff79 282px,#8aff75 284px,#8aff75 288px,#8fff70 290px,#8eff71 294px,#94ff6b 294px,#93ff6c 300px,#98ff67 300px,#96ff69 306px,#9bff64 308px,#9aff65 312px,#9eff61 314px,#9cff63 318px,#a0ff5f 320px,#9eff61 324px,#a1ff5e 326px,#a0ff5f 328px,#a2ff5d 330px,#a0ff5f 334px,#a0ff5f 338px,#97ff68 352px,#86ff79 374px,#82ff7d)"></i><i style="background:linear-gradient(90deg,#85ff7a 0,#90ff6f 24px,#abff54 42px,#b6ff49 48px,#baff45 54px,#b8ff47 56px,#baff45 60px,#b7ff48 62px,#b9ff46 66px,#b6ff49 68px,#b7ff48 70px,#b3ff4c 72px,#b4ff4b 76px,#afff50 78px,#b0ff4f 82px,#acff53 84px,#adff52 88px,#a8ff57 90px,#aaff55 94px,#a5ff5a 96px,#a6ff59 100px,#a1ff5e 102px,#a2ff5d 106px,#9cff63 106px,#9dff62 112px,#98ff67 112px,#99ff66 118px,#96ff69 124px,#9aff65 234px,#96ff69 276px,#98ff67 280px,#97ff68 282px,#9dff62 284px,#9cff63 288px,#a1ff5e 290px,#a0ff5f 294px,#a5ff5a 294px,#a3ff5c 300px,#a8ff57 300px,#a6ff59 306px,#aaff55 308px,#a8ff57 312px,#acff53 314px,#aaff55 318px,#adff52 320px,#abff54 324px,#adff52 326px,#abff54 328px,#aeff51 330px,#aaff55 334px,#aaff55 338px,#9cff63 352px,#88ff77 370px,#83ff7c)"></i><i style="background:linear-gradient(90deg,#86ff79 0,#92ff6d 24px,#b2ff4d 42px,#c2ff3d 48px,#c8ff37 54px,#c7ff38 58px,#c9ff36 60px,#c6ff39 62px,#c9ff36 66px,#c6ff39 68px,#c7ff38 70px,#c3ff3c 72px,#c5ff3a 76px,#c1ff3e 78px,#c3ff3c 82px,#bfff40 84px,#c1ff3e 88px,#bdff42 90px,#bfff40 94px,#bcff43 96px,#bdff42 100px,#bbff44 104px,#ccff33 180px,#c7ff38 252px,#b8ff47 294px,#b9ff46 298px,#b8ff47 300px,#bbff44 302px,#b9ff46 306px,#bcff43 308px,#b9ff46 312px,#bcff43 314px,#b9ff46 318px,#bcff43 320px,#b9ff46 324px,#bbff44 326px,#b8ff47 328px,#baff45 330px,#afff50 344px,#8cff73 368px,#84ff7b)"></i><i style="background:linear-gradient(90deg,#86ff79 0,#93ff6c 22px,#acff53 36px,#ceff31 48px,#d6ff29 54px,#d7ff28 58px,#d9ff26 60px,#d7ff28 62px,#daff25 66px,#d8ff27 68px,#daff25 70px,#d7ff28 72px,#d9ff26 76px,#d6ff29 78px,#d8ff27 82px,#d5ff2a 84px,#d7ff28 88px,#d6ff29 92px,#dfff20 112px,#f2ff0d 136px,#fffe00 190px,#faff05 240px,#ecff13 268px,#d1ff2e 300px,#cfff30 306px,#d0ff2f 308px,#cdff32 312px,#cfff30 314px,#ccff33 318px,#cdff32 320px,#c9ff36 324px,#c9ff36 326px,#bfff40 338px,#abff54 352px,#96ff69 362px,#89ff76 376px,#84ff7b)"></i><i style="background:linear-gradient(90deg,#87ff78 0,#95ff6a 22px,#afff50 34px,#dbff24 48px,#e6ff19 54px,#edff12 66px,#edff12 70px,#eeff11 76px,#edff12 80px,#f5ff0a 100px,#fffc00 116px,#ffe500 148px,#ffd900 198px,#ffe500 250px,#fcff03 284px,#e7ff18 306px,#e1ff1e 316px,#d3ff2c 332px,#c0ff3f 344px,#95ff6a 364px,#89ff76 378px,#85ff7a)"></i><i style="background:linear-gradient(90deg,#88ff77 0,#96ff69 20px,#b0ff4f 32px,#d2ff2d 42px,#eaff15 50px,#f5ff0a 54px,#fffe00 68px,#ffef00 94px,#ffd900 122px,#ffc400 148px,#ffb600 194px,#ffc000 240px,#ffce00 262px,#feff01 310px,#e2ff1d 332px,#caff35 344px,#9cff63 362px,#8dff72 374px,#85ff7a)"></i><i style="background:linear-gradient(90deg,#89ff76 0,#97ff68 20px,#b2ff4d 32px,#dcff23 42px,#fbff04 50px,#fff700 56px,#ffe400 74px,#ffc600 106px,#ffc600 108px,#ffc200 112px,#ffc200 114px,#ffa200 146px,#ff9000 190px,#ff9600 228px,#ffa800 258px,#ffc700 282px,#ffc800 286px,#ffe400 308px,#feff01 326px,#daff25 342px,#a3ff5c 360px,#8fff70 372px,#86ff79)"></i><i style="background:linear-gradient(90deg,#8aff75 0,#99ff66 20px,#b7ff48 32px,#e5ff1a 42px,#feff01 48px,#ffe900 54px,#ffcc00 76px,#ff9c00 112px,#ff7300 144px,#ff5d00 186px,#ff5f00 218px,#ff7500 256px,#ffb500 296px,#fdff02 334px,#ceff31 350px,#aaff55 360px,#91ff6e 372px,#86ff79)"></i><i style="background:linear-gradient(90deg,#8bff74 0,#9bff64 20px,#b8ff47 30px,#e9ff16 42px,#fffe00 46px,#ffe200 52px,#ffc400 66px,#ffa100 88px,#ff4b00 130px,#ff3400 148px,#ff1d00 186px,#ff1e00 214px,#ff3600 252px,#ff5800 272px,#ff7100 282px,#ffaa00 304px,#fffb00 336px,#f3ff0c 342px,#c4ff3b 354px,#a8ff57 362px,#92ff6d 372px,#87ff78)"></i><i style="background:linear-gradient(90deg,#8bff74 0,#9bff64 18px,#b5ff4a 28px,#e6ff19 40px,#feff01 44px,#ffd800 50px,#ffba00 62px,#ff8900 88px,#ff6c00 100px,#ff6200 104px,#ff5e00 106px,#ff5700 108px,#ff1a00 136px,#ff0000 162px,#ee0000 192px,#f30000 220px,#ff0200 240px,#ff1500 258px,#ff4e00 282px,#ff6000 288px,#ff6900 290px,#ff7000 294px,#ff7b00 296px,#ffe800 334px,#fdff02 342px,#caff35 354px,#aeff51 360px,#95ff6a 370px,#88ff77 394px,#87ff78)"></i><i style="background:linear-gradient(90deg,#8cff73 0,#9dff62 18px,#b9ff46 28px,#e3ff1c 38px,#fffd00 42px,#ffcc00 50px,#ffac00 60px,#ff8300 82px,#ff7300 88px,#ff6800 92px,#ff5300 100px,#ff4b00 102px,#ff4500 106px,#ff3b00 108px,#ff0000 134px,#e70000 152px,#cf0000 186px,#cf0000 210px,#e50000 244px,#f80000 258px,#ff0400 264px,#ff4700 288px,#ff5300 292px,#ff6c00 300px,#ff7800 302px,#ffd900 334px,#feff01 344px,#caff35 354px,#abff54 362px,#95ff6a 372px,#88ff77)"></i><i style="background:linear-gradient(90deg,#8cff73 0,#9dff62 18px,#b5ff4a 26px,#d8ff27 34px,#fffc00 42px,#ffc000 50px,#ff9e00 60px,#ff7e00 76px,#ff6200 88px,#ff2500 110px,#fe0000 126px,#dd0000 142px,#bc0000 178px,#b60000 202px,#c50000 232px,#dd0000 256px,#ff0200 270px,#ff3600 288px,#ff6c00 304px,#ffce00 334px,#fdff02 346px,#bbff44 358px,#9aff65 370px,#8aff75 388px,#88ff77)"></i><i style="background:linear-gradient(90deg,#8dff72 0,#9eff61 18px,#b4ff4b 26px,#d7ff28 34px,#fffd00 40px,#ffb600 50px,#ff9900 58px,#ff7400 74px,#ff5300 88px,#ff1400 112px,#fd0000 122px,#d40000 140px,#b00000 176px,#a90000 200px,#b50000 228px,#d10000 256px,#ff0200 274px,#ff3a00 294px,#ffb100 328px,#fffa00 346px,#faff05 348px,#beff41 358px,#9bff64 370px,#8bff74 386px,#89ff76)"></i><i style="background:linear-gradient(90deg,#8dff72 0,#9eff61 16px,#b2ff4d 24px,#d5ff2a 32px,#fffe00 40px,#ffad00 50px,#ff8f00 58px,#ff6800 74px,#ff4800 88px,#ff0100 116px,#ca0000 140px,#a50000 176px,#9d0000 200px,#a90000 228px,#c50000 254px,#f20000 272px,#ff0100 278px,#ff8000 318px,#ffc500 336px,#fffe00 348px,#c1ff3e 358px,#9cff63 370px,#8cff73 386px,#89ff76)"></i><i style="background:linear-gradient(90deg,#8eff71 0,#9fff60 16px,#b4ff4b 24px,#d7ff28 32px,#fdff02 38px,#ffdb00 44px,#ffa600 50px,#ff8600 58px,#ff6000 74px,#ff3500 92px,#fd0000 114px,#c40000 138px,#a00000 170px,#930000 196px,#9b0000 222px,#ba0000 254px,#df0000 268px,#ff0200 280px,#ff8700 322px,#ffc800 338px,#ffff00 348px,#c3ff3c 358px,#9fff60 368px,#92ff6d 378px,#89ff76)"></i><i style="background:linear-gradient(90deg,#8eff71 0,#9fff60 16px,#b5ff4a 24px,#daff25 32px,#fffd00 38px,#ffa000 50px,#ff8000 58px,#ff5b00 72px,#ff2f00 92px,#fe0000 112px,#bd0000 138px,#980000 170px,#8b0000 196px,#930000 222px,#b30000 254px,#d80000 268px,#ff0200 282px,#ff8800 324px,#ffc800 338px,#fffc00 348px,#efff10 352px,#c5ff3a 358px,#a0ff5f 368px,#92ff6d 378px,#89ff76)"></i><i style="background:linear-gradient(90deg,#8eff71 0,#a0ff5f 16px,#b2ff4d 24px,#dbff24 32px,#fcff03 38px,#ffec00 40px,#ffa200 50px,#ff8500 56px,#ff5f00 68px,#ff2800 94px,#ff0000 110px,#b70000 138px,#930000 170px,#850000 194px,#8d0000 220px,#ab0000 252px,#cd0000 266px,#ff0000 284px,#ff8400 324px,#ffc400 338px,#ffff00 350px,#c6ff39 358px,#a1ff5e 368px,#92ff6d 378px,#89ff76)"></i><i style="background:linear-gradient(90deg,#8fff70 0,#a0ff5f 16px,#b3ff4c 24px,#dcff23 32px,#feff01 38px,#ffd200 44px,#ff9a00 50px,#ff7800 58px,#ff5400 72px,#ff2600 94px,#fe0000 108px,#b30000 138px,#8f0000 170px,#810000 194px,#890000 220px,#a80000 252px,#c90000 266px,#ff0000 284px,#ff8600 324px,#ffc200 338px,#fffe00 350px,#c7ff38 358px,#a1ff5e 368px,#93ff6c 378px,#8aff75)"></i><i style="background:linear-gradient(90deg,#8fff70 0,#a0ff5f 16px,#b3ff4c 24px,#ddff22 32px,#feff01 38px,#ffd100 44px,#ff9900 50px,#ff7700 58px,#ff5300 72px,#ff2500 94px,#fd0000 108px,#b20000 138px,#8d0000 170px,#800000 194px,#880000 220px,#a60000 252px,#c80000 266px,#ff0300 286px,#ff8500 324px,#ffc200 338px,#fffe00 350px,#c7ff38 358px,#a1ff5e 368px,#93ff6c 378px,#8aff75)"></i><i style="background:linear-gradient(90deg,#8fff70 0,#a0ff5f 16px,#b3ff4c 24px,#dcff23 32px,#feff01 38px,#ffd100 44px,#ff9900 50px,#ff7800 58px,#ff5400 72px,#ff2600 94px,#fe0000 108px,#b40000 138px,#8f0000 170px,#810000 194px,#890000 220px,#a80000 252px,#c90000 266px,#ff0000 284px,#ff8600 324px,#ffc200 338px,#fffe00 350px,#c7ff38 358px,#a1ff5e 368px,#93ff6c 378px,#8aff75)"></i><i style="background:linear-gradient(90deg,#8fff70 0,#a0ff5f 16px,#b2ff4d 24px,#dcff23 32px,#fdff02 38px,#ffe400 42px,#ffa200 50px,#ff8500 56px,#ff5f00 68px,#ff2800 94px,#ff0000 110px,#b70000 138px,#930000 170px,#850000 194px,#8d0000 220px,#ab0000 252px,#cd0000 266px,#ff0000 284px,#ff8400 324px,#ffc400 338px,#ffff00 350px,#c6ff39 358px,#a1ff5e 368px,#92ff6d 378px,#8aff75)"></i><i style="background:linear-gradient(90deg,#8eff71 0,#a0ff5f 16px,#b5ff4a 24px,#daff25 32px,#fffd00 38px,#ffa000 50px,#ff7f00 58px,#ff5900 74px,#ff2a00 94px,#ff0000 112px,#bd0000 138px,#980000 170px,#8b0000 196px,#940000 222px,#b30000 254px,#d80000 268px,#ff0200 282px,#ff8800 324px,#ffc700 338px,#fdff02 350px,#c5ff3a 358px,#a0ff5f 368px,#92ff6d 378px,#89ff76)"></i><i style="background:linear-gradient(90deg,#8eff71 0,#9fff60 16px,#b4ff4b 24px,#d8ff27 32px,#feff01 38px,#ffa500 50px,#ff8500 58px,#ff5f00 74px,#ff3500 92px,#fe0000 114px,#c40000 138px,#a00000 170px,#930000 196px,#9c0000 222px,#ba0000 254px,#df0000 268px,#ff0200 280px,#ff8a00 322px,#ffcc00 338px,#ffff00 348px,#c4ff3b 358px,#a0ff5f 368px,#92ff6d 378px,#89ff76)"></i><i style="background:linear-gradient(90deg,#8eff71 0,#9eff61 16px,#b3ff4c 24px,#d6ff29 32px,#fffd00 40px,#ffac00 50px,#ff8d00 58px,#ff6800 74px,#ff4800 88px,#fe0000 118px,#cc0000 140px,#a70000 174px,#9d0000 198px,#a80000 224px,#c50000 254px,#f30000 272px,#ff0100 278px,#ff7f00 318px,#ffc800 336px,#fffd00 348px,#c2ff3d 358px,#9cff63 370px,#8dff72 386px,#89ff76)"></i><i style="background:linear-gradient(90deg,#8dff72 0,#9fff60 18px,#b4ff4b 26px,#d8ff27 34px,#fcff03 40px,#ffed00 42px,#ffb400 50px,#ff9100 60px,#ff6f00 76px,#ff4300 94px,#ff0100 120px,#d30000 142px,#b00000 178px,#a90000 202px,#b70000 230px,#d20000 256px,#ff0000 274px,#ff3b00 294px,#ffb000 328px,#fff400 344px,#fbff04 348px,#bfff40 358px,#9bff64 370px,#8cff73 386px,#89ff76)"></i><i style="background:linear-gradient(90deg,#8dff72 0,#9dff62 18px,#b6ff49 26px,#d9ff26 34px,#fdff02 40px,#ffbe00 50px,#ff9c00 60px,#ff7200 80px,#ff5100 94px,#ff1600 116px,#fc0000 126px,#dc0000 144px,#bc0000 180px,#b70000 204px,#c70000 234px,#de0000 256px,#ff0000 270px,#ff3700 288px,#ff6c00 304px,#ffcc00 334px,#ffff00 346px,#bcff43 358px,#9aff65 370px,#8bff74 386px,#88ff77)"></i><i style="background:linear-gradient(90deg,#8cff73 0,#9eff61 18px,#baff45 28px,#e5ff1a 38px,#fcff03 42px,#ffc900 50px,#ffaa00 60px,#ff7200 88px,#ff3800 110px,#ff0000 136px,#e60000 156px,#d10000 186px,#d20000 212px,#ea0000 248px,#ff0100 262px,#ff4800 288px,#ff6900 298px,#ffda00 334px,#fffe00 344px,#d6ff29 352px,#b6ff49 360px,#97ff68 370px,#89ff76 392px,#88ff77)"></i><i style="background:linear-gradient(90deg,#8cff73 0,#9cff63 18px,#b7ff48 28px,#e9ff16 40px,#fffc00 44px,#ffd500 50px,#ffbb00 60px,#ff8600 88px,#ff4700 114px,#ff1700 140px,#fd0000 166px,#f00000 196px,#f90000 226px,#ff0400 240px,#ff1700 258px,#ff5d00 288px,#ff9000 304px,#ffe900 336px,#fffe00 342px,#d1ff2e 352px,#afff50 360px,#96ff69 370px,#88ff77 392px,#88ff77)"></i><i style="background:linear-gradient(90deg,#8bff74 0,#9cff63 20px,#baff45 30px,#ecff13 42px,#fdff02 44px,#ffde00 52px,#ffc100 64px,#ff9d00 88px,#ff4800 130px,#ff3200 148px,#ff1a00 186px,#ff1b00 214px,#ff3200 252px,#ff4f00 268px,#ff7d00 288px,#ffb500 310px,#fff800 336px,#fcff03 340px,#cbff34 352px,#acff53 360px,#93ff6c 372px,#87ff78)"></i><i style="background:linear-gradient(90deg,#8aff75 0,#9aff65 20px,#b9ff46 32px,#e9ff16 42px,#feff01 46px,#ffe300 54px,#ffc800 74px,#ffa600 98px,#ff6600 140px,#ff4c00 182px,#ff4c00 212px,#ff6100 252px,#ff8600 276px,#fff700 332px,#fdff02 336px,#caff35 352px,#abff54 360px,#92ff6d 372px,#87ff78)"></i><i style="background:linear-gradient(90deg,#8aff75 0,#98ff67 20px,#b5ff4a 32px,#e0ff1f 42px,#feff01 50px,#ffec00 58px,#ffd600 82px,#ffa900 122px,#ff9000 146px,#ff7d00 188px,#ff8100 224px,#ff9400 258px,#fff500 322px,#fdff02 330px,#d8ff27 344px,#a5ff5a 360px,#90ff6f 372px,#86ff79)"></i><i style="background:linear-gradient(90deg,#89ff76 0,#98ff67 20px,#b3ff4c 32px,#d7ff28 42px,#f0ff0f 50px,#fdff02 54px,#fff000 76px,#ffea00 88px,#ffda00 114px,#ffbd00 146px,#ffac00 192px,#ffb400 234px,#ffc300 260px,#ffe900 294px,#fdff02 318px,#dfff20 338px,#bdff42 352px,#a2ff5d 360px,#8eff71 372px,#86ff79)"></i><i style="background:linear-gradient(90deg,#88ff77 0,#95ff6a 20px,#aeff51 32px,#cdff32 42px,#e2ff1d 48px,#eeff11 54px,#f6ff09 66px,#f9ff06 76px,#f9ff06 80px,#fcff03 88px,#faff05 90px,#feff01 94px,#fcff03 96px,#ffff00 100px,#fdff02 102px,#fffc00 116px,#ffe600 152px,#ffdc00 200px,#ffe800 252px,#ffff00 284px,#faff05 288px,#fbff04 290px,#f8ff07 294px,#f9ff06 296px,#f5ff0a 300px,#f6ff09 302px,#f2ff0d 306px,#f2ff0d 308px,#e5ff1a 322px,#d9ff26 334px,#c5ff3a 344px,#acff53 354px,#91ff6e 368px,#86ff79 392px,#85ff7a)"></i><i style="background:linear-gradient(90deg,#88ff77 0,#95ff6a 22px,#a9ff56 32px,#c4ff3b 42px,#d6ff29 48px,#dfff20 54px,#e1ff1e 58px,#e5ff1a 66px,#e4ff1b 68px,#e5ff1a 76px,#e4ff1b 80px,#e6ff19 82px,#e3ff1c 84px,#e6ff19 88px,#e3ff1c 90px,#e6ff19 94px,#e4ff1b 96px,#e7ff18 100px,#e4ff1b 102px,#e6ff19 106px,#e3ff1c 108px,#e6ff19 112px,#e5ff1a 116px,#f8ff07 158px,#feff01 208px,#f1ff0e 260px,#e2ff1d 282px,#e2ff1d 286px,#e0ff1f 288px,#e2ff1d 290px,#dfff20 294px,#e2ff1d 296px,#deff21 300px,#e0ff1f 302px,#dcff23 306px,#deff21 308px,#daff25 312px,#dbff24 314px,#cdff32 332px,#bcff43 344px,#a7ff58 354px,#8dff72 370px,#85ff7a)"></i><i style="background:linear-gradient(90deg,#87ff78 0,#93ff6c 22px,#aaff55 36px,#caff35 48px,#d1ff2e 54px,#d1ff2e 58px,#d3ff2c 60px,#d2ff2d 62px,#d4ff2b 66px,#d2ff2d 68px,#d4ff2b 70px,#d1ff2e 72px,#d3ff2c 76px,#d0ff2f 78px,#d2ff2d 82px,#d0ff2f 86px,#d2ff2d 88px,#d0ff2f 92px,#d2ff2d 94px,#d0ff2f 98px,#d4ff2b 120px,#e3ff1c 160px,#e7ff18 216px,#dbff24 264px,#cdff32 288px,#ccff33 298px,#caff35 306px,#cbff34 308px,#c8ff37 312px,#c9ff36 314px,#c0ff3f 332px,#b5ff4a 344px,#a2ff5d 354px,#8bff74 372px,#84ff7b)"></i><i style="background:linear-gradient(90deg,#86ff79 0,#92ff6d 24px,#b0ff4f 42px,#bfff40 48px,#c4ff3b 54px,#c3ff3c 58px,#c5ff3a 60px,#c2ff3d 62px,#c5ff3a 66px,#c2ff3d 68px,#c4ff3b 70px,#c1ff3e 72px,#c2ff3d 76px,#c0ff3f 80px,#c1ff3e 82px,#bfff40 86px,#c5ff3a 118px,#d4ff2b 166px,#d5ff2a 226px,#c9ff36 268px,#baff45 306px,#b8ff47 316px,#b5ff4a 332px,#acff53 344px,#9dff62 354px,#89ff76 372px,#84ff7b)"></i><i style="background:linear-gradient(90deg,#85ff7a 0,#91ff6e 24px,#abff54 42px,#b4ff4b 48px,#b7ff48 54px,#b8ff47 60px,#b5ff4a 62px,#b7ff48 66px,#b4ff4b 68px,#b5ff4a 70px,#b2ff4d 72px,#b3ff4c 76px,#b0ff4f 80px,#b1ff4e 102px,#c3ff3c 154px,#c6ff39 222px,#bbff44 270px,#abff54 306px,#abff54 322px,#aaff55 332px,#a4ff5b 344px,#88ff77 372px,#83ff7c)"></i><i style="background:linear-gradient(90deg,#85ff7a 0,#8eff71 24px,#aaff55 48px,#abff54 52px,#adff52 54px,#aaff55 56px,#acff53 60px,#a9ff56 62px,#aaff55 66px,#a7ff58 68px,#a8ff57 70px,#a5ff5a 74px,#a6ff59 76px,#a3ff5c 80px,#a3ff5c 104px,#b0ff4f 146px,#b3ff4c 226px,#aaff55 276px,#9eff61 306px,#a0ff5f 332px,#9cff63 344px,#87ff78 374px,#83ff7c)"></i><i style="background:linear-gradient(90deg,#84ff7b 0,#8dff72 26px,#a2ff5d 48px,#a2ff5d 52px,#a3ff5c 54px,#a0ff5f 58px,#a1ff5e 60px,#9eff61 62px,#9fff60 66px,#9cff63 68px,#94ff6b 94px,#96ff69 132px,#97ff68 250px,#93ff6c 306px,#98ff67 332px,#96ff69 344px,#84ff7b 378px,#83ff7c)"></i><i style="background:linear-gradient(90deg,#84ff7b 0,#8dff72 30px,#9aff65 48px,#99ff66 54px,#98ff67 60px,#95ff6a 62px,#96ff69 66px,#93ff6c 68px,#84ff7b 106px,#81ff7e 110px,#7dff82 126px,#7eff81 282px,#81ff7e 286px,#8aff75 310px,#90ff6f 334px,#90ff6f 344px,#83ff7c 382px,#82ff7d)"></i><i style="background:linear-gradient(90deg,#83ff7c 0,#8cff73 32px,#93ff6c 48px,#92ff6d 54px,#90ff6f 58px,#7aff85 106px,#73ff8c 120px,#71ff8e 248px,#76ff89 288px,#79ff86 292px,#82ff7d 310px,#8aff75 334px,#8bff74 350px,#82ff7d 390px,#82ff7d)"></i><i style="background:linear-gradient(90deg,#82ff7d 0,#8dff72 48px,#71ff8e 116px,#6dff92 236px,#73ff8c 294px,#81ff7e 322px,#87ff78 344px,#81ff7e)"></i></div>
<div class="hm" style="left:462px;top:532px;width:148px;height:139px"><i style="background:linear-gradient(90deg,#5dffa2 0,#60ff9f 124px,#5dffa2)"></i><i style="background:linear-gradient(90deg,#5dffa2 0,#60ff9f 124px,#5dffa2)"></i><i style="background:linear-gradient(90deg,#5dffa2 0,#60ff9f 124px,#5effa1)"></i><i style="background:linear-gradient(90deg,#5effa1 0,#60ff9f 124px,#5effa1)"></i><i style="background:linear-gradient(90deg,#5effa1 0,#60ff9f 126px,#5effa1)"></i><i style="background:linear-gradient(90deg,#5effa1 0,#61ff9e 126px,#5effa1)"></i><i style="background:linear-gradient(90deg,#5fffa0 0,#61ff9e 128px,#5fffa0)"></i><i style="background:linear-gradient(90deg,#60ff9f 0,#62ff9d 130px,#60ff9f)"></i><i style="background:linear-gradient(90deg,#60ff9f 0,#62ff9d 130px,#61ff9e)"></i><i style="background:linear-gradient(90deg,#61ff9e 0,#63ff9c 134px,#61ff9e)"></i><i style="background:linear-gradient(90deg,#63ff9c 0,#64ff9b 136px,#63ff9c)"></i><i style="background:#6fff90"></i><i style="background:#96ff69"></i><i style="background:linear-gradient(90deg,#baff45 0,#b4ff4b 78px,#baff45)"></i><i style="background:linear-gradient(90deg,#d0ff2f 0,#c7ff38 60px,#ccff33 136px,#d0ff2f)"></i><i style="background:linear-gradient(90deg,#e2ff1d 0,#d8ff27 52px,#dcff23 130px,#e2ff1d)"></i><i style="background:linear-gradient(90deg,#f4ff0b 0,#e9ff16 46px,#ecff13 124px,#f4ff0b)"></i><i style="background:linear-gradient(90deg,#fff300 0,#ffff00 38px,#fffc00 126px,#fff300)"></i><i style="background:linear-gradient(90deg,#ffd100 0,#ffe100 36px,#ffe100 112px,#ffd100)"></i><i style="background:linear-gradient(90deg,#ffa600 0,#ffb800 32px,#ffbc00 92px,#ffb200 132px,#ffa600)"></i><i style="background:linear-gradient(90deg,#ff7700 0,#ff8c00 28px,#ff9300 74px,#ff8d00 118px,#ff7900 146px,#ff7800)"></i><i style="background:linear-gradient(90deg,#ff4a00 0,#ff6100 26px,#ff6a00 62px,#ff6600 112px,#ff5300 140px,#ff4a00)"></i><i style="background:linear-gradient(90deg,#ff1600 0,#ff3000 24px,#ff3c00 54px,#ff3800 108px,#ff2600 136px,#ff1700)"></i><i style="background:linear-gradient(90deg,#e70000 0,#ff0100 18px,#ff1100 46px,#ff1100 102px,#ff0100 130px,#e80000)"></i><i style="background:linear-gradient(90deg,#cc0000 0,#e90000 22px,#f70000 48px,#f60000 104px,#e60000 130px,#cc0000)"></i><i style="background:linear-gradient(90deg,#b80000 0,#d50000 20px,#e50000 46px,#e50000 102px,#d50000 128px,#b80000)"></i><i style="background:linear-gradient(90deg,#a60000 0,#c40000 20px,#d50000 46px,#d60000 98px,#c80000 124px,#ac0000 144px,#a60000)"></i><i style="background:linear-gradient(90deg,#980000 0,#b70000 20px,#c80000 46px,#c90000 98px,#ba0000 124px,#9e0000 144px,#980000)"></i><i style="background:linear-gradient(90deg,#8d0000 0,#ad0000 20px,#be0000 44px,#c00000 96px,#b40000 122px,#9a0000 142px,#8e0000)"></i><i style="background:linear-gradient(90deg,#880000 0,#a80000 20px,#b90000 44px,#bc0000 92px,#b10000 120px,#960000 140px,#890000)"></i><i style="background:linear-gradient(90deg,#890000 0,#a90000 20px,#ba0000 44px,#bd0000 92px,#b20000 120px,#970000 140px,#8a0000)"></i><i style="background:linear-gradient(90deg,#920000 0,#b10000 20px,#c20000 44px,#c40000 96px,#b70000 122px,#9c0000 142px,#920000)"></i><i style="background:linear-gradient(90deg,#9f0000 0,#be0000 20px,#cf0000 46px,#d00000 98px,#c10000 124px,#a60000 144px,#a00000)"></i><i style="background:linear-gradient(90deg,#b10000 0,#cf0000 20px,#de0000 46px,#df0000 100px,#d10000 126px,#b30000 146px,#b10000)"></i><i style="background:linear-gradient(90deg,#c50000 0,#e20000 22px,#f10000 48px,#f00000 102px,#e00000 128px,#c50000)"></i><i style="background:linear-gradient(90deg,#da0000 0,#f60000 22px,#ff0200 38px,#ff0700 80px,#fd0000 118px,#e40000 142px,#db0000)"></i><i style="background:linear-gradient(90deg,#fa0000 0,#ff0400 6px,#ff1b00 30px,#ff2400 66px,#ff1f00 110px,#ff0c00 136px,#fd0000 146px,#fa0000)"></i><i style="background:linear-gradient(90deg,#ff2200 0,#ff3c00 24px,#ff4600 56px,#ff4300 110px,#ff3000 136px,#ff2200)"></i><i style="background:linear-gradient(90deg,#ff4b00 0,#ff6200 26px,#ff6b00 64px,#ff6600 114px,#ff5300 140px,#ff4b00)"></i><i style="background:linear-gradient(90deg,#ff6f00 0,#ff8500 28px,#ff8c00 70px,#ff8600 118px,#ff7200 146px,#ff7000)"></i><i style="background:linear-gradient(90deg,#ff9300 0,#ffa700 30px,#ffac00 86px,#ffa400 126px,#ff9400)"></i><i style="background:linear-gradient(90deg,#ffb700 0,#ffc900 34px,#ffcb00 102px,#ffbe00 138px,#ffb700)"></i><i style="background:linear-gradient(90deg,#ffd900 0,#ffe800 38px,#ffe800 114px,#ffd900)"></i><i style="background:linear-gradient(90deg,#fff700 0,#fdff02 26px,#faff05 102px,#fffc00 138px,#fff700)"></i><i style="background:linear-gradient(90deg,#ebff14 0,#e0ff1f 48px,#e4ff1b 128px,#ebff14)"></i><i style="background:linear-gradient(90deg,#d1ff2e 0,#c8ff37 60px,#cdff32 136px,#d0ff2f)"></i><i style="background:linear-gradient(90deg,#baff45 0,#b4ff4b 78px,#baff45)"></i><i style="background:linear-gradient(90deg,#a9ff56 0,#a5ff5a 108px,#a9ff56)"></i><i style="background:linear-gradient(90deg,#9eff61 0,#9cff63 132px,#9eff61)"></i><i style="background:#96ff69"></i><i style="background:#8cff73"></i><i style="background:#7dff82"></i><i style="background:linear-gradient(90deg,#64ff9b 0,#65ff9a 138px,#64ff9b)"></i><i style="background:linear-gradient(90deg,#40ffbf 0,#46ffb9 72px,#40ffbf 146px,#40ffbf)"></i><i style="background:linear-gradient(90deg,#16ffe9 0,#20ffdf 50px,#1cffe3 128px,#16ffe9)"></i><i style="background:linear-gradient(90deg,#00e9ff 0,#00f7ff 40px,#00f6ff 116px,#00e9ff)"></i><i style="background:linear-gradient(90deg,#00b5ff 0,#00c6ff 34px,#00c9ff 102px,#00bcff 138px,#00b5ff)"></i><i style="background:linear-gradient(90deg,#0077ff 0,#008cff 28px,#0093ff 74px,#008dff 118px,#0079ff 146px,#0078ff)"></i><i style="background:linear-gradient(90deg,#0039ff 0,#0051ff 26px,#005bff 60px,#0057ff 112px,#0044ff 138px,#0039ff)"></i><i style="background:linear-gradient(90deg,#0001ff 0,#001cff 24px,#0028ff 54px,#0025ff 108px,#0014ff 134px,#0001ff)"></i><i style="background:linear-gradient(90deg,#0000d6 0,#0000f2 22px,#0001ff 46px,#0001ff 102px,#0000f4 124px,#0000d8 146px,#0000d6)"></i><i style="background:linear-gradient(90deg,#0000ba 0,#0000d8 22px,#0000e8 48px,#0000e7 102px,#0000d8 128px,#0000bb)"></i><i style="background:linear-gradient(90deg,#0000a3 0,#0000c2 20px,#0000d2 46px,#0000d3 98px,#0000c5 124px,#0000a9 144px,#0000a4)"></i><i style="background:linear-gradient(90deg,#000090 0,#0000b0 20px,#0000c0 44px,#0000c3 96px,#0000b5 122px,#00009a 142px,#000090)"></i><i style="background:linear-gradient(90deg,#000080 0,#0000a0 20px,#0000b2 44px,#0000b5 92px,#0000a9 120px,#00008f 140px,#000081)"></i><i style="background:linear-gradient(90deg,#000080 0,#000081 8px,#00009c 28px,#0000a9 54px,#0000a6 104px,#000095 128px,#000080 142px,#000080)"></i><i style="background:linear-gradient(90deg,#000080 0,#000082 16px,#000097 38px,#00009e 72px,#000099 108px,#000085 130px,#000080 138px,#000080)"></i><i style="background:linear-gradient(90deg,#000080 0,#000082 24px,#000092 48px,#000093 98px,#000084 122px,#000080 132px,#000080)"></i><i style="background:linear-gradient(90deg,#000080 0,#000082 28px,#00008e 54px,#00008c 102px,#000080 126px,#000080)"></i><i style="background:linear-gradient(90deg,#000080 0,#000082 28px,#00008f 54px,#00008d 102px,#000080 126px,#000080)"></i><i style="background:linear-gradient(90deg,#000080 0,#000082 22px,#000093 44px,#000096 92px,#00008a 118px,#000080 132px,#000080)"></i><i style="background:linear-gradient(90deg,#000080 0,#000082 14px,#000099 34px,#0000a1 66px,#00009c 106px,#000089 130px,#000080 138px,#000080)"></i><i style="background:linear-gradient(90deg,#000080 0,#000081 6px,#00009e 26px,#0000ac 52px,#0000aa 102px,#00009a 126px,#000080 146px,#000080)"></i><i style="background:linear-gradient(90deg,#000085 0,#0000a5 20px,#0000b6 44px,#0000b9 92px,#0000ae 120px,#000093 140px,#000086)"></i><i style="background:linear-gradient(90deg,#000096 0,#0000b5 20px,#0000c6 46px,#0000c8 98px,#0000ba 124px,#00009e 144px,#000096)"></i><i style="background:linear-gradient(90deg,#0000aa 0,#0000c8 20px,#0000d9 46px,#0000d9 100px,#0000cb 126px,#0000af 146px,#0000ab)"></i><i style="background:linear-gradient(90deg,#0000c3 0,#0000e0 22px,#0000ef 48px,#0000ef 102px,#0000de 128px,#0000c3)"></i><i style="background:linear-gradient(90deg,#0000e2 0,#0000fe 22px,#000dff 54px,#000aff 106px,#0000fc 128px,#0000e2)"></i><i style="background:linear-gradient(90deg,#0014ff 0,#002eff 24px,#003aff 54px,#0036ff 108px,#0025ff 134px,#0014ff)"></i><i style="background:linear-gradient(90deg,#0052ff 0,#0069ff 26px,#0071ff 64px,#006cff 114px,#0059ff 142px,#0052ff)"></i><i style="background:linear-gradient(90deg,#0092ff 0,#00a6ff 30px,#00abff 84px,#00a3ff 126px,#0093ff)"></i><i style="background:linear-gradient(90deg,#00ccff 0,#00dcff 36px,#00ddff 110px,#00ceff 146px,#00ccff)"></i><i style="background:linear-gradient(90deg,#00f6ff 0,#02fffd 30px,#03fffc 110px,#00fbff 138px,#00f6ff)"></i><i style="background:linear-gradient(90deg,#17ffe8 0,#21ffde 50px,#1dffe2 128px,#17ffe8)"></i><i style="background:linear-gradient(90deg,#33ffcc 0,#3bffc4 62px,#36ffc9 138px,#34ffcb)"></i><i style="background:linear-gradient(90deg,#4dffb2 0,#52ffad 90px,#4dffb2)"></i><i style="background:linear-gradient(90deg,#62ff9d 0,#63ff9c 134px,#62ff9d)"></i><i style="background:#72ff8d"></i><i style="background:#7eff81"></i><i style="background:#85ff7a"></i><i style="background:#8dff72"></i><i style="background:linear-gradient(90deg,#98ff67 0,#98ff67 146px,#98ff67)"></i><i style="background:linear-gradient(90deg,#b2ff4d 0,#adff52 90px,#b2ff4d)"></i><i style="background:linear-gradient(90deg,#e3ff1c 0,#d9ff26 52px,#ddff22 130px,#e3ff1c)"></i><i style="background:linear-gradient(90deg,#ffed00 0,#fffb00 40px,#fff900 118px,#ffed00)"></i><i style="background:linear-gradient(90deg,#ffc800 0,#ffd900 36px,#ffd900 110px,#ffcb00 144px,#ffc900)"></i><i style="background:linear-gradient(90deg,#ffa700 0,#ffb900 32px,#ffbd00 94px,#ffb300 132px,#ffa700)"></i><i style="background:linear-gradient(90deg,#ff8600 0,#ff9a00 30px,#ffa000 78px,#ff9900 122px,#ff8600)"></i><i style="background:linear-gradient(90deg,#ff6400 0,#ff7a00 28px,#ff8200 68px,#ff7c00 116px,#ff6800 144px,#ff6400)"></i><i style="background:linear-gradient(90deg,#ff3e00 0,#ff5600 26px,#ff5f00 60px,#ff5b00 112px,#ff4900 138px,#ff3e00)"></i><i style="background:linear-gradient(90deg,#ff1500 0,#ff2f00 24px,#ff3a00 54px,#ff3700 108px,#ff2600 134px,#ff1500)"></i><i style="background:linear-gradient(90deg,#ee0000 0,#ff0200 14px,#ff1500 38px,#ff1900 86px,#ff1000 118px,#fc0000 138px,#ef0000)"></i><i style="background:linear-gradient(90deg,#d30000 0,#ef0000 22px,#fe0000 48px,#fc0000 104px,#eb0000 130px,#d30000)"></i><i style="background:linear-gradient(90deg,#bf0000 0,#dd0000 22px,#eb0000 48px,#eb0000 102px,#db0000 128px,#bf0000)"></i><i style="background:linear-gradient(90deg,#ac0000 0,#ca0000 20px,#da0000 46px,#db0000 100px,#cc0000 126px,#b00000 146px,#ac0000)"></i><i style="background:linear-gradient(90deg,#9c0000 0,#bb0000 20px,#cb0000 46px,#cd0000 98px,#be0000 124px,#a20000 144px,#9c0000)"></i><i style="background:linear-gradient(90deg,#900000 0,#af0000 20px,#c00000 44px,#c20000 96px,#b50000 122px,#9a0000 142px,#900000)"></i><i style="background:linear-gradient(90deg,#890000 0,#a80000 20px,#ba0000 44px,#bd0000 92px,#b10000 120px,#970000 140px,#890000)"></i><i style="background:linear-gradient(90deg,#8a0000 0,#a90000 20px,#ba0000 44px,#bd0000 92px,#b20000 120px,#980000 140px,#8a0000)"></i><i style="background:linear-gradient(90deg,#960000 0,#b50000 20px,#c60000 46px,#c70000 98px,#b90000 124px,#9e0000 144px,#960000)"></i><i style="background:linear-gradient(90deg,#aa0000 0,#c90000 20px,#d90000 46px,#d90000 100px,#cb0000 126px,#af0000 146px,#ab0000)"></i><i style="background:linear-gradient(90deg,#c50000 0,#e20000 22px,#f10000 48px,#f00000 102px,#e00000 128px,#c50000)"></i><i style="background:linear-gradient(90deg,#e70000 0,#ff0000 18px,#ff1000 46px,#ff1000 102px,#fc0000 132px,#e70000)"></i><i style="background:linear-gradient(90deg,#ff2300 0,#ff3c00 24px,#ff4700 58px,#ff4300 110px,#ff3100 136px,#ff2300)"></i><i style="background:linear-gradient(90deg,#ff5d00 0,#ff7300 26px,#ff7b00 66px,#ff7600 114px,#ff6300 142px,#ff5d00)"></i><i style="background:linear-gradient(90deg,#ff8600 0,#ff9b00 30px,#ffa100 78px,#ff9a00 122px,#ff8700)"></i><i style="background:linear-gradient(90deg,#ffad00 0,#ffbf00 32px,#ffc200 98px,#ffb700 134px,#ffad00)"></i><i style="background:linear-gradient(90deg,#ffce00 0,#ffde00 36px,#ffdf00 110px,#ffcf00 146px,#ffcf00)"></i><i style="background:linear-gradient(90deg,#ffea00 0,#fff800 40px,#fff700 116px,#ffea00)"></i><i style="background:linear-gradient(90deg,#ffff00 0,#f3ff0c 44px,#f5ff0a 122px,#ffff00)"></i><i style="background:linear-gradient(90deg,#eeff11 0,#e2ff1d 48px,#e6ff19 126px,#edff12)"></i><i style="background:linear-gradient(90deg,#deff21 0,#d5ff2a 52px,#d9ff26 130px,#deff21)"></i><i style="background:linear-gradient(90deg,#d1ff2e 0,#c8ff37 60px,#cdff32 136px,#d1ff2e)"></i><i style="background:linear-gradient(90deg,#c3ff3c 0,#bcff43 68px,#c2ff3d 144px,#c3ff3c)"></i><i style="background:linear-gradient(90deg,#b4ff4b 0,#afff50 86px,#b4ff4b)"></i><i style="background:linear-gradient(90deg,#a4ff5b 0,#a1ff5e 120px,#a4ff5b)"></i><i style="background:#92ff6d"></i><i style="background:#81ff7e"></i><i style="background:#75ff8a"></i><i style="background:#6eff91"></i><i style="background:#6cff93"></i><i style="background:#6aff95"></i><i style="background:#68ff97"></i><i style="background:linear-gradient(90deg,#67ff98 0,#67ff98 146px,#67ff98)"></i><i style="background:linear-gradient(90deg,#66ff99 0,#66ff99 142px,#66ff99)"></i><i style="background:linear-gradient(90deg,#65ff9a 0,#65ff9a 140px,#65ff9a)"></i><i style="background:linear-gradient(90deg,#64ff9b 0,#65ff9a 138px,#64ff9b)"></i><i style="background:linear-gradient(90deg,#63ff9c 0,#64ff9b 138px,#63ff9c)"></i><i style="background:linear-gradient(90deg,#63ff9c 0,#64ff9b 136px,#63ff9c)"></i></div>
<div class="hm" style="left:20px;top:701px;width:395px;height:139px"><i style="background:linear-gradient(90deg,#7dff82 0,#6bff94 44px,#6aff95 70px,#6dff92 116px,#67ff98 226px,#6bff94 300px,#68ff97 318px,#66ff99 322px,#65ff9a 330px,#62ff9d 332px,#64ff9b 334px,#61ff9e 336px,#63ff9c 340px,#61ff9e 342px,#63ff9c 346px,#61ff9e 348px,#67ff98 364px,#7cff83)"></i><i style="background:linear-gradient(90deg,#7dff82 0,#68ff97 44px,#65ff9a 60px,#65ff9a 64px,#65ff9a 70px,#67ff98 74px,#65ff9a 76px,#68ff97 80px,#6bff94 122px,#64ff9b 226px,#69ff96 294px,#67ff98 306px,#65ff9a 310px,#64ff9b 318px,#60ff9f 320px,#61ff9e 324px,#5effa1 326px,#60ff9f 330px,#5cffa3 332px,#5effa1 334px,#5bffa4 336px,#5effa1 340px,#5bffa4 342px,#5dffa2 346px,#5bffa4 348px,#5effa1 350px,#5effa1 354px,#66ff99 366px,#7bff84)"></i><i style="background:linear-gradient(90deg,#7dff82 0,#64ff9b 44px,#5fffa0 60px,#61ff9e 62px,#5effa1 66px,#60ff9f 68px,#5fffa0 70px,#61ff9e 72px,#5fffa0 76px,#62ff9d 78px,#60ff9f 82px,#64ff9b 84px,#62ff9d 88px,#65ff9a 92px,#66ff99 122px,#5effa1 220px,#64ff9b 294px,#63ff9c 300px,#60ff9f 302px,#61ff9e 306px,#5effa1 308px,#5fffa0 312px,#5bffa4 314px,#5dffa2 318px,#58ffa7 318px,#5affa5 324px,#56ffa9 324px,#58ffa7 330px,#55ffaa 332px,#57ffa8 334px,#53ffac 336px,#57ffa8 340px,#54ffab 342px,#57ffa8 346px,#55ffaa 348px,#58ffa7 350px,#58ffa7 354px,#61ff9e 364px,#77ff88 390px,#7bff84)"></i><i style="background:linear-gradient(90deg,#7dff82 0,#60ff9f 44px,#59ffa6 60px,#5affa5 62px,#57ffa8 66px,#59ffa6 68px,#57ffa8 70px,#5affa5 72px,#57ffa8 76px,#5affa5 78px,#58ffa7 82px,#5cffa3 84px,#5affa5 88px,#5effa1 90px,#5cffa3 96px,#5fffa0 98px,#60ff9f 120px,#54ffab 214px,#5dffa2 288px,#5cffa3 294px,#5affa5 296px,#5bffa4 300px,#57ffa8 302px,#59ffa6 306px,#54ffab 306px,#56ffa9 312px,#51ffae 312px,#53ffac 318px,#4effb1 318px,#51ffae 324px,#4cffb3 324px,#4fffb0 330px,#4affb5 330px,#4effb1 334px,#4affb5 336px,#4effb1 340px,#4cffb3 342px,#4fffb0 346px,#4effb1 348px,#51ffae 350px,#50ffaf 352px,#5dffa2 364px,#73ff8c 386px,#7aff85)"></i><i style="background:linear-gradient(90deg,#7cff83 0,#57ffa8 50px,#53ffac 58px,#4fffb0 64px,#4effb1 70px,#4fffb0 74px,#4cffb3 76px,#50ffaf 78px,#4dffb2 82px,#51ffae 84px,#4fffb0 88px,#53ffac 90px,#50ffaf 96px,#55ffaa 96px,#53ffac 100px,#57ffa8 102px,#55ffaa 128px,#48ffb7 212px,#53ffac 282px,#52ffad 288px,#50ffaf 292px,#51ffae 294px,#4dffb2 296px,#4fffb0 300px,#49ffb6 300px,#4cffb3 306px,#46ffb9 306px,#49ffb6 312px,#43ffbc 312px,#46ffb9 318px,#41ffbe 318px,#44ffbb 324px,#3fffc0 324px,#44ffbb 330px,#3fffc0 330px,#43ffbc 334px,#3fffc0 336px,#45ffba 340px,#43ffbc 342px,#47ffb8 346px,#45ffba 348px,#4affb5 350px,#49ffb6 352px,#58ffa7 364px,#71ff8e 384px,#7aff85)"></i><i style="background:linear-gradient(90deg,#7cff83 0,#4dffb2 54px,#47ffb8 64px,#44ffbb 66px,#46ffb9 68px,#42ffbd 70px,#44ffbb 72px,#3fffc0 76px,#42ffbd 78px,#3fffc0 82px,#43ffbc 84px,#40ffbf 88px,#45ffba 90px,#41ffbe 96px,#46ffb9 96px,#44ffbb 100px,#49ffb6 102px,#47ffb8 106px,#4affb5 108px,#33ffcc 198px,#37ffc8 234px,#43ffbc 282px,#42ffbd 288px,#3effc1 290px,#40ffbf 294px,#3affc5 294px,#3effc1 300px,#37ffc8 300px,#3bffc4 306px,#35ffca 306px,#38ffc7 312px,#33ffcc 312px,#37ffc8 318px,#31ffce 318px,#36ffc9 324px,#31ffce 324px,#36ffc9 330px,#32ffcd 330px,#37ffc8 334px,#35ffca 336px,#3affc5 340px,#39ffc6 342px,#3dffc2 346px,#3cffc3 348px,#42ffbd 350px,#44ffbb 354px,#54ffab 364px,#6dff92 382px,#7aff85)"></i><i style="background:linear-gradient(90deg,#7cff83 0,#40ffbf 60px,#3cffc3 64px,#35ffca 70px,#36ffc9 72px,#31ffce 76px,#33ffcc 78px,#2effd1 82px,#31ffce 84px,#2dffd2 88px,#31ffce 90px,#2cffd3 96px,#32ffcd 96px,#2fffd0 100px,#34ffcb 102px,#31ffce 106px,#36ffc9 106px,#32ffcd 112px,#33ffcc 116px,#19ffe6 180px,#15ffea 220px,#2bffd4 282px,#29ffd6 286px,#2bffd4 288px,#25ffda 290px,#28ffd7 294px,#22ffdd 294px,#26ffd9 300px,#20ffdf 300px,#25ffda 306px,#1fffe0 306px,#24ffdb 312px,#1fffe0 312px,#24ffdb 318px,#1fffe0 318px,#25ffda 324px,#21ffde 324px,#27ffd8 330px,#25ffda 332px,#29ffd6 334px,#28ffd7 336px,#2effd1 340px,#2dffd2 342px,#33ffcc 346px,#33ffcc 348px,#4cffb3 364px,#67ff98 378px,#79ff86)"></i><i style="background:linear-gradient(90deg,#7cff83 0,#52ffad 38px,#2fffd0 64px,#20ffdf 76px,#1fffe0 80px,#1bffe4 82px,#1cffe3 84px,#17ffe8 88px,#19ffe6 90px,#14ffeb 96px,#16ffe9 98px,#13ffec 100px,#18ffe7 102px,#14ffeb 106px,#19ffe6 106px,#14ffeb 112px,#18ffe7 112px,#00fdff 154px,#00ecff 204px,#00f0ff 226px,#02fffd 260px,#09fff6 276px,#0bfff4 282px,#06fff9 284px,#09fff6 288px,#03fffc 290px,#07fff8 294px,#02fffd 294px,#08fff7 300px,#03fffc 300px,#0afff5 306px,#06fff9 306px,#0cfff3 312px,#09fff6 314px,#0efff1 318px,#0cfff3 320px,#11ffee 324px,#10ffef 326px,#16ffe9 330px,#15ffea 332px,#1affe5 334px,#1affe5 336px,#21ffde 340px,#24ffdb 344px,#36ffc9 354px,#4cffb3 366px,#66ff99 380px,#79ff86)"></i><i style="background:linear-gradient(90deg,#7bff84 0,#51ffae 36px,#22ffdd 64px,#06fff9 82px,#00fcff 92px,#00efff 106px,#00edff 110px,#00bfff 162px,#00acff 202px,#00aeff 222px,#00d9ff 282px,#00d8ff 286px,#00dbff 288px,#00daff 290px,#02fffd 328px,#10ffef 338px,#23ffdc 350px,#44ffbb 364px,#62ff9d 378px,#78ff87)"></i><i style="background:linear-gradient(90deg,#7bff84 0,#53ffac 32px,#1bffe4 62px,#00fdff 76px,#00a2ff 128px,#007aff 162px,#0062ff 196px,#0061ff 218px,#00a0ff 282px,#00deff 318px,#01fffe 338px,#22ffdd 354px,#5effa1 376px,#78ff87)"></i><i style="background:linear-gradient(90deg,#7bff84 0,#51ffae 30px,#18ffe7 58px,#00feff 68px,#00b2ff 100px,#00a9ff 104px,#00a5ff 106px,#009cff 108px,#0094ff 112px,#008cff 114px,#0065ff 134px,#003cff 164px,#0021ff 196px,#001eff 216px,#0062ff 276px,#006eff 282px,#0076ff 284px,#007cff 288px,#0083ff 290px,#008bff 294px,#0094ff 296px,#00bfff 314px,#00f5ff 340px,#02fffd 344px,#3affc5 364px,#5cffa3 376px,#77ff88)"></i><i style="background:linear-gradient(90deg,#7bff84 0,#52ffad 28px,#14ffeb 56px,#00ffff 64px,#00adff 92px,#0098ff 100px,#0090ff 102px,#0089ff 106px,#0081ff 108px,#0050ff 128px,#001fff 160px,#0000ff 190px,#0000f6 214px,#0002ff 226px,#002dff 256px,#004fff 282px,#005dff 288px,#0065ff 290px,#006cff 294px,#0075ff 296px,#007fff 300px,#0088ff 302px,#00c2ff 324px,#02fffd 348px,#57ffa8 376px,#77ff88)"></i><i style="background:linear-gradient(90deg,#7bff84 0,#53ffac 26px,#19ffe6 52px,#00feff 60px,#00aaff 86px,#0060ff 114px,#002aff 140px,#0000ff 168px,#0000e4 196px,#0000e0 216px,#0000f6 232px,#0002ff 240px,#003dff 282px,#0056ff 294px,#0088ff 310px,#00e4ff 342px,#00ffff 350px,#55ffaa 376px,#77ff88)"></i><i style="background:linear-gradient(90deg,#7aff85 0,#50ffaf 26px,#18ffe7 50px,#00ffff 58px,#009eff 86px,#0058ff 112px,#001dff 138px,#0000fd 156px,#0000d6 190px,#0000cd 214px,#0000dc 228px,#0000ff 250px,#0033ff 286px,#0058ff 300px,#0096ff 320px,#00e1ff 344px,#03fffc 354px,#51ffae 374px,#73ff8c 392px,#76ff89)"></i><i style="background:linear-gradient(90deg,#7aff85 0,#51ffae 26px,#19ffe6 48px,#00ffff 56px,#0094ff 84px,#004dff 112px,#000cff 140px,#0000fd 148px,#0000cc 184px,#0000be 208px,#0000c3 220px,#0000fb 256px,#0007ff 264px,#0031ff 290px,#00abff 332px,#01fffe 354px,#4fffb0 374px,#6fff90 390px,#76ff89)"></i><i style="background:linear-gradient(90deg,#7aff85 0,#52ffad 24px,#1affe5 46px,#00fdff 54px,#008eff 84px,#0051ff 106px,#0003ff 140px,#0000d8 164px,#0000b7 192px,#0000b0 214px,#0000c0 228px,#0000eb 254px,#0002ff 270px,#0026ff 290px,#009aff 330px,#00fbff 354px,#04fffb 356px,#4affb5 374px,#6aff95 388px,#76ff89)"></i><i style="background:linear-gradient(90deg,#7aff85 0,#51ffae 24px,#1bffe4 44px,#01fffe 52px,#0086ff 84px,#0048ff 106px,#0001ff 134px,#0000cd 162px,#0000a9 192px,#0000a1 214px,#0000b0 226px,#0000dc 252px,#0003ff 278px,#0021ff 292px,#0092ff 330px,#00efff 352px,#01fffe 356px,#4affb5 374px,#68ff97 386px,#76ff89)"></i><i style="background:linear-gradient(90deg,#7aff85 0,#52ffad 24px,#1fffe0 42px,#00fdff 52px,#0084ff 82px,#0040ff 106px,#0000fd 130px,#0000c8 158px,#00009d 190px,#000092 212px,#0000a0 226px,#0000d0 252px,#0002ff 284px,#0023ff 296px,#008cff 330px,#00e3ff 350px,#00feff 356px,#4cffb3 374px,#6dff92 390px,#76ff89)"></i><i style="background:linear-gradient(90deg,#7aff85 0,#52ffad 24px,#22ffdd 42px,#00ffff 52px,#00b1ff 70px,#0076ff 86px,#0002ff 126px,#0000bf 156px,#000093 188px,#000087 212px,#000092 224px,#0000c6 252px,#0000f9 284px,#0003ff 288px,#0089ff 330px,#00e1ff 350px,#00fdff 356px,#4cffb3 374px,#6bff94 388px,#76ff89)"></i><i style="background:linear-gradient(90deg,#7aff85 0,#53ffac 24px,#25ffda 40px,#00ffff 52px,#00b0ff 70px,#0078ff 84px,#0002ff 124px,#0000bb 156px,#00008c 188px,#000080 212px,#00008b 224px,#0000c0 252px,#0000f2 282px,#0001ff 288px,#0089ff 330px,#00e1ff 350px,#00feff 356px,#4affb5 374px,#68ff97 386px,#76ff89)"></i><i style="background:linear-gradient(90deg,#7aff85 0,#54ffab 24px,#26ffd9 40px,#00fdff 52px,#0085ff 82px,#002cff 110px,#0000ff 124px,#0000bf 154px,#00008f 186px,#000081 210px,#000088 220px,#0000c4 254px,#0000f3 282px,#0002ff 288px,#008aff 330px,#00e3ff 350px,#01fffe 356px,#4bffb4 374px,#69ff96 386px,#76ff89)"></i><i style="background:linear-gradient(90deg,#7bff84 0,#55ffaa 24px,#28ffd7 40px,#00fcff 54px,#0088ff 82px,#0045ff 102px,#0000fe 128px,#0000c4 156px,#000096 188px,#00008a 212px,#000097 224px,#0000c9 252px,#0000fc 284px,#000bff 290px,#008fff 330px,#00e7ff 350px,#00feff 356px,#4cffb3 374px,#69ff96 386px,#77ff88)"></i><i style="background:linear-gradient(90deg,#7bff84 0,#57ffa8 24px,#2fffd0 40px,#00feff 54px,#008fff 82px,#0055ff 100px,#0001ff 132px,#0000c9 160px,#0000a2 190px,#000099 214px,#0000a8 226px,#0000d5 252px,#0002ff 280px,#0020ff 294px,#0096ff 330px,#00edff 350px,#00ffff 354px,#4cffb3 372px,#67ff98 384px,#77ff88)"></i><i style="background:linear-gradient(90deg,#7bff84 0,#59ffa6 24px,#30ffcf 40px,#00ffff 56px,#00c4ff 70px,#0098ff 82px,#0062ff 98px,#000dff 132px,#0000fd 140px,#0000d1 166px,#0000b2 192px,#0000aa 214px,#0000ba 228px,#0000e6 254px,#0002ff 272px,#0023ff 290px,#00a0ff 330px,#00fdff 352px,#51ffae 374px,#6dff92 388px,#78ff87)"></i><i style="background:linear-gradient(90deg,#7bff84 0,#5cffa3 24px,#35ffca 40px,#08fff7 56px,#00fdff 58px,#00a8ff 80px,#007bff 94px,#0025ff 128px,#0000fd 148px,#0000cc 182px,#0000bd 206px,#0000bf 218px,#0000fd 260px,#0021ff 282px,#003eff 294px,#0083ff 316px,#00bfff 334px,#00fdff 350px,#55ffaa 374px,#70ff8f 388px,#78ff87)"></i><i style="background:linear-gradient(90deg,#7cff83 0,#5dffa2 24px,#35ffca 44px,#06fff9 60px,#00fcff 62px,#00b7ff 80px,#008fff 94px,#0049ff 120px,#0010ff 148px,#0000fd 160px,#0000db 192px,#0000d4 214px,#0000e6 230px,#0002ff 246px,#0034ff 282px,#004dff 294px,#0081ff 310px,#0098ff 318px,#00a2ff 320px,#00aaff 324px,#00b8ff 328px,#00feff 348px,#56ffa9 372px,#6fff90 386px,#79ff86)"></i><i style="background:linear-gradient(90deg,#7cff83 0,#60ff9f 26px,#3dffc2 44px,#12ffed 60px,#00feff 66px,#00daff 76px,#00b7ff 86px,#006aff 114px,#0037ff 140px,#000dff 170px,#0000fd 186px,#0000f1 212px,#0000fc 226px,#000dff 236px,#004bff 282px,#0065ff 294px,#0073ff 298px,#008bff 306px,#0093ff 308px,#009cff 312px,#00a4ff 314px,#00adff 318px,#00b7ff 320px,#00beff 324px,#00c9ff 326px,#00feff 344px,#5bffa4 372px,#73ff8c 388px,#7aff85)"></i><i style="background:linear-gradient(90deg,#7dff82 0,#61ff9e 28px,#39ffc6 50px,#0ffff0 66px,#00ffff 70px,#00e0ff 80px,#00cbff 88px,#00c1ff 92px,#00b9ff 96px,#00b0ff 98px,#0081ff 118px,#0054ff 142px,#002bff 178px,#001bff 204px,#001cff 218px,#006aff 282px,#0077ff 288px,#0080ff 292px,#0084ff 294px,#008cff 296px,#0096ff 300px,#009eff 302px,#00a7ff 306px,#00afff 308px,#00b7ff 312px,#00bfff 314px,#00c7ff 318px,#00ceff 320px,#00d6ff 324px,#00e0ff 326px,#00feff 338px,#60ff9f 372px,#78ff87 392px,#7aff85)"></i><i style="background:linear-gradient(90deg,#7dff82 0,#67ff98 28px,#45ffba 50px,#22ffdd 66px,#00ffff 78px,#00f5ff 82px,#00eaff 86px,#00aaff 116px,#007dff 148px,#0058ff 190px,#0053ff 216px,#0096ff 282px,#00abff 294px,#00b7ff 298px,#00c6ff 304px,#00d3ff 310px,#00e4ff 318px,#00ecff 320px,#00f1ff 324px,#00faff 326px,#00ffff 330px,#5dffa2 368px,#71ff8e 382px,#7bff84)"></i><i style="background:linear-gradient(90deg,#7eff81 0,#67ff98 32px,#43ffbc 58px,#09fff6 88px,#00feff 92px,#00d1ff 122px,#00acff 162px,#0097ff 200px,#0098ff 220px,#00d0ff 288px,#00eeff 306px,#00f6ff 310px,#01fffe 314px,#6bff94 372px,#7cff83)"></i><i style="background:linear-gradient(90deg,#7eff81 0,#6bff94 38px,#4cffb3 66px,#23ffdc 94px,#00ffff 130px,#00e2ff 182px,#00ddff 218px,#03fffc 286px,#18ffe7 306px,#71ff8e 372px,#7dff82)"></i><i style="background:linear-gradient(90deg,#7fff80 0,#6fff90 48px,#40ffbf 110px,#26ffd9 172px,#21ffde 220px,#3cffc3 296px,#78ff87 374px,#7eff81)"></i><i style="background:linear-gradient(90deg,#7fff80 0,#75ff8a 88px,#69ff96 148px,#67ff98 236px,#70ff8f 300px,#7eff81 374px,#7fff80)"></i><i style="background:linear-gradient(90deg,#81ff7e 0,#88ff77 34px,#9bff64 68px,#a3ff5c 106px,#abff54 212px,#a2ff5d 280px,#9bff64 316px,#82ff7d 372px,#80ff7f)"></i><i style="background:linear-gradient(90deg,#82ff7d 0,#8bff74 26px,#a1ff5e 44px,#b5ff4a 56px,#d9ff26 102px,#e2ff1d 128px,#f2ff0d 174px,#f1ff0e 226px,#e5ff1a 264px,#d7ff28 288px,#ccff33 306px,#97ff68 352px,#85ff7a 370px,#81ff7e)"></i><i style="background:linear-gradient(90deg,#84ff7b 0,#8eff71 24px,#a5ff5a 38px,#ccff33 52px,#e4ff1b 70px,#f3ff0c 82px,#faff05 86px,#fffc00 92px,#ffe500 112px,#ffc700 148px,#ffb900 194px,#ffc200 240px,#ffd100 262px,#fff300 294px,#fdff02 302px,#baff45 340px,#91ff6e 362px,#86ff79 376px,#82ff7d)"></i><i style="background:linear-gradient(90deg,#85ff7a 0,#90ff6f 22px,#aaff55 34px,#cfff30 46px,#e6ff19 52px,#fbff04 64px,#fff800 70px,#fff200 72px,#ffef00 76px,#ffe900 78px,#ffe500 82px,#ffde00 84px,#ffd900 88px,#ffd200 90px,#ffcb00 96px,#ffc400 98px,#ffc000 100px,#ffb800 102px,#ffb400 106px,#ffad00 108px,#ffa700 112px,#ffa000 114px,#ff7b00 140px,#ff6200 184px,#ff6300 216px,#ff7900 256px,#ffa400 282px,#ffad00 286px,#ffb200 288px,#ffba00 290px,#ffc000 294px,#ffc800 296px,#ffcf00 300px,#ffd700 302px,#ffde00 306px,#ffe500 308px,#ffec00 312px,#fff300 314px,#fffa00 318px,#ffff00 318px,#f7ff08 324px,#edff12 328px,#afff50 352px,#97ff68 362px,#88ff77 374px,#83ff7c)"></i><i style="background:linear-gradient(90deg,#86ff79 0,#93ff6c 20px,#adff52 32px,#d7ff28 44px,#fbff04 52px,#fffc00 54px,#ffe800 62px,#ffe300 66px,#ffdd00 68px,#ffd900 70px,#ffd200 72px,#ffce00 76px,#ffc700 78px,#ffc200 82px,#ffbc00 84px,#ffb500 88px,#ffae00 90px,#ffa400 96px,#ff9c00 96px,#ff9500 100px,#ff8d00 102px,#ff8600 106px,#ff7d00 106px,#ff7500 112px,#ff6c00 112px,#ff6100 118px,#ff5700 122px,#ff3600 144px,#ff1a00 184px,#ff1900 212px,#ff3100 250px,#ff4800 266px,#ff5d00 276px,#ff6800 280px,#ff6f00 282px,#ff7800 284px,#ff8300 288px,#ff8c00 290px,#ff9500 294px,#ff9e00 294px,#ffa800 300px,#ffb000 300px,#ffba00 306px,#ffc200 306px,#ffcb00 312px,#ffd400 314px,#ffdc00 318px,#ffe400 320px,#ffec00 324px,#fff600 326px,#fcff03 330px,#d0ff2f 346px,#a2ff5d 360px,#8dff72 372px,#84ff7b)"></i><i style="background:linear-gradient(90deg,#88ff77 0,#95ff6a 20px,#b2ff4d 32px,#e1ff1e 42px,#fdff02 48px,#ffe800 54px,#ffce00 62px,#ffc900 66px,#ffc200 68px,#ffbd00 70px,#ffb600 72px,#ffb100 76px,#ffaa00 78px,#ffa500 82px,#ff9e00 84px,#ff9600 88px,#ff8f00 90px,#ff8400 96px,#ff7c00 96px,#ff7400 100px,#ff6c00 102px,#ff6400 106px,#ff5d00 106px,#ff5400 112px,#ff4800 116px,#ff1a00 140px,#fd0000 170px,#f30000 198px,#fd0000 228px,#ff0f00 250px,#ff2700 264px,#ff5100 282px,#ff5e00 286px,#ff6300 288px,#ff6b00 290px,#ff7500 294px,#ff7d00 294px,#ff8a00 300px,#ff9200 300px,#ff9d00 306px,#ffa500 306px,#ffb000 312px,#ffb900 314px,#ffc200 318px,#ffcb00 320px,#ffd500 324px,#ffe000 326px,#fdff02 336px,#c6ff39 352px,#a8ff57 360px,#90ff6f 370px,#85ff7a)"></i><i style="background:linear-gradient(90deg,#89ff76 0,#97ff68 18px,#abff54 28px,#caff35 36px,#f5ff0a 44px,#fdff02 44px,#ffda00 52px,#ffc300 58px,#ffb500 64px,#ffa500 70px,#ff9e00 72px,#ff9900 76px,#ff9200 78px,#ff8c00 82px,#ff8400 84px,#ff7c00 88px,#ff7400 90px,#ff6a00 96px,#ff6200 98px,#ff5b00 100px,#ff5200 104px,#ff0900 138px,#fd0000 146px,#e10000 182px,#de0000 208px,#f10000 240px,#ff0200 256px,#ff4000 282px,#ff6000 294px,#ff6e00 298px,#ff7300 300px,#ff7c00 302px,#ff8600 306px,#ff8f00 308px,#ff9900 312px,#ffa200 314px,#ffac00 318px,#ffb600 320px,#ffc000 324px,#ffcc00 326px,#fffe00 340px,#bdff42 356px,#a2ff5d 364px,#90ff6f 372px,#86ff79)"></i><i style="background:linear-gradient(90deg,#8aff75 0,#99ff66 18px,#b0ff4f 28px,#d3ff2c 36px,#fffd00 44px,#ffc900 52px,#ffb000 58px,#ffa000 64px,#ff9300 70px,#ff8600 76px,#ff7700 82px,#ff6a00 88px,#ff3200 112px,#fd0000 136px,#e50000 156px,#cf0000 186px,#cf0000 212px,#e80000 248px,#fc0000 260px,#ff0800 266px,#ff5400 294px,#ff8700 312px,#ffc500 330px,#ffff00 344px,#c3ff3c 356px,#a5ff5a 364px,#92ff6d 372px,#87ff78)"></i><i style="background:linear-gradient(90deg,#8bff74 0,#9aff65 18px,#b1ff4e 26px,#ceff31 34px,#feff01 42px,#ffba00 52px,#ffa100 58px,#ff8200 70px,#ff2600 112px,#fd0000 130px,#e20000 146px,#c30000 182px,#c00000 206px,#d10000 236px,#e70000 256px,#ff0200 268px,#ff5c00 302px,#ffa100 324px,#ffe600 340px,#fffe00 346px,#baff45 358px,#99ff66 370px,#8aff75 386px,#87ff78)"></i><i style="background:linear-gradient(90deg,#8cff73 0,#9cff63 18px,#b1ff4e 26px,#d3ff2c 34px,#ffff00 40px,#ffb400 50px,#ff9700 58px,#ff7500 70px,#ff2600 106px,#ff0500 122px,#fb0000 126px,#d90000 142px,#b70000 178px,#b10000 202px,#c00000 232px,#d90000 256px,#ff0100 272px,#ff5600 304px,#ff9600 324px,#ffd900 340px,#fffd00 346px,#e5ff1a 352px,#beff41 358px,#9aff65 370px,#8bff74 386px,#88ff77)"></i><i style="background:linear-gradient(90deg,#8cff73 0,#9cff63 16px,#b0ff4f 24px,#d8ff27 34px,#ffff00 40px,#ffab00 50px,#ff8d00 58px,#ff6b00 70px,#fe0000 118px,#cd0000 140px,#a90000 176px,#a10000 200px,#ad0000 228px,#ca0000 256px,#ff0000 276px,#ff6600 312px,#ffa500 330px,#fff100 346px,#fdff02 348px,#c1ff3e 358px,#9cff63 370px,#8cff73 384px,#88ff77)"></i><i style="background:linear-gradient(90deg,#8dff72 0,#9dff62 16px,#b2ff4d 24px,#d5ff2a 32px,#fcff03 38px,#ffe400 42px,#ffa400 50px,#ff8600 58px,#ff5f00 72px,#ff2f00 94px,#ff0000 114px,#c20000 138px,#9f0000 170px,#910000 194px,#980000 220px,#b80000 254px,#dc0000 268px,#ff0200 282px,#ff8200 322px,#ffb500 334px,#fffd00 348px,#d4ff2b 356px,#b3ff4c 362px,#9bff64 370px,#8bff74 388px,#89ff76)"></i><i style="background:linear-gradient(90deg,#8eff71 0,#9eff61 16px,#b3ff4c 24px,#d8ff27 32px,#ffff00 38px,#ffa000 50px,#ff7e00 58px,#ff5900 72px,#ff2d00 92px,#fd0000 110px,#b70000 138px,#930000 170px,#850000 194px,#8c0000 220px,#ab0000 252px,#cc0000 266px,#ff0000 284px,#ff8a00 324px,#ffc500 338px,#feff01 350px,#c6ff39 358px,#a0ff5f 368px,#93ff6c 378px,#89ff76)"></i><i style="background:linear-gradient(90deg,#8eff71 0,#9fff60 16px,#b1ff4e 24px,#d9ff26 32px,#fffd00 38px,#ff9e00 50px,#ff7c00 58px,#ff5800 72px,#ff3000 90px,#ff0000 108px,#b50000 138px,#970000 160px,#810000 188px,#830000 212px,#9c0000 244px,#b00000 258px,#ff0000 284px,#ff9000 326px,#ffce00 340px,#ffff00 350px,#c7ff38 358px,#a1ff5e 368px,#93ff6c 378px,#89ff76)"></i><i style="background:linear-gradient(90deg,#8eff71 0,#9fff60 16px,#b1ff4e 24px,#daff25 32px,#fffd00 38px,#ff9e00 50px,#ff7d00 58px,#ff5700 74px,#ff2f00 92px,#fe0000 110px,#b60000 138px,#910000 170px,#840000 194px,#8b0000 220px,#aa0000 252px,#cb0000 266px,#ff0200 284px,#ff9500 328px,#ffce00 340px,#ffff00 350px,#c7ff38 358px,#a1ff5e 368px,#93ff6c 378px,#89ff76)"></i><i style="background:linear-gradient(90deg,#8eff71 0,#9fff60 16px,#b1ff4e 24px,#d9ff26 32px,#fffd00 38px,#ffa000 50px,#ff8000 58px,#ff5b00 74px,#ff3400 92px,#fe0000 112px,#bf0000 138px,#9b0000 170px,#8e0000 194px,#950000 220px,#b50000 254px,#d90000 268px,#ff0000 282px,#ff8d00 324px,#ffc600 338px,#feff01 350px,#c6ff39 358px,#a1ff5e 368px,#93ff6c 378px,#89ff76)"></i><i style="background:linear-gradient(90deg,#8eff71 0,#9fff60 16px,#b4ff4b 24px,#d8ff27 32px,#ffff00 38px,#ffa500 50px,#ff8500 58px,#ff6000 74px,#ff3500 94px,#fd0000 118px,#ca0000 140px,#a60000 174px,#9c0000 198px,#a60000 224px,#c40000 254px,#ee0000 272px,#ff0200 278px,#ff8b00 322px,#ffc500 338px,#fffc00 348px,#f0ff0f 352px,#c5ff3a 358px,#9eff61 370px,#8eff71 384px,#89ff76)"></i><i style="background:linear-gradient(90deg,#8eff71 0,#9fff60 16px,#b3ff4c 24px,#d7ff28 32px,#fcff03 38px,#fff500 40px,#ffb000 50px,#ff9600 56px,#ff7200 70px,#ff4500 92px,#fe0000 122px,#d60000 142px,#b30000 178px,#ad0000 202px,#bb0000 230px,#d40000 256px,#ff0200 274px,#ff7000 312px,#ffba00 334px,#feff01 348px,#c4ff3b 358px,#9eff61 370px,#8eff71 384px,#89ff76)"></i><i style="background:linear-gradient(90deg,#8eff71 0,#9eff61 16px,#b2ff4d 24px,#d4ff2b 32px,#feff01 40px,#ffb700 50px,#ff9b00 56px,#ff7a00 72px,#ff4e00 94px,#fe0000 130px,#e30000 146px,#c40000 182px,#c00000 206px,#d20000 236px,#e70000 256px,#ff0200 268px,#ff9300 320px,#ffcd00 336px,#ffff00 348px,#c2ff3d 358px,#9dff62 370px,#8dff72 384px,#89ff76)"></i><i style="background:linear-gradient(90deg,#8dff72 0,#9dff62 16px,#b0ff4f 24px,#d1ff2e 32px,#ffff00 40px,#ffc000 50px,#ffa600 56px,#ff8800 70px,#ff6200 92px,#ff0300 140px,#f50000 152px,#dc0000 186px,#dc0000 212px,#f40000 246px,#ff0200 258px,#ff5c00 294px,#ffb700 328px,#ffea00 342px,#feff01 346px,#bbff44 360px,#9cff63 370px,#8cff73 386px,#89ff76)"></i><i style="background:linear-gradient(90deg,#8dff72 0,#9eff61 18px,#b2ff4d 26px,#d3ff2c 34px,#fffe00 42px,#ffc900 50px,#ffb200 56px,#ff9600 70px,#ff7400 92px,#ff1b00 142px,#fe0000 176px,#f80000 202px,#ff0300 228px,#ff1b00 256px,#ff7100 296px,#ffc200 328px,#ffea00 340px,#fffe00 344px,#dbff24 352px,#b9ff46 360px,#99ff66 370px,#8aff75 390px,#89ff76)"></i><i style="background:linear-gradient(90deg,#8cff73 0,#9dff62 18px,#b9ff46 28px,#e3ff1c 38px,#ffff00 42px,#ffd400 50px,#ffbf00 56px,#ffa600 70px,#ff8800 92px,#ff3600 142px,#ff1900 182px,#ff1600 208px,#ff2b00 246px,#ff3c00 260px,#ffb400 316px,#ffe900 336px,#fffe00 342px,#dbff24 352px,#b9ff46 358px,#99ff66 370px,#8bff74 388px,#88ff77)"></i><i style="background:linear-gradient(90deg,#8cff73 0,#9cff63 18px,#b6ff49 28px,#ddff22 38px,#fdff02 44px,#fff000 46px,#ffdd00 50px,#ffcf00 56px,#ffbc00 66px,#ff9e00 92px,#ff5000 142px,#ff3600 184px,#ff3600 212px,#ff4c00 252px,#ff6e00 272px,#ffda00 326px,#fdff02 340px,#d5ff2a 352px,#b6ff49 358px,#96ff69 370px,#88ff77 394px,#88ff77)"></i><i style="background:linear-gradient(90deg,#8bff74 0,#9cff63 20px,#b9ff46 30px,#e9ff16 42px,#fdff02 46px,#ffeb00 50px,#ffdd00 54px,#ffc800 70px,#ffb300 92px,#ff6d00 142px,#ff5500 184px,#ff5500 216px,#ff6b00 254px,#ffab00 292px,#ffed00 328px,#ffff00 336px,#d6ff29 350px,#afff50 360px,#95ff6a 370px,#87ff78)"></i><i style="background:linear-gradient(90deg,#8aff75 0,#9aff65 20px,#b8ff47 32px,#e0ff1f 42px,#fdff02 48px,#ffeb00 54px,#ffda00 70px,#ffcd00 88px,#ff8900 144px,#ff7400 188px,#ff7700 222px,#ff8c00 258px,#fff900 328px,#fcff03 332px,#deff21 344px,#c0ff3f 354px,#a4ff5b 362px,#91ff6e 372px,#87ff78)"></i><i style="background:linear-gradient(90deg,#8aff75 0,#98ff67 20px,#b3ff4c 32px,#dcff23 42px,#faff05 50px,#fffa00 54px,#ffef00 66px,#ffe400 86px,#ffbc00 124px,#ffa600 148px,#ff9500 192px,#ff9c00 232px,#ffad00 260px,#fff300 312px,#fdff02 322px,#e5ff1a 338px,#c7ff38 350px,#a5ff5a 360px,#90ff6f 372px,#86ff79)"></i><i style="background:linear-gradient(90deg,#89ff76 0,#97ff68 20px,#b1ff4e 32px,#d3ff2c 42px,#edff12 50px,#f6ff09 54px,#f9ff06 58px,#ffff00 66px,#fffb00 82px,#ffea00 108px,#ffc900 146px,#ffba00 194px,#ffc300 238px,#ffd100 262px,#feff01 306px,#edff12 322px,#e0ff1f 334px,#cbff34 344px,#b4ff4b 354px,#97ff68 366px,#8bff74 378px,#86ff79)"></i><i style="background:linear-gradient(90deg,#88ff77 0,#95ff6a 20px,#acff53 32px,#caff35 42px,#e1ff1e 50px,#e8ff17 54px,#e9ff16 58px,#ecff13 60px,#ebff14 62px,#eeff11 66px,#eeff11 68px,#f0ff0f 76px,#efff10 80px,#f5ff0a 94px,#fffd00 120px,#ffea00 150px,#ffdf00 200px,#ffec00 254px,#fdff02 280px,#deff21 322px,#d3ff2c 334px,#c2ff3d 344px,#abff54 354px,#91ff6e 368px,#86ff79 392px,#85ff7a)"></i><i style="background:linear-gradient(90deg,#87ff78 0,#94ff6b 22px,#aeff51 36px,#d4ff2b 50px,#daff25 54px,#dbff24 58px,#ddff22 60px,#dcff23 62px,#dfff20 66px,#ddff22 68px,#dfff20 76px,#ddff22 80px,#e0ff1f 94px,#e5ff1a 116px,#f8ff07 154px,#ffff00 206px,#f3ff0c 258px,#dcff23 294px,#d3ff2c 316px,#cbff34 328px,#c2ff3d 338px,#b1ff4e 350px,#92ff6d 366px,#88ff77 380px,#85ff7a)"></i><i style="background:linear-gradient(90deg,#86ff79 0,#93ff6c 24px,#b2ff4d 40px,#c9ff36 50px,#cdff32 54px,#cdff32 58px,#cfff30 60px,#ceff31 62px,#d0ff2f 66px,#ceff31 68px,#cfff30 70px,#cdff32 74px,#cfff30 76px,#ccff33 80px,#ceff31 82px,#ccff33 86px,#ceff31 88px,#ccff33 92px,#ceff31 96px,#cdff32 100px,#d1ff2e 118px,#e0ff1f 162px,#e4ff1b 216px,#d8ff27 264px,#c9ff36 294px,#c6ff39 310px,#c2ff3d 322px,#bcff43 334px,#aeff51 348px,#8fff70 366px,#85ff7a 390px,#84ff7b)"></i><i style="background:linear-gradient(90deg,#85ff7a 0,#90ff6f 24px,#adff52 42px,#bdff42 50px,#c1ff3e 54px,#c1ff3e 58px,#c2ff3d 66px,#c0ff3f 68px,#c0ff3f 76px,#bdff42 80px,#bfff40 82px,#bcff43 86px,#bdff42 116px,#cbff34 172px,#c9ff36 238px,#b9ff46 294px,#b7ff48 312px,#b7ff48 316px,#b4ff4b 328px,#afff50 338px,#a0ff5f 352px,#8aff75 370px,#83ff7c)"></i><i style="background:linear-gradient(90deg,#84ff7b 0,#8eff71 24px,#adff52 46px,#b5ff4a 54px,#b5ff4a 66px,#b3ff4c 68px,#b3ff4c 76px,#b0ff4f 80px,#aeff51 116px,#b9ff46 190px,#b1ff4e 266px,#abff54 294px,#abff54 316px,#a9ff56 328px,#a5ff5a 340px,#98ff67 354px,#87ff78 372px,#83ff7c)"></i><i style="background:linear-gradient(90deg,#83ff7c 0,#8dff72 26px,#a8ff57 52px,#aaff55 66px,#a7ff58 76px,#a3ff5c 94px,#a2ff5d 122px,#aaff55 210px,#a0ff5f 282px,#a0ff5f 328px,#9bff64 344px,#85ff7a 374px,#82ff7d)"></i><i style="background:linear-gradient(90deg,#82ff7d 0,#8bff74 30px,#9fff60 54px,#97ff68 114px,#9cff63 220px,#96ff69 306px,#97ff68 334px,#8dff72 354px,#83ff7c 380px,#81ff7e)"></i><i style="background:linear-gradient(90deg,#81ff7e 0,#8aff75 34px,#94ff6b 56px,#8fff70 124px,#90ff6f 260px,#8fff70 312px,#8eff71 342px,#81ff7e 380px,#81ff7e)"></i><i style="background:linear-gradient(90deg,#80ff7f 0,#88ff77 46px,#89ff76 88px,#88ff77 164px,#88ff77 312px,#84ff7b 354px,#80ff7f)"></i><i style="background:linear-gradient(90deg,#7fff80 0,#80ff7f 112px,#80ff7f 350px,#7fff80)"></i><i style="background:linear-gradient(90deg,#7fff80 0,#7bff84 70px,#7cff83 304px,#79ff86 362px,#7fff80)"></i><i style="background:linear-gradient(90deg,#7fff80 0,#74ff8b 60px,#77ff88 128px,#76ff89 280px,#73ff8c 324px,#70ff8f 348px,#7eff81)"></i><i style="background:linear-gradient(90deg,#7eff81 0,#6dff92 60px,#73ff8c 124px,#70ff8f 244px,#71ff8e 294px,#6cff93 318px,#6aff95 322px,#67ff98 340px,#6bff94 358px,#7dff82)"></i><i style="background:linear-gradient(90deg,#7eff81 0,#65ff9a 60px,#64ff9b 70px,#65ff9a 74px,#65ff9a 82px,#68ff97 86px,#67ff98 88px,#69ff96 92px,#6eff91 120px,#68ff97 228px,#6bff94 288px,#68ff97 298px,#66ff99 306px,#63ff9c 308px,#64ff9b 312px,#60ff9f 314px,#62ff9d 318px,#5effa1 320px,#60ff9f 324px,#5dffa2 326px,#5effa1 330px,#5cffa3 332px,#5dffa2 334px,#5cffa3 338px,#62ff9d 354px,#7bff84 392px,#7dff82)"></i><i style="background:linear-gradient(90deg,#7dff82 0,#5fffa0 54px,#5affa5 66px,#5bffa4 70px,#59ffa6 76px,#5cffa3 78px,#5affa5 82px,#5dffa2 84px,#5cffa3 88px,#5fffa0 90px,#5effa1 96px,#61ff9e 98px,#60ff9f 100px,#62ff9d 104px,#62ff9d 128px,#5affa5 220px,#60ff9f 288px,#5fffa0 294px,#5bffa4 296px,#5dffa2 300px,#59ffa6 302px,#5affa5 306px,#56ffa9 306px,#58ffa7 312px,#53ffac 312px,#55ffaa 318px,#51ffae 320px,#54ffab 324px,#50ffaf 326px,#53ffac 330px,#50ffaf 332px,#52ffad 334px,#50ffaf 336px,#53ffac 340px,#53ffac 344px,#5effa1 360px,#76ff89 386px,#7cff83)"></i><i style="background:linear-gradient(90deg,#7dff82 0,#54ffab 60px,#50ffaf 66px,#50ffaf 68px,#4effb1 70px,#50ffaf 72px,#4dffb2 76px,#50ffaf 78px,#4dffb2 82px,#50ffaf 84px,#4effb1 88px,#52ffad 90px,#4fffb0 96px,#53ffac 98px,#52ffad 100px,#55ffaa 102px,#50ffaf 134px,#44ffbb 212px,#51ffae 288px,#4fffb0 292px,#4cffb3 296px,#4dffb2 300px,#48ffb7 300px,#4bffb4 306px,#46ffb9 306px,#49ffb6 312px,#43ffbc 312px,#46ffb9 318px,#42ffbd 318px,#45ffba 324px,#42ffbd 326px,#45ffba 330px,#42ffbd 332px,#45ffba 334px,#43ffbc 336px,#48ffb7 340px,#48ffb7 344px,#57ffa8 360px,#72ff8d 382px,#7bff84)"></i><i style="background:linear-gradient(90deg,#7dff82 0,#45ffba 66px,#43ffbc 70px,#40ffbf 76px,#3fffc0 80px,#3dffc2 82px,#40ffbf 84px,#3dffc2 88px,#41ffbe 90px,#3dffc2 96px,#42ffbd 96px,#40ffbf 100px,#43ffbc 102px,#42ffbd 106px,#44ffbb 108px,#2affd5 188px,#2bffd4 226px,#3cffc3 288px,#39ffc6 290px,#3bffc4 294px,#36ffc9 294px,#39ffc6 300px,#34ffcb 300px,#37ffc8 306px,#32ffcd 306px,#36ffc9 312px,#31ffce 312px,#35ffca 318px,#30ffcf 318px,#35ffca 324px,#32ffcd 326px,#36ffc9 330px,#34ffcb 332px,#37ffc8 334px,#36ffc9 336px,#3bffc4 340px,#3cffc3 344px,#4fffb0 360px,#6dff92 380px,#7aff85)"></i><i style="background:linear-gradient(90deg,#7cff83 0,#54ffab 42px,#34ffcb 70px,#31ffce 74px,#2fffd0 76px,#2effd1 80px,#2bffd4 82px,#2dffd2 84px,#29ffd6 88px,#2cffd3 90px,#27ffd8 96px,#2cffd3 96px,#28ffd7 100px,#2dffd2 102px,#2affd5 106px,#2dffd2 108px,#2affd5 112px,#2bffd4 116px,#0efff1 176px,#09fff6 218px,#22ffdd 282px,#1fffe0 284px,#21ffde 288px,#1cffe3 290px,#20ffdf 294px,#1affe5 294px,#1fffe0 300px,#1affe5 300px,#1fffe0 306px,#1bffe4 306px,#1fffe0 312px,#1bffe4 312px,#20ffdf 318px,#1effe1 320px,#22ffdd 324px,#20ffdf 326px,#25ffda 330px,#24ffdb 332px,#29ffd6 334px,#2affd5 338px,#38ffc7 350px,#51ffae 364px,#6aff95 380px,#7aff85)"></i><i style="background:linear-gradient(90deg,#7cff83 0,#55ffaa 36px,#1dffe2 76px,#12ffed 88px,#12ffed 92px,#0dfff2 96px,#0ffff0 98px,#0cfff3 100px,#0efff1 102px,#0bfff4 106px,#0efff1 108px,#0afff5 112px,#0cfff3 114px,#00fcff 134px,#00e0ff 184px,#00dcff 218px,#00fdff 282px,#00f9ff 284px,#00fdff 288px,#00f8ff 290px,#00fcff 294px,#00f8ff 294px,#00ffff 300px,#00fdff 302px,#03fffc 306px,#01fffe 308px,#06fff9 312px,#06fff9 314px,#0afff5 318px,#0afff5 320px,#17ffe8 334px,#2bffd4 348px,#4effb1 366px,#68ff97 380px,#79ff86)"></i><i style="background:linear-gradient(90deg,#7cff83 0,#55ffaa 32px,#23ffdc 64px,#00ffff 84px,#00e6ff 106px,#00b1ff 158px,#009bff 198px,#009cff 220px,#00d5ff 296px,#01fffe 330px,#23ffdc 350px,#48ffb7 366px,#64ff9b 378px,#79ff86)"></i><i style="background:linear-gradient(90deg,#7bff84 0,#55ffaa 30px,#1bffe4 62px,#00fcff 74px,#009cff 124px,#0071ff 160px,#0056ff 196px,#0054ff 218px,#0096ff 282px,#00d9ff 318px,#02fffd 340px,#25ffda 354px,#5effa1 376px,#78ff87)"></i><i style="background:linear-gradient(90deg,#7bff84 0,#53ffac 30px,#19ffe6 58px,#00feff 68px,#00bcff 94px,#00adff 100px,#00a4ff 104px,#00a0ff 106px,#0098ff 108px,#0090ff 112px,#0088ff 114px,#005fff 134px,#0036ff 164px,#001bff 196px,#0018ff 216px,#0036ff 240px,#0061ff 276px,#0069ff 282px,#0071ff 284px,#0077ff 288px,#007fff 290px,#0086ff 294px,#008eff 296px,#00bbff 314px,#00f3ff 340px,#03fffc 346px,#3affc5 364px,#5cffa3 376px,#77ff88)"></i><i style="background:linear-gradient(90deg,#7bff84 0,#51ffae 28px,#15ffea 56px,#00fdff 64px,#00b7ff 88px,#0094ff 100px,#008aff 104px,#005dff 122px,#0026ff 152px,#0000ff 186px,#0000f4 212px,#0003ff 228px,#002bff 256px,#004dff 282px,#005aff 288px,#0064ff 292px,#0069ff 294px,#0072ff 296px,#007cff 300px,#0087ff 302px,#00c6ff 328px,#00ffff 348px,#57ffa8 376px,#77ff88)"></i><i style="background:linear-gradient(90deg,#7aff85 0,#52ffad 26px,#18ffe7 52px,#00fcff 60px,#00a8ff 86px,#005fff 114px,#0028ff 140px,#0000ff 166px,#0000e3 194px,#0000de 216px,#0000f4 232px,#0002ff 240px,#003dff 284px,#0054ff 294px,#0088ff 310px,#00e2ff 342px,#01fffe 352px,#52ffad 374px,#76ff89)"></i><i style="background:linear-gradient(90deg,#7aff85 0,#4fffb0 26px,#19ffe6 48px,#00fdff 58px,#009cff 86px,#0052ff 114px,#0019ff 140px,#0000fd 156px,#0000d5 190px,#0000cb 214px,#0000db 228px,#0000ff 250px,#0030ff 284px,#0053ff 298px,#00cbff 338px,#01fffe 354px,#4fffb0 374px,#72ff8d 392px,#76ff89)"></i><i style="background:linear-gradient(90deg,#7aff85 0,#50ffaf 26px,#17ffe8 48px,#00fdff 56px,#0093ff 84px,#004cff 112px,#000dff 140px,#0000fd 148px,#0000cd 182px,#0000bd 206px,#0000c0 218px,#0000fd 260px,#0026ff 286px,#0049ff 300px,#00afff 334px,#02fffd 356px,#4dffb2 374px,#6eff91 390px,#76ff89)"></i><i style="background:linear-gradient(90deg,#7aff85 0,#4effb1 26px,#15ffea 46px,#00feff 54px,#008dff 84px,#0051ff 106px,#0004ff 138px,#0000f9 144px,#0000cc 172px,#0000b4 196px,#0000b0 216px,#0000c4 230px,#0000ec 256px,#0003ff 270px,#0025ff 290px,#009bff 330px,#00f4ff 354px,#01fffe 356px,#4cffb3 374px,#6cff93 390px,#75ff8a)"></i><i style="background:linear-gradient(90deg,#7aff85 0,#4fffb0 24px,#15ffea 46px,#00fdff 52px,#0086ff 84px,#0048ff 106px,#0001ff 134px,#0000cc 164px,#0000a9 192px,#0000a1 214px,#0000b0 226px,#0000dc 252px,#0003ff 278px,#0021ff 292px,#0093ff 330px,#00ebff 352px,#01fffe 358px,#47ffb8 374px,#66ff99 386px,#75ff8a)"></i><i style="background:linear-gradient(90deg,#7aff85 0,#4effb1 24px,#16ffe9 44px,#00fdff 52px,#0083ff 82px,#0040ff 106px,#0000fe 130px,#0000c9 158px,#00009e 190px,#000094 212px,#0000a1 226px,#0000d1 252px,#0002ff 282px,#001dff 294px,#0091ff 332px,#00ecff 354px,#03fffc 358px,#46ffb9 374px,#66ff99 386px,#75ff8a)"></i><i style="background:linear-gradient(90deg,#7aff85 0,#4dffb2 24px,#14ffeb 44px,#00ffff 50px,#00a1ff 74px,#0069ff 90px,#0001ff 126px,#0000c2 156px,#000095 188px,#000089 212px,#000093 224px,#0000c7 252px,#0000fc 284px,#000eff 292px,#008dff 332px,#00e5ff 352px,#01fffe 358px,#45ffba 374px,#66ff99 386px,#75ff8a)"></i><i style="background:linear-gradient(90deg,#7aff85 0,#4dffb2 24px,#13ffec 44px,#00feff 50px,#00a0ff 74px,#0066ff 90px,#0000ff 124px,#0000c0 154px,#000090 186px,#000082 210px,#000088 220px,#0000c4 254px,#0000f5 284px,#0002ff 288px,#008bff 332px,#00e4ff 352px,#00ffff 358px,#45ffba 374px,#66ff99 386px,#75ff8a)"></i><i style="background:linear-gradient(90deg,#7aff85 0,#50ffaf 24px,#1affe5 42px,#00feff 50px,#00a8ff 72px,#006cff 88px,#0000fe 124px,#0000c0 152px,#00008e 186px,#000080 210px,#000086 220px,#0000c2 254px,#0000f4 284px,#0003ff 290px,#008fff 332px,#00e9ff 354px,#01fffe 358px,#46ffb9 374px,#66ff99 386px,#75ff8a)"></i><i style="background:linear-gradient(90deg,#7aff85 0,#50ffaf 24px,#1bffe4 42px,#00ffff 50px,#00b7ff 68px,#0078ff 84px,#0002ff 124px,#0000bd 156px,#000090 188px,#000084 212px,#00008f 224px,#0000c3 252px,#0000f7 284px,#0003ff 288px,#008eff 332px,#00e6ff 352px,#03fffc 358px,#46ffb9 374px,#66ff99 386px,#75ff8a)"></i><i style="background:linear-gradient(90deg,#7aff85 0,#52ffad 24px,#1dffe2 42px,#00feff 52px,#007fff 84px,#001cff 118px,#0000fe 128px,#0000c5 156px,#000099 188px,#00008d 212px,#00009a 224px,#0000cb 252px,#0001ff 284px,#0024ff 298px,#0096ff 332px,#00eeff 354px,#01fffe 358px,#48ffb7 374px,#67ff98 386px,#76ff89)"></i><i style="background:linear-gradient(90deg,#7aff85 0,#53ffac 24px,#21ffde 42px,#00ffff 52px,#0086ff 84px,#0035ff 112px,#0000ff 132px,#0000cb 160px,#0000a4 190px,#00009a 214px,#0000a9 226px,#0000d6 252px,#0001ff 280px,#0020ff 294px,#0099ff 332px,#00eeff 352px,#01fffe 356px,#4affb5 374px,#68ff97 386px,#76ff89)"></i><i style="background:linear-gradient(90deg,#7aff85 0,#53ffac 24px,#22ffdd 44px,#00fdff 54px,#008eff 84px,#0035ff 116px,#0000fe 138px,#0000d2 164px,#0000b1 192px,#0000a9 214px,#0000ba 228px,#0000e5 254px,#0001ff 272px,#0023ff 290px,#00a1ff 332px,#00f8ff 354px,#01fffe 356px,#4cffb3 374px,#6bff94 388px,#76ff89)"></i><i style="background:linear-gradient(90deg,#7bff84 0,#55ffaa 24px,#27ffd8 44px,#00fdff 56px,#0098ff 84px,#002dff 124px,#0000fe 146px,#0000d0 178px,#0000bc 200px,#0000bb 216px,#0000d4 234px,#0000ff 262px,#0028ff 286px,#005eff 306px,#00afff 332px,#00ffff 354px,#4fffb0 374px,#6cff93 388px,#77ff88)"></i><i style="background:linear-gradient(90deg,#7bff84 0,#58ffa7 24px,#2dffd2 44px,#00feff 58px,#00a5ff 84px,#003eff 124px,#0006ff 154px,#0000fb 160px,#0000d9 192px,#0000d1 214px,#0000e3 230px,#0001ff 248px,#0032ff 282px,#0053ff 296px,#00bfff 334px,#02fffd 352px,#53ffac 374px,#6fff90 388px,#78ff87)"></i><i style="background:linear-gradient(90deg,#7cff83 0,#5affa5 26px,#29ffd6 48px,#00feff 62px,#00b2ff 84px,#005bff 120px,#0023ff 152px,#0000fe 182px,#0000ef 206px,#0000f2 220px,#0002ff 230px,#0029ff 260px,#0051ff 288px,#00c1ff 330px,#01fffe 348px,#56ffa9 374px,#71ff8e 390px,#78ff87)"></i><i style="background:linear-gradient(90deg,#7cff83 0,#5cffa3 26px,#2dffd2 50px,#00feff 66px,#00c4ff 84px,#0071ff 122px,#003dff 154px,#0018ff 190px,#0011ff 214px,#0023ff 232px,#0069ff 286px,#0096ff 306px,#00e1ff 334px,#01fffe 344px,#5bffa4 374px,#77ff88 392px,#79ff86)"></i><i style="background:linear-gradient(90deg,#7cff83 0,#5fffa0 28px,#34ffcb 50px,#00ffff 70px,#00d4ff 86px,#008dff 122px,#005cff 156px,#003cff 192px,#0037ff 216px,#004fff 238px,#0084ff 286px,#00a1ff 300px,#00f4ff 334px,#02fffd 340px,#5fffa0 374px,#7aff85)"></i><i style="background:linear-gradient(90deg,#7dff82 0,#62ff9d 30px,#39ffc6 54px,#00fdff 78px,#00c3ff 108px,#0094ff 140px,#006fff 178px,#0061ff 208px,#0067ff 224px,#00a8ff 288px,#02fffd 330px,#66ff99 374px,#7bff84)"></i><i style="background:linear-gradient(90deg,#7dff82 0,#64ff9b 32px,#3dffc2 60px,#05fffa 88px,#00fcff 92px,#00c9ff 126px,#00a4ff 166px,#0092ff 200px,#0093ff 220px,#00ccff 288px,#00feff 316px,#49ffb6 356px,#6dff92 376px,#7cff83)"></i><i style="background:linear-gradient(90deg,#7eff81 0,#68ff97 36px,#46ffb9 64px,#19ffe6 94px,#00feff 112px,#00d9ff 156px,#00c5ff 200px,#00c6ff 222px,#00f3ff 288px,#02fffd 298px,#26ffd9 322px,#71ff8e 376px,#7dff82)"></i><i style="background:linear-gradient(90deg,#7eff81 0,#6cff93 44px,#4dffb2 76px,#1effe1 122px,#02fffd 176px,#00fbff 220px,#05fffa 238px,#19ffe6 282px,#44ffbb 322px,#77ff88 378px,#7eff81)"></i><i style="background:linear-gradient(90deg,#7fff80 0,#71ff8e 60px,#53ffac 112px,#44ffbb 148px,#3affc5 216px,#4affb5 282px,#63ff9c 320px,#7dff82 384px,#7fff80)"></i><i style="background:linear-gradient(90deg,#80ff7f 0,#84ff7b 96px,#82ff7d 354px,#80ff7f)"></i><i style="background:linear-gradient(90deg,#81ff7e 0,#8aff75 30px,#a2ff5d 58px,#baff45 112px,#c9ff36 152px,#cdff32 216px,#c2ff3d 268px,#90ff6f 350px,#83ff7c 374px,#81ff7e)"></i><i style="background:linear-gradient(90deg,#83ff7c 0,#8dff72 26px,#a4ff5b 42px,#baff45 54px,#e7ff18 106px,#fffe00 136px,#ffee00 190px,#fff500 242px,#fcff03 266px,#e1ff1e 294px,#a4ff5b 346px,#8aff75 364px,#82ff7d 388px,#82ff7d)"></i><i style="background:linear-gradient(90deg,#84ff7b 0,#8fff70 22px,#a7ff58 36px,#d2ff2d 52px,#eeff11 74px,#fffc00 90px,#ffce00 130px,#ffbc00 158px,#ffb100 198px,#ffbd00 244px,#ffcd00 266px,#fff200 294px,#feff01 302px,#beff41 340px,#93ff6c 362px,#87ff78 376px,#83ff7c)"></i><i style="background:linear-gradient(90deg,#86ff79 0,#92ff6d 22px,#adff52 34px,#e1ff1e 50px,#f6ff09 58px,#fffd00 66px,#ffef00 76px,#ffc800 100px,#ff9400 138px,#ff7c00 182px,#ff7d00 216px,#ff9100 256px,#ffc600 290px,#feff01 320px,#d1ff2e 340px,#9bff64 360px,#8aff75 372px,#84ff7b)"></i><i style="background:linear-gradient(90deg,#87ff78 0,#94ff6b 20px,#afff50 32px,#daff25 44px,#feff01 52px,#ffe300 64px,#ffd100 76px,#ffae00 96px,#ff8d00 112px,#ff6100 142px,#ff4800 184px,#ff4800 214px,#ff5e00 254px,#ff8900 280px,#ffc300 306px,#fdff02 330px,#c5ff3a 350px,#a3ff5c 360px,#8dff72 372px,#84ff7b)"></i><i style="background:linear-gradient(90deg,#88ff77 0,#96ff69 20px,#b3ff4c 32px,#e4ff1b 42px,#ffff00 48px,#ffe900 52px,#ffcd00 64px,#ffb700 74px,#ff9e00 88px,#ff5f00 118px,#ff3700 140px,#ff1a00 180px,#ff1600 206px,#ff2900 242px,#ff3900 258px,#ff7a00 288px,#ffe900 330px,#feff01 336px,#c7ff38 352px,#a9ff56 360px,#90ff6f 372px,#85ff7a)"></i><i style="background:linear-gradient(90deg,#89ff76 0,#97ff68 18px,#b0ff4f 28px,#d1ff2e 36px,#feff01 44px,#ffd900 52px,#ffb900 62px,#ff9f00 74px,#ff8400 88px,#ff4400 116px,#ff1600 140px,#fd0000 168px,#f00000 196px,#f90000 226px,#ff0400 240px,#ff1700 258px,#ff5f00 288px,#ffc400 324px,#fffe00 340px,#c7ff38 354px,#abff54 360px,#93ff6c 370px,#86ff79 394px,#86ff79)"></i><i style="background:linear-gradient(90deg,#8aff75 0,#9aff65 18px,#b1ff4e 28px,#d4ff2b 36px,#fcff03 42px,#fff400 44px,#ffc900 52px,#ffa800 62px,#ff8b00 74px,#ff6e00 88px,#ff1600 126px,#fe0000 138px,#dc0000 174px,#d30000 200px,#df0000 230px,#f80000 256px,#ff0200 260px,#ff4c00 290px,#ffb200 324px,#fff200 340px,#ffff00 344px,#c4ff3b 356px,#a6ff59 364px,#92ff6d 372px,#87ff78)"></i><i style="background:linear-gradient(90deg,#8bff74 0,#9bff64 18px,#b2ff4d 26px,#cfff30 34px,#ffff00 42px,#ffc000 50px,#ffa200 58px,#ff8500 70px,#ff4b00 96px,#ff0000 128px,#e00000 144px,#c00000 180px,#bc0000 204px,#cc0000 234px,#e40000 256px,#ff0100 268px,#ff5800 300px,#ffa400 324px,#ffe700 340px,#ffff00 346px,#bbff44 358px,#99ff66 370px,#8aff75 386px,#87ff78)"></i><i style="background:linear-gradient(90deg,#8cff73 0,#9cff63 18px,#b1ff4e 26px,#d4ff2b 34px,#fffe00 40px,#ffb400 50px,#ff9500 58px,#ff6f00 72px,#ff4e00 88px,#fe0000 122px,#d50000 140px,#b20000 176px,#aa0000 200px,#b50000 228px,#d20000 256px,#ff0300 274px,#ff4a00 300px,#ff9800 324px,#ffde00 340px,#fffd00 346px,#e6ff19 352px,#bfff40 358px,#9bff64 370px,#8bff74 386px,#88ff77)"></i><i style="background:linear-gradient(90deg,#8dff72 0,#9cff63 16px,#b0ff4f 24px,#d8ff27 34px,#ffff00 40px,#ffab00 50px,#ff8b00 58px,#ff6500 72px,#ff3d00 90px,#fd0000 116px,#c80000 140px,#a30000 174px,#990000 198px,#a30000 224px,#c10000 254px,#ec0000 272px,#ff0300 280px,#ff7a00 318px,#ffbb00 334px,#fdff02 348px,#c2ff3d 358px,#9cff63 370px,#8cff73 384px,#88ff77)"></i><i style="background:linear-gradient(90deg,#8dff72 0,#9eff61 16px,#b2ff4d 24px,#d6ff29 32px,#fcff03 38px,#ffe400 42px,#ffa400 50px,#ff8300 58px,#ff5d00 72px,#ff3500 90px,#fd0000 112px,#bd0000 138px,#990000 170px,#8c0000 194px,#930000 220px,#b10000 252px,#d20000 266px,#ff0100 282px,#ff8900 324px,#ffc900 338px,#fffd00 348px,#c4ff3b 358px,#a0ff5f 368px,#91ff6e 378px,#89ff76)"></i><i style="background:linear-gradient(90deg,#8eff71 0,#9eff61 16px,#b4ff4b 24px,#d8ff27 32px,#ffff00 38px,#ffa000 50px,#ff7e00 58px,#ff5900 72px,#ff3100 90px,#fe0000 110px,#b50000 138px,#900000 170px,#820000 194px,#8a0000 220px,#a90000 252px,#ca0000 266px,#ff0100 284px,#ff8a00 324px,#ffc500 338px,#feff01 350px,#c6ff39 358px,#a0ff5f 368px,#93ff6c 378px,#89ff76)"></i><i style="background:linear-gradient(90deg,#8eff71 0,#9fff60 16px,#b1ff4e 24px,#d9ff26 32px,#fffd00 38px,#ff9e00 50px,#ff7c00 58px,#ff5700 72px,#ff2d00 92px,#fe0000 108px,#b50000 138px,#970000 160px,#810000 188px,#830000 212px,#9c0000 244px,#b00000 258px,#fe0000 284px,#ff8c00 326px,#ffc800 340px,#ffff00 350px,#c7ff38 358px,#a1ff5e 368px,#93ff6c 378px,#89ff76)"></i><i style="background:linear-gradient(90deg,#8eff71 0,#9fff60 16px,#b1ff4e 24px,#daff25 32px,#fffc00 38px,#ff9e00 50px,#ff7c00 58px,#ff5600 74px,#ff2a00 94px,#fd0000 110px,#b80000 138px,#930000 170px,#860000 194px,#8d0000 220px,#ac0000 252px,#cd0000 266px,#ff0000 284px,#ff8c00 326px,#ffc800 340px,#fffe00 350px,#c7ff38 358px,#a1ff5e 368px,#93ff6c 378px,#89ff76)"></i><i style="background:linear-gradient(90deg,#8eff71 0,#9fff60 16px,#b1ff4e 24px,#daff25 32px,#fffd00 38px,#ffa000 50px,#ff7f00 58px,#ff5a00 74px,#ff2800 96px,#ff0000 114px,#c30000 138px,#9f0000 170px,#910000 194px,#990000 220px,#b80000 254px,#dc0000 268px,#ff0300 282px,#ff8800 324px,#ffc500 338px,#ffff00 350px,#c7ff38 358px,#a1ff5e 368px,#93ff6c 378px,#8aff75)"></i><i style="background:linear-gradient(90deg,#8eff71 0,#9fff60 16px,#b4ff4b 24px,#d9ff26 32px,#ffff00 38px,#ffa400 50px,#ff8400 58px,#ff6000 74px,#ff2b00 98px,#fe0000 118px,#cd0000 140px,#a90000 176px,#a00000 200px,#ad0000 228px,#c90000 256px,#ff0000 276px,#ff7500 316px,#ffb700 334px,#fdff02 350px,#c6ff39 358px,#9eff61 370px,#8fff70 384px,#8aff75)"></i><i style="background:linear-gradient(90deg,#8eff71 0,#9fff60 16px,#b3ff4c 24px,#d7ff28 32px,#fcff03 38px,#fff500 40px,#ffaf00 50px,#ff9400 56px,#ff7000 70px,#ff3e00 94px,#ff0000 124px,#d90000 142px,#b70000 178px,#b00000 202px,#be0000 230px,#d80000 256px,#ff0200 272px,#ff6500 308px,#ffb100 332px,#fff500 346px,#ffff00 348px,#c4ff3b 358px,#9eff61 370px,#8eff71 384px,#89ff76)"></i><i style="background:linear-gradient(90deg,#8eff71 0,#9eff61 16px,#b2ff4d 24px,#d4ff2b 32px,#feff01 40px,#ffb100 50px,#ff9400 58px,#ff6f00 76px,#ff0c00 124px,#fd0000 130px,#e20000 146px,#c30000 182px,#bf0000 206px,#d10000 236px,#e70000 256px,#ff0100 268px,#ff7200 310px,#ffbc00 332px,#fffe00 348px,#c2ff3d 358px,#9dff62 370px,#8eff71 384px,#89ff76)"></i><i style="background:linear-gradient(90deg,#8eff71 0,#9dff62 16px,#b0ff4f 24px,#d1ff2e 32px,#fffe00 40px,#ffbf00 50px,#ffa400 56px,#ff8000 74px,#ff5500 96px,#ff0000 136px,#e70000 156px,#d00000 186px,#d10000 212px,#ea0000 248px,#fd0000 260px,#ff4c00 292px,#ffb400 328px,#ffed00 342px,#ffff00 346px,#c0ff3f 358px,#9cff63 370px,#8dff72 386px,#89ff76)"></i><i style="background:linear-gradient(90deg,#8dff72 0,#9eff61 18px,#b2ff4d 26px,#d3ff2c 34px,#fffe00 42px,#ffc900 50px,#ffb000 56px,#ff8f00 74px,#ff6a00 94px,#ff0d00 138px,#fd0000 150px,#e40000 184px,#e30000 210px,#f90000 246px,#ff0200 254px,#ff2800 272px,#ff7200 300px,#ffd300 334px,#fffe00 344px,#dbff24 352px,#b9ff46 360px,#99ff66 370px,#8aff75 390px,#89ff76)"></i><i style="background:linear-gradient(90deg,#8dff72 0,#9eff61 18px,#b9ff46 28px,#e3ff1c 38px,#ffff00 42px,#ffd300 50px,#ffbb00 58px,#ff9a00 78px,#ff7900 96px,#ff3500 126px,#ff1800 144px,#fe0000 176px,#f80000 202px,#ff0300 228px,#ff1c00 256px,#ff5800 284px,#ffe500 336px,#fcff03 344px,#d0ff2f 354px,#b2ff4d 360px,#98ff67 370px,#89ff76 392px,#88ff77)"></i><i style="background:linear-gradient(90deg,#8cff73 0,#9cff63 18px,#b6ff49 28px,#ddff22 38px,#fdff02 44px,#fff000 46px,#ffdd00 50px,#ffcc00 56px,#ffb400 72px,#ff9500 92px,#ff4400 134px,#ff2e00 154px,#ff1900 188px,#ff1c00 218px,#ff3600 254px,#ff5e00 276px,#ffc200 316px,#fff700 338px,#fdff02 340px,#d5ff2a 352px,#b6ff49 358px,#96ff69 370px,#88ff77 394px,#88ff77)"></i><i style="background:linear-gradient(90deg,#8cff73 0,#9cff63 20px,#b9ff46 30px,#e9ff16 42px,#fdff02 46px,#ffeb00 50px,#ffde00 54px,#ffc800 70px,#ffb000 92px,#ff6400 140px,#ff4a00 180px,#ff4800 210px,#ff5d00 252px,#ff7a00 270px,#fff600 332px,#fcff03 338px,#d6ff29 350px,#afff50 360px,#95ff6a 370px,#88ff77)"></i><i style="background:linear-gradient(90deg,#8bff74 0,#9aff65 20px,#b9ff46 32px,#e0ff1f 42px,#fffc00 48px,#ffec00 54px,#ffdc00 70px,#ffcf00 88px,#ff8c00 144px,#ff7800 188px,#ff7c00 224px,#ff9000 258px,#ffe900 316px,#ffff00 330px,#ddff22 344px,#c0ff3f 354px,#a4ff5b 362px,#92ff6d 372px,#87ff78)"></i><i style="background:linear-gradient(90deg,#8aff75 0,#99ff66 20px,#b4ff4b 32px,#d8ff27 42px,#f9ff06 50px,#fffd00 54px,#fff600 60px,#fff700 62px,#fff100 66px,#fff100 68px,#ffe800 88px,#ffcf00 118px,#ffb500 146px,#ffa500 192px,#ffac00 234px,#ffbc00 260px,#fff200 306px,#ffff00 320px,#eaff15 334px,#d7ff28 344px,#baff45 354px,#9dff62 364px,#8fff70 374px,#87ff78)"></i><i style="background:linear-gradient(90deg,#8aff75 0,#98ff67 20px,#b0ff4f 32px,#cfff30 42px,#edff12 50px,#f1ff0e 52px,#f5ff0a 54px,#f4ff0b 56px,#f8ff07 60px,#f7ff08 62px,#fbff04 66px,#f9ff06 68px,#fcff03 70px,#f9ff06 72px,#fcff03 76px,#f9ff06 78px,#fcff03 82px,#faff05 84px,#feff01 88px,#fcff03 90px,#fffc00 104px,#ffee00 126px,#ffdd00 154px,#ffd300 200px,#ffe000 252px,#ffff00 290px,#f7ff08 300px,#f7ff08 302px,#f3ff0c 306px,#f3ff0c 308px,#f0ff0f 312px,#f0ff0f 314px,#ecff13 318px,#ecff13 320px,#e7ff18 324px,#e6ff19 326px,#e1ff1e 330px,#dfff20 332px,#d4ff2b 340px,#c0ff3f 350px,#a2ff5d 360px,#8fff70 372px,#86ff79)"></i><i style="background:linear-gradient(90deg,#89ff76 0,#96ff69 20px,#aeff51 32px,#cbff34 42px,#e1ff1e 50px,#e2ff1d 52px,#e7ff18 54px,#e5ff1a 56px,#e9ff16 60px,#e7ff18 62px,#ebff14 66px,#e7ff18 66px,#eaff15 70px,#e5ff1a 72px,#e9ff16 76px,#e4ff1b 78px,#e7ff18 82px,#e3ff1c 84px,#e7ff18 88px,#e2ff1d 90px,#e7ff18 96px,#e4ff1b 98px,#e6ff19 100px,#e3ff1c 102px,#edff12 126px,#fdff02 162px,#fffd00 218px,#f6ff09 258px,#e1ff1e 288px,#dfff20 294px,#e1ff1e 296px,#deff21 300px,#e0ff1f 302px,#dcff23 306px,#dfff20 308px,#dbff24 312px,#deff21 314px,#d9ff26 318px,#dcff23 320px,#d7ff28 324px,#d8ff27 326px,#d3ff2c 330px,#d4ff2b 332px,#cfff30 334px,#cfff30 336px,#c7ff38 340px,#c4ff3b 344px,#afff50 354px,#94ff6b 366px,#89ff76 382px,#86ff79)"></i><i style="background:linear-gradient(90deg,#88ff77 0,#96ff69 22px,#aaff55 32px,#c3ff3c 42px,#d6ff29 50px,#d6ff29 52px,#dbff24 54px,#d7ff28 56px,#dbff24 60px,#d7ff28 60px,#dbff24 66px,#d7ff28 66px,#daff25 70px,#d5ff2a 72px,#d7ff28 76px,#d2ff2d 78px,#d5ff2a 82px,#d0ff2f 84px,#d3ff2c 88px,#cdff32 90px,#d1ff2e 96px,#ccff33 96px,#ceff31 100px,#caff35 102px,#ccff33 106px,#c9ff36 108px,#dbff24 170px,#dcff23 226px,#d0ff2f 268px,#c7ff38 288px,#c9ff36 290px,#c7ff38 294px,#cbff34 296px,#c8ff37 300px,#ccff33 300px,#c9ff36 306px,#cdff32 306px,#c9ff36 312px,#ceff31 312px,#c9ff36 318px,#cdff32 318px,#c8ff37 324px,#cbff34 326px,#c6ff39 330px,#c8ff37 332px,#c4ff3b 334px,#c5ff3a 336px,#beff41 340px,#beff41 342px,#aaff55 354px,#92ff6d 368px,#88ff77 384px,#86ff79)"></i><i style="background:linear-gradient(90deg,#88ff77 0,#94ff6b 22px,#a6ff59 32px,#bbff44 42px,#cbff34 50px,#cbff34 52px,#cfff30 54px,#cbff34 56px,#cfff30 60px,#caff35 60px,#ceff31 66px,#c9ff36 66px,#cbff34 70px,#c6ff39 72px,#c8ff37 76px,#c3ff3c 78px,#c5ff3a 82px,#c0ff3f 84px,#c2ff3d 88px,#bcff43 90px,#bfff40 96px,#baff45 96px,#bcff43 100px,#b7ff48 102px,#b8ff47 106px,#b4ff4b 108px,#b5ff4a 112px,#b2ff4d 114px,#beff41 196px,#b5ff4a 266px,#b1ff4e 282px,#b4ff4b 284px,#b3ff4c 288px,#b6ff49 290px,#b5ff4a 294px,#baff45 294px,#b7ff48 300px,#bcff43 300px,#b9ff46 306px,#beff41 306px,#baff45 312px,#bfff40 312px,#bbff44 318px,#c0ff3f 318px,#bcff43 324px,#bfff40 326px,#bbff44 330px,#bdff42 332px,#b9ff46 334px,#bbff44 336px,#b5ff4a 340px,#b6ff49 342px,#a5ff5a 354px,#8dff72 370px,#85ff7a)"></i><i style="background:linear-gradient(90deg,#87ff78 0,#94ff6b 24px,#abff54 38px,#b7ff48 44px,#b8ff47 46px,#c2ff3d 50px,#c1ff3e 52px,#c4ff3b 54px,#c0ff3f 56px,#c3ff3c 60px,#bfff40 60px,#c2ff3d 66px,#bdff42 66px,#bfff40 70px,#baff45 72px,#bcff43 76px,#b6ff49 78px,#b8ff47 82px,#b3ff4c 84px,#b5ff4a 88px,#b0ff4f 90px,#b2ff4d 96px,#adff52 96px,#afff50 100px,#abff54 102px,#acff53 106px,#a8ff57 108px,#b1ff4e 210px,#a8ff57 274px,#a7ff58 288px,#aaff55 290px,#a9ff56 294px,#adff52 296px,#abff54 300px,#afff50 302px,#adff52 306px,#b1ff4e 306px,#afff50 312px,#b3ff4c 312px,#b0ff4f 318px,#b4ff4b 320px,#b1ff4e 324px,#b4ff4b 326px,#b1ff4e 330px,#b4ff4b 332px,#b1ff4e 334px,#b3ff4c 336px,#aeff51 340px,#aeff51 342px,#a1ff5e 354px,#8aff75 372px,#85ff7a)"></i><i style="background:linear-gradient(90deg,#87ff78 0,#93ff6c 24px,#aeff51 42px,#baff45 50px,#b8ff47 52px,#bbff44 54px,#b7ff48 56px,#baff45 60px,#b5ff4a 60px,#b8ff47 66px,#b3ff4c 66px,#b5ff4a 70px,#b0ff4f 72px,#b2ff4d 76px,#adff52 78px,#aeff51 82px,#aaff55 84px,#abff54 88px,#a7ff58 90px,#a9ff56 96px,#a6ff59 98px,#a5ff5a 118px,#aeff51 200px,#a6ff59 272px,#a2ff5d 294px,#a4ff5b 298px,#a6ff59 304px,#a5ff5a 306px,#a8ff57 308px,#a6ff59 312px,#aaff55 314px,#a8ff57 318px,#abff54 320px,#a9ff56 324px,#acff53 326px,#a9ff56 330px,#acff53 332px,#a9ff56 334px,#abff54 336px,#a7ff58 340px,#a7ff58 344px,#9dff62 354px,#89ff76 372px,#84ff7b)"></i></div>
<div class="hm" style="left:462px;top:701px;width:148px;height:139px"><i style="background:#a8ff57"></i><i style="background:#a8ff57"></i><i style="background:#a8ff57"></i><i style="background:#a8ff57"></i><i style="background:#a8ff57"></i><i style="background:#a8ff57"></i><i style="background:#a8ff57"></i><i style="background:#a8ff57"></i><i style="background:#a8ff57"></i><i style="background:#a8ff57"></i><i style="background:#a8ff57"></i><i style="background:#a7ff58"></i><i style="background:#a0ff5f"></i><i style="background:#94ff6b"></i><i style="background:#84ff7b"></i><i style="background:#6cff93"></i><i style="background:#41ffbe"></i><i style="background:#0efff1"></i><i style="background:#00d4ff"></i><i style="background:#008bff"></i><i style="background:#0041ff"></i><i style="background:#0009ff"></i><i style="background:#0000e8"></i><i style="background:#0000cf"></i><i style="background:#0000bb"></i><i style="background:#0000ab"></i><i style="background:#00009e"></i><i style="background:#000094"></i><i style="background:#00008f"></i><i style="background:#000093"></i><i style="background:#00009f"></i><i style="background:#0000ae"></i><i style="background:#0000c7"></i><i style="background:#0000eb"></i><i style="background:#0016ff"></i><i style="background:#0052ff"></i><i style="background:#0098ff"></i><i style="background:#00dfff"></i><i style="background:#22ffdd"></i><i style="background:#62ff9d"></i><i style="background:#a3ff5c"></i><i style="background:#e3ff1c"></i><i style="background:#ffdd00"></i><i style="background:#ffa000"></i><i style="background:#ff5d00"></i><i style="background:#ff1300"></i><i style="background:#ee0000"></i><i style="background:#d70000"></i><i style="background:#c70000"></i><i style="background:#b90000"></i><i style="background:#ad0000"></i><i style="background:#a10000"></i><i style="background:#9a0000"></i><i style="background:#9b0000"></i><i style="background:#a30000"></i><i style="background:#af0000"></i><i style="background:#c20000"></i><i style="background:#e00000"></i><i style="background:#ff0500"></i><i style="background:#ff3300"></i><i style="background:#ff6700"></i><i style="background:#ff9700"></i><i style="background:#ffc500"></i><i style="background:#fff100"></i><i style="background:#e5ff1a"></i><i style="background:#bfff40"></i><i style="background:#9bff64"></i><i style="background:#76ff89"></i><i style="background:#52ffad"></i><i style="background:#2effd1"></i><i style="background:#06fff9"></i><i style="background:#00d3ff"></i><i style="background:#0098ff"></i><i style="background:#005bff"></i><i style="background:#0024ff"></i><i style="background:#0000fa"></i><i style="background:#0000d9"></i><i style="background:#0000be"></i><i style="background:#0000ab"></i><i style="background:#0000a1"></i><i style="background:#000099"></i><i style="background:#000092"></i><i style="background:#00008f"></i><i style="background:#000090"></i><i style="background:#000094"></i><i style="background:#00009a"></i><i style="background:#0000a3"></i><i style="background:#0000ad"></i><i style="background:#0000bd"></i><i style="background:#0000d3"></i><i style="background:#0000ef"></i><i style="background:#0013ff"></i><i style="background:#004cff"></i><i style="background:#0093ff"></i><i style="background:#00ddff"></i><i style="background:#24ffdb"></i><i style="background:#6dff92"></i><i style="background:#b7ff48"></i><i style="background:#fbff04"></i><i style="background:#ffc800"></i><i style="background:#ff9100"></i><i style="background:#ff5a00"></i><i style="background:#ff2300"></i><i style="background:#f70000"></i><i style="background:#d40000"></i><i style="background:#b90000"></i><i style="background:#ac0000"></i><i style="background:#a20000"></i><i style="background:#9b0000"></i><i style="background:#990000"></i><i style="background:#9d0000"></i><i style="background:#a50000"></i><i style="background:#b00000"></i><i style="background:#c00000"></i><i style="background:#dc0000"></i><i style="background:#fd0000"></i><i style="background:#ff2800"></i><i style="background:#ff5c00"></i><i style="background:#ff8f00"></i><i style="background:#ffc600"></i><i style="background:#fff500"></i><i style="background:#f0ff0f"></i><i style="background:#dcff23"></i><i style="background:#cdff32"></i><i style="background:#c2ff3d"></i><i style="background:#bbff44"></i><i style="background:#b6ff49"></i><i style="background:#b2ff4d"></i><i style="background:#aeff51"></i><i style="background:#abff54"></i><i style="background:#a9ff56"></i><i style="background:#a8ff57"></i><i style="background:#a8ff57"></i><i style="background:#a8ff57"></i><i style="background:#a8ff57"></i><i style="background:#a8ff57"></i><i style="background:#a8ff57"></i><i style="background:#a8ff57"></i><i style="background:#a8ff57"></i></div>
<div class="hm" style="left:22px;top:870px;width:395px;height:139px"><i style="background:linear-gradient(90deg,#c2ff3d 0,#bcff43 60px,#c2ff3d 146px,#c0ff3f 312px,#b9ff46 354px,#c2ff3d)"></i><i style="background:linear-gradient(90deg,#c2ff3d 0,#baff45 60px,#c1ff3e 130px,#bfff40 306px,#b7ff48 344px,#c0ff3f 388px,#c2ff3d)"></i><i style="background:linear-gradient(90deg,#c2ff3d 0,#b8ff47 60px,#bfff40 124px,#beff41 300px,#b5ff4a 334px,#b5ff4a 354px,#c2ff3d)"></i><i style="background:linear-gradient(90deg,#c2ff3d 0,#b5ff4a 60px,#b8ff47 88px,#bdff42 116px,#bbff44 300px,#b3ff4c 322px,#b0ff4f 334px,#b1ff4e 350px,#c2ff3d)"></i><i style="background:linear-gradient(90deg,#c2ff3d 0,#b0ff4f 66px,#b2ff4d 88px,#baff45 114px,#b9ff46 266px,#b7ff48 294px,#b3ff4c 304px,#b0ff4f 310px,#adff52 322px,#abff54 334px,#aeff51 350px,#c2ff3d)"></i><i style="background:linear-gradient(90deg,#c2ff3d 0,#abff54 70px,#abff54 88px,#adff52 92px,#afff50 100px,#b1ff4e 104px,#b6ff49 124px,#b3ff4c 242px,#b4ff4b 282px,#b2ff4d 288px,#afff50 292px,#afff50 294px,#acff53 296px,#adff52 300px,#a9ff56 302px,#aaff55 306px,#a7ff58 308px,#a8ff57 312px,#a6ff59 314px,#a5ff5a 334px,#aaff55 350px,#c2ff3d 394px,#c2ff3d)"></i><i style="background:linear-gradient(90deg,#c2ff3d 0,#a2ff5d 76px,#a2ff5d 94px,#a4ff5b 98px,#a3ff5c 100px,#a6ff59 104px,#a8ff57 122px,#9fff60 218px,#a6ff59 282px,#a4ff5b 288px,#a2ff5d 292px,#9fff60 296px,#a0ff5f 300px,#9dff62 302px,#9eff61 306px,#9cff63 308px,#9eff61 332px,#a8ff57 354px,#bbff44 380px,#c2ff3d)"></i><i style="background:linear-gradient(90deg,#c2ff3d 0,#a1ff5e 64px,#95ff6a 88px,#94ff6b 118px,#81ff7e 194px,#84ff7b 232px,#90ff6f 288px,#8eff71 298px,#92ff6d 322px,#9cff63 344px,#b9ff46 378px,#c2ff3d)"></i><i style="background:linear-gradient(90deg,#c2ff3d 0,#a7ff58 48px,#82ff7d 100px,#62ff9d 182px,#60ff9f 220px,#7bff84 298px,#91ff6e 338px,#b8ff47 376px,#c2ff3d)"></i><i style="background:linear-gradient(90deg,#c2ff3d 0,#aaff55 40px,#86ff79 78px,#54ffab 130px,#38ffc7 182px,#34ffcb 218px,#59ffa6 286px,#79ff86 318px,#98ff67 350px,#b5ff4a 374px,#c2ff3d)"></i><i style="background:linear-gradient(90deg,#c2ff3d 0,#acff53 36px,#88ff77 70px,#57ffa8 106px,#44ffbb 118px,#27ffd8 146px,#0dfff2 194px,#0dfff2 220px,#36ffc9 280px,#38ffc7 282px,#3fffc0 286px,#42ffbd 288px,#49ffb6 292px,#63ff9c 310px,#97ff68 352px,#b2ff4d 372px,#c2ff3d)"></i><i style="background:linear-gradient(90deg,#c2ff3d 0,#afff50 30px,#89ff76 64px,#35ffca 118px,#0ffff0 156px,#00fdff 184px,#00f7ff 216px,#03fffc 232px,#28ffd7 282px,#3affc5 294px,#44ffbb 298px,#60ff9f 316px,#9cff63 358px,#b2ff4d 372px,#c2ff3d)"></i><i style="background:linear-gradient(90deg,#c2ff3d 0,#b0ff4f 28px,#87ff78 62px,#38ffc7 108px,#0efff1 144px,#00fdff 164px,#00eaff 200px,#00ecff 220px,#02fffd 246px,#21ffde 284px,#5cffa3 320px,#9cff63 358px,#b1ff4e 372px,#c2ff3d)"></i><i style="background:linear-gradient(90deg,#c2ff3d 0,#b1ff4e 26px,#89ff76 58px,#3fffc0 100px,#0cfff3 138px,#00fcff 152px,#00e2ff 194px,#00e0ff 218px,#02fffd 258px,#1cffe3 288px,#8dff72 352px,#aeff51 370px,#c2ff3d)"></i><i style="background:linear-gradient(90deg,#c2ff3d 0,#b1ff4e 26px,#8aff75 56px,#3cffc3 98px,#04fffb 138px,#00faff 148px,#00daff 192px,#00d8ff 216px,#01fffe 268px,#1bffe4 290px,#74ff8b 342px,#acff53 370px,#c2ff3d)"></i><i style="background:linear-gradient(90deg,#c2ff3d 0,#b2ff4d 24px,#8dff72 52px,#52ffad 82px,#20ffdf 114px,#00feff 138px,#00dcff 178px,#00d0ff 208px,#00d8ff 226px,#01fffe 274px,#1bffe4 294px,#65ff9a 336px,#acff53 370px,#c2ff3d)"></i><i style="background:linear-gradient(90deg,#c2ff3d 0,#b2ff4d 24px,#8fff70 50px,#5bffa4 76px,#30ffcf 100px,#00feff 136px,#00dbff 172px,#00ccff 204px,#00d0ff 222px,#01fffe 278px,#1effe1 298px,#5effa1 334px,#aaff55 368px,#c2ff3d 394px,#c2ff3d)"></i><i style="background:linear-gradient(90deg,#c2ff3d 0,#b3ff4c 22px,#91ff6e 48px,#62ff9d 72px,#35ffca 96px,#00feff 132px,#00d9ff 170px,#00c8ff 202px,#00caff 220px,#02fffd 282px,#51ffae 328px,#aaff55 368px,#c2ff3d 394px,#c2ff3d)"></i><i style="background:linear-gradient(90deg,#c2ff3d 0,#b3ff4c 22px,#91ff6e 48px,#63ff9c 72px,#35ffca 94px,#00feff 130px,#00d9ff 166px,#00c5ff 200px,#00c6ff 218px,#02fffd 284px,#50ffaf 328px,#aaff55 368px,#c2ff3d 394px,#c2ff3d)"></i><i style="background:linear-gradient(90deg,#c2ff3d 0,#b3ff4c 24px,#92ff6d 48px,#67ff98 70px,#38ffc7 92px,#00feff 130px,#00d8ff 166px,#00c4ff 198px,#00c4ff 218px,#01fffe 284px,#51ffae 328px,#a9ff56 368px,#c1ff3e 392px,#c2ff3d)"></i><i style="background:linear-gradient(90deg,#c2ff3d 0,#b4ff4b 24px,#94ff6b 48px,#68ff97 70px,#39ffc6 92px,#00feff 130px,#00d9ff 166px,#00c5ff 198px,#00c5ff 218px,#02fffd 284px,#53ffac 328px,#abff54 368px,#c1ff3e 392px,#c2ff3d)"></i><i style="background:linear-gradient(90deg,#c2ff3d 0,#b4ff4b 24px,#96ff69 48px,#6bff94 70px,#3cffc3 92px,#00ffff 130px,#00daff 168px,#00c7ff 200px,#00c8ff 218px,#03fffc 282px,#4cffb3 324px,#acff53 368px,#c2ff3d 394px,#c2ff3d)"></i><i style="background:linear-gradient(90deg,#c2ff3d 0,#b3ff4c 26px,#96ff69 50px,#70ff8f 70px,#40ffbf 92px,#0dfff2 124px,#00fcff 136px,#00daff 172px,#00caff 204px,#00cdff 220px,#02fffd 280px,#18ffe7 294px,#44ffbb 316px,#aeff51 368px,#c2ff3d 394px,#c2ff3d)"></i><i style="background:linear-gradient(90deg,#c2ff3d 0,#b4ff4b 28px,#95ff6a 54px,#75ff8a 70px,#47ffb8 92px,#12ffed 124px,#00fdff 140px,#00dbff 180px,#00d0ff 210px,#00dcff 230px,#02fffd 274px,#16ffe9 288px,#36ffc9 304px,#7aff85 340px,#adff52 366px,#c0ff3f 388px,#c2ff3d)"></i><i style="background:linear-gradient(90deg,#c2ff3d 0,#b4ff4b 30px,#99ff66 54px,#71ff8e 76px,#5affa5 88px,#2affd5 116px,#02fffd 150px,#00e4ff 198px,#00e4ff 218px,#02fffd 254px,#19ffe6 282px,#2bffd4 294px,#41ffbe 304px,#adff52 364px,#beff41 384px,#c2ff3d)"></i><i style="background:linear-gradient(90deg,#c2ff3d 0,#b4ff4b 34px,#98ff67 60px,#5cffa3 94px,#38ffc7 118px,#12ffed 158px,#00fdff 192px,#00fcff 218px,#06fff9 230px,#2dffd2 284px,#3bffc4 294px,#4fffb0 304px,#63ff9c 316px,#a4ff5b 354px,#b8ff47 370px,#c2ff3d)"></i><i style="background:linear-gradient(90deg,#c2ff3d 0,#b7ff48 34px,#a0ff5f 60px,#6bff94 94px,#46ffb9 122px,#26ffd9 166px,#17ffe8 206px,#1effe1 228px,#41ffbe 282px,#61ff9e 306px,#68ff97 310px,#73ff8c 318px,#79ff86 320px,#abff54 354px,#bcff43 372px,#c2ff3d)"></i><i style="background:linear-gradient(90deg,#c2ff3d 0,#b9ff46 38px,#a3ff5c 66px,#7dff82 94px,#60ff9f 122px,#43ffbc 174px,#3bffc4 214px,#5effa1 286px,#75ff8a 306px,#7cff83 310px,#85ff7a 318px,#8aff75 320px,#adff52 350px,#bdff42 370px,#c2ff3d)"></i><i style="background:linear-gradient(90deg,#c2ff3d 0,#bcff43 44px,#aaff55 70px,#8cff73 100px,#73ff8c 142px,#62ff9d 204px,#69ff96 234px,#7dff82 288px,#8dff72 306px,#92ff6d 310px,#99ff66 318px,#9eff61 322px,#b3ff4c 344px,#c0ff3f 368px,#c2ff3d)"></i><i style="background:linear-gradient(90deg,#c3ff3c 0,#c3ff3c 44px,#b6ff49 76px,#9eff61 110px,#8cff73 184px,#8dff72 230px,#9aff65 288px,#a6ff59 306px,#aaff55 310px,#bdff42 338px,#c3ff3c 364px,#c3ff3c)"></i><i style="background:linear-gradient(90deg,#c4ff3b 0,#cdff32 36px,#d3ff2c 54px,#c6ff39 88px,#c3ff3c 94px,#b9ff46 118px,#b7ff48 250px,#baff45 288px,#c3ff3c 304px,#cbff34 328px,#ccff33 350px,#c3ff3c 392px,#c3ff3c)"></i><i style="background:linear-gradient(90deg,#c5ff3a 0,#cfff30 28px,#e7ff18 54px,#e5ff1a 94px,#e0ff1f 110px,#e4ff1b 230px,#deff21 288px,#e2ff1d 298px,#e0ff1f 328px,#d6ff29 350px,#c6ff39 374px,#c4ff3b)"></i><i style="background:linear-gradient(90deg,#c6ff39 0,#d0ff2f 24px,#ebff14 42px,#fcff03 54px,#fff200 106px,#fff000 122px,#ffe200 172px,#ffe300 230px,#ffee00 268px,#fff700 294px,#fcff03 318px,#e4ff1b 348px,#ccff33 368px,#c5ff3a)"></i><i style="background:linear-gradient(90deg,#c7ff38 0,#d3ff2c 24px,#f0ff0f 40px,#fffc00 46px,#ffec00 56px,#ffa800 146px,#ff9b00 196px,#ffa600 250px,#ffc100 282px,#fdff02 338px,#d0ff2f 366px,#c7ff38 386px,#c5ff3a)"></i><i style="background:linear-gradient(90deg,#c8ff37 0,#d4ff2b 22px,#edff12 34px,#fffd00 42px,#ffde00 52px,#ffc300 74px,#ffab00 94px,#ff8b00 114px,#ff6c00 144px,#ff5a00 190px,#ff6100 230px,#ff7100 258px,#ff9900 288px,#ffb600 304px,#fffb00 344px,#f8ff07 348px,#daff25 362px,#cbff34 374px,#c6ff39)"></i><i style="background:linear-gradient(90deg,#c9ff36 0,#d6ff29 20px,#f1ff0e 34px,#fffd00 38px,#ffcd00 52px,#ffaf00 70px,#ff9f00 82px,#ff9500 88px,#ff8e00 92px,#ff8a00 94px,#ff8300 96px,#ff7d00 100px,#ff7600 102px,#ff7200 106px,#ff6a00 108px,#ff6500 112px,#ff5d00 114px,#ff3700 140px,#ff1e00 182px,#ff1d00 214px,#ff3300 254px,#ff5300 276px,#ff6100 282px,#ff6900 284px,#ff7000 288px,#ff7900 290px,#ff7e00 294px,#ff8600 296px,#ff8d00 300px,#ff9500 302px,#ff9b00 306px,#ffa300 308px,#ffea00 342px,#ffff00 350px,#e0ff1f 360px,#ceff31 372px,#c7ff38)"></i><i style="background:linear-gradient(90deg,#caff35 0,#d8ff27 20px,#f4ff0b 32px,#ffff00 36px,#ffbc00 52px,#ffa200 64px,#ff8500 82px,#ff7e00 86px,#ff7a00 88px,#ff7300 90px,#ff6d00 94px,#ff6500 96px,#ff5f00 100px,#ff5700 102px,#ff5200 106px,#ff4a00 108px,#ff4400 112px,#ff3a00 116px,#ff1200 140px,#fd0000 168px,#f20000 198px,#fe0000 232px,#ff1100 256px,#ff4200 282px,#ff4d00 286px,#ff5200 288px,#ff5a00 290px,#ff6000 294px,#ff6900 296px,#ff7100 300px,#ff7900 302px,#ff8100 306px,#ff8900 308px,#ff9000 312px,#ff9b00 316px,#ffde00 342px,#fdff02 352px,#e2ff1d 362px,#cfff30 372px,#c7ff38)"></i><i style="background:linear-gradient(90deg,#cbff34 0,#d9ff26 20px,#f6ff09 32px,#fffd00 34px,#ffce00 44px,#ffad00 52px,#ff9100 64px,#ff7b00 76px,#ff6f00 82px,#ff6700 86px,#ff6300 88px,#ff5b00 90px,#ff5500 94px,#ff4c00 98px,#ff2300 116px,#ff0000 136px,#e20000 170px,#d90000 198px,#e40000 232px,#f90000 256px,#ff0400 262px,#ff3c00 288px,#ff5900 298px,#ff6900 304px,#ff7900 310px,#ffcc00 340px,#ffff00 354px,#e5ff1a 362px,#d1ff2e 372px,#c8ff37)"></i><i style="background:linear-gradient(90deg,#cbff34 0,#daff25 20px,#f6ff09 30px,#fffc00 34px,#ffcb00 44px,#ffa400 50px,#ff8500 62px,#ff6a00 76px,#ff5d00 82px,#ff5500 86px,#ff4f00 88px,#ff4700 92px,#ff1300 116px,#fc0000 128px,#e20000 146px,#c70000 184px,#c60000 210px,#dc0000 248px,#ef0000 262px,#ff0100 270px,#ff3900 294px,#ff5a00 306px,#ff6600 310px,#ffb000 334px,#fff100 352px,#fffe00 354px,#e0ff1f 364px,#d1ff2e 374px,#c8ff37)"></i><i style="background:linear-gradient(90deg,#ccff33 0,#daff25 18px,#f3ff0c 28px,#fffd00 32px,#ffca00 42px,#ff9b00 50px,#ff8100 58px,#ff6800 70px,#ff5a00 76px,#ff5300 80px,#ff4e00 82px,#ff4600 86px,#ff0d00 112px,#fd0000 120px,#d50000 142px,#b70000 180px,#b30000 206px,#c50000 240px,#d80000 258px,#ff0200 276px,#ff3b00 300px,#ff5d00 312px,#ff6d00 316px,#ffba00 340px,#fff600 354px,#ffff00 356px,#dfff20 366px,#d1ff2e 374px,#c8ff37)"></i><i style="background:linear-gradient(90deg,#ccff33 0,#dbff24 18px,#f1ff0e 28px,#fffe00 32px,#ffcb00 42px,#ff9300 50px,#ff7900 58px,#ff5e00 70px,#ff5000 76px,#ff4800 80px,#ff4400 82px,#ff3900 86px,#ff0100 110px,#c50000 140px,#a50000 178px,#9f0000 204px,#af0000 236px,#c40000 256px,#ff0100 282px,#ff4100 306px,#ff8b00 328px,#ffd200 346px,#fdff02 356px,#dcff23 368px,#cfff30 378px,#c8ff37)"></i><i style="background:linear-gradient(90deg,#ccff33 0,#dcff23 18px,#f2ff0d 28px,#fffd00 32px,#ffc800 42px,#ff8e00 50px,#ff7300 58px,#ff5700 70px,#ff4900 76px,#ff4100 80px,#ff3d00 82px,#ff3400 86px,#ff0100 106px,#b90000 138px,#990000 168px,#8c0000 196px,#950000 224px,#b00000 254px,#e00000 276px,#ff0200 288px,#ff4a00 310px,#ff8600 328px,#ffc900 346px,#feff01 356px,#dcff23 368px,#cfff30 378px,#c9ff36)"></i><i style="background:linear-gradient(90deg,#ccff33 0,#daff25 18px,#efff10 26px,#fffc00 32px,#ffc700 42px,#ff8d00 50px,#ff7100 58px,#ff5500 70px,#ff4700 76px,#ff3f00 80px,#ff3a00 82px,#ff3100 86px,#ff2b00 88px,#ff2100 92px,#ff1b00 94px,#ff1100 98px,#ff0000 104px,#be0000 130px,#a30000 146px,#850000 182px,#820000 206px,#950000 238px,#a90000 256px,#ea0000 282px,#fd0000 288px,#ff2400 300px,#ff3200 304px,#ff4a00 312px,#ff5800 316px,#ff9a00 334px,#ffe000 350px,#ffff00 356px,#dcff23 368px,#cfff30 378px,#c9ff36)"></i><i style="background:linear-gradient(90deg,#ccff33 0,#daff25 18px,#efff10 26px,#fffd00 32px,#ffc800 42px,#ff8e00 50px,#ff7200 58px,#ff5600 70px,#ff4900 76px,#ff3b00 82px,#ff3200 86px,#ff2c00 88px,#ff2200 92px,#ff1b00 94px,#ff1100 98px,#ff0b00 100px,#ff0100 104px,#b70000 134px,#a10000 150px,#850000 184px,#840000 208px,#990000 242px,#ac0000 258px,#eb0000 282px,#fe0000 288px,#ff2200 298px,#ff3500 304px,#ff4800 310px,#ff9a00 334px,#ffe000 350px,#feff01 356px,#dcff23 368px,#cfff30 378px,#c8ff37)"></i><i style="background:linear-gradient(90deg,#cbff34 0,#d9ff26 18px,#eeff11 26px,#ffff00 32px,#ffcb00 42px,#ff9100 50px,#ff7600 58px,#ff5b00 70px,#ff4d00 76px,#ff4500 80px,#ff4000 82px,#ff3700 86px,#ff3100 88px,#ff2700 92px,#ff2100 94px,#ff1700 98px,#fc0000 108px,#ba0000 138px,#980000 174px,#8f0000 200px,#9c0000 230px,#b40000 256px,#f20000 282px,#ff0100 286px,#ff2a00 300px,#ff3800 304px,#ff5000 312px,#ff5b00 314px,#ff9e00 334px,#ffe200 350px,#fdff02 356px,#dbff24 368px,#cfff30 378px,#c8ff37)"></i><i style="background:linear-gradient(90deg,#cbff34 0,#daff25 18px,#efff10 28px,#fffd00 32px,#ffc900 42px,#ff9800 50px,#ff7e00 58px,#ff6300 70px,#ff5600 76px,#ff4e00 80px,#ff4a00 82px,#ff4100 86px,#ff3b00 88px,#ff3200 92px,#ff0000 112px,#ca0000 140px,#a90000 176px,#a30000 202px,#b20000 234px,#c80000 256px,#ff0100 282px,#ff3400 300px,#ff4400 304px,#ff5900 312px,#ff6400 314px,#ffa400 334px,#ffe600 350px,#ffff00 356px,#dfff20 366px,#d1ff2e 374px,#c8ff37)"></i><i style="background:linear-gradient(90deg,#caff35 0,#d8ff27 18px,#ecff13 28px,#fffd00 34px,#ffca00 44px,#ffa100 50px,#ff8900 58px,#ff7000 70px,#ff6300 76px,#ff5b00 80px,#ff5700 82px,#ff4e00 86px,#ff4900 88px,#ff4000 92px,#ff0b00 116px,#fd0000 122px,#d90000 142px,#bb0000 182px,#b90000 208px,#cc0000 242px,#de0000 258px,#ff0200 274px,#ff3100 294px,#ff5400 306px,#ff5e00 308px,#ff6500 312px,#ff7000 314px,#ffad00 334px,#ffeb00 350px,#fffe00 354px,#e0ff1f 364px,#d1ff2e 374px,#c7ff38)"></i><i style="background:linear-gradient(90deg,#c9ff36 0,#d6ff29 18px,#ecff13 28px,#fffd00 34px,#ffd400 44px,#ffad00 50px,#ff9700 58px,#ff7f00 70px,#ff6800 82px,#ff6000 86px,#ff5b00 88px,#ff5300 92px,#ff1e00 116px,#fd0000 132px,#e80000 152px,#d20000 186px,#d30000 214px,#ec0000 252px,#ff0300 266px,#ff3600 288px,#ff6300 304px,#ffb700 334px,#fff700 352px,#ffff00 354px,#e4ff1b 362px,#d0ff2f 372px,#c7ff38)"></i><i style="background:linear-gradient(90deg,#c8ff37 0,#d5ff2a 20px,#efff10 32px,#fffd00 36px,#ffc600 48px,#ffb600 52px,#ff9d00 64px,#ff8800 76px,#ff7200 88px,#ff6800 92px,#ff4200 110px,#ff1300 138px,#fd0000 162px,#f00000 194px,#f80000 228px,#ff0400 244px,#ff1500 260px,#ff4e00 288px,#ff6900 298px,#ffc500 334px,#fcff03 352px,#e5ff1a 360px,#cfff30 372px,#c6ff39)"></i><i style="background:linear-gradient(90deg,#c7ff38 0,#d3ff2c 20px,#ebff14 32px,#ffff00 38px,#ffca00 52px,#ffb100 64px,#ff9600 82px,#ff6b00 106px,#ff4600 126px,#ff2f00 146px,#ff1a00 188px,#ff1e00 220px,#ff3300 256px,#ff5f00 282px,#ff9100 304px,#ffd400 334px,#ffff00 350px,#e0ff1f 360px,#cdff32 372px,#c5ff3a)"></i><i style="background:linear-gradient(90deg,#c6ff39 0,#d1ff2e 22px,#e6ff19 34px,#fffd00 42px,#ffdd00 52px,#ffc700 64px,#ff7100 130px,#ff5e00 154px,#ff5000 194px,#ff5900 234px,#ff6900 260px,#ff9a00 294px,#ffe500 334px,#ffff00 346px,#dbff24 360px,#caff35 372px,#c5ff3a)"></i><i style="background:linear-gradient(90deg,#c5ff3a 0,#cdff32 22px,#e4ff1b 36px,#fffd00 48px,#fff000 54px,#ffe000 64px,#ffb400 108px,#ff9500 146px,#ff8700 196px,#ff9100 244px,#ffa000 266px,#ffd400 312px,#fdff02 340px,#d2ff2d 362px,#c6ff39 378px,#c4ff3b)"></i><i style="background:linear-gradient(90deg,#c3ff3c 0,#cbff34 26px,#daff25 38px,#f5ff0a 52px,#fffc00 62px,#ffdf00 100px,#ffc500 152px,#ffbd00 204px,#ffc900 258px,#fff400 314px,#fcff03 326px,#cbff34 362px,#c3ff3c 386px,#c3ff3c)"></i><i style="background:linear-gradient(90deg,#c2ff3d 0,#c8ff37 32px,#e5ff1a 64px,#f8ff07 96px,#fffc00 130px,#fff100 200px,#fffb00 264px,#f9ff06 288px,#ebff14 318px,#c6ff39 362px,#c2ff3d)"></i><i style="background:linear-gradient(90deg,#c2ff3d 0,#c1ff3e 48px,#d5ff2a 98px,#daff25 234px,#d0ff2f 312px,#c1ff3e 348px,#c2ff3d)"></i><i style="background:linear-gradient(90deg,#c2ff3d 0,#b2ff4d 76px,#b2ff4d 110px,#aaff55 222px,#b2ff4d 306px,#aeff51 332px,#b8ff47 364px,#c2ff3d)"></i><i style="background:linear-gradient(90deg,#c2ff3d 0,#a9ff56 52px,#96ff69 82px,#94ff6b 94px,#95ff6a 98px,#7cff83 188px,#7dff82 226px,#90ff6f 294px,#90ff6f 300px,#8dff72 302px,#8fff70 306px,#8eff71 308px,#95ff6a 332px,#b2ff4d 366px,#c2ff3d)"></i><i style="background:linear-gradient(90deg,#c2ff3d 0,#adff52 34px,#82ff7d 74px,#75ff8a 88px,#74ff8b 92px,#72ff8d 94px,#75ff8a 96px,#72ff8d 100px,#77ff88 102px,#74ff8b 106px,#77ff88 108px,#57ffa8 166px,#4dffb2 212px,#6cff93 288px,#67ff98 290px,#6bff94 294px,#65ff9a 294px,#6aff95 300px,#66ff99 300px,#6aff95 306px,#68ff97 308px,#7aff85 330px,#b3ff4c 372px,#c2ff3d)"></i><i style="background:linear-gradient(90deg,#c2ff3d 0,#b0ff4f 26px,#88ff77 58px,#54ffab 88px,#4effb1 94px,#4fffb0 96px,#4affb5 100px,#4fffb0 102px,#4bffb4 106px,#53ffac 106px,#4effb1 112px,#56ffa9 112px,#30ffcf 168px,#23ffdc 208px,#2dffd2 232px,#44ffbb 276px,#45ffba 282px,#46ffb9 282px,#3dffc2 284px,#42ffbd 288px,#38ffc7 290px,#3effc1 294px,#37ffc8 294px,#3fffc0 300px,#3dffc2 302px,#59ffa6 326px,#8eff71 354px,#acff53 370px,#c2ff3d)"></i><i style="background:linear-gradient(90deg,#c2ff3d 0,#b4ff4b 18px,#8fff70 46px,#61ff9e 68px,#2dffd2 92px,#18ffe7 106px,#1cffe3 106px,#14ffeb 112px,#1cffe3 112px,#13ffec 118px,#1affe5 120px,#00feff 142px,#00dcff 184px,#00d4ff 214px,#02fffd 272px,#06fff9 276px,#00fdff 276px,#05fffa 282px,#00faff 284px,#02fffd 288px,#02fffd 292px,#3dffc2 326px,#87ff78 356px,#a6ff59 370px,#c2ff3d 394px,#c2ff3d)"></i><i style="background:linear-gradient(90deg,#c2ff3d 0,#b5ff4a 16px,#92ff6d 40px,#5cffa3 64px,#06fff9 92px,#02fffd 94px,#00f0ff 100px,#00e7ff 102px,#00e1ff 106px,#00d8ff 106px,#00cdff 112px,#00c0ff 112px,#00b3ff 118px,#00a8ff 120px,#0073ff 146px,#0047ff 180px,#0036ff 204px,#0038ff 218px,#0073ff 260px,#0088ff 276px,#0092ff 276px,#009cff 282px,#00aaff 284px,#00b4ff 288px,#00beff 290px,#00c8ff 294px,#00cfff 294px,#00dcff 300px,#00e4ff 302px,#03fffc 312px,#47ffb8 338px,#9fff60 368px,#c1ff3e 392px,#c2ff3d)"></i><i style="background:linear-gradient(90deg,#c2ff3d 0,#b5ff4a 14px,#8fff70 38px,#56ffa9 60px,#1fffe0 76px,#09fff6 82px,#00ffff 84px,#00f3ff 88px,#00e9ff 90px,#00deff 94px,#00d5ff 96px,#00c8ff 100px,#00bdff 102px,#00b2ff 106px,#00a5ff 106px,#0098ff 112px,#008bff 112px,#0056ff 132px,#0020ff 158px,#0000fd 182px,#0000ed 204px,#0000ee 216px,#0002ff 228px,#002aff 252px,#004fff 276px,#005fff 282px,#006dff 284px,#0079ff 288px,#0089ff 290px,#0094ff 294px,#00a1ff 294px,#00b0ff 300px,#00baff 300px,#00c8ff 306px,#00d0ff 306px,#00dcff 312px,#00e5ff 314px,#00ffff 322px,#77ff88 358px,#9bff64 368px,#c0ff3f 392px,#c2ff3d)"></i><i style="background:linear-gradient(90deg,#c2ff3d 0,#b5ff4a 14px,#8eff71 36px,#53ffac 58px,#24ffdb 70px,#01fffe 78px,#00f2ff 82px,#00e7ff 84px,#00daff 88px,#00d1ff 90px,#00c2ff 94px,#00b8ff 96px,#00a9ff 100px,#009fff 102px,#0093ff 106px,#008aff 106px,#0046ff 128px,#000aff 156px,#0000fb 164px,#0000d7 190px,#0000cd 212px,#0000db 224px,#0002ff 244px,#0039ff 276px,#0046ff 282px,#005aff 288px,#0065ff 290px,#0072ff 294px,#007eff 294px,#008eff 300px,#009aff 300px,#00a8ff 306px,#00b2ff 306px,#00c0ff 312px,#00c7ff 312px,#00d5ff 318px,#00e2ff 320px,#00feff 328px,#6aff95 356px,#94ff6b 368px,#b9ff46 386px,#c2ff3d)"></i><i style="background:linear-gradient(90deg,#c2ff3d 0,#b6ff49 12px,#8cff73 34px,#52ffad 54px,#15ffea 70px,#00feff 76px,#00dfff 82px,#00d3ff 84px,#00c5ff 88px,#00bdff 90px,#00acff 94px,#00a4ff 96px,#0094ff 100px,#0089ff 102px,#0034ff 130px,#0000ff 152px,#0000ca 184px,#0000ba 206px,#0000bc 216px,#0000d9 232px,#0000ff 254px,#0030ff 280px,#0049ff 288px,#005dff 294px,#0065ff 294px,#0077ff 300px,#0081ff 300px,#0091ff 306px,#009aff 306px,#00a9ff 312px,#00b4ff 314px,#00c0ff 318px,#00cdff 320px,#01fffe 334px,#8dff72 366px,#adff52 380px,#c2ff3d 394px,#c2ff3d)"></i><i style="background:linear-gradient(90deg,#c2ff3d 0,#b7ff48 12px,#8dff72 32px,#55ffaa 52px,#20ffdf 66px,#00fdff 72px,#00bdff 86px,#00a0ff 94px,#0074ff 106px,#001fff 134px,#0000fe 146px,#0000ce 172px,#0000b2 194px,#0000ac 214px,#0000bd 226px,#0000ed 250px,#0001ff 262px,#002eff 284px,#004fff 294px,#0068ff 300px,#0076ff 302px,#0080ff 306px,#008aff 308px,#0097ff 312px,#00a2ff 314px,#00afff 318px,#00ffff 336px,#89ff76 366px,#a9ff56 380px,#c1ff3e 394px,#c2ff3d)"></i><i style="background:linear-gradient(90deg,#c2ff3d 0,#b6ff49 12px,#8aff75 32px,#4effb1 52px,#17ffe8 66px,#00feff 70px,#00b2ff 86px,#0076ff 102px,#0015ff 134px,#0000fd 142px,#0000ce 166px,#0000a9 190px,#00009e 212px,#0000ab 222px,#0000e2 250px,#0002ff 268px,#002aff 286px,#0074ff 306px,#00d0ff 328px,#02fffd 340px,#86ff79 366px,#a6ff59 378px,#c1ff3e 392px,#c2ff3d)"></i><i style="background:linear-gradient(90deg,#c2ff3d 0,#b6ff49 12px,#8aff75 32px,#51ffae 50px,#0ffff0 66px,#01fffe 68px,#00a6ff 88px,#005eff 108px,#000cff 134px,#0000fc 140px,#0000c9 162px,#0000a0 190px,#000093 212px,#0000a0 222px,#0000d6 248px,#0002ff 272px,#0028ff 288px,#00b5ff 324px,#00feff 340px,#84ff7b 366px,#a5ff5a 378px,#c1ff3e 392px,#c2ff3d)"></i><i style="background:linear-gradient(90deg,#c2ff3d 0,#b8ff47 10px,#89ff76 32px,#4effb1 50px,#0afff5 66px,#01fffe 68px,#00a4ff 86px,#0048ff 112px,#0002ff 134px,#0000c1 162px,#000097 190px,#00008a 210px,#000093 220px,#0000d0 250px,#0002ff 276px,#0025ff 288px,#00b2ff 326px,#00fdff 342px,#82ff7d 366px,#a4ff5b 378px,#c1ff3e 392px,#c2ff3d)"></i><i style="background:linear-gradient(90deg,#c2ff3d 0,#b7ff48 10px,#88ff77 32px,#4cffb3 50px,#07fff8 66px,#00fcff 68px,#00a1ff 86px,#002fff 118px,#0000ff 134px,#0000c4 158px,#000093 188px,#000084 208px,#00008a 218px,#0000ce 252px,#0001ff 278px,#0024ff 290px,#00b2ff 326px,#00ffff 342px,#81ff7e 366px,#a4ff5b 378px,#c1ff3e 392px,#c2ff3d)"></i><i style="background:linear-gradient(90deg,#c2ff3d 0,#b7ff48 10px,#88ff77 32px,#4bffb4 50px,#06fff9 66px,#00fbff 68px,#00a0ff 86px,#0029ff 120px,#0000ff 132px,#0000c1 158px,#00008f 188px,#000080 208px,#000086 218px,#0000ca 252px,#0001ff 278px,#0026ff 290px,#00b0ff 326px,#00ffff 342px,#7dff82 366px,#9dff62 376px,#c1ff3e 392px,#c2ff3d)"></i><i style="background:linear-gradient(90deg,#c2ff3d 0,#b6ff49 12px,#89ff76 32px,#50ffaf 48px,#0cfff3 64px,#00fcff 68px,#00a0ff 86px,#0030ff 118px,#0000ff 132px,#0000c1 158px,#00008f 188px,#000080 208px,#000086 218px,#0000ca 252px,#0001ff 278px,#0026ff 290px,#00b1ff 326px,#01fffe 342px,#7dff82 366px,#9dff62 376px,#c1ff3e 392px,#c2ff3d)"></i><i style="background:linear-gradient(90deg,#c2ff3d 0,#b6ff49 12px,#8aff75 32px,#52ffad 48px,#0ffff0 64px,#00ffff 68px,#00a2ff 86px,#004aff 110px,#0000ff 134px,#0000c4 158px,#000092 188px,#000083 208px,#000089 218px,#0000cd 252px,#0001ff 278px,#0024ff 290px,#00adff 324px,#00feff 342px,#7fff80 366px,#9eff61 376px,#c1ff3e 392px,#c2ff3d)"></i><i style="background:linear-gradient(90deg,#c2ff3d 0,#b6ff49 12px,#8cff73 32px,#56ffa9 48px,#14ffeb 64px,#00ffff 68px,#00aaff 86px,#0062ff 104px,#0004ff 134px,#0000f9 138px,#0000c4 160px,#000097 188px,#000089 210px,#000092 220px,#0000cf 250px,#0001ff 276px,#0025ff 288px,#00aeff 324px,#01fffe 340px,#81ff7e 366px,#a2ff5d 376px,#c1ff3e 392px,#c2ff3d)"></i><i style="background:linear-gradient(90deg,#c2ff3d 0,#b7ff48 12px,#8cff73 32px,#57ffa8 50px,#1bffe4 64px,#00fdff 70px,#00c5ff 82px,#00a9ff 88px,#0072ff 102px,#000eff 132px,#0000fd 138px,#0000ca 162px,#00009e 190px,#000092 210px,#00009d 222px,#0000d7 250px,#0001ff 272px,#0028ff 288px,#006eff 306px,#007eff 310px,#009dff 318px,#00acff 320px,#00feff 338px,#85ff7a 366px,#a4ff5b 376px,#c1ff3e 392px,#c2ff3d)"></i><i style="background:linear-gradient(90deg,#c2ff3d 0,#b6ff49 12px,#8eff71 34px,#5bffa4 50px,#25ffda 64px,#01fffe 72px,#00eaff 76px,#00ddff 78px,#00ccff 82px,#00c0ff 84px,#00b0ff 88px,#00a5ff 90px,#0097ff 94px,#0089ff 98px,#0028ff 126px,#0000ff 142px,#0000cf 164px,#0000a8 190px,#00009d 212px,#0000a9 222px,#0000e0 250px,#0002ff 268px,#0029ff 286px,#0060ff 300px,#006bff 302px,#0079ff 306px,#0081ff 306px,#0092ff 312px,#009aff 312px,#00abff 318px,#00b6ff 320px,#00c5ff 324px,#00d0ff 326px,#00feff 336px,#44ffbb 350px,#89ff76 366px,#a8ff57 378px,#c2ff3d 394px,#c2ff3d)"></i><i style="background:linear-gradient(90deg,#c2ff3d 0,#b6ff49 14px,#90ff6f 34px,#5dffa2 52px,#2effd1 66px,#17ffe8 70px,#07fff8 74px,#00f9ff 76px,#00ecff 78px,#00dcff 82px,#00d3ff 84px,#00c1ff 88px,#00b7ff 90px,#00a6ff 94px,#009dff 96px,#008dff 100px,#0081ff 102px,#0035ff 126px,#0000fe 146px,#0000ce 172px,#0000b2 194px,#0000ab 214px,#0000bc 226px,#0000ec 250px,#0003ff 262px,#002bff 282px,#003eff 288px,#0050ff 292px,#0053ff 294px,#005dff 294px,#006fff 300px,#0079ff 300px,#008aff 306px,#0094ff 306px,#00a4ff 312px,#00adff 312px,#00bdff 318px,#00c6ff 318px,#00d7ff 324px,#00e2ff 326px,#00edff 328px,#00fcff 332px,#08fff7 334px,#8eff71 366px,#aaff55 378px,#c2ff3d 394px,#c2ff3d)"></i><i style="background:linear-gradient(90deg,#c2ff3d 0,#b5ff4a 14px,#93ff6c 36px,#63ff9c 54px,#3dffc2 66px,#28ffd7 70px,#1cffe3 72px,#0dfff2 76px,#04fffb 78px,#00f8ff 80px,#00f1ff 82px,#00e7ff 84px,#00d7ff 88px,#00ccff 90px,#00bcff 94px,#00b1ff 96px,#00a2ff 100px,#0097ff 102px,#008bff 106px,#0082ff 106px,#0073ff 112px,#0068ff 114px,#0030ff 132px,#0000ff 154px,#0000cd 186px,#0000bd 208px,#0000c2 218px,#0000fe 250px,#002aff 276px,#003bff 282px,#0045ff 284px,#0051ff 288px,#005bff 290px,#0069ff 294px,#0076ff 294px,#0086ff 300px,#0093ff 300px,#00a2ff 306px,#00aeff 306px,#00bcff 312px,#00c7ff 312px,#00d5ff 318px,#00deff 318px,#00edff 324px,#00f5ff 324px,#03fffc 328px,#0efff1 330px,#93ff6c 366px,#afff50 380px,#c2ff3d 394px,#c2ff3d)"></i><i style="background:linear-gradient(90deg,#c2ff3d 0,#b6ff49 16px,#94ff6b 38px,#62ff9d 60px,#3cffc3 70px,#2fffd0 74px,#25ffda 76px,#1cffe3 78px,#0cfff3 82px,#03fffc 84px,#00f3ff 88px,#00e9ff 90px,#00dbff 94px,#00d0ff 96px,#00c2ff 100px,#00b6ff 102px,#00abff 106px,#009fff 106px,#0091ff 112px,#0087ff 112px,#004fff 132px,#0019ff 160px,#0000fe 178px,#0000e9 198px,#0000e7 214px,#0000fb 228px,#0006ff 234px,#004aff 276px,#005aff 282px,#0065ff 284px,#0072ff 288px,#0080ff 290px,#008cff 294px,#009aff 294px,#00a9ff 300px,#00b7ff 300px,#00c4ff 306px,#00d0ff 306px,#00dcff 312px,#00e6ff 312px,#00f3ff 318px,#00fcff 318px,#0afff5 324px,#14ffeb 326px,#1cffe3 328px,#29ffd6 332px,#9cff63 366px,#bcff43 388px,#c2ff3d)"></i><i style="background:linear-gradient(90deg,#c2ff3d 0,#b3ff4c 20px,#93ff6c 44px,#68ff97 64px,#53ffac 70px,#45ffba 74px,#40ffbf 76px,#36ffc9 78px,#2cffd3 82px,#24ffdb 84px,#18ffe7 88px,#0ffff0 90px,#03fffc 94px,#00f6ff 96px,#00edff 100px,#00e3ff 102px,#00daff 106px,#00d0ff 106px,#00c4ff 112px,#00b9ff 112px,#00abff 118px,#00a3ff 120px,#006dff 146px,#0040ff 180px,#002fff 202px,#0030ff 216px,#0082ff 276px,#0089ff 276px,#0094ff 282px,#00a0ff 284px,#00aaff 288px,#00b7ff 290px,#00c1ff 294px,#00ccff 294px,#00d9ff 300px,#00e4ff 300px,#00efff 306px,#00f9ff 306px,#04fffb 312px,#0dfff2 312px,#17ffe8 318px,#1fffe0 318px,#2affd5 324px,#32ffcd 326px,#a2ff5d 366px,#c1ff3e 392px,#c2ff3d)"></i><i style="background:linear-gradient(90deg,#c2ff3d 0,#b0ff4f 26px,#8dff72 54px,#6dff92 70px,#4fffb0 82px,#48ffb7 84px,#40ffbf 88px,#38ffc7 90px,#32ffcd 94px,#2affd5 96px,#23ffdc 100px,#1affe5 104px,#00ffff 120px,#00d1ff 154px,#00b3ff 194px,#00b0ff 216px,#00f3ff 286px,#02fffd 292px,#0efff1 296px,#14ffeb 300px,#1bffe4 300px,#23ffdc 306px,#2affd5 306px,#32ffcd 312px,#39ffc6 314px,#40ffbf 318px,#47ffb8 320px,#abff54 368px,#c2ff3d)"></i><i style="background:linear-gradient(90deg,#c2ff3d 0,#aeff51 36px,#8cff73 68px,#5effa1 100px,#55ffaa 112px,#57ffa8 114px,#33ffcc 164px,#25ffda 206px,#2cffd3 228px,#49ffb6 282px,#46ffb9 284px,#53ffac 300px,#b4ff4b 372px,#c2ff3d)"></i><i style="background:linear-gradient(90deg,#c2ff3d 0,#a9ff56 64px,#9aff65 94px,#95ff6a 126px,#86ff79 204px,#94ff6b 288px,#95ff6a 304px,#a5ff5a 342px,#bcff43 380px,#c2ff3d)"></i><i style="background:linear-gradient(90deg,#c2ff3d 0,#beff41 60px,#c3ff3c 76px,#c7ff38 80px,#c7ff38 82px,#cbff34 84px,#cbff34 88px,#d0ff2f 90px,#d0ff2f 94px,#d5ff2a 96px,#d6ff29 100px,#daff25 104px,#e3ff1c 198px,#daff25 288px,#d4ff2b 300px,#d0ff2f 302px,#cfff30 306px,#cbff34 308px,#caff35 312px,#c6ff39 314px,#c6ff39 318px,#c3ff3c 322px,#bcff43 344px,#c2ff3d)"></i><i style="background:linear-gradient(90deg,#c2ff3d 0,#c6ff39 34px,#d3ff2c 48px,#d9ff26 54px,#deff21 60px,#e3ff1c 62px,#e4ff1b 66px,#e9ff16 68px,#eaff15 70px,#f0ff0f 72px,#f1ff0e 76px,#f7ff08 78px,#f9ff06 82px,#fffe00 84px,#fffc00 88px,#fff400 90px,#fff200 94px,#ffeb00 96px,#ffe800 100px,#ffe200 102px,#ffc600 142px,#ffbb00 200px,#ffc700 256px,#ffde00 288px,#ffe500 294px,#ffec00 296px,#ffef00 300px,#fff600 300px,#fff900 306px,#feff01 306px,#fbff04 312px,#f4ff0b 312px,#f1ff0e 318px,#ecff13 318px,#e9ff16 324px,#e4ff1b 326px,#e2ff1d 328px,#ddff22 332px,#c6ff39 358px,#c2ff3d)"></i><i style="background:linear-gradient(90deg,#c3ff3c 0,#cbff34 26px,#d9ff26 38px,#eeff11 48px,#f4ff0b 50px,#f8ff07 54px,#feff01 56px,#fffd00 60px,#fff700 62px,#fff400 66px,#ffee00 66px,#ffec00 70px,#ffe500 72px,#ffe200 76px,#ffda00 78px,#ffd700 82px,#ffce00 84px,#ffca00 88px,#ffc100 90px,#ffbc00 94px,#ffb300 96px,#ffae00 100px,#ffa500 102px,#ffa100 106px,#ff9900 106px,#ff9400 112px,#ff8d00 112px,#ff6c00 140px,#ff5800 188px,#ff5c00 226px,#ff6e00 258px,#ff8f00 282px,#ff9600 284px,#ff9d00 288px,#ffa500 290px,#ffaa00 294px,#ffb300 294px,#ffba00 300px,#ffc300 300px,#ffc900 306px,#ffd200 306px,#ffd700 312px,#ffe000 312px,#ffe500 318px,#ffec00 318px,#fff200 324px,#fff800 324px,#fcff03 330px,#f7ff08 334px,#f1ff0e 336px,#cdff32 360px,#c4ff3b 378px,#c2ff3d)"></i><i style="background:linear-gradient(90deg,#c4ff3b 0,#cdff32 22px,#e2ff1d 36px,#f6ff09 44px,#ffff00 46px,#fff700 48px,#ffef00 50px,#ffe900 54px,#ffe100 56px,#ffde00 60px,#ffd700 60px,#ffd200 66px,#ffcb00 66px,#ffc700 70px,#ffbf00 72px,#ffbb00 76px,#ffb300 78px,#ffae00 82px,#ffa500 84px,#ff9f00 88px,#ff9500 90px,#ff8f00 94px,#ff8400 96px,#ff7d00 100px,#ff7300 102px,#ff6d00 106px,#ff6300 106px,#ff5c00 112px,#ff5300 112px,#ff4a00 118px,#ff4200 122px,#ff2400 144px,#ff0c00 186px,#ff0e00 216px,#ff2400 254px,#ff4600 276px,#ff4f00 278px,#ff5600 282px,#ff5f00 284px,#ff6900 288px,#ff7300 290px,#ff7a00 294px,#ff8500 294px,#ff8d00 300px,#ff9800 300px,#ffa000 306px,#ffa900 306px,#ffb100 312px,#ffba00 312px,#ffc200 318px,#ffca00 318px,#ffd200 324px,#ffd900 324px,#ffe000 328px,#ffe600 330px,#ffee00 334px,#fff600 336px,#fcff03 342px,#d5ff2a 360px,#c7ff38 374px,#c4ff3b)"></i><i style="background:linear-gradient(90deg,#c6ff39 0,#d0ff2f 22px,#e6ff19 34px,#fffd00 42px,#ffe100 48px,#ffd700 50px,#ffce00 54px,#ffc700 56px,#ffc100 60px,#ffba00 60px,#ffb400 66px,#ffac00 66px,#ffa700 70px,#ff9f00 72px,#ff9a00 76px,#ff9100 78px,#ff8c00 82px,#ff8200 84px,#ff7b00 88px,#ff7100 90px,#ff6a00 94px,#ff6000 96px,#ff5700 100px,#ff4e00 102px,#ff4700 106px,#ff3f00 106px,#ff3700 112px,#ff2e00 114px,#ff0300 140px,#f60000 154px,#e20000 188px,#e50000 218px,#fe0000 254px,#ff1b00 270px,#ff3500 282px,#ff3f00 286px,#ff4500 288px,#ff4e00 290px,#ff5600 294px,#ff6000 294px,#ff6b00 300px,#ff7500 300px,#ff7e00 306px,#ff8800 306px,#ff9100 312px,#ff9b00 312px,#ffa400 318px,#ffad00 318px,#ffb600 324px,#ffbe00 324px,#ffc600 328px,#ffcd00 330px,#ffd800 334px,#ffe000 336px,#ffe700 340px,#fff200 342px,#fdff02 348px,#deff21 358px,#caff35 372px,#c4ff3b)"></i><i style="background:linear-gradient(90deg,#c7ff38 0,#d3ff2c 20px,#edff12 32px,#feff01 38px,#ffe600 44px,#ffd500 46px,#ffcd00 48px,#ffc100 50px,#ffb700 54px,#ffb000 56px,#ffa800 60px,#ffa100 60px,#ff9900 66px,#ff9100 66px,#ff8c00 70px,#ff8400 72px,#ff7e00 76px,#ff7600 78px,#ff6f00 82px,#ff6700 84px,#ff5f00 88px,#ff5600 90px,#ff4d00 94px,#ff4500 96px,#ff3c00 100px,#ff3400 102px,#ff2d00 106px,#ff2400 108px,#fe0000 126px,#e30000 144px,#c70000 184px,#c60000 210px,#dc0000 248px,#ef0000 262px,#ff0100 270px,#ff2e00 288px,#ff3900 292px,#ff3e00 294px,#ff4500 294px,#ff5100 300px,#ff5a00 300px,#ff6500 306px,#ff6d00 306px,#ff7800 312px,#ff8100 312px,#ff8c00 318px,#ff9400 318px,#ff9f00 324px,#ffa700 324px,#ffb100 328px,#ffb800 330px,#ffc400 334px,#ffce00 336px,#ffd600 340px,#ffe200 342px,#fffd00 350px,#e4ff1b 358px,#cfff30 370px,#c5ff3a)"></i><i style="background:linear-gradient(90deg,#c8ff37 0,#d4ff2b 18px,#e5ff1a 28px,#fffd00 36px,#ffd800 44px,#ffc500 46px,#ffbb00 48px,#ffaf00 50px,#ffa300 54px,#ff9c00 56px,#ff9300 60px,#ff8c00 60px,#ff8300 66px,#ff7c00 66px,#ff7600 70px,#ff6e00 72px,#ff6800 76px,#ff6000 78px,#ff5900 82px,#ff5100 84px,#ff4900 88px,#ff4100 90px,#ff3800 94px,#ff2f00 96px,#ff0100 118px,#d40000 142px,#b50000 180px,#b10000 206px,#c20000 238px,#d60000 258px,#ff0100 276px,#ff2d00 294px,#ff3f00 300px,#ff4800 302px,#ff5100 306px,#ff5900 306px,#ff6500 312px,#ff6d00 312px,#ff7900 318px,#ff8100 318px,#ff8d00 324px,#ff9500 324px,#ff9f00 328px,#ffa900 330px,#ffb400 334px,#ffbe00 336px,#ffc700 340px,#ffd500 342px,#fdff02 354px,#e8ff17 360px,#d1ff2e 370px,#c6ff39)"></i><i style="background:linear-gradient(90deg,#c9ff36 0,#d7ff28 18px,#eaff15 28px,#feff01 34px,#ffd700 42px,#ffad00 48px,#ff9f00 50px,#ff9300 54px,#ff8900 56px,#ff8200 60px,#ff7900 62px,#ff7100 66px,#ff6b00 66px,#ff6400 70px,#ff5d00 72px,#ff5600 76px,#ff5000 78px,#ff4800 82px,#ff4000 84px,#ff3900 88px,#ff3100 90px,#ff0000 112px,#c80000 140px,#a70000 176px,#a00000 202px,#af0000 234px,#c60000 256px,#ff0200 282px,#ff4400 306px,#ff4c00 308px,#ff5600 312px,#ff6000 314px,#ff6a00 318px,#ff7400 320px,#ff7f00 324px,#ff8800 326px,#ff9100 328px,#ff9b00 330px,#ffa700 334px,#ffb500 338px,#ffeb00 350px,#ffff00 354px,#e6ff19 362px,#d2ff2d 372px,#c7ff38)"></i><i style="background:linear-gradient(90deg,#caff35 0,#d7ff28 18px,#e8ff17 26px,#fffe00 32px,#ffcf00 42px,#ff9400 50px,#ff8600 54px,#ff7c00 56px,#ff7500 60px,#ff6c00 62px,#ff6400 66px,#ff5c00 68px,#ff5700 70px,#ff5000 72px,#ff4a00 76px,#ff4300 78px,#ff3c00 82px,#ff3300 86px,#ff0000 106px,#bb0000 140px,#990000 176px,#920000 202px,#a00000 232px,#b70000 256px,#f60000 282px,#ff0200 286px,#ff4c00 312px,#ff5a00 316px,#ff7400 324px,#ff8100 326px,#ff9d00 334px,#ffe400 350px,#fffe00 356px,#e1ff1e 364px,#d1ff2e 374px,#c7ff38)"></i><i style="background:linear-gradient(90deg,#cbff34 0,#d9ff26 18px,#eaff15 26px,#ffff00 32px,#ffce00 40px,#ff8b00 50px,#ff7100 58px,#ff5f00 64px,#ff4600 74px,#ff2600 88px,#ff0000 104px,#b40000 138px,#930000 168px,#870000 196px,#8f0000 224px,#ab0000 254px,#dc0000 276px,#ff0000 288px,#ff5900 318px,#ff9700 334px,#ffe000 350px,#fdff02 356px,#dbff24 368px,#ceff31 378px,#c8ff37)"></i><i style="background:linear-gradient(90deg,#cbff34 0,#daff25 18px,#ecff13 26px,#fffc00 32px,#ffcb00 40px,#ff8600 50px,#ff6b00 58px,#ff5800 64px,#ff4000 74px,#ff2200 88px,#fd0000 102px,#ae0000 138px,#8e0000 168px,#800000 194px,#880000 222px,#a50000 254px,#d40000 274px,#ff0000 290px,#ff6a00 324px,#ffa800 340px,#ffe900 352px,#fffe00 356px,#dcff23 368px,#cfff30 378px,#c8ff37)"></i><i style="background:linear-gradient(90deg,#ccff33 0,#dbff24 18px,#edff12 26px,#ffff00 30px,#ffd600 38px,#ff8400 50px,#ff6a00 58px,#ff4a00 70px,#ff2200 88px,#fd0000 102px,#ae0000 138px,#8e0000 168px,#810000 194px,#890000 222px,#a50000 254px,#d40000 274px,#ff0000 290px,#ff6900 324px,#ffa700 340px,#ffe800 352px,#fffd00 356px,#dbff24 368px,#cdff32 382px,#c8ff37)"></i><i style="background:linear-gradient(90deg,#ccff33 0,#dbff24 18px,#edff12 26px,#ffff00 30px,#ffd600 38px,#ff8600 50px,#ff6900 58px,#ff4d00 70px,#ff2500 88px,#fe0000 104px,#b30000 138px,#930000 168px,#860000 196px,#8f0000 224px,#ab0000 254px,#db0000 276px,#ff0000 288px,#ff6c00 324px,#ffa900 340px,#ffe800 352px,#fffd00 356px,#dbff24 368px,#ceff31 382px,#c9ff36)"></i><i style="background:linear-gradient(90deg,#ccff33 0,#dbff24 18px,#edff12 26px,#feff01 30px,#ffd800 38px,#ff8a00 50px,#ff6e00 58px,#ff5300 70px,#ff2b00 88px,#fe0000 106px,#b90000 140px,#980000 176px,#910000 200px,#9e0000 230px,#b60000 256px,#f50000 282px,#ff0400 288px,#ff5d00 318px,#ffa500 338px,#ffde00 350px,#ffff00 356px,#daff25 368px,#cdff32 382px,#c9ff36)"></i><i style="background:linear-gradient(90deg,#ccff33 0,#dbff24 18px,#f2ff0d 28px,#fffe00 32px,#ffca00 42px,#ff9100 50px,#ff7700 58px,#ff5400 74px,#ff4300 82px,#ff0300 110px,#ed0000 120px,#c40000 140px,#a40000 178px,#9e0000 204px,#ae0000 236px,#c40000 256px,#ff0100 282px,#ff5300 312px,#ff9f00 334px,#ffe200 350px,#fdff02 356px,#dcff23 368px,#cfff30 378px,#c8ff37)"></i><i style="background:linear-gradient(90deg,#cbff34 0,#daff25 18px,#f3ff0c 28px,#fffd00 32px,#ffca00 42px,#ff9b00 50px,#ff7a00 62px,#ff5e00 76px,#ff5100 82px,#ff4800 86px,#ff4300 88px,#ff3900 92px,#ff0500 114px,#f90000 120px,#d10000 142px,#b20000 180px,#ae0000 206px,#c00000 238px,#d30000 258px,#ff0000 278px,#ff2a00 294px,#ff4e00 306px,#ff5800 308px,#ff5f00 312px,#ff6c00 316px,#ffb700 338px,#fff100 352px,#ffff00 356px,#dfff20 366px,#d1ff2e 374px,#c8ff37)"></i><i style="background:linear-gradient(90deg,#cbff34 0,#daff25 20px,#f6ff09 30px,#fffd00 34px,#ffcd00 44px,#ffa700 50px,#ff8900 62px,#ff6f00 76px,#ff6200 82px,#ff5b00 84px,#ff5500 88px,#ff4d00 90px,#ff4600 94px,#ff3e00 96px,#ff3600 100px,#ff2d00 104px,#fe0000 124px,#e00000 144px,#c30000 182px,#c20000 210px,#d70000 246px,#e80000 260px,#ff0200 272px,#ff2b00 288px,#ff3a00 294px,#ff4500 296px,#ff4c00 300px,#ff5500 302px,#ff5e00 306px,#ff6600 308px,#ff6f00 312px,#ff7a00 314px,#ffc400 340px,#ffff00 354px,#e2ff1d 364px,#d1ff2e 374px,#c8ff37)"></i><i style="background:linear-gradient(90deg,#caff35 0,#d8ff27 20px,#f4ff0b 32px,#ffff00 34px,#ffd200 44px,#ffb300 52px,#ff9600 64px,#ff8300 76px,#ff7800 82px,#ff7100 84px,#ff6b00 88px,#ff6300 90px,#ff5c00 94px,#ff5400 96px,#ff4d00 100px,#ff4500 102px,#ff4000 106px,#ff3800 108px,#ff0200 136px,#e00000 180px,#dc0000 208px,#f00000 244px,#ff0100 260px,#ff3000 282px,#ff4000 288px,#ff4900 290px,#ff5000 294px,#ff5900 296px,#ff6100 300px,#ff6a00 302px,#ff7200 306px,#ff7b00 308px,#ff8300 312px,#ff8d00 314px,#ffd000 340px,#fdff02 354px,#e1ff1e 362px,#d0ff2f 372px,#c7ff38)"></i><i style="background:linear-gradient(90deg,#c9ff36 0,#d7ff28 20px,#f2ff0d 32px,#ffff00 36px,#ffc300 52px,#ffa400 68px,#ff9100 82px,#ff8900 86px,#ff8500 88px,#ff7e00 90px,#ff7900 94px,#ff7100 96px,#ff6b00 100px,#ff6300 102px,#ff5f00 106px,#ff5700 108px,#ff5100 112px,#ff4900 114px,#ff2200 138px,#ff0600 178px,#ff0200 206px,#ff1400 246px,#ff2500 262px,#ff4e00 282px,#ff5600 284px,#ff5e00 288px,#ff6700 290px,#ff6d00 294px,#ff7500 296px,#ff7d00 300px,#ff8500 302px,#ff8c00 306px,#ff9300 308px,#ff9a00 312px,#ffa500 316px,#ffe900 344px,#fdff02 352px,#e2ff1d 360px,#cfff30 372px,#c7ff38)"></i><i style="background:linear-gradient(90deg,#c9ff36 0,#d6ff29 22px,#f1ff0e 34px,#fffe00 40px,#ffd600 52px,#ffb700 74px,#ffa400 88px,#ff9b00 94px,#ff7d00 110px,#ff5700 140px,#ff4000 184px,#ff4200 218px,#ff5600 256px,#ff8300 286px,#ffa800 304px,#fff800 344px,#fdff02 348px,#dcff23 362px,#cdff32 374px,#c6ff39)"></i><i style="background:linear-gradient(90deg,#c8ff37 0,#d4ff2b 22px,#eeff11 36px,#fffe00 44px,#ffe700 52px,#ffbe00 94px,#ffa800 118px,#ff9100 150px,#ff8500 196px,#ff9000 244px,#ff9f00 266px,#ffbf00 296px,#fdff02 342px,#d5ff2a 364px,#c9ff36 378px,#c6ff39)"></i><i style="background:linear-gradient(90deg,#c7ff38 0,#d1ff2e 24px,#edff12 42px,#ffff00 50px,#fff100 72px,#ffc800 152px,#ffc100 206px,#ffcd00 260px,#fffe00 326px,#e8ff17 348px,#cdff32 366px,#c5ff3a)"></i><i style="background:linear-gradient(90deg,#c5ff3a 0,#cfff30 26px,#eeff11 54px,#f6ff09 114px,#fffe00 154px,#fffb00 224px,#fcff03 264px,#ecff13 312px,#e1ff1e 342px,#c8ff37 372px,#c4ff3b)"></i><i style="background:linear-gradient(90deg,#c4ff3b 0,#cdff32 32px,#d9ff26 54px,#c7ff38 110px,#c8ff37 294px,#d1ff2e 328px,#cfff30 350px,#c4ff3b 382px,#c3ff3c)"></i><i style="background:linear-gradient(90deg,#c3ff3c 0,#c6ff39 48px,#b6ff49 82px,#a1ff5e 110px,#92ff6d 162px,#8eff71 224px,#9aff65 282px,#a6ff59 300px,#aaff55 302px,#abff54 306px,#afff50 308px,#b0ff4f 312px,#b4ff4b 314px,#c1ff3e 338px,#c4ff3b 364px,#c3ff3c)"></i><i style="background:linear-gradient(90deg,#c2ff3d 0,#bcff43 46px,#adff52 70px,#a0ff5f 82px,#9bff64 86px,#9aff65 88px,#94ff6b 92px,#93ff6c 94px,#8dff72 98px,#79ff86 120px,#60ff9f 178px,#5cffa3 220px,#76ff89 284px,#7fff80 294px,#84ff7b 296px,#86ff79 300px,#8cff73 302px,#8eff71 306px,#93ff6c 308px,#95ff6a 312px,#9aff65 314px,#9cff63 318px,#a1ff5e 320px,#a2ff5d 324px,#a7ff58 326px,#b9ff46 350px,#c2ff3d 376px,#c2ff3d)"></i><i style="background:linear-gradient(90deg,#c2ff3d 0,#baff45 38px,#a5ff5a 66px,#96ff69 76px,#8fff70 80px,#85ff7a 88px,#7fff80 90px,#7cff83 94px,#76ff89 96px,#73ff8c 100px,#6dff92 104px,#55ffaa 124px,#38ffc7 172px,#2effd1 212px,#52ffad 282px,#59ffa6 288px,#5fffa0 292px,#61ff9e 294px,#67ff98 296px,#6bff94 300px,#71ff8e 302px,#75ff8a 306px,#7bff84 308px,#7eff81 312px,#83ff7c 314px,#86ff79 318px,#8cff73 320px,#8fff70 324px,#95ff6a 326px,#afff50 350px,#beff41 370px,#c2ff3d)"></i><i style="background:linear-gradient(90deg,#c2ff3d 0,#b6ff49 36px,#a2ff5d 60px,#88ff77 76px,#7fff80 80px,#73ff8c 88px,#6dff92 90px,#68ff97 94px,#62ff9d 96px,#5effa1 100px,#58ffa7 104px,#3bffc4 124px,#1affe5 166px,#0afff5 204px,#0ffff0 224px,#37ffc8 282px,#40ffbf 288px,#47ffb8 292px,#4affb5 294px,#50ffaf 296px,#55ffaa 300px,#5bffa4 302px,#5fffa0 306px,#66ff99 308px,#6aff95 312px,#70ff8f 314px,#74ff8b 318px,#7aff85 320px,#7dff82 324px,#84ff7b 326px,#abff54 354px,#bcff43 372px,#c2ff3d)"></i><i style="background:linear-gradient(90deg,#c2ff3d 0,#b4ff4b 34px,#99ff66 60px,#7bff84 76px,#71ff8e 82px,#64ff9b 88px,#5dffa2 92px,#36ffc9 116px,#0ffff0 154px,#00fdff 180px,#00f4ff 214px,#03fffc 234px,#26ffd9 282px,#38ffc7 294px,#3fffc0 296px,#43ffbc 300px,#4affb5 302px,#4fffb0 306px,#55ffaa 308px,#59ffa6 312px,#60ff9f 314px,#64ff9b 318px,#6aff95 320px,#6fff90 324px,#76ff89 326px,#abff54 358px,#bbff44 376px,#c2ff3d)"></i><i style="background:linear-gradient(90deg,#c2ff3d 0,#b3ff4c 30px,#99ff66 54px,#7dff82 70px,#5affa5 88px,#35ffca 108px,#0afff5 144px,#00fcff 158px,#00e6ff 198px,#00e6ff 218px,#02fffd 252px,#1dffe2 284px,#36ffc9 300px,#40ffbf 304px,#4dffb2 312px,#54ffab 314px,#adff52 364px,#bfff40 386px,#c2ff3d)"></i><i style="background:linear-gradient(90deg,#c2ff3d 0,#b4ff4b 28px,#93ff6c 54px,#68ff97 76px,#48ffb7 92px,#13ffec 126px,#00fdff 146px,#00dcff 190px,#00d8ff 216px,#02fffd 268px,#19ffe6 288px,#6fff90 334px,#aeff51 366px,#c1ff3e 392px,#c2ff3d)"></i><i style="background:linear-gradient(90deg,#c2ff3d 0,#b2ff4d 26px,#91ff6e 52px,#62ff9d 76px,#3affc5 96px,#02fffd 136px,#00d8ff 182px,#00cfff 212px,#00e0ff 234px,#02fffd 276px,#1bffe4 294px,#68ff97 334px,#adff52 368px,#c2ff3d 394px,#c2ff3d)"></i><i style="background:linear-gradient(90deg,#c2ff3d 0,#b3ff4c 24px,#92ff6d 50px,#6aff95 70px,#3dffc2 92px,#01fffe 134px,#00daff 174px,#00cbff 204px,#00cfff 222px,#01fffe 278px,#1dffe2 296px,#62ff9d 334px,#aaff55 368px,#c2ff3d 394px,#c2ff3d)"></i><i style="background:linear-gradient(90deg,#c2ff3d 0,#b3ff4c 22px,#91ff6e 48px,#60ff9f 74px,#32ffcd 98px,#00feff 132px,#00daff 170px,#00c9ff 202px,#00cbff 220px,#02fffd 280px,#3dffc2 318px,#7bff84 348px,#aaff55 368px,#c2ff3d 394px,#c2ff3d)"></i><i style="background:linear-gradient(90deg,#c2ff3d 0,#b3ff4c 22px,#91ff6e 48px,#5effa1 74px,#30ffcf 98px,#00feff 132px,#00d9ff 168px,#00c7ff 200px,#00c8ff 218px,#02fffd 282px,#52ffad 330px,#a8ff57 368px,#c2ff3d 394px,#c2ff3d)"></i><i style="background:linear-gradient(90deg,#c2ff3d 0,#b3ff4c 20px,#91ff6e 46px,#5effa1 72px,#32ffcd 96px,#00feff 130px,#00d9ff 166px,#00c5ff 200px,#00c6ff 218px,#02fffd 284px,#52ffad 332px,#a9ff56 370px,#c2ff3d 394px,#c2ff3d)"></i><i style="background:linear-gradient(90deg,#c2ff3d 0,#b4ff4b 20px,#90ff6f 46px,#5dffa2 72px,#33ffcc 94px,#00fdff 130px,#00d8ff 166px,#00c4ff 200px,#00c5ff 218px,#03fffc 284px,#50ffaf 332px,#92ff6d 360px,#abff54 372px,#c2ff3d)"></i><i style="background:linear-gradient(90deg,#c2ff3d 0,#b4ff4b 20px,#8fff70 46px,#5dffa2 72px,#33ffcc 94px,#00feff 130px,#00d8ff 166px,#00c4ff 198px,#00c4ff 218px,#02fffd 284px,#50ffaf 332px,#8fff70 358px,#a9ff56 370px,#c2ff3d 394px,#c2ff3d)"></i><i style="background:linear-gradient(90deg,#c2ff3d 0,#b3ff4c 20px,#8fff70 46px,#5dffa2 72px,#33ffcc 94px,#00fdff 130px,#00d8ff 166px,#00c4ff 200px,#00c5ff 218px,#01fffe 284px,#50ffaf 332px,#8cff73 358px,#a9ff56 370px,#c2ff3d 394px,#c2ff3d)"></i><i style="background:linear-gradient(90deg,#c2ff3d 0,#b3ff4c 20px,#90ff6f 46px,#61ff9e 72px,#34ffcb 94px,#00feff 130px,#00d9ff 166px,#00c5ff 200px,#00c6ff 218px,#02fffd 284px,#53ffac 332px,#8fff70 358px,#aaff55 372px,#c2ff3d)"></i><i style="background:linear-gradient(90deg,#c2ff3d 0,#b3ff4c 20px,#8fff70 48px,#62ff9d 72px,#34ffcb 96px,#00feff 132px,#00daff 168px,#00c7ff 200px,#00c8ff 218px,#03fffc 282px,#55ffaa 332px,#92ff6d 360px,#aaff55 372px,#c2ff3d)"></i><i style="background:linear-gradient(90deg,#c2ff3d 0,#b4ff4b 20px,#90ff6f 48px,#64ff9b 72px,#34ffcb 96px,#00fdff 134px,#00daff 170px,#00c9ff 202px,#00cbff 220px,#02fffd 280px,#4affb5 326px,#84ff7b 354px,#a8ff57 370px,#c2ff3d 394px,#c2ff3d)"></i><i style="background:linear-gradient(90deg,#c2ff3d 0,#b3ff4c 20px,#8fff70 50px,#60ff9f 74px,#2dffd2 102px,#00ffff 134px,#00dcff 172px,#00ccff 204px,#00cfff 220px,#01fffe 278px,#1cffe3 296px,#66ff99 338px,#a9ff56 370px,#c2ff3d)"></i><i style="background:linear-gradient(90deg,#c2ff3d 0,#b2ff4d 22px,#8eff71 52px,#60ff9f 76px,#2effd1 104px,#01fffe 136px,#00daff 180px,#00cfff 210px,#00dbff 230px,#02fffd 274px,#1cffe3 294px,#74ff8b 344px,#abff54 370px,#c2ff3d)"></i><i style="background:linear-gradient(90deg,#c2ff3d 0,#b1ff4e 24px,#89ff76 56px,#3cffc3 100px,#0afff5 136px,#00fcff 148px,#00ddff 192px,#00daff 216px,#02fffd 266px,#1affe5 288px,#81ff7e 348px,#acff53 370px,#c2ff3d)"></i><i style="background:linear-gradient(90deg,#c2ff3d 0,#afff50 26px,#89ff76 58px,#3effc1 102px,#0efff1 142px,#00fdff 160px,#00e8ff 198px,#00e9ff 218px,#02fffd 250px,#1fffe0 286px,#85ff7a 348px,#adff52 370px,#c2ff3d)"></i><i style="background:linear-gradient(90deg,#c2ff3d 0,#aeff51 30px,#86ff79 64px,#47ffb8 104px,#1affe5 142px,#00feff 182px,#00f7ff 214px,#03fffc 232px,#2cffd3 286px,#92ff6d 354px,#afff50 372px,#c2ff3d)"></i><i style="background:linear-gradient(90deg,#c2ff3d 0,#acff53 32px,#8aff75 64px,#4cffb3 108px,#26ffd9 146px,#0bfff4 194px,#0afff5 218px,#38ffc7 284px,#95ff6a 354px,#b0ff4f 372px,#c2ff3d)"></i><i style="background:linear-gradient(90deg,#c2ff3d 0,#abff54 36px,#87ff78 72px,#4dffb2 120px,#2dffd2 166px,#1fffe0 206px,#26ffd9 228px,#4affb5 286px,#7aff85 328px,#a1ff5e 358px,#b4ff4b 374px,#c2ff3d)"></i><i style="background:linear-gradient(90deg,#c2ff3d 0,#a8ff57 42px,#87ff78 78px,#56ffa9 134px,#3cffc3 188px,#3bffc4 220px,#5fffa0 288px,#97ff68 348px,#b4ff4b 374px,#c2ff3d)"></i><i style="background:linear-gradient(90deg,#c2ff3d 0,#a4ff5b 52px,#6cff93 134px,#56ffa9 194px,#57ffa8 224px,#74ff8b 290px,#97ff68 344px,#b7ff48 376px,#c2ff3d)"></i><i style="background:linear-gradient(90deg,#c2ff3d 0,#9bff64 76px,#77ff88 170px,#72ff8d 220px,#8aff75 292px,#97ff68 334px,#a6ff59 354px,#b9ff46 378px,#c2ff3d)"></i><i style="background:linear-gradient(90deg,#c2ff3d 0,#a1ff5e 82px,#9fff60 124px,#93ff6c 212px,#9dff62 288px,#9cff63 304px,#9dff62 328px,#a5ff5a 348px,#bcff43 382px,#c2ff3d)"></i><i style="background:linear-gradient(90deg,#c2ff3d 0,#aaff55 70px,#abff54 94px,#b1ff4e 110px,#b3ff4c 130px,#b0ff4f 238px,#b1ff4e 282px,#aeff51 286px,#afff50 288px,#acff53 292px,#aaff55 300px,#a7ff58 302px,#a5ff5a 322px,#a6ff59 338px,#b0ff4f 360px,#c2ff3d)"></i><i style="background:linear-gradient(90deg,#c2ff3d 0,#b0ff4f 66px,#b1ff4e 88px,#bbff44 116px,#b9ff46 288px,#b4ff4b 298px,#b2ff4d 306px,#afff50 310px,#abff54 332px,#b0ff4f 354px,#c2ff3d)"></i><i style="background:linear-gradient(90deg,#c2ff3d 0,#b5ff4a 60px,#b7ff48 88px,#bfff40 116px,#bdff42 294px,#b4ff4b 316px,#b0ff4f 334px,#b2ff4d 354px,#c2ff3d)"></i><i style="background:linear-gradient(90deg,#c2ff3d 0,#b8ff47 60px,#c2ff3d 128px,#c0ff3f 294px,#b5ff4a 334px,#b5ff4a 354px,#c2ff3d)"></i></div>
<div class="hm" style="left:462px;top:870px;width:148px;height:139px"><i style="background:#c7ff38"></i><i style="background:#c7ff38"></i><i style="background:#c7ff38"></i><i style="background:#c6ff39"></i><i style="background:#c6ff39"></i><i style="background:#c5ff3a"></i><i style="background:#c4ff3b"></i><i style="background:#c3ff3c"></i><i style="background:#c2ff3d"></i><i style="background:#c1ff3e"></i><i style="background:#bfff40"></i><i style="background:#beff41"></i><i style="background:#b9ff46"></i><i style="background:#aaff55"></i><i style="background:#92ff6d"></i><i style="background:#79ff86"></i><i style="background:#61ff9e"></i><i style="background:#47ffb8"></i><i style="background:#2bffd4"></i><i style="background:#11ffee"></i><i style="background:#00feff"></i><i style="background:#00f1ff"></i><i style="background:#00e5ff"></i><i style="background:#00dbff"></i><i style="background:#00d3ff"></i><i style="background:#00cdff"></i><i style="background:#00c8ff"></i><i style="background:#00c4ff"></i><i style="background:#00c2ff"></i><i style="background:#00c4ff"></i><i style="background:#00c8ff"></i><i style="background:#00ceff"></i><i style="background:#00d6ff"></i><i style="background:#00e1ff"></i><i style="background:#00efff"></i><i style="background:#04fffb"></i><i style="background:#2cffd3"></i><i style="background:#64ff9b"></i><i style="background:#9dff62"></i><i style="background:#daff25"></i><i style="background:#ffdf00"></i><i style="background:#ff9300"></i><i style="background:#ff4100"></i><i style="background:#fd0000"></i><i style="background:#db0000"></i><i style="background:#c20000"></i><i style="background:#af0000"></i><i style="background:#9c0000"></i><i style="background:#900000"></i><i style="background:#910000"></i><i style="background:#9f0000"></i><i style="background:#b10000"></i><i style="background:#c70000"></i><i style="background:#e50000"></i><i style="background:#ff0d00"></i><i style="background:#ff4b00"></i><i style="background:#ff8c00"></i><i style="background:#ffc600"></i><i style="background:#f5ff0a"></i><i style="background:#99ff66"></i><i style="background:#31ffce"></i><i style="background:#00ceff"></i><i style="background:#0066ff"></i><i style="background:#0012ff"></i><i style="background:#0000e5"></i><i style="background:#0000c6"></i><i style="background:#0000b2"></i><i style="background:#0000a3"></i><i style="background:#000096"></i><i style="background:#00008f"></i><i style="background:#000090"></i><i style="background:#000099"></i><i style="background:#0000a7"></i><i style="background:#0000b6"></i><i style="background:#0000cd"></i><i style="background:#0000ee"></i><i style="background:#0023ff"></i><i style="background:#007fff"></i><i style="background:#00e7ff"></i><i style="background:#47ffb8"></i><i style="background:#a8ff57"></i><i style="background:#fff400"></i><i style="background:#ff8500"></i><i style="background:#ff2100"></i><i style="background:#ed0000"></i><i style="background:#ce0000"></i><i style="background:#b80000"></i><i style="background:#a90000"></i><i style="background:#9b0000"></i><i style="background:#910000"></i><i style="background:#8f0000"></i><i style="background:#950000"></i><i style="background:#a10000"></i><i style="background:#b30000"></i><i style="background:#e20000"></i><i style="background:#ff1e00"></i><i style="background:#ff5d00"></i><i style="background:#ff9c00"></i><i style="background:#ffdc00"></i><i style="background:#eeff11"></i><i style="background:#c7ff38"></i><i style="background:#a4ff5b"></i><i style="background:#81ff7e"></i><i style="background:#57ffa8"></i><i style="background:#2dffd2"></i><i style="background:#0afff5"></i><i style="background:#00f5ff"></i><i style="background:#00e5ff"></i><i style="background:#00d9ff"></i><i style="background:#00d0ff"></i><i style="background:#00caff"></i><i style="background:#00c6ff"></i><i style="background:#00c3ff"></i><i style="background:#00c2ff"></i><i style="background:#00c3ff"></i><i style="background:#00c7ff"></i><i style="background:#00cbff"></i><i style="background:#00d1ff"></i><i style="background:#00dcff"></i><i style="background:#00eaff"></i><i style="background:#00f9ff"></i><i style="background:#0dfff2"></i><i style="background:#24ffdb"></i><i style="background:#3fffc0"></i><i style="background:#5affa5"></i><i style="background:#73ff8c"></i><i style="background:#8fff70"></i><i style="background:#a9ff56"></i><i style="background:#baff45"></i><i style="background:#beff41"></i><i style="background:#c0ff3f"></i><i style="background:#c2ff3d"></i><i style="background:#c3ff3c"></i><i style="background:#c4ff3b"></i><i style="background:#c5ff3a"></i><i style="background:#c6ff39"></i><i style="background:#c6ff39"></i><i style="background:#c7ff38"></i><i style="background:#c7ff38"></i></div>
<div class="hm" style="left:642px;top:402px;width:12px;height:231px;background:linear-gradient(#800000 0.0%,#bf0000 6.2%,#ff0000 12.5%,#ff4000 18.8%,#ff8000 25.0%,#ffbf00 31.2%,#ffff00 37.5%,#bfff40 43.8%,#80ff80 50.0%,#40ffbf 56.2%,#00ffff 62.5%,#00bfff 68.8%,#0080ff 75.0%,#0040ff 81.2%,#0000ff 87.5%,#0000bf 93.8%,#000080 100.0%)"></div>
<svg class="ov" width="685" height="1023" viewBox="0 0 685 1023" font-family="Liberation Sans, sans-serif">
<rect x="21.5" y="32.5" width="394.5" height="137.5" rx="4" fill="#fdeadb"/>
<rect x="21.5" y="40.55" width="394.5" height="2.5" fill="#7a4421"/>
<rect x="21.5" y="64.75" width="394.5" height="2.5" fill="#7a4421"/>
<rect x="21.5" y="88.95" width="394.5" height="2.5" fill="#7a4421"/>
<rect x="21.5" y="113.15" width="394.5" height="2.5" fill="#7a4421"/>
<rect x="21.5" y="137.35" width="394.5" height="2.5" fill="#7a4421"/>
<rect x="21.5" y="161.55" width="394.5" height="2.5" fill="#7a4421"/>
<rect x="38.5" y="39.5" width="114.8" height="44.5" rx="9" fill="#fff"/>
<text x="44.2" y="57.5" font-size="16.0" text-anchor="start" fill="#1a1a1a" textLength="102.5" lengthAdjust="spacingAndGlyphs">(a) Long-wire</text>
<text x="58.5" y="76.8" font-size="16.0" text-anchor="start" fill="#1a1a1a" textLength="74.3" lengthAdjust="spacingAndGlyphs">resonator</text>
<path d="M21.5 14V41M415.5 14V41" stroke="#000" stroke-width="1" stroke-dasharray="1.6,1.6" fill="none"/>
<path d="M30 21.5H407" stroke="#2a2a2a" stroke-width="1.1"/>
<path d="M21.50,21.50 Q27.00,20.10 33.00,17.30 Q32.00,21.50 33.00,25.70 Q27.00,22.90 21.50,21.50Z" fill="#000"/>
<path d="M415.50,21.50 Q410.00,20.10 404.00,17.30 Q405.00,21.50 404.00,25.70 Q410.00,22.90 415.50,21.50Z" fill="#000"/>
<text x="211.6" y="11.8" font-size="16.5" text-anchor="start" fill="#1a1a1a">L</text>
<text x="220.4" y="15.8" font-size="10.0" text-anchor="start" fill="#444" font-family="Liberation Serif, serif">1</text>
<path d="M416 41.5H435.5M416 65.5H435.5" stroke="#000" stroke-width="1" stroke-dasharray="2,1.6" fill="none"/>
<path d="M427 41V66" stroke="#777" stroke-width="1"/>
<path d="M427.00,41.30 Q425.60,35.80 423.05,31.00 Q427.00,32.00 430.95,31.00 Q428.40,35.80 427.00,41.30Z" fill="#000"/>
<path d="M427.00,65.70 Q425.60,71.20 423.05,76.00 Q427.00,75.00 430.95,76.00 Q428.40,71.20 427.00,65.70Z" fill="#000"/>
<text x="430.2" y="58.4" font-size="16.0" text-anchor="start" fill="#1a1a1a">a</text>
<path d="M347.00,113.20 Q345.60,107.70 342.60,101.40 Q347.00,102.40 351.40,101.40 Q348.40,107.70 347.00,113.20Z" fill="#000"/>
<path d="M347.00,115.60 Q345.60,121.10 342.60,126.60 Q347.00,125.60 351.40,126.60 Q348.40,121.10 347.00,115.60Z" fill="#000"/>
<text x="354.3" y="107.5" font-size="15.5" text-anchor="start" fill="#1a1a1a">w</text>
<rect x="463.5" y="28" width="146" height="146.8" fill="#fdeadb"/>
<rect x="463.5" y="39.05" width="146" height="2.5" fill="#7a4421"/>
<rect x="463.5" y="63.15" width="146" height="2.5" fill="#7a4421"/>
<rect x="463.5" y="87.25" width="146" height="2.5" fill="#7a4421"/>
<rect x="463.5" y="111.35" width="146" height="2.5" fill="#7a4421"/>
<rect x="463.5" y="135.45" width="146" height="2.5" fill="#7a4421"/>
<rect x="463.5" y="159.55" width="146" height="2.5" fill="#7a4421"/>
<rect x="458" y="27.6" width="5" height="147.4" fill="#e3a27a"/>
<rect x="457.8" y="27.6" width="1.2" height="147.4" fill="#7a4421"/>
<rect x="610" y="27.6" width="5" height="147.4" fill="#e3a27a"/>
<rect x="613.8" y="27.6" width="1.2" height="147.4" fill="#7a4421"/>
<rect x="462.6" y="28" width="1.6" height="147" fill="#fff"/>
<rect x="462.6" y="31.3" width="1.6" height="18.0" fill="#7a4421"/>
<rect x="462.6" y="55.4" width="1.6" height="18.0" fill="#7a4421"/>
<rect x="462.6" y="79.5" width="1.6" height="18.0" fill="#7a4421"/>
<rect x="462.6" y="103.6" width="1.6" height="18.0" fill="#7a4421"/>
<rect x="462.6" y="127.7" width="1.6" height="18.0" fill="#7a4421"/>
<rect x="462.6" y="151.8" width="1.6" height="18.0" fill="#7a4421"/>
<rect x="608.8" y="28" width="1.6" height="147" fill="#fff"/>
<rect x="608.8" y="31.3" width="1.6" height="18.0" fill="#7a4421"/>
<rect x="608.8" y="55.4" width="1.6" height="18.0" fill="#7a4421"/>
<rect x="608.8" y="79.5" width="1.6" height="18.0" fill="#7a4421"/>
<rect x="608.8" y="103.6" width="1.6" height="18.0" fill="#7a4421"/>
<rect x="608.8" y="127.7" width="1.6" height="18.0" fill="#7a4421"/>
<rect x="608.8" y="151.8" width="1.6" height="18.0" fill="#7a4421"/>
<rect x="478.2" y="39.8" width="115.4" height="45.4" rx="9" fill="#fff"/>
<text x="482.3" y="57.6" font-size="16.0" text-anchor="start" fill="#1a1a1a" textLength="107.3" lengthAdjust="spacingAndGlyphs">(b) Short-wire</text>
<text x="498.6" y="77.0" font-size="16.0" text-anchor="start" fill="#1a1a1a" textLength="73.6" lengthAdjust="spacingAndGlyphs">resonator</text>
<path d="M463.6 13V35M609.5 13V28" stroke="#000" stroke-width="1" stroke-dasharray="1.6,1.6" fill="none"/>
<path d="M472 20.6H601" stroke="#2a2a2a" stroke-width="1.1"/>
<path d="M463.60,20.60 Q469.10,19.20 475.60,16.40 Q474.60,20.60 475.60,24.80 Q469.10,22.00 463.60,20.60Z" fill="#000"/>
<path d="M609.50,20.60 Q604.00,19.20 597.50,16.40 Q598.50,20.60 597.50,24.80 Q604.00,22.00 609.50,20.60Z" fill="#000"/>
<text x="533.8" y="11.8" font-size="16.5" text-anchor="start" fill="#1a1a1a">L</text>
<text x="541.8" y="15.8" font-size="10.0" text-anchor="start" fill="#444">2</text>
<path d="M611 40.3H629.5M611 64.3H629.5" stroke="#000" stroke-width="1" stroke-dasharray="2,1.6" fill="none"/>
<path d="M625.2 40V65" stroke="#555" stroke-width="1"/>
<path d="M625.20,40.30 Q623.80,34.80 621.25,30.00 Q625.20,31.00 629.15,30.00 Q626.60,34.80 625.20,40.30Z" fill="#000"/>
<path d="M625.20,64.40 Q623.80,69.90 621.25,74.70 Q625.20,73.70 629.15,74.70 Q626.60,69.90 625.20,64.40Z" fill="#000"/>
<text x="628.6" y="57.0" font-size="16.0" text-anchor="start" fill="#1a1a1a">a</text>
<path d="M609.6 104.3H630.5M609.6 122.2H630.5" stroke="#000" stroke-width="1" stroke-dasharray="2,1.6" fill="none"/>
<path d="M609.2 104.3V122.2" stroke="#000" stroke-width="1"/>
<path d="M625.3 104V122.5" stroke="#000" stroke-width="1"/>
<path d="M625.30,104.30 Q623.90,98.80 621.35,94.00 Q625.30,95.00 629.25,94.00 Q626.70,98.80 625.30,104.30Z" fill="#000"/>
<path d="M625.30,122.20 Q623.90,127.70 621.35,132.50 Q625.30,131.50 629.25,132.50 Q626.70,127.70 625.30,122.20Z" fill="#000"/>
<text x="628.7" y="119.2" font-size="16.0" text-anchor="start" fill="#1a1a1a">b</text>
<path d="M576.40,112.00 Q575.00,106.50 572.00,100.70 Q576.40,101.70 580.80,100.70 Q577.80,106.50 576.40,112.00Z" fill="#000"/>
<path d="M576.40,114.20 Q575.00,119.70 572.00,126.20 Q576.40,125.20 580.80,126.20 Q577.80,119.70 576.40,114.20Z" fill="#000"/>
<text x="583.2" y="107.0" font-size="15.5" text-anchor="start" fill="#1a1a1a">w</text>
<path d="M608.5 168.6H615.2" stroke="#000" stroke-width="1"/>
<path d="M608.60,168.60 Q603.10,167.20 598.10,164.40 Q599.10,168.60 598.10,172.80 Q603.10,170.00 608.60,168.60Z" fill="#000"/>
<path d="M615.20,168.60 Q620.70,167.20 625.70,164.40 Q624.70,168.60 625.70,172.80 Q620.70,170.00 615.20,168.60Z" fill="#000"/>
<text x="618.6" y="160.9" font-size="16.0" text-anchor="start" fill="#1a1a1a">t</text>
<rect x="22.5" y="193.5" width="394.0" height="138.0" fill="none" stroke="#262626" stroke-opacity="0.6" stroke-width="1"/>
<text x="40.8" y="343.5" font-size="11.0" text-anchor="middle" fill="#262626">−200</text>
<text x="84.6" y="343.5" font-size="11.0" text-anchor="middle" fill="#262626">−150</text>
<text x="128.5" y="343.5" font-size="11.0" text-anchor="middle" fill="#262626">−100</text>
<text x="172.3" y="343.5" font-size="11.0" text-anchor="middle" fill="#262626">−50</text>
<text x="219.5" y="343.5" font-size="11.0" text-anchor="middle" fill="#262626">0</text>
<text x="263.3" y="343.5" font-size="11.0" text-anchor="middle" fill="#262626">50</text>
<text x="307.1" y="343.5" font-size="11.0" text-anchor="middle" fill="#262626">100</text>
<text x="351.0" y="343.5" font-size="11.0" text-anchor="middle" fill="#262626">150</text>
<text x="394.8" y="343.5" font-size="11.0" text-anchor="middle" fill="#262626">200</text>
<text x="20.5" y="218.1" font-size="11.0" text-anchor="end" fill="#262626">20</text>
<text x="20.5" y="242.3" font-size="11.0" text-anchor="end" fill="#262626">10</text>
<text x="20.5" y="266.5" font-size="11.0" text-anchor="end" fill="#262626">0</text>
<text x="20.5" y="290.7" font-size="11.0" text-anchor="end" fill="#262626">−10</text>
<text x="20.5" y="314.9" font-size="11.0" text-anchor="end" fill="#262626">−20</text>
<path d="M44.2 331.5v-3.5M44.2 193.5v3.5M88.0 331.5v-3.5M88.0 193.5v3.5M131.9 331.5v-3.5M131.9 193.5v3.5M175.7 331.5v-3.5M175.7 193.5v3.5M219.5 331.5v-3.5M219.5 193.5v3.5M263.3 331.5v-3.5M263.3 193.5v3.5M307.1 331.5v-3.5M307.1 193.5v3.5M351.0 331.5v-3.5M351.0 193.5v3.5M394.8 331.5v-3.5M394.8 193.5v3.5M22.5 214.1h3.5M416.5 214.1h-3.5M22.5 238.3h3.5M416.5 238.3h-3.5M22.5 262.5h3.5M416.5 262.5h-3.5M22.5 286.7h3.5M416.5 286.7h-3.5M22.5 310.9h3.5M416.5 310.9h-3.5" stroke="#262626" stroke-opacity="0.4" stroke-width="0.8"/>
<rect x="462.5" y="193.5" width="147.0" height="138.0" fill="none" stroke="#262626" stroke-opacity="0.6" stroke-width="1"/>
<text x="484.9" y="343.5" font-size="11.0" text-anchor="middle" fill="#262626">−20</text>
<text x="536.1" y="343.5" font-size="11.0" text-anchor="middle" fill="#262626">0</text>
<text x="583.9" y="343.5" font-size="11.0" text-anchor="middle" fill="#262626">20</text>
<text x="460.5" y="228.8" font-size="11.0" text-anchor="end" fill="#262626">20</text>
<text x="460.5" y="266.5" font-size="11.0" text-anchor="end" fill="#262626">0</text>
<text x="460.5" y="304.2" font-size="11.0" text-anchor="end" fill="#262626">−20</text>
<path d="M488.3 331.5v-3.5M488.3 193.5v3.5M536.1 331.5v-3.5M536.1 193.5v3.5M583.9 331.5v-3.5M583.9 193.5v3.5M462.5 224.8h3.5M609.5 224.8h-3.5M462.5 262.5h3.5M609.5 262.5h-3.5M462.5 300.2h3.5M609.5 300.2h-3.5" stroke="#262626" stroke-opacity="0.4" stroke-width="0.8"/>
<rect x="38.8" y="202.9" width="99.5" height="22.2" rx="9" fill="#fff"/>
<text x="43.1" y="218.7" font-size="16.0" text-anchor="start" fill="#1a1a1a" textLength="82.4" lengthAdjust="spacingAndGlyphs">(c) Mode 1</text>
<rect x="481.4" y="202.4" width="99.3" height="22.4" rx="9" fill="#fff"/>
<text x="488.4" y="218.7" font-size="16.0" text-anchor="start" fill="#1a1a1a" textLength="83.6" lengthAdjust="spacingAndGlyphs">(d) Mode 1</text>
<circle cx="425.85" cy="207.70" r="6.85" fill="#0000b4"/>
<path d="M421.15 207.70h9.4" stroke="#fff" stroke-width="2.0"/>
<circle cx="425.85" cy="230.20" r="6.85" fill="#0000b4"/>
<path d="M421.15 230.20h9.4" stroke="#fff" stroke-width="2.0"/>
<circle cx="425.85" cy="252.70" r="6.85" fill="#0000b4"/>
<path d="M421.15 252.70h9.4" stroke="#fff" stroke-width="2.0"/>
<circle cx="425.85" cy="275.20" r="6.85" fill="#e60000"/>
<path d="M421.45 275.20h8.8M425.85 270.80v8.8" stroke="#fff" stroke-width="1.9"/>
<circle cx="425.85" cy="297.70" r="6.85" fill="#e60000"/>
<path d="M421.45 297.70h8.8M425.85 293.30v8.8" stroke="#fff" stroke-width="1.9"/>
<circle cx="425.85" cy="320.20" r="6.85" fill="#e60000"/>
<path d="M421.45 320.20h8.8M425.85 315.80v8.8" stroke="#fff" stroke-width="1.9"/>
<circle cx="619.10" cy="205.90" r="6.85" fill="#0000b4"/>
<path d="M614.40 205.90h9.4" stroke="#fff" stroke-width="2.0"/>
<circle cx="619.10" cy="228.40" r="6.85" fill="#0000b4"/>
<path d="M614.40 228.40h9.4" stroke="#fff" stroke-width="2.0"/>
<circle cx="619.10" cy="250.90" r="6.85" fill="#0000b4"/>
<path d="M614.40 250.90h9.4" stroke="#fff" stroke-width="2.0"/>
<circle cx="619.10" cy="273.40" r="6.85" fill="#e60000"/>
<path d="M614.70 273.40h8.8M619.10 269.00v8.8" stroke="#fff" stroke-width="1.9"/>
<circle cx="619.10" cy="295.90" r="6.85" fill="#e60000"/>
<path d="M614.70 295.90h8.8M619.10 291.50v8.8" stroke="#fff" stroke-width="1.9"/>
<circle cx="619.10" cy="318.40" r="6.85" fill="#e60000"/>
<path d="M614.70 318.40h8.8M619.10 314.00v8.8" stroke="#fff" stroke-width="1.9"/>
<rect x="22.5" y="363.5" width="394.0" height="138.0" fill="none" stroke="#262626" stroke-opacity="0.6" stroke-width="1"/>
<text x="40.8" y="513.5" font-size="11.0" text-anchor="middle" fill="#262626">−200</text>
<text x="84.6" y="513.5" font-size="11.0" text-anchor="middle" fill="#262626">−150</text>
<text x="128.5" y="513.5" font-size="11.0" text-anchor="middle" fill="#262626">−100</text>
<text x="172.3" y="513.5" font-size="11.0" text-anchor="middle" fill="#262626">−50</text>
<text x="219.5" y="513.5" font-size="11.0" text-anchor="middle" fill="#262626">0</text>
<text x="263.3" y="513.5" font-size="11.0" text-anchor="middle" fill="#262626">50</text>
<text x="307.1" y="513.5" font-size="11.0" text-anchor="middle" fill="#262626">100</text>
<text x="351.0" y="513.5" font-size="11.0" text-anchor="middle" fill="#262626">150</text>
<text x="394.8" y="513.5" font-size="11.0" text-anchor="middle" fill="#262626">200</text>
<text x="20.5" y="388.1" font-size="11.0" text-anchor="end" fill="#262626">20</text>
<text x="20.5" y="412.3" font-size="11.0" text-anchor="end" fill="#262626">10</text>
<text x="20.5" y="436.5" font-size="11.0" text-anchor="end" fill="#262626">0</text>
<text x="20.5" y="460.7" font-size="11.0" text-anchor="end" fill="#262626">−10</text>
<text x="20.5" y="484.9" font-size="11.0" text-anchor="end" fill="#262626">−20</text>
<path d="M44.2 501.5v-3.5M44.2 363.5v3.5M88.0 501.5v-3.5M88.0 363.5v3.5M131.9 501.5v-3.5M131.9 363.5v3.5M175.7 501.5v-3.5M175.7 363.5v3.5M219.5 501.5v-3.5M219.5 363.5v3.5M263.3 501.5v-3.5M263.3 363.5v3.5M307.1 501.5v-3.5M307.1 363.5v3.5M351.0 501.5v-3.5M351.0 363.5v3.5M394.8 501.5v-3.5M394.8 363.5v3.5M22.5 384.1h3.5M416.5 384.1h-3.5M22.5 408.3h3.5M416.5 408.3h-3.5M22.5 432.5h3.5M416.5 432.5h-3.5M22.5 456.7h3.5M416.5 456.7h-3.5M22.5 480.9h3.5M416.5 480.9h-3.5" stroke="#262626" stroke-opacity="0.4" stroke-width="0.8"/>
<rect x="462.5" y="363.5" width="147.0" height="138.0" fill="none" stroke="#262626" stroke-opacity="0.6" stroke-width="1"/>
<text x="484.9" y="513.5" font-size="11.0" text-anchor="middle" fill="#262626">−20</text>
<text x="536.1" y="513.5" font-size="11.0" text-anchor="middle" fill="#262626">0</text>
<text x="583.9" y="513.5" font-size="11.0" text-anchor="middle" fill="#262626">20</text>
<text x="460.5" y="398.8" font-size="11.0" text-anchor="end" fill="#262626">20</text>
<text x="460.5" y="436.5" font-size="11.0" text-anchor="end" fill="#262626">0</text>
<text x="460.5" y="474.2" font-size="11.0" text-anchor="end" fill="#262626">−20</text>
<path d="M488.3 501.5v-3.5M488.3 363.5v3.5M536.1 501.5v-3.5M536.1 363.5v3.5M583.9 501.5v-3.5M583.9 363.5v3.5M462.5 394.8h3.5M609.5 394.8h-3.5M462.5 432.5h3.5M609.5 432.5h-3.5M462.5 470.2h3.5M609.5 470.2h-3.5" stroke="#262626" stroke-opacity="0.4" stroke-width="0.8"/>
<rect x="39.1" y="372.0" width="99.5" height="21.9" rx="9" fill="#fff"/>
<text x="45.8" y="387.8" font-size="16.0" text-anchor="start" fill="#1a1a1a" textLength="83.2" lengthAdjust="spacingAndGlyphs">(e) Mode 2</text>
<rect x="480.9" y="372.4" width="99.1" height="21.5" rx="9" fill="#fff"/>
<text x="488.0" y="388.3" font-size="16.0" text-anchor="start" fill="#1a1a1a" textLength="79.2" lengthAdjust="spacingAndGlyphs">(f) Mode 2</text>
<circle cx="425.30" cy="375.60" r="6.85" fill="#0000b4"/>
<path d="M420.60 375.60h9.4" stroke="#fff" stroke-width="2.0"/>
<circle cx="425.30" cy="398.10" r="6.85" fill="#0000b4"/>
<path d="M420.60 398.10h9.4" stroke="#fff" stroke-width="2.0"/>
<circle cx="425.30" cy="420.60" r="6.85" fill="#e60000"/>
<path d="M420.90 420.60h8.8M425.30 416.20v8.8" stroke="#fff" stroke-width="1.9"/>
<circle cx="425.30" cy="443.10" r="6.85" fill="#e60000"/>
<path d="M420.90 443.10h8.8M425.30 438.70v8.8" stroke="#fff" stroke-width="1.9"/>
<circle cx="425.30" cy="465.60" r="6.85" fill="#0000b4"/>
<path d="M420.60 465.60h9.4" stroke="#fff" stroke-width="2.0"/>
<circle cx="425.30" cy="488.10" r="6.85" fill="#0000b4"/>
<path d="M420.60 488.10h9.4" stroke="#fff" stroke-width="2.0"/>
<circle cx="618.70" cy="375.20" r="6.85" fill="#0000b4"/>
<path d="M614.00 375.20h9.4" stroke="#fff" stroke-width="2.0"/>
<circle cx="618.70" cy="397.70" r="6.85" fill="#0000b4"/>
<path d="M614.00 397.70h9.4" stroke="#fff" stroke-width="2.0"/>
<circle cx="618.70" cy="420.20" r="6.85" fill="#e60000"/>
<path d="M614.30 420.20h8.8M618.70 415.80v8.8" stroke="#fff" stroke-width="1.9"/>
<circle cx="618.70" cy="442.70" r="6.85" fill="#e60000"/>
<path d="M614.30 442.70h8.8M618.70 438.30v8.8" stroke="#fff" stroke-width="1.9"/>
<circle cx="618.70" cy="465.20" r="6.85" fill="#0000b4"/>
<path d="M614.00 465.20h9.4" stroke="#fff" stroke-width="2.0"/>
<circle cx="618.70" cy="487.70" r="6.85" fill="#0000b4"/>
<path d="M614.00 487.70h9.4" stroke="#fff" stroke-width="2.0"/>
<rect x="22.5" y="532.5" width="394.0" height="138.0" fill="none" stroke="#262626" stroke-opacity="0.6" stroke-width="1"/>
<text x="40.8" y="682.5" font-size="11.0" text-anchor="middle" fill="#262626">−200</text>
<text x="84.6" y="682.5" font-size="11.0" text-anchor="middle" fill="#262626">−150</text>
<text x="128.5" y="682.5" font-size="11.0" text-anchor="middle" fill="#262626">−100</text>
<text x="172.3" y="682.5" font-size="11.0" text-anchor="middle" fill="#262626">−50</text>
<text x="219.5" y="682.5" font-size="11.0" text-anchor="middle" fill="#262626">0</text>
<text x="263.3" y="682.5" font-size="11.0" text-anchor="middle" fill="#262626">50</text>
<text x="307.1" y="682.5" font-size="11.0" text-anchor="middle" fill="#262626">100</text>
<text x="351.0" y="682.5" font-size="11.0" text-anchor="middle" fill="#262626">150</text>
<text x="394.8" y="682.5" font-size="11.0" text-anchor="middle" fill="#262626">200</text>
<text x="20.5" y="557.1" font-size="11.0" text-anchor="end" fill="#262626">20</text>
<text x="20.5" y="581.3" font-size="11.0" text-anchor="end" fill="#262626">10</text>
<text x="20.5" y="605.5" font-size="11.0" text-anchor="end" fill="#262626">0</text>
<text x="20.5" y="629.7" font-size="11.0" text-anchor="end" fill="#262626">−10</text>
<text x="20.5" y="653.9" font-size="11.0" text-anchor="end" fill="#262626">−20</text>
<path d="M44.2 670.5v-3.5M44.2 532.5v3.5M88.0 670.5v-3.5M88.0 532.5v3.5M131.9 670.5v-3.5M131.9 532.5v3.5M175.7 670.5v-3.5M175.7 532.5v3.5M219.5 670.5v-3.5M219.5 532.5v3.5M263.3 670.5v-3.5M263.3 532.5v3.5M307.1 670.5v-3.5M307.1 532.5v3.5M351.0 670.5v-3.5M351.0 532.5v3.5M394.8 670.5v-3.5M394.8 532.5v3.5M22.5 553.1h3.5M416.5 553.1h-3.5M22.5 577.3h3.5M416.5 577.3h-3.5M22.5 601.5h3.5M416.5 601.5h-3.5M22.5 625.7h3.5M416.5 625.7h-3.5M22.5 649.9h3.5M416.5 649.9h-3.5" stroke="#262626" stroke-opacity="0.4" stroke-width="0.8"/>
<rect x="462.5" y="532.5" width="147.0" height="138.0" fill="none" stroke="#262626" stroke-opacity="0.6" stroke-width="1"/>
<text x="484.9" y="682.5" font-size="11.0" text-anchor="middle" fill="#262626">−20</text>
<text x="536.1" y="682.5" font-size="11.0" text-anchor="middle" fill="#262626">0</text>
<text x="583.9" y="682.5" font-size="11.0" text-anchor="middle" fill="#262626">20</text>
<text x="460.5" y="567.8" font-size="11.0" text-anchor="end" fill="#262626">20</text>
<text x="460.5" y="605.5" font-size="11.0" text-anchor="end" fill="#262626">0</text>
<text x="460.5" y="643.2" font-size="11.0" text-anchor="end" fill="#262626">−20</text>
<path d="M488.3 670.5v-3.5M488.3 532.5v3.5M536.1 670.5v-3.5M536.1 532.5v3.5M583.9 670.5v-3.5M583.9 532.5v3.5M462.5 563.8h3.5M609.5 563.8h-3.5M462.5 601.5h3.5M609.5 601.5h-3.5M462.5 639.2h3.5M609.5 639.2h-3.5" stroke="#262626" stroke-opacity="0.4" stroke-width="0.8"/>
<rect x="38.8" y="542.0" width="98.9" height="21.9" rx="9" fill="#fff"/>
<text x="42.6" y="557.8" font-size="16.0" text-anchor="start" fill="#1a1a1a" textLength="84.1" lengthAdjust="spacingAndGlyphs">(g) Mode 3</text>
<rect x="482.2" y="540.0" width="98.8" height="22.2" rx="9" fill="#fff"/>
<text x="488.8" y="556.6" font-size="16.0" text-anchor="start" fill="#1a1a1a" textLength="84.8" lengthAdjust="spacingAndGlyphs">(h) Mode 3</text>
<circle cx="425.60" cy="544.90" r="6.85" fill="#e60000"/>
<path d="M421.20 544.90h8.8M425.60 540.50v8.8" stroke="#fff" stroke-width="1.9"/>
<circle cx="425.60" cy="567.40" r="6.85" fill="#0000b4"/>
<path d="M420.90 567.40h9.4" stroke="#fff" stroke-width="2.0"/>
<circle cx="425.60" cy="589.90" r="6.85" fill="#0000b4"/>
<path d="M420.90 589.90h9.4" stroke="#fff" stroke-width="2.0"/>
<circle cx="425.60" cy="612.40" r="6.85" fill="#e60000"/>
<path d="M421.20 612.40h8.8M425.60 608.00v8.8" stroke="#fff" stroke-width="1.9"/>
<circle cx="425.60" cy="634.90" r="6.85" fill="#e60000"/>
<path d="M421.20 634.90h8.8M425.60 630.50v8.8" stroke="#fff" stroke-width="1.9"/>
<circle cx="425.60" cy="657.40" r="6.85" fill="#0000b4"/>
<path d="M420.90 657.40h9.4" stroke="#fff" stroke-width="2.0"/>
<circle cx="618.90" cy="544.60" r="6.85" fill="#e60000"/>
<path d="M614.50 544.60h8.8M618.90 540.20v8.8" stroke="#fff" stroke-width="1.9"/>
<circle cx="618.90" cy="567.10" r="6.85" fill="#0000b4"/>
<path d="M614.20 567.10h9.4" stroke="#fff" stroke-width="2.0"/>
<circle cx="618.90" cy="589.60" r="6.85" fill="#0000b4"/>
<path d="M614.20 589.60h9.4" stroke="#fff" stroke-width="2.0"/>
<circle cx="618.90" cy="612.10" r="6.85" fill="#e60000"/>
<path d="M614.50 612.10h8.8M618.90 607.70v8.8" stroke="#fff" stroke-width="1.9"/>
<circle cx="618.90" cy="634.60" r="6.85" fill="#e60000"/>
<path d="M614.50 634.60h8.8M618.90 630.20v8.8" stroke="#fff" stroke-width="1.9"/>
<circle cx="618.90" cy="657.10" r="6.85" fill="#0000b4"/>
<path d="M614.20 657.10h9.4" stroke="#fff" stroke-width="2.0"/>
<rect x="20.5" y="701.5" width="394.0" height="138.0" fill="none" stroke="#262626" stroke-opacity="0.6" stroke-width="1"/>
<text x="39.0" y="851.5" font-size="11.0" text-anchor="middle" fill="#262626">−200</text>
<text x="82.8" y="851.5" font-size="11.0" text-anchor="middle" fill="#262626">−150</text>
<text x="126.7" y="851.5" font-size="11.0" text-anchor="middle" fill="#262626">−100</text>
<text x="170.5" y="851.5" font-size="11.0" text-anchor="middle" fill="#262626">−50</text>
<text x="217.7" y="851.5" font-size="11.0" text-anchor="middle" fill="#262626">0</text>
<text x="261.5" y="851.5" font-size="11.0" text-anchor="middle" fill="#262626">50</text>
<text x="305.3" y="851.5" font-size="11.0" text-anchor="middle" fill="#262626">100</text>
<text x="349.2" y="851.5" font-size="11.0" text-anchor="middle" fill="#262626">150</text>
<text x="393.0" y="851.5" font-size="11.0" text-anchor="middle" fill="#262626">200</text>
<text x="18.5" y="726.1" font-size="11.0" text-anchor="end" fill="#262626">20</text>
<text x="18.5" y="750.3" font-size="11.0" text-anchor="end" fill="#262626">10</text>
<text x="18.5" y="774.5" font-size="11.0" text-anchor="end" fill="#262626">0</text>
<text x="18.5" y="798.7" font-size="11.0" text-anchor="end" fill="#262626">−10</text>
<text x="18.5" y="822.9" font-size="11.0" text-anchor="end" fill="#262626">−20</text>
<path d="M42.4 839.5v-3.5M42.4 701.5v3.5M86.2 839.5v-3.5M86.2 701.5v3.5M130.1 839.5v-3.5M130.1 701.5v3.5M173.9 839.5v-3.5M173.9 701.5v3.5M217.7 839.5v-3.5M217.7 701.5v3.5M261.5 839.5v-3.5M261.5 701.5v3.5M305.3 839.5v-3.5M305.3 701.5v3.5M349.2 839.5v-3.5M349.2 701.5v3.5M393.0 839.5v-3.5M393.0 701.5v3.5M20.5 722.1h3.5M414.5 722.1h-3.5M20.5 746.3h3.5M414.5 746.3h-3.5M20.5 770.5h3.5M414.5 770.5h-3.5M20.5 794.7h3.5M414.5 794.7h-3.5M20.5 818.9h3.5M414.5 818.9h-3.5" stroke="#262626" stroke-opacity="0.4" stroke-width="0.8"/>
<rect x="462.5" y="701.5" width="147.0" height="138.0" fill="none" stroke="#262626" stroke-opacity="0.6" stroke-width="1"/>
<text x="484.9" y="851.5" font-size="11.0" text-anchor="middle" fill="#262626">−20</text>
<text x="536.1" y="851.5" font-size="11.0" text-anchor="middle" fill="#262626">0</text>
<text x="583.9" y="851.5" font-size="11.0" text-anchor="middle" fill="#262626">20</text>
<text x="460.5" y="736.8" font-size="11.0" text-anchor="end" fill="#262626">20</text>
<text x="460.5" y="774.5" font-size="11.0" text-anchor="end" fill="#262626">0</text>
<text x="460.5" y="812.2" font-size="11.0" text-anchor="end" fill="#262626">−20</text>
<path d="M488.3 839.5v-3.5M488.3 701.5v3.5M536.1 839.5v-3.5M536.1 701.5v3.5M583.9 839.5v-3.5M583.9 701.5v3.5M462.5 732.8h3.5M609.5 732.8h-3.5M462.5 770.5h3.5M609.5 770.5h-3.5M462.5 808.2h3.5M609.5 808.2h-3.5" stroke="#262626" stroke-opacity="0.4" stroke-width="0.8"/>
<rect x="39.4" y="711.2" width="99.1" height="21.9" rx="9" fill="#fff"/>
<text x="43.5" y="727.0" font-size="16.0" text-anchor="start" fill="#1a1a1a" textLength="77.7" lengthAdjust="spacingAndGlyphs">(i) Mode 4</text>
<rect x="481.9" y="710.6" width="98.8" height="22.1" rx="9" fill="#fff"/>
<text x="485.4" y="726.0" font-size="16.0" text-anchor="start" fill="#1a1a1a" textLength="78.9" lengthAdjust="spacingAndGlyphs">(j) Mode 4</text>
<circle cx="424.00" cy="713.75" r="6.85" fill="#0000b4"/>
<path d="M419.30 713.75h9.4" stroke="#fff" stroke-width="2.0"/>
<circle cx="424.00" cy="736.25" r="6.85" fill="#e60000"/>
<path d="M419.60 736.25h8.8M424.00 731.85v8.8" stroke="#fff" stroke-width="1.9"/>
<circle cx="424.00" cy="758.75" r="6.85" fill="#0000b4"/>
<path d="M419.30 758.75h9.4" stroke="#fff" stroke-width="2.0"/>
<circle cx="424.00" cy="781.25" r="6.85" fill="#0000b4"/>
<path d="M419.30 781.25h9.4" stroke="#fff" stroke-width="2.0"/>
<circle cx="424.00" cy="803.75" r="6.85" fill="#e60000"/>
<path d="M419.60 803.75h8.8M424.00 799.35v8.8" stroke="#fff" stroke-width="1.9"/>
<circle cx="424.00" cy="826.25" r="6.85" fill="#0000b4"/>
<path d="M419.30 826.25h9.4" stroke="#fff" stroke-width="2.0"/>
<circle cx="619.10" cy="713.90" r="6.85" fill="#0000b4"/>
<path d="M614.40 713.90h9.4" stroke="#fff" stroke-width="2.0"/>
<circle cx="619.10" cy="736.40" r="6.85" fill="#e60000"/>
<path d="M614.70 736.40h8.8M619.10 732.00v8.8" stroke="#fff" stroke-width="1.9"/>
<circle cx="619.10" cy="758.90" r="6.85" fill="#0000b4"/>
<path d="M614.40 758.90h9.4" stroke="#fff" stroke-width="2.0"/>
<circle cx="619.10" cy="781.40" r="6.85" fill="#0000b4"/>
<path d="M614.40 781.40h9.4" stroke="#fff" stroke-width="2.0"/>
<circle cx="619.10" cy="803.90" r="6.85" fill="#e60000"/>
<path d="M614.70 803.90h8.8M619.10 799.50v8.8" stroke="#fff" stroke-width="1.9"/>
<circle cx="619.10" cy="826.40" r="6.85" fill="#0000b4"/>
<path d="M614.40 826.40h9.4" stroke="#fff" stroke-width="2.0"/>
<rect x="22.5" y="870.5" width="394.0" height="138.0" fill="none" stroke="#262626" stroke-opacity="0.6" stroke-width="1"/>
<text x="40.8" y="1020.5" font-size="11.0" text-anchor="middle" fill="#262626">−200</text>
<text x="84.6" y="1020.5" font-size="11.0" text-anchor="middle" fill="#262626">−150</text>
<text x="128.5" y="1020.5" font-size="11.0" text-anchor="middle" fill="#262626">−100</text>
<text x="172.3" y="1020.5" font-size="11.0" text-anchor="middle" fill="#262626">−50</text>
<text x="219.5" y="1020.5" font-size="11.0" text-anchor="middle" fill="#262626">0</text>
<text x="263.3" y="1020.5" font-size="11.0" text-anchor="middle" fill="#262626">50</text>
<text x="307.1" y="1020.5" font-size="11.0" text-anchor="middle" fill="#262626">100</text>
<text x="351.0" y="1020.5" font-size="11.0" text-anchor="middle" fill="#262626">150</text>
<text x="394.8" y="1020.5" font-size="11.0" text-anchor="middle" fill="#262626">200</text>
<text x="20.5" y="895.1" font-size="11.0" text-anchor="end" fill="#262626">20</text>
<text x="20.5" y="919.3" font-size="11.0" text-anchor="end" fill="#262626">10</text>
<text x="20.5" y="943.5" font-size="11.0" text-anchor="end" fill="#262626">0</text>
<text x="20.5" y="967.7" font-size="11.0" text-anchor="end" fill="#262626">−10</text>
<text x="20.5" y="991.9" font-size="11.0" text-anchor="end" fill="#262626">−20</text>
<path d="M44.2 1008.5v-3.5M44.2 870.5v3.5M88.0 1008.5v-3.5M88.0 870.5v3.5M131.9 1008.5v-3.5M131.9 870.5v3.5M175.7 1008.5v-3.5M175.7 870.5v3.5M219.5 1008.5v-3.5M219.5 870.5v3.5M263.3 1008.5v-3.5M263.3 870.5v3.5M307.1 1008.5v-3.5M307.1 870.5v3.5M351.0 1008.5v-3.5M351.0 870.5v3.5M394.8 1008.5v-3.5M394.8 870.5v3.5M22.5 891.1h3.5M416.5 891.1h-3.5M22.5 915.3h3.5M416.5 915.3h-3.5M22.5 939.5h3.5M416.5 939.5h-3.5M22.5 963.7h3.5M416.5 963.7h-3.5M22.5 987.9h3.5M416.5 987.9h-3.5" stroke="#262626" stroke-opacity="0.4" stroke-width="0.8"/>
<rect x="462.5" y="870.5" width="147.0" height="138.0" fill="none" stroke="#262626" stroke-opacity="0.6" stroke-width="1"/>
<text x="484.9" y="1020.5" font-size="11.0" text-anchor="middle" fill="#262626">−20</text>
<text x="536.1" y="1020.5" font-size="11.0" text-anchor="middle" fill="#262626">0</text>
<text x="583.9" y="1020.5" font-size="11.0" text-anchor="middle" fill="#262626">20</text>
<text x="460.5" y="905.8" font-size="11.0" text-anchor="end" fill="#262626">20</text>
<text x="460.5" y="943.5" font-size="11.0" text-anchor="end" fill="#262626">0</text>
<text x="460.5" y="981.2" font-size="11.0" text-anchor="end" fill="#262626">−20</text>
<path d="M488.3 1008.5v-3.5M488.3 870.5v3.5M536.1 1008.5v-3.5M536.1 870.5v3.5M583.9 1008.5v-3.5M583.9 870.5v3.5M462.5 901.8h3.5M609.5 901.8h-3.5M462.5 939.5h3.5M609.5 939.5h-3.5M462.5 977.2h3.5M609.5 977.2h-3.5" stroke="#262626" stroke-opacity="0.4" stroke-width="0.8"/>
<rect x="38.8" y="881.1" width="98.4" height="21.9" rx="9" fill="#fff"/>
<text x="42.6" y="896.5" font-size="16.0" text-anchor="start" fill="#1a1a1a" textLength="82.9" lengthAdjust="spacingAndGlyphs">(k) Mode 5</text>
<rect x="481.4" y="880.3" width="98.6" height="21.9" rx="9" fill="#fff"/>
<text x="485.4" y="895.7" font-size="16.0" text-anchor="start" fill="#1a1a1a" textLength="77.5" lengthAdjust="spacingAndGlyphs">(l) Mode 5</text>
<circle cx="426.00" cy="883.70" r="6.85" fill="#e60000"/>
<path d="M421.60 883.70h8.8M426.00 879.30v8.8" stroke="#fff" stroke-width="1.9"/>
<circle cx="426.00" cy="906.20" r="6.85" fill="#0000b4"/>
<path d="M421.30 906.20h9.4" stroke="#fff" stroke-width="2.0"/>
<circle cx="426.00" cy="928.70" r="6.85" fill="#e60000"/>
<path d="M421.60 928.70h8.8M426.00 924.30v8.8" stroke="#fff" stroke-width="1.9"/>
<circle cx="426.00" cy="951.20" r="6.85" fill="#0000b4"/>
<path d="M421.30 951.20h9.4" stroke="#fff" stroke-width="2.0"/>
<circle cx="426.00" cy="973.70" r="6.85" fill="#e60000"/>
<path d="M421.60 973.70h8.8M426.00 969.30v8.8" stroke="#fff" stroke-width="1.9"/>
<circle cx="426.00" cy="996.20" r="6.85" fill="#0000b4"/>
<path d="M421.30 996.20h9.4" stroke="#fff" stroke-width="2.0"/>
<circle cx="618.70" cy="884.10" r="6.85" fill="#e60000"/>
<path d="M614.30 884.10h8.8M618.70 879.70v8.8" stroke="#fff" stroke-width="1.9"/>
<circle cx="618.70" cy="906.60" r="6.85" fill="#0000b4"/>
<path d="M614.00 906.60h9.4" stroke="#fff" stroke-width="2.0"/>
<circle cx="618.70" cy="929.10" r="6.85" fill="#e60000"/>
<path d="M614.30 929.10h8.8M618.70 924.70v8.8" stroke="#fff" stroke-width="1.9"/>
<circle cx="618.70" cy="951.60" r="6.85" fill="#0000b4"/>
<path d="M614.00 951.60h9.4" stroke="#fff" stroke-width="2.0"/>
<circle cx="618.70" cy="974.10" r="6.85" fill="#e60000"/>
<path d="M614.30 974.10h8.8M618.70 969.70v8.8" stroke="#fff" stroke-width="1.9"/>
<circle cx="618.70" cy="996.60" r="6.85" fill="#0000b4"/>
<path d="M614.00 996.60h9.4" stroke="#fff" stroke-width="2.0"/>
<rect x="642.5" y="402.8" width="11.5" height="230" fill="none" stroke="#333" stroke-opacity="0.35" stroke-width="0.8"/>
<text x="662.6" y="407.2" font-size="16.5" text-anchor="start" fill="#1a1a1a">1</text>
<text x="660.6" y="465.8" font-size="16.5" text-anchor="start" fill="#1a1a1a">0.5</text>
<text x="661.8" y="525.0" font-size="16.5" text-anchor="start" fill="#1a1a1a">0</text>
<text x="655.5" y="582.2" font-size="16.5" text-anchor="start" fill="#1a1a1a">-0.5</text>
<text x="656.6" y="635.9" font-size="16.5" text-anchor="start" fill="#1a1a1a">-1</text>
</svg>
</body></html>
